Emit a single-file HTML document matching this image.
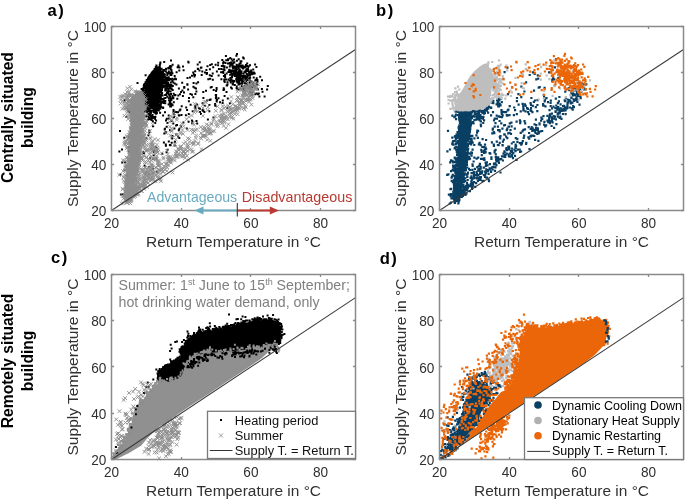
<!DOCTYPE html>
<html><head><meta charset="utf-8"><style>html,body{margin:0;padding:0;background:#fff;width:685px;height:499px;overflow:hidden}svg{display:block;filter:blur(0.3px)}</style></head>
<body>
<svg width="685" height="499" viewBox="0 0 685 499" font-family='"Liberation Sans", sans-serif'>
<rect width="685" height="499" fill="#fff"/>
<path d="M158.0 68.0L162.0 76.0L162.5 85.0L160.0 96.0L158.0 106.0L154.0 110.0L150.0 104.0L147.0 94.0L145.0 86.0L147.0 78.0L152.0 71.0Z" fill="#000" />
<path d="M225.7 85.5h2M191.0 75.8h2M206.0 72.9h2M172.4 97.8h2M205.7 74.0h2M205.0 90.7h2M235.8 66.4h2M201.3 71.6h2M217.6 75.5h2M176.6 67.2h2M180.7 106.2h2M224.3 79.4h2M229.4 77.9h2M177.1 112.2h2M166.2 73.1h2M174.4 79.1h2M204.0 72.4h2M187.6 62.5h2M217.1 65.2h2M190.9 120.4h2M167.7 115.6h2M187.8 114.1h2M178.3 128.7h2M169.1 73.2h2M236.5 79.2h2M175.4 84.5h2M203.8 105.8h2M200.7 75.0h2M170.3 104.5h2M165.1 88.4h2M193.0 74.4h2M214.7 105.7h2M181.9 96.0h2M215.6 87.9h2M168.1 100.4h2M177.8 115.2h2M178.3 70.4h2M230.9 88.4h2M185.2 107.5h2M223.7 81.9h2M195.4 91.5h2M202.3 110.8h2M210.8 64.3h2M191.2 123.2h2M165.7 126.7h2M215.1 95.0h2M197.1 82.3h2M219.0 102.2h2M208.8 75.3h2M193.2 74.7h2M168.7 85.7h2M222.6 61.7h2M177.4 65.5h2M225.1 79.4h2M171.6 105.3h2M223.1 89.4h2M187.3 61.8h2M170.6 71.7h2M178.7 110.4h2M170.0 106.5h2M194.2 106.2h2M222.1 71.9h2M203.4 112.1h2M222.4 73.1h2M198.7 62.2h2M172.5 110.0h2M167.3 68.1h2M235.4 66.9h2M186.5 77.9h2M170.3 103.9h2M167.5 78.2h2M179.9 126.6h2M175.3 112.1h2M175.1 125.4h2M227.5 59.3h2M177.8 130.2h2M172.3 82.4h2M180.1 92.1h2M191.0 94.8h2M215.1 96.8h2M171.4 80.9h2M186.1 110.1h2M176.0 125.0h2M164.8 144.5h2M178.3 115.6h2M165.1 94.6h2M179.4 109.6h2M182.0 66.5h2M223.3 81.1h2M222.7 88.2h2M172.8 114.1h2M186.3 84.3h2M179.0 94.2h2M214.8 94.9h2M232.7 72.6h2M183.2 87.0h2M194.4 94.1h2M170.0 93.9h2M180.5 115.1h2M220.1 72.3h2M192.4 86.7h2M210.7 87.1h2M166.0 80.6h2M208.6 100.1h2M189.4 94.1h2M173.4 128.6h2M191.4 121.5h2M223.5 70.2h2M220.4 79.2h2M237.2 78.7h2M201.6 103.2h2M230.0 87.4h2M170.4 75.1h2M166.5 123.1h2M222.3 69.5h2M167.9 118.6h2M172.2 98.3h2M211.8 79.7h2M170.6 121.0h2M214.1 104.0h2M173.7 76.1h2M233.4 62.3h2M223.3 79.5h2M191.7 111.3h2M164.9 145.8h2M214.1 105.5h2M200.4 67.6h2M164.7 132.2h2M189.0 77.5h2M177.9 88.5h2M168.4 73.0h2M198.9 108.8h2M205.4 70.1h2M164.9 71.5h2M231.4 70.5h2M182.4 122.6h2M202.3 91.9h2M193.5 76.6h2M170.7 142.8h2M211.7 73.6h2M224.0 75.0h2M223.6 95.9h2M197.1 69.1h2M182.6 70.2h2M195.4 83.6h2M183.0 92.4h2M186.5 84.8h2M209.6 99.5h2M199.9 67.7h2M199.1 112.1h2M189.6 104.7h2M168.9 145.0h2M224.1 77.2h2M173.0 117.1h2M225.9 67.4h2M232.2 82.1h2M226.0 85.5h2M227.0 59.2h2M209.2 78.7h2M212.2 67.2h2M196.7 64.4h2M192.2 72.4h2M187.9 101.2h2M194.2 71.3h2M215.1 90.9h2M225.5 91.9h2M209.2 65.0h2M178.4 67.6h2M193.6 87.8h2M181.2 82.7h2M164.9 69.2h2M177.3 95.5h2M164.0 112.2h2M195.0 88.5h2M192.6 83.1h2M194.0 75.0h2M163.9 128.7h2M198.1 108.2h2M202.4 98.0h2M175.6 72.2h2M165.1 87.3h2M194.4 108.3h2M183.1 87.7h2M169.1 130.0h2M206.5 66.2h2M183.4 87.5h2M222.5 89.9h2M215.6 89.2h2M170.8 137.0h2M195.5 121.1h2M181.4 90.5h2M235.2 66.9h2M164.9 90.4h2M214.9 98.3h2M173.9 111.8h2M210.7 76.0h2M165.0 120.4h2M178.3 138.1h2M187.1 89.4h2M207.3 79.3h2M198.5 70.5h2M209.7 87.6h2M170.5 70.3h2M172.3 123.4h2M188.0 98.0h2M212.7 90.1h2M192.3 97.2h2M196.8 68.8h2M238.0 83.3h2M201.5 110.1h2M173.7 145.5h2M206.9 119.6h2M208.4 105.0h2M152.7 151.1h2M167.8 141.6h2M187.6 121.7h2M171.5 136.0h2M196.2 123.4h2M165.6 152.3h2M212.4 117.6h2M175.3 134.4h2M226.4 108.2h2M206.1 100.5h2M177.2 136.6h2M202.2 111.0h2M200.0 114.1h2M215.7 100.7h2M171.2 138.5h2M166.6 149.8h2M165.0 132.5h2M173.9 141.7h2M228.9 103.2h2M208.3 111.2h2M221.8 100.6h2M221.6 103.0h2M215.7 101.4h2M226.8 98.6h2M169.2 130.2h2M216.0 99.7h2M152.8 151.9h2M149.2 157.7h2M155.1 147.1h2M163.7 129.6h2M185.8 128.6h2M161.3 153.7h2M184.9 115.2h2M217.5 98.2h2M155.3 158.4h2M195.9 104.4h2M142.4 152.3h2M165.3 94.7h2M167.2 89.8h2M168.4 84.7h2M166.3 80.0h2M162.9 98.4h2M169.0 101.8h2M167.6 104.4h2M163.7 83.1h2M171.5 97.6h2M167.4 84.2h2M173.7 83.5h2M169.4 67.7h2M161.3 88.0h2M170.8 104.4h2M169.1 87.4h2M163.2 62.0h2M170.4 99.9h2M169.9 82.4h2M169.2 106.5h2M170.0 60.5h2M167.4 84.7h2M169.1 79.1h2M163.6 80.6h2M171.8 85.9h2M170.2 99.3h2M163.3 81.2h2M169.4 102.2h2M176.3 98.7h2M171.7 90.1h2M169.1 96.6h2M166.1 93.3h2M167.8 98.3h2M160.5 88.2h2M168.5 95.1h2M174.4 95.1h2M169.2 65.9h2M169.9 98.5h2M166.3 75.0h2M167.8 80.2h2M171.3 78.8h2M165.0 77.7h2M167.6 88.7h2M169.8 99.8h2M171.5 95.9h2M169.7 105.0h2M164.4 97.9h2M167.9 94.2h2M165.1 68.7h2M168.2 91.2h2M171.4 73.2h2M168.6 66.9h2M161.6 102.6h2M169.8 69.2h2M174.1 78.4h2M167.1 86.4h2M165.0 80.5h2M170.6 89.1h2M169.8 72.8h2M172.6 79.5h2M169.9 105.4h2M173.8 95.0h2M165.8 118.7h2M172.7 93.8h2M172.8 102.2h2M169.5 74.9h2M166.0 84.7h2M166.9 93.1h2M166.7 92.1h2M165.7 77.6h2M166.3 96.7h2M175.0 79.3h2M170.8 86.5h2M169.6 91.5h2M169.8 79.4h2M172.5 111.9h2M168.6 103.2h2M166.6 91.4h2M164.3 103.2h2M162.3 81.7h2M169.4 88.6h2M164.1 95.1h2M166.0 93.1h2M170.3 66.4h2M167.1 82.8h2M167.8 71.6h2M167.5 68.5h2M165.3 83.4h2M171.6 64.7h2M170.4 84.9h2M168.5 95.6h2M239.6 61.2h2M238.5 84.3h2M233.5 70.7h2M234.2 71.2h2M224.9 56.1h2M252.2 69.5h2M236.0 76.6h2M241.1 83.5h2M244.7 76.6h2M225.2 60.3h2M234.4 75.9h2M266.8 86.1h2M254.2 94.3h2M249.5 84.3h2M236.1 78.3h2M239.0 88.8h2M233.2 74.6h2M222.9 75.9h2M249.5 85.1h2M238.1 81.8h2M252.9 73.0h2M241.5 82.1h2M227.5 79.5h2M261.0 80.3h2M238.7 77.8h2M255.5 93.5h2M236.1 77.8h2M239.1 80.3h2M251.6 83.2h2M235.5 74.2h2M235.0 73.2h2M260.9 88.9h2M243.5 71.7h2M242.4 76.8h2M224.1 76.4h2M246.4 76.9h2M236.6 77.7h2M263.6 96.4h2M242.4 91.2h2M242.5 86.7h2M236.5 73.9h2M238.7 80.6h2M250.1 85.9h2M246.9 79.1h2M231.8 74.3h2M235.5 73.8h2M248.4 86.2h2M253.9 87.5h2M233.4 74.4h2M242.3 75.8h2M236.1 69.4h2M249.5 88.7h2M240.4 79.0h2M235.0 75.4h2M249.1 91.6h2M234.1 70.9h2M242.9 66.4h2M231.0 77.2h2M248.7 81.2h2M230.3 72.7h2M230.7 77.5h2M252.5 73.8h2M233.7 75.9h2M248.3 73.5h2M236.4 82.5h2M237.6 84.4h2M241.1 81.3h2M239.7 80.6h2M236.1 80.7h2M226.5 82.2h2M244.7 76.1h2M252.3 82.9h2M251.3 87.4h2M246.4 85.7h2M253.3 86.2h2M251.6 86.2h2M236.1 79.2h2M235.9 86.6h2M230.0 62.5h2M222.5 65.9h2M245.2 80.3h2M240.9 76.1h2M237.2 78.6h2M239.7 74.9h2M251.2 92.5h2M239.8 65.5h2M256.4 84.7h2M247.5 78.6h2M229.4 71.9h2M231.2 75.6h2M230.2 71.1h2M246.0 83.5h2M250.7 72.3h2M241.1 82.0h2M236.5 89.3h2M214.6 64.7h2M237.0 75.5h2M243.6 77.2h2M242.1 57.5h2M247.1 70.6h2M238.1 77.4h2M237.6 89.6h2M248.7 75.7h2M240.9 86.1h2M244.8 78.5h2M245.3 80.3h2M241.8 77.9h2M248.7 79.8h2M239.2 76.6h2M236.0 53.9h2M229.8 82.5h2M242.2 81.1h2M240.3 73.2h2M242.0 76.9h2M244.6 85.9h2M235.1 73.4h2M243.4 82.9h2M238.4 78.5h2M239.6 77.1h2M234.0 72.4h2M243.2 80.7h2M231.7 65.9h2M242.5 88.0h2M248.3 88.3h2M245.9 78.3h2M220.8 66.1h2M233.8 85.1h2M246.6 85.6h2M251.2 72.8h2M235.8 81.5h2M236.7 79.2h2M227.5 79.8h2M228.8 63.1h2M231.4 66.6h2M236.4 73.4h2M233.0 72.7h2M239.6 83.6h2M266.1 89.5h2M253.5 86.6h2M236.9 82.0h2M226.5 84.4h2M256.5 81.4h2M231.6 70.3h2M246.9 68.6h2M245.0 65.1h2M231.6 63.2h2M235.2 68.6h2M249.1 78.1h2M247.6 79.3h2M256.9 89.2h2M241.3 88.8h2M239.0 80.1h2M245.4 87.5h2M248.6 82.9h2M233.1 70.4h2M243.6 90.1h2M239.6 79.5h2M255.1 80.1h2M249.9 87.8h2M231.4 80.4h2M231.2 80.9h2M258.4 96.5h2M238.7 71.2h2M252.7 77.4h2M238.6 79.5h2M238.1 70.7h2M246.4 79.9h2M255.7 78.3h2M240.9 83.7h2M237.7 72.3h2M230.0 70.7h2M236.8 77.5h2M231.9 84.0h2M244.3 78.1h2M241.5 65.6h2M229.3 58.1h2M234.9 69.7h2M229.1 74.7h2M235.4 55.8h2M243.8 85.8h2M255.5 83.4h2M233.3 81.0h2M245.5 83.7h2M256.9 94.3h2M244.8 86.6h2M230.2 79.7h2M242.4 80.1h2M243.2 88.3h2M238.2 78.7h2M237.3 81.1h2M244.7 70.6h2M257.8 93.4h2M246.5 87.3h2M239.1 77.9h2M249.6 92.5h2M241.0 67.2h2M261.5 91.8h2M232.6 81.8h2M240.0 73.6h2M250.1 70.5h2M231.4 64.5h2M231.7 84.6h2M235.2 79.3h2M231.9 67.7h2M223.4 67.7h2M245.9 74.0h2M250.6 81.4h2M215.9 71.5h2M237.9 79.6h2M254.1 80.4h2M228.9 80.6h2M240.5 71.3h2M221.3 60.0h2M237.8 75.3h2M233.3 74.8h2M251.8 85.2h2M225.6 73.6h2M243.2 77.5h2M239.6 62.8h2M236.4 72.3h2M245.0 80.7h2M235.4 74.5h2M234.0 70.8h2M245.0 79.9h2M233.6 74.1h2M250.9 94.9h2M239.1 71.8h2M232.6 70.5h2M247.9 86.3h2M245.2 82.6h2M255.5 80.1h2M240.4 79.4h2M244.9 79.8h2M235.6 87.9h2M234.4 70.1h2M252.9 72.5h2M227.0 60.3h2M249.7 89.0h2M240.7 65.9h2M228.2 70.1h2M245.0 70.2h2M222.2 62.9h2M249.0 72.1h2M229.7 71.9h2M237.3 65.7h2M235.7 77.8h2M235.7 64.7h2M229.4 64.5h2M242.5 73.6h2M224.5 62.9h2M244.4 66.9h2M247.3 70.1h2M233.2 62.6h2M223.4 66.6h2M238.3 66.1h2M246.7 71.0h2M232.4 71.6h2M246.1 68.7h2M238.1 73.5h2M231.9 71.0h2M233.4 66.4h2M240.4 61.3h2M239.6 62.9h2M243.3 77.0h2M254.1 64.5h2M237.8 65.3h2M232.1 74.1h2M245.4 71.0h2M223.4 70.1h2M245.4 70.7h2M237.5 67.5h2M230.3 73.8h2M222.0 65.6h2M236.4 75.7h2M244.0 75.7h2M239.3 66.5h2M235.2 71.8h2M241.0 67.5h2M208.9 69.2h2M256.4 80.0h2M248.1 73.6h2M223.5 66.6h2M234.1 72.7h2M242.4 66.9h2M241.8 67.6h2M240.3 71.9h2M230.2 64.8h2M234.6 67.4h2M237.6 68.4h2M246.9 75.6h2M228.4 63.4h2M253.7 73.6h2M249.1 75.6h2M220.2 69.0h2M244.7 72.6h2M259.2 76.8h2M232.2 63.3h2M246.5 79.5h2M234.4 69.1h2M228.8 66.5h2M239.8 66.8h2M242.8 58.5h2M250.8 74.3h2M237.7 59.3h2M246.4 66.0h2M231.6 60.8h2M232.9 67.6h2M227.0 63.4h2M227.4 72.1h2M247.7 66.6h2M228.6 69.7h2M238.5 63.7h2M246.2 63.4h2M235.9 60.8h2M249.9 74.3h2M249.0 65.2h2M241.6 66.5h2M222.7 66.2h2M242.0 68.4h2M239.1 72.0h2M235.8 74.9h2M217.9 68.9h2M233.0 59.6h2M255.4 66.9h2M247.7 71.6h2M230.6 59.3h2M243.9 67.6h2M217.2 62.7h2M238.8 69.6h2M232.3 67.9h2M156.9 95.1h2M149.4 78.1h2M155.7 84.3h2M148.0 118.3h2M157.9 98.3h2M156.1 108.4h2M157.6 108.5h2M146.7 119.5h2M148.6 75.7h2M152.7 110.0h2M150.9 81.3h2M147.5 86.2h2M156.3 79.0h2M156.8 103.0h2M155.9 90.9h2M153.9 98.3h2M156.5 100.4h2M152.9 117.0h2M161.7 76.9h2M147.7 88.7h2M151.2 80.8h2M151.1 90.1h2M147.2 86.5h2M152.3 99.7h2M142.0 101.2h2M160.1 91.9h2M149.5 101.6h2M156.3 88.0h2M147.5 79.9h2M147.4 119.6h2M148.4 130.6h2M152.4 77.2h2M153.7 89.2h2M152.1 93.5h2M144.9 100.4h2M146.7 101.8h2M153.4 99.4h2M149.8 100.1h2M152.8 70.8h2M146.9 113.8h2M145.2 110.4h2M152.3 77.9h2M155.8 70.3h2M151.6 118.3h2M151.2 95.6h2M167.6 91.6h2M152.1 88.7h2M160.6 94.5h2M159.5 88.3h2M155.4 81.2h2M146.0 101.0h2M148.2 108.7h2M157.3 83.3h2M160.2 79.2h2M151.9 96.6h2M148.3 107.0h2M150.4 88.1h2M151.9 81.8h2M150.3 95.9h2M152.6 82.8h2M152.8 117.6h2M146.1 111.1h2M157.2 97.8h2M149.6 76.1h2M149.5 93.4h2M143.7 84.0h2M149.9 104.1h2M151.3 81.8h2M150.7 81.3h2M154.0 104.5h2M154.1 94.1h2M148.0 96.4h2M153.4 88.2h2M147.3 105.5h2M147.3 84.0h2M151.9 106.7h2M158.7 102.4h2M155.9 102.7h2M150.6 104.8h2M156.0 88.4h2M154.8 101.7h2M149.2 113.0h2M152.6 82.5h2M155.2 84.5h2M154.9 95.2h2M146.3 81.3h2M152.7 84.7h2M144.1 105.6h2M148.7 75.6h2M155.5 110.8h2M152.8 94.8h2M145.4 93.6h2M150.0 80.9h2M153.5 106.9h2M152.3 92.1h2M150.8 104.2h2M158.9 90.4h2M144.8 111.0h2M159.4 62.4h2M147.4 135.3h2M147.8 81.6h2M150.6 120.1h2M155.4 107.5h2M161.2 82.8h2M152.0 126.2h2M159.2 63.6h2M152.3 100.5h2M151.4 106.1h2M154.4 116.8h2M155.7 82.4h2M151.7 98.7h2M152.5 101.7h2M147.7 109.5h2M157.6 98.5h2M154.7 83.5h2M150.7 84.5h2M157.9 83.5h2M143.1 112.1h2M147.9 90.5h2M152.8 97.6h2M151.8 94.5h2M161.4 73.0h2M156.7 80.3h2M149.3 99.9h2M154.2 100.0h2M149.0 105.5h2M153.2 106.3h2M149.9 91.8h2M154.3 76.5h2M150.6 111.7h2M150.6 116.2h2M151.1 100.0h2M154.0 83.6h2M149.2 110.7h2M148.1 100.0h2M162.1 80.1h2M158.7 91.8h2M146.7 103.0h2M140.2 108.4h2M149.3 115.1h2M154.4 82.3h2M155.8 73.4h2M155.7 77.8h2M154.8 103.5h2M163.3 85.5h2M147.9 108.0h2M159.6 96.4h2M149.0 85.5h2M151.7 97.1h2M151.5 105.2h2M149.7 95.0h2M152.4 90.3h2M153.2 101.3h2M154.2 112.8h2M158.1 88.3h2M145.7 112.1h2M154.7 74.0h2M154.4 89.9h2M149.9 86.3h2M154.3 91.2h2M162.4 74.5h2M160.8 102.1h2M142.4 89.9h2M138.7 97.5h2M150.5 99.3h2M150.3 110.9h2M150.8 103.9h2M147.8 77.3h2M141.4 91.7h2M152.1 89.2h2M151.8 89.7h2M151.2 107.4h2M145.3 101.6h2M143.9 103.6h2M147.0 85.9h2M149.3 81.9h2M152.0 91.7h2M154.0 100.9h2M152.1 100.1h2M152.0 79.2h2M154.6 107.8h2M153.3 101.6h2M152.8 110.0h2M151.7 91.9h2M152.5 84.4h2M151.7 97.8h2M148.4 82.5h2M148.1 132.7h2M150.0 95.7h2M155.8 78.0h2M145.8 95.0h2M147.3 93.7h2M160.1 98.9h2M146.0 85.1h2M157.0 97.6h2M148.0 104.4h2M152.2 82.9h2M153.8 72.8h2M159.9 103.5h2M150.6 84.7h2M153.9 89.8h2M141.7 93.4h2M160.4 99.6h2M153.2 109.0h2M158.2 91.8h2M158.2 76.9h2M152.8 91.1h2M145.4 92.8h2M153.5 106.0h2M149.9 82.9h2M158.2 85.3h2M157.8 100.6h2M154.3 72.7h2M147.1 92.4h2M158.6 77.1h2M157.2 104.3h2M158.9 76.6h2M157.4 88.2h2M155.0 70.9h2M154.0 77.1h2M141.5 94.1h2M152.2 102.7h2M154.8 113.4h2M155.9 82.2h2M144.3 104.2h2M150.3 81.5h2M158.6 88.0h2M155.6 99.0h2M150.3 97.5h2M149.4 80.3h2M152.4 101.8h2M149.1 76.0h2M152.3 88.1h2M154.3 83.1h2M162.2 107.6h2M159.1 112.7h2M152.4 100.3h2M160.2 82.4h2M153.9 91.2h2M151.7 79.7h2M150.3 104.8h2M155.6 79.0h2M164.0 80.8h2M151.0 87.9h2M155.3 103.8h2M152.5 91.5h2M158.8 83.3h2M156.2 106.4h2M156.4 88.6h2M147.3 83.5h2M149.8 84.7h2M150.0 89.3h2M146.3 82.3h2M159.7 104.5h2M149.1 93.0h2M152.3 97.0h2M159.6 73.9h2M138.5 109.4h2M152.5 93.0h2M158.3 74.0h2M153.2 102.1h2M157.0 100.2h2M146.3 87.8h2M159.7 72.4h2M148.6 102.5h2M154.7 105.8h2M145.6 103.8h2M149.8 102.9h2M151.5 86.1h2M151.3 107.9h2M151.8 86.4h2M147.3 98.8h2M150.7 94.5h2M151.5 74.0h2M151.0 107.4h2M158.1 74.3h2M156.6 93.1h2M151.6 116.8h2M152.1 72.1h2M160.2 94.5h2M153.8 98.4h2M145.7 95.1h2M149.7 116.7h2M154.7 103.4h2M148.3 100.9h2M159.2 108.7h2M153.3 95.0h2M160.7 95.2h2M156.2 84.3h2M152.9 101.5h2M145.8 98.5h2M149.6 112.2h2M160.6 85.1h2M161.1 85.0h2M151.5 93.7h2M151.9 121.5h2M159.5 100.5h2M150.7 102.1h2M143.2 100.3h2M157.6 93.0h2M149.6 82.4h2M142.9 108.2h2M149.8 91.3h2M148.0 99.7h2M151.4 97.5h2M158.1 76.0h2M160.0 89.5h2M141.7 91.1h2M157.7 83.2h2M152.4 103.2h2M157.1 83.7h2M149.3 97.1h2M152.6 91.3h2M155.0 86.7h2M152.3 101.8h2M146.1 98.7h2M154.0 77.7h2M152.2 88.8h2M148.9 80.5h2M162.1 108.0h2M148.9 83.4h2M152.4 106.7h2M158.4 76.9h2M155.5 97.9h2M154.8 89.4h2M151.4 75.7h2M156.0 94.8h2M151.8 101.6h2M151.3 82.4h2M154.0 92.6h2M147.5 98.5h2M149.0 87.8h2M158.8 65.1h2M163.5 75.2h2M147.8 101.0h2M155.1 86.9h2M161.0 79.2h2M152.3 92.9h2M149.5 90.2h2M153.1 103.5h2M144.7 102.7h2M154.6 79.7h2M148.7 101.6h2M147.3 89.3h2M147.4 104.0h2M153.1 107.3h2M147.2 82.1h2M149.8 93.8h2M149.4 99.8h2M153.9 118.6h2M156.4 88.9h2M149.2 105.5h2M147.6 98.7h2M160.3 107.2h2M157.8 79.7h2M146.6 103.1h2M148.3 88.6h2M153.0 82.5h2M144.7 108.9h2M152.7 83.8h2M148.2 104.7h2M154.9 109.6h2M150.1 83.5h2M150.3 98.8h2M153.1 107.4h2M144.4 84.6h2M156.9 73.1h2M149.9 87.3h2M142.0 100.5h2M156.2 72.0h2M161.0 77.0h2M149.4 119.1h2M159.1 89.8h2M145.7 80.1h2M158.6 67.3h2M142.5 96.0h2M147.2 96.4h2M146.0 91.9h2M155.7 93.9h2M153.5 89.4h2M162.8 74.5h2M142.2 96.3h2M157.1 85.4h2M153.9 83.7h2M149.7 96.4h2M144.5 123.4h2M150.6 83.3h2M158.8 106.6h2M167.1 78.1h2M159.8 99.6h2M150.6 99.6h2M148.4 92.1h2M155.3 89.2h2M150.0 97.4h2M152.9 77.7h2M142.1 93.1h2M148.5 83.5h2M157.9 79.8h2M159.2 82.0h2M153.2 76.8h2M156.1 103.3h2M159.8 78.1h2M156.3 89.8h2M154.9 86.4h2M153.8 92.4h2M152.5 100.6h2M155.2 77.6h2M156.6 83.9h2M153.9 100.5h2M153.3 112.2h2M158.7 86.7h2M147.2 86.2h2M156.1 80.2h2M147.2 91.3h2M153.0 96.3h2M156.0 80.2h2M152.8 95.2h2M157.3 94.5h2M154.1 79.4h2M151.8 90.6h2M154.0 103.6h2M147.5 81.3h2M157.0 86.8h2M150.0 96.0h2M151.1 99.9h2M157.1 76.8h2M153.4 87.6h2M145.3 93.9h2M152.0 107.2h2M158.7 97.2h2M148.1 80.7h2M157.9 96.6h2M149.5 98.6h2M158.4 91.4h2M152.5 77.9h2M155.2 87.5h2M144.9 93.0h2M153.1 98.3h2M146.5 92.5h2M158.6 79.7h2M151.7 103.1h2M154.6 85.7h2M149.8 101.9h2M147.6 79.6h2M154.2 103.3h2M158.4 78.5h2M160.5 74.0h2M148.9 90.0h2M148.6 105.6h2M156.3 86.7h2M154.3 82.7h2M152.2 96.2h2M144.2 105.4h2M145.8 100.1h2M155.4 98.0h2M151.8 91.6h2M148.5 114.3h2M157.9 105.7h2M150.9 85.0h2M153.8 109.0h2M149.0 86.9h2M156.1 77.6h2M157.0 87.5h2M143.2 99.2h2M147.5 111.4h2M155.7 74.3h2M155.1 120.4h2M156.4 83.8h2M173.8 95.2h2M159.0 81.6h2M155.4 91.1h2M149.6 103.5h2M153.3 98.9h2M157.4 81.0h2M147.7 98.5h2M152.2 73.3h2M150.3 95.2h2M149.7 101.2h2M153.7 107.2h2M159.0 88.1h2M154.7 94.5h2M166.0 79.7h2M147.7 101.1h2M149.7 110.6h2M158.8 83.5h2M152.5 90.2h2M157.7 80.3h2M156.4 95.3h2M153.1 83.6h2M156.4 76.1h2M156.6 86.6h2M155.7 107.1h2M153.5 82.0h2M143.3 104.5h2M153.1 97.0h2M153.2 91.4h2M152.5 94.5h2M144.9 96.9h2M152.3 98.4h2M149.2 91.5h2M148.5 85.9h2M149.3 114.7h2M150.3 107.8h2M161.2 99.1h2M153.6 109.0h2M155.9 92.0h2M152.3 87.5h2M159.6 84.0h2M152.5 88.5h2M146.5 102.7h2M150.0 112.8h2M149.9 88.2h2M158.5 79.1h2M151.3 103.5h2M150.8 76.2h2M145.3 98.9h2M155.3 95.7h2M157.4 103.4h2M153.2 72.7h2M150.4 83.5h2M147.5 90.9h2M156.0 110.4h2M154.3 99.8h2M154.7 67.2h2M157.9 104.9h2M150.2 119.5h2M162.1 115.4h2M150.9 101.3h2M155.6 82.4h2M153.7 101.2h2M158.7 86.3h2M146.2 92.7h2M156.2 102.7h2M152.5 91.1h2M154.0 118.7h2M148.7 92.0h2M149.7 83.6h2M162.7 102.9h2M148.3 103.1h2M145.1 108.8h2M148.8 100.3h2M139.1 100.8h2M154.0 89.7h2M159.1 85.5h2M154.2 101.0h2M154.5 80.9h2M144.1 93.1h2M148.4 83.2h2M154.9 95.0h2M154.1 98.8h2M152.0 77.0h2M146.3 93.5h2M153.3 98.6h2M153.2 106.4h2M152.5 96.3h2M161.0 90.1h2M156.8 75.3h2M156.0 97.4h2M158.1 91.3h2M152.6 84.3h2M160.3 82.0h2M152.2 95.6h2M149.0 103.5h2M151.2 104.2h2M149.1 93.9h2M159.0 81.2h2M159.4 87.6h2M152.7 96.4h2M149.3 107.0h2M160.3 75.9h2M160.7 82.8h2M148.1 90.5h2M152.7 93.4h2M155.5 75.3h2M151.6 98.2h2M157.5 94.5h2M150.3 116.5h2M156.9 98.5h2M145.2 95.5h2M152.8 108.0h2M151.3 104.6h2M151.5 115.0h2M151.7 91.7h2M143.0 93.9h2M158.2 107.5h2M150.6 73.6h2M152.7 88.9h2M143.5 103.7h2M152.1 71.9h2M149.9 83.4h2M154.4 86.4h2M159.9 73.9h2M146.0 93.1h2M152.6 89.5h2M155.2 111.4h2M150.1 104.3h2M155.4 73.4h2M156.5 96.8h2M151.8 105.5h2M148.2 99.1h2M155.0 78.2h2M150.9 85.6h2M149.2 104.8h2M149.3 83.7h2M154.5 80.4h2M151.7 102.6h2M142.9 94.8h2M153.2 83.3h2M162.9 87.0h2M150.1 80.1h2M158.8 79.0h2M151.6 89.5h2M143.8 87.5h2M141.0 105.1h2M148.0 100.9h2M155.4 79.6h2M153.0 108.6h2M154.1 95.4h2M149.4 80.9h2M155.2 101.1h2M161.6 95.5h2M154.1 88.0h2M149.5 99.1h2M150.4 79.5h2M144.5 82.3h2M147.7 84.2h2M153.0 83.0h2M149.8 101.7h2M151.2 90.0h2M150.4 90.9h2M156.7 93.8h2M156.7 93.7h2M152.1 93.0h2M155.2 106.1h2M145.1 93.0h2M146.2 106.9h2M149.4 105.6h2M155.7 97.2h2M143.6 90.7h2M160.5 83.8h2M150.2 104.3h2M155.4 65.6h2M157.2 87.7h2M146.7 109.4h2M143.4 90.8h2M149.7 94.5h2M146.8 101.5h2M152.7 80.1h2M155.3 91.0h2M149.4 96.9h2M155.2 113.7h2M164.3 77.3h2M151.3 90.6h2M155.7 94.6h2M156.9 89.2h2M157.3 88.5h2M160.0 98.5h2M153.3 75.6h2M146.1 85.2h2M153.5 102.3h2M150.2 95.8h2M149.4 80.4h2M155.9 113.0h2M155.9 98.5h2M153.0 112.3h2M152.8 96.3h2M155.5 81.4h2M154.4 72.3h2M156.4 84.0h2M155.9 77.9h2M155.1 83.1h2M156.5 103.9h2M156.6 87.0h2M147.2 85.6h2M157.4 101.1h2M154.5 81.7h2M156.8 93.3h2M146.0 100.0h2M152.8 95.6h2M158.2 82.4h2M144.0 100.5h2M157.6 102.6h2M156.1 81.6h2M142.0 107.3h2M154.7 107.1h2M146.8 91.8h2M149.8 79.0h2M151.6 83.5h2M154.2 78.5h2M151.7 99.3h2M160.1 77.0h2M165.8 85.6h2M145.5 86.6h2M153.4 93.6h2M156.5 103.6h2M158.1 88.1h2M155.7 88.1h2M152.0 75.0h2M154.4 100.3h2M152.9 77.0h2M152.3 77.8h2M157.0 77.6h2M145.6 80.5h2M158.2 78.3h2M159.4 91.9h2M157.7 81.4h2M155.4 81.5h2M145.2 100.2h2M161.7 80.0h2M158.8 80.0h2M167.4 73.5h2M153.8 100.7h2M148.7 104.3h2M159.6 69.7h2M151.7 88.6h2M145.6 103.6h2M154.8 87.0h2M160.0 75.9h2M156.3 75.0h2M160.3 92.2h2M138.4 104.0h2M145.9 82.4h2M152.5 89.4h2M157.8 110.6h2M156.9 96.8h2M144.2 84.0h2M152.2 103.1h2M156.6 81.5h2M153.1 85.1h2M152.6 77.9h2M157.7 89.0h2M148.7 98.9h2M152.7 109.0h2M153.8 101.3h2M143.2 90.7h2M152.4 99.1h2M160.1 83.5h2M150.7 95.4h2M150.5 99.2h2M155.8 97.3h2M145.3 104.5h2M156.4 90.5h2M151.9 100.6h2M153.9 110.2h2M150.1 88.7h2M147.7 97.2h2M144.3 93.1h2M159.3 73.2h2M144.6 91.2h2M164.3 90.5h2M143.6 88.1h2M154.7 103.9h2M147.0 93.4h2M148.9 102.6h2M156.6 79.2h2M157.6 92.6h2M155.8 77.9h2M150.7 96.8h2M151.4 76.2h2M152.6 92.4h2M146.8 88.8h2M155.0 75.3h2M159.3 96.8h2M147.2 108.9h2M150.2 105.0h2M147.1 98.1h2M151.1 95.8h2M152.3 104.7h2M151.5 108.1h2M146.9 105.8h2M152.4 108.0h2M155.6 66.6h2M146.8 88.6h2M157.6 95.6h2M150.6 93.3h2M146.9 98.0h2M135.1 97.1h2M156.8 100.0h2M149.8 102.3h2M142.0 101.4h2M155.1 86.8h2M149.0 108.0h2M151.9 76.0h2M149.9 110.6h2M147.0 93.2h2M156.3 87.5h2M158.5 77.4h2M151.9 81.2h2M147.9 109.4h2M151.0 89.9h2M155.8 107.0h2M157.7 94.6h2M156.8 104.8h2M148.8 108.3h2M144.8 108.9h2M164.3 100.9h2M152.5 90.7h2M156.6 99.2h2M156.7 85.3h2M161.1 93.0h2M153.5 100.0h2M155.1 75.7h2M160.5 76.8h2M158.9 95.1h2M155.5 76.4h2M155.9 73.2h2M143.5 86.9h2M152.0 83.1h2M154.8 97.4h2M147.3 105.1h2M152.6 97.2h2M152.9 78.2h2M154.2 123.0h2M159.5 95.2h2M160.1 80.7h2M148.8 93.5h2M151.6 85.7h2M158.6 87.9h2M147.5 100.3h2M154.9 91.0h2M152.8 85.1h2M151.3 101.3h2M151.0 76.1h2M149.8 106.7h2M153.6 88.3h2M148.0 96.9h2M155.9 67.7h2M155.7 81.1h2M160.1 79.6h2M143.0 84.7h2M155.9 97.4h2M154.2 73.7h2M162.6 86.2h2M150.6 81.2h2M140.9 104.9h2M151.3 101.4h2M154.5 92.7h2M155.6 83.1h2M142.0 112.7h2M150.3 117.6h2M145.0 111.0h2M158.6 87.7h2M156.6 85.9h2M149.2 112.9h2M141.5 96.7h2M163.0 102.4h2M152.2 110.5h2M162.3 81.2h2M146.3 81.6h2M145.4 99.1h2M153.0 98.3h2M155.7 77.3h2M153.8 88.0h2M154.3 110.1h2M150.0 91.0h2M152.2 77.0h2M151.5 101.4h2M149.7 98.9h2M149.6 76.6h2M151.4 80.2h2M155.1 82.9h2M160.6 68.8h2M158.6 89.4h2M151.7 110.4h2M159.8 96.9h2M147.5 116.3h2M162.5 100.5h2M148.3 96.2h2M156.9 82.2h2M150.1 91.8h2M150.3 87.6h2M156.4 99.6h2M156.2 96.8h2M144.5 85.5h2M147.8 108.8h2M150.0 102.4h2M149.2 103.8h2M157.0 99.7h2M157.2 84.2h2M148.8 81.7h2M151.2 90.6h2M156.3 93.8h2M153.6 89.8h2M150.5 88.4h2M155.2 92.4h2M152.3 89.2h2M144.3 96.2h2M150.8 81.5h2M158.4 83.3h2M152.3 100.1h2M155.0 84.5h2M146.2 108.5h2M148.8 86.1h2M152.6 95.3h2M145.6 99.4h2M153.4 86.5h2M149.9 96.1h2M156.8 83.1h2M144.7 89.9h2M152.2 91.2h2M153.2 88.0h2M148.2 83.8h2M160.4 73.8h2M150.6 80.5h2M154.7 99.2h2M156.0 82.1h2M154.7 79.7h2M152.8 105.8h2M162.5 79.4h2M150.1 87.7h2M157.3 92.3h2M149.5 100.0h2M152.2 95.4h2M148.0 99.7h2M159.6 79.7h2M152.5 106.8h2M153.5 91.7h2M153.1 98.4h2M153.8 104.9h2M142.3 113.6h2M152.6 97.1h2M150.3 83.8h2M142.3 88.6h2M145.3 116.6h2M150.5 85.5h2M154.1 107.1h2M149.6 79.4h2M151.1 104.9h2M152.2 78.9h2M157.9 100.7h2M153.4 117.3h2M147.5 103.4h2M154.5 75.9h2M155.0 103.9h2M158.1 90.4h2M159.8 106.3h2M150.7 83.2h2M155.9 89.1h2M152.4 81.8h2M152.4 100.5h2M146.5 81.6h2M144.5 115.8h2M147.8 87.1h2M149.3 80.7h2M153.6 89.6h2M154.1 84.4h2M152.7 88.0h2M153.2 103.1h2M153.3 109.0h2M156.9 78.3h2M152.3 78.0h2M153.5 85.4h2M155.7 68.5h2M151.0 82.4h2M155.1 71.6h2M150.7 83.6h2M153.0 86.5h2M167.9 80.2h2M155.7 83.9h2M156.6 77.1h2M151.1 79.4h2M156.6 82.9h2M157.0 85.0h2M152.4 74.4h2M152.8 83.2h2M149.1 88.6h2M150.3 88.7h2M154.1 79.0h2M149.6 82.0h2M153.5 74.4h2M153.8 83.0h2M155.2 77.1h2M157.8 71.5h2M152.4 73.3h2M161.7 77.7h2M158.9 79.4h2M158.6 85.4h2M157.6 87.9h2M157.0 69.3h2M155.2 87.0h2M162.8 76.4h2M153.9 79.8h2M158.8 70.7h2M158.1 77.4h2M148.2 83.2h2M161.3 79.9h2M157.8 75.0h2M157.9 67.2h2M158.5 81.6h2M160.5 73.3h2M154.8 85.3h2M150.0 81.2h2M160.8 82.6h2M153.6 80.5h2M156.6 75.4h2M168.7 87.3h2M156.9 74.9h2M163.0 70.0h2M158.1 89.5h2M163.3 85.8h2M152.1 82.5h2M160.1 76.1h2M151.0 74.6h2M162.2 70.2h2M160.8 74.2h2M158.1 72.8h2M162.4 78.9h2M159.3 85.3h2M154.3 74.0h2M156.3 69.1h2M154.4 70.4h2M147.9 80.4h2M148.2 80.8h2M151.1 80.4h2M151.2 85.8h2M156.5 87.3h2M158.6 80.1h2M154.9 80.9h2M161.2 80.3h2M159.8 75.8h2M152.6 77.2h2M154.9 81.2h2M162.1 71.9h2M156.0 75.5h2M151.0 83.5h2M152.0 73.2h2M157.6 80.6h2M153.7 82.7h2M158.6 67.5h2M155.6 81.2h2M151.6 80.4h2M148.0 80.8h2M153.2 76.6h2M157.9 78.5h2M151.6 86.7h2M154.0 79.0h2M152.8 88.3h2M154.1 80.9h2M154.8 76.2h2M155.9 82.8h2M162.2 78.8h2M146.3 81.3h2M156.1 84.2h2M150.8 78.5h2M152.2 73.7h2M161.2 81.0h2M161.5 86.5h2M157.1 85.9h2M158.5 88.3h2M165.0 79.0h2M165.1 77.4h2M148.2 81.4h2M149.8 78.8h2M152.2 78.1h2M159.1 81.4h2M162.4 76.9h2M162.7 74.1h2M155.8 71.4h2M154.0 78.0h2M155.8 79.6h2M153.6 79.7h2M156.3 81.6h2M159.3 77.0h2M156.2 90.8h2M151.1 75.5h2M154.0 92.8h2M155.8 80.7h2M147.7 84.2h2M154.1 76.4h2M148.6 82.4h2M153.6 69.1h2M146.4 82.8h2M152.3 79.1h2M156.8 81.6h2M154.6 77.9h2M157.6 98.4h2M158.7 72.6h2M159.5 82.3h2M156.0 83.9h2M160.5 85.5h2M157.1 81.7h2M153.8 88.0h2M161.1 74.5h2M151.8 83.1h2M154.9 69.3h2M157.6 78.4h2M161.1 81.5h2M160.1 75.5h2M159.8 75.2h2M160.9 75.7h2M143.1 86.1h2M148.7 84.1h2M162.4 82.3h2M160.2 71.8h2M155.3 80.2h2M152.9 73.0h2M152.4 81.1h2M157.3 86.9h2M143.4 87.6h2M150.6 77.1h2M154.4 80.1h2M155.1 78.6h2M155.0 76.6h2M157.7 82.8h2M154.3 82.3h2M153.4 80.3h2M157.2 80.1h2M154.4 81.4h2M155.8 77.5h2M153.0 76.4h2M158.2 78.5h2M156.0 94.5h2M162.7 70.9h2M156.6 79.1h2M161.6 80.1h2M157.8 77.5h2M152.4 85.8h2M153.9 84.9h2M153.1 73.1h2M152.1 86.5h2M156.6 84.7h2M157.4 78.7h2M157.1 87.7h2M153.5 86.5h2M153.9 75.5h2M156.9 83.0h2M153.5 70.2h2M160.0 78.8h2M151.5 79.0h2M163.3 76.9h2M152.9 75.6h2M158.8 67.5h2M157.0 81.6h2M159.6 73.0h2M155.5 75.2h2M159.0 88.0h2M154.3 73.4h2M149.0 78.4h2M151.4 72.5h2M151.7 80.4h2M158.3 86.1h2M149.4 83.2h2M154.7 75.1h2M154.0 90.4h2M153.2 84.7h2M155.8 78.3h2M152.7 82.0h2M167.8 77.2h2M160.4 74.6h2M160.0 72.4h2M162.9 83.3h2M149.3 82.9h2M156.0 79.0h2M154.5 76.1h2M151.0 77.3h2M148.1 88.3h2M149.6 91.5h2M157.7 79.2h2M157.3 92.4h2M158.3 78.1h2M153.6 86.1h2M155.5 83.4h2M159.1 89.8h2M159.8 85.7h2M157.4 75.4h2M154.1 79.5h2M159.3 83.6h2M152.3 76.0h2M161.3 74.9h2M161.4 78.9h2M151.8 75.7h2M151.0 75.3h2M152.2 83.1h2M161.7 81.1h2M159.8 73.1h2M162.2 78.0h2M162.3 80.9h2M160.1 79.9h2M165.9 78.3h2M152.2 81.7h2M157.7 80.5h2M156.8 91.4h2M148.9 89.9h2M151.1 89.1h2M153.6 75.7h2M156.5 70.1h2M159.5 83.2h2M153.2 86.1h2M155.5 83.2h2M163.0 79.6h2M153.7 84.3h2M142.6 88.0h2M157.3 82.9h2M156.3 72.5h2M160.7 88.3h2M164.9 85.3h2M150.7 88.7h2M149.9 84.3h2M152.3 91.1h2M153.2 81.4h2M163.9 74.4h2M152.6 85.3h2M152.0 81.1h2M157.5 68.5h2M156.0 75.1h2M149.4 86.3h2M162.5 85.4h2M154.9 79.3h2M148.2 90.9h2M151.9 83.3h2M159.1 83.1h2M155.7 79.6h2M144.6 88.3h2M148.7 79.0h2M149.4 78.5h2M153.2 86.4h2M150.1 75.0h2M156.1 78.1h2M152.8 80.0h2M147.9 88.4h2M159.9 78.0h2M152.3 75.6h2M156.2 79.4h2M159.1 69.3h2M155.7 81.3h2M154.9 74.2h2M157.2 71.2h2M156.5 75.4h2M147.8 89.7h2M159.9 84.1h2M143.5 86.0h2M158.0 87.8h2M158.2 85.1h2M152.8 82.2h2M154.7 72.0h2M164.3 89.1h2M160.9 77.3h2M159.2 80.1h2M157.7 81.4h2M153.9 87.2h2M165.8 87.8h2M150.9 80.0h2M162.2 80.2h2M158.7 67.0h2M160.5 79.8h2M158.4 78.7h2M158.7 70.8h2M152.2 72.4h2M147.2 85.6h2M153.9 71.3h2M160.9 79.1h2M154.9 81.7h2M149.6 78.3h2M159.6 78.7h2M157.1 76.2h2M150.1 77.2h2M157.4 79.5h2M158.5 79.8h2M158.2 70.5h2M152.3 71.6h2M155.3 86.6h2M165.4 82.6h2M156.6 79.1h2M152.8 78.4h2M150.6 88.6h2M147.8 83.7h2M154.2 95.4h2M161.8 83.1h2M156.5 85.4h2M154.9 79.5h2M163.3 77.0h2M155.0 78.8h2M155.8 81.4h2M152.9 72.8h2M147.3 90.4h2M157.3 75.6h2M155.0 77.7h2M154.9 79.6h2M142.8 86.1h2M140.6 89.0h2M145.0 97.3h2M144.4 96.0h2M136.5 83.0h2M144.8 91.3h2M143.8 84.3h2M144.8 84.9h2M151.4 95.0h2M144.6 75.2h2M146.6 88.9h2M146.7 90.5h2M148.3 167.1h2M163.3 133.4h2M162.9 142.4h2M142.9 153.1h2M144.8 172.2h2M151.7 168.7h2M156.0 171.7h2M143.7 165.8h2M169.6 145.2h2M152.1 158.9h2M151.8 121.3h2M152.8 155.2h2M148.0 174.3h2M139.3 137.8h2M145.4 138.3h2M126.1 175.8h2M133.6 173.2h2M126.9 109.3h2M130.4 155.6h2M130.5 107.0h2M123.8 100.0h2M128.3 138.2h2M123.3 137.7h2M127.6 147.0h2M128.5 111.5h2M124.3 194.9h2M129.4 164.8h2M126.0 190.3h2M125.8 180.7h2M130.7 141.7h2M123.6 169.8h2M127.8 151.8h2M138.4 144.4h2M124.0 162.3h2M119.4 174.4h2M128.9 179.3h2M126.1 189.7h2M119.9 194.6h2M129.2 112.0h2M131.8 114.2h2M118.4 151.4h2M128.4 136.4h2M127.1 176.9h2M129.8 109.9h2M121.0 149.5h2M121.2 162.4h2M125.8 187.2h2M125.3 166.5h2M119.0 130.9h2M127.3 173.9h2M122.0 194.2h2M131.2 141.9h2M127.3 111.6h2M125.4 117.1h2M134.4 102.6h2" stroke="#000" stroke-width="2" fill="none"/>
<path d="M128.5 170.0L129.5 160.0L130.3 150.0L131.3 135.0L132.0 125.0L132.5 110.0L133.0 102.0L135.0 96.0L136.5 92.0L139.5 92.0L142.5 97.0L143.0 110.0L142.5 125.0L140.5 138.0L138.8 160.0L136.5 175.0Z" fill="#909090" />
<path d="M138.7 135.9l3.6 3.6m0 -3.6l-3.6 3.6M136.7 113.0l3.6 3.6m0 -3.6l-3.6 3.6M131.3 119.9l3.6 3.6m0 -3.6l-3.6 3.6M130.0 168.1l3.6 3.6m0 -3.6l-3.6 3.6M132.3 173.5l3.6 3.6m0 -3.6l-3.6 3.6M126.1 169.1l3.6 3.6m0 -3.6l-3.6 3.6M139.9 114.9l3.6 3.6m0 -3.6l-3.6 3.6M140.3 118.0l3.6 3.6m0 -3.6l-3.6 3.6M130.1 165.5l3.6 3.6m0 -3.6l-3.6 3.6M135.3 124.6l3.6 3.6m0 -3.6l-3.6 3.6M136.4 114.6l3.6 3.6m0 -3.6l-3.6 3.6M129.8 113.5l3.6 3.6m0 -3.6l-3.6 3.6M133.0 185.2l3.6 3.6m0 -3.6l-3.6 3.6M135.0 134.5l3.6 3.6m0 -3.6l-3.6 3.6M136.0 128.0l3.6 3.6m0 -3.6l-3.6 3.6M137.0 152.5l3.6 3.6m0 -3.6l-3.6 3.6M137.7 112.6l3.6 3.6m0 -3.6l-3.6 3.6M134.9 148.3l3.6 3.6m0 -3.6l-3.6 3.6M124.8 188.9l3.6 3.6m0 -3.6l-3.6 3.6M131.4 156.4l3.6 3.6m0 -3.6l-3.6 3.6M133.6 155.7l3.6 3.6m0 -3.6l-3.6 3.6M135.5 113.8l3.6 3.6m0 -3.6l-3.6 3.6M141.1 121.8l3.6 3.6m0 -3.6l-3.6 3.6M127.2 171.2l3.6 3.6m0 -3.6l-3.6 3.6M128.0 151.5l3.6 3.6m0 -3.6l-3.6 3.6M133.7 154.3l3.6 3.6m0 -3.6l-3.6 3.6M140.0 101.9l3.6 3.6m0 -3.6l-3.6 3.6M136.2 143.7l3.6 3.6m0 -3.6l-3.6 3.6M125.3 193.8l3.6 3.6m0 -3.6l-3.6 3.6M129.6 158.9l3.6 3.6m0 -3.6l-3.6 3.6M138.6 101.0l3.6 3.6m0 -3.6l-3.6 3.6M131.1 120.1l3.6 3.6m0 -3.6l-3.6 3.6M135.5 138.3l3.6 3.6m0 -3.6l-3.6 3.6M132.1 142.8l3.6 3.6m0 -3.6l-3.6 3.6M131.0 138.1l3.6 3.6m0 -3.6l-3.6 3.6M126.1 190.0l3.6 3.6m0 -3.6l-3.6 3.6M137.7 132.3l3.6 3.6m0 -3.6l-3.6 3.6M138.5 113.0l3.6 3.6m0 -3.6l-3.6 3.6M137.1 153.8l3.6 3.6m0 -3.6l-3.6 3.6M133.1 150.8l3.6 3.6m0 -3.6l-3.6 3.6M139.2 92.4l3.6 3.6m0 -3.6l-3.6 3.6M128.0 147.7l3.6 3.6m0 -3.6l-3.6 3.6M130.5 166.2l3.6 3.6m0 -3.6l-3.6 3.6M132.5 177.2l3.6 3.6m0 -3.6l-3.6 3.6M135.0 166.2l3.6 3.6m0 -3.6l-3.6 3.6M128.5 191.8l3.6 3.6m0 -3.6l-3.6 3.6M129.8 158.6l3.6 3.6m0 -3.6l-3.6 3.6M129.4 184.7l3.6 3.6m0 -3.6l-3.6 3.6M136.7 154.1l3.6 3.6m0 -3.6l-3.6 3.6M130.0 119.5l3.6 3.6m0 -3.6l-3.6 3.6M137.3 131.6l3.6 3.6m0 -3.6l-3.6 3.6M128.8 196.8l3.6 3.6m0 -3.6l-3.6 3.6M133.8 176.9l3.6 3.6m0 -3.6l-3.6 3.6M134.0 112.3l3.6 3.6m0 -3.6l-3.6 3.6M135.1 91.4l3.6 3.6m0 -3.6l-3.6 3.6M131.9 161.8l3.6 3.6m0 -3.6l-3.6 3.6M138.3 91.7l3.6 3.6m0 -3.6l-3.6 3.6M131.1 125.9l3.6 3.6m0 -3.6l-3.6 3.6M137.6 125.7l3.6 3.6m0 -3.6l-3.6 3.6M129.7 195.0l3.6 3.6m0 -3.6l-3.6 3.6M133.5 127.2l3.6 3.6m0 -3.6l-3.6 3.6M136.5 146.5l3.6 3.6m0 -3.6l-3.6 3.6M129.2 129.1l3.6 3.6m0 -3.6l-3.6 3.6M132.2 112.3l3.6 3.6m0 -3.6l-3.6 3.6M132.8 147.7l3.6 3.6m0 -3.6l-3.6 3.6M132.2 146.4l3.6 3.6m0 -3.6l-3.6 3.6M138.7 136.2l3.6 3.6m0 -3.6l-3.6 3.6M134.5 119.4l3.6 3.6m0 -3.6l-3.6 3.6M132.0 162.1l3.6 3.6m0 -3.6l-3.6 3.6M132.7 99.1l3.6 3.6m0 -3.6l-3.6 3.6M136.9 109.3l3.6 3.6m0 -3.6l-3.6 3.6M137.2 158.8l3.6 3.6m0 -3.6l-3.6 3.6M135.7 159.2l3.6 3.6m0 -3.6l-3.6 3.6M129.0 152.6l3.6 3.6m0 -3.6l-3.6 3.6M139.5 107.8l3.6 3.6m0 -3.6l-3.6 3.6M129.8 134.6l3.6 3.6m0 -3.6l-3.6 3.6M139.8 93.6l3.6 3.6m0 -3.6l-3.6 3.6M128.6 150.9l3.6 3.6m0 -3.6l-3.6 3.6M129.7 145.0l3.6 3.6m0 -3.6l-3.6 3.6M135.9 141.4l3.6 3.6m0 -3.6l-3.6 3.6M137.1 118.1l3.6 3.6m0 -3.6l-3.6 3.6M126.6 171.4l3.6 3.6m0 -3.6l-3.6 3.6M134.8 158.5l3.6 3.6m0 -3.6l-3.6 3.6M132.0 105.2l3.6 3.6m0 -3.6l-3.6 3.6M129.4 158.6l3.6 3.6m0 -3.6l-3.6 3.6M139.2 135.3l3.6 3.6m0 -3.6l-3.6 3.6M133.2 135.9l3.6 3.6m0 -3.6l-3.6 3.6M124.7 189.4l3.6 3.6m0 -3.6l-3.6 3.6M139.4 117.6l3.6 3.6m0 -3.6l-3.6 3.6M134.3 173.1l3.6 3.6m0 -3.6l-3.6 3.6M131.2 167.5l3.6 3.6m0 -3.6l-3.6 3.6M134.9 98.0l3.6 3.6m0 -3.6l-3.6 3.6M124.1 190.3l3.6 3.6m0 -3.6l-3.6 3.6M132.9 178.6l3.6 3.6m0 -3.6l-3.6 3.6M135.8 95.5l3.6 3.6m0 -3.6l-3.6 3.6M131.7 122.6l3.6 3.6m0 -3.6l-3.6 3.6M130.5 179.5l3.6 3.6m0 -3.6l-3.6 3.6M129.0 177.1l3.6 3.6m0 -3.6l-3.6 3.6M128.9 188.9l3.6 3.6m0 -3.6l-3.6 3.6M125.6 189.8l3.6 3.6m0 -3.6l-3.6 3.6M135.9 165.8l3.6 3.6m0 -3.6l-3.6 3.6M130.0 157.6l3.6 3.6m0 -3.6l-3.6 3.6M131.0 144.5l3.6 3.6m0 -3.6l-3.6 3.6M138.9 105.9l3.6 3.6m0 -3.6l-3.6 3.6M138.7 124.3l3.6 3.6m0 -3.6l-3.6 3.6M135.8 136.1l3.6 3.6m0 -3.6l-3.6 3.6M132.3 118.3l3.6 3.6m0 -3.6l-3.6 3.6M137.8 92.0l3.6 3.6m0 -3.6l-3.6 3.6M138.4 138.1l3.6 3.6m0 -3.6l-3.6 3.6M133.2 151.2l3.6 3.6m0 -3.6l-3.6 3.6M136.7 127.8l3.6 3.6m0 -3.6l-3.6 3.6M128.9 149.7l3.6 3.6m0 -3.6l-3.6 3.6M137.2 143.0l3.6 3.6m0 -3.6l-3.6 3.6M136.3 129.5l3.6 3.6m0 -3.6l-3.6 3.6M140.3 123.6l3.6 3.6m0 -3.6l-3.6 3.6M134.1 153.2l3.6 3.6m0 -3.6l-3.6 3.6M133.7 125.8l3.6 3.6m0 -3.6l-3.6 3.6M125.1 194.0l3.6 3.6m0 -3.6l-3.6 3.6M137.6 118.8l3.6 3.6m0 -3.6l-3.6 3.6M127.6 175.3l3.6 3.6m0 -3.6l-3.6 3.6M131.3 185.0l3.6 3.6m0 -3.6l-3.6 3.6M130.7 106.3l3.6 3.6m0 -3.6l-3.6 3.6M131.3 143.9l3.6 3.6m0 -3.6l-3.6 3.6M135.0 149.6l3.6 3.6m0 -3.6l-3.6 3.6M127.7 155.9l3.6 3.6m0 -3.6l-3.6 3.6M134.2 119.8l3.6 3.6m0 -3.6l-3.6 3.6M134.1 117.2l3.6 3.6m0 -3.6l-3.6 3.6M132.8 144.9l3.6 3.6m0 -3.6l-3.6 3.6M134.3 156.7l3.6 3.6m0 -3.6l-3.6 3.6M131.5 189.0l3.6 3.6m0 -3.6l-3.6 3.6M137.6 106.2l3.6 3.6m0 -3.6l-3.6 3.6M129.6 118.1l3.6 3.6m0 -3.6l-3.6 3.6M135.6 131.0l3.6 3.6m0 -3.6l-3.6 3.6M138.8 106.5l3.6 3.6m0 -3.6l-3.6 3.6M132.0 108.4l3.6 3.6m0 -3.6l-3.6 3.6M134.7 149.4l3.6 3.6m0 -3.6l-3.6 3.6M134.5 133.7l3.6 3.6m0 -3.6l-3.6 3.6M137.2 151.5l3.6 3.6m0 -3.6l-3.6 3.6M134.0 163.5l3.6 3.6m0 -3.6l-3.6 3.6M127.2 184.2l3.6 3.6m0 -3.6l-3.6 3.6M131.0 155.0l3.6 3.6m0 -3.6l-3.6 3.6M138.3 119.7l3.6 3.6m0 -3.6l-3.6 3.6M133.9 95.9l3.6 3.6m0 -3.6l-3.6 3.6M126.9 194.3l3.6 3.6m0 -3.6l-3.6 3.6M130.8 100.6l3.6 3.6m0 -3.6l-3.6 3.6M136.9 114.6l3.6 3.6m0 -3.6l-3.6 3.6M132.0 135.1l3.6 3.6m0 -3.6l-3.6 3.6M127.7 151.3l3.6 3.6m0 -3.6l-3.6 3.6M125.9 165.8l3.6 3.6m0 -3.6l-3.6 3.6M127.2 194.5l3.6 3.6m0 -3.6l-3.6 3.6M137.4 152.5l3.6 3.6m0 -3.6l-3.6 3.6M131.4 169.2l3.6 3.6m0 -3.6l-3.6 3.6M131.9 189.2l3.6 3.6m0 -3.6l-3.6 3.6M133.5 118.9l3.6 3.6m0 -3.6l-3.6 3.6M130.5 156.3l3.6 3.6m0 -3.6l-3.6 3.6M140.5 112.1l3.6 3.6m0 -3.6l-3.6 3.6M126.0 188.3l3.6 3.6m0 -3.6l-3.6 3.6M128.7 179.5l3.6 3.6m0 -3.6l-3.6 3.6M136.3 111.8l3.6 3.6m0 -3.6l-3.6 3.6M129.4 117.3l3.6 3.6m0 -3.6l-3.6 3.6M136.1 146.2l3.6 3.6m0 -3.6l-3.6 3.6M133.2 141.9l3.6 3.6m0 -3.6l-3.6 3.6M135.0 152.5l3.6 3.6m0 -3.6l-3.6 3.6M129.3 168.5l3.6 3.6m0 -3.6l-3.6 3.6M138.0 148.3l3.6 3.6m0 -3.6l-3.6 3.6M139.5 125.3l3.6 3.6m0 -3.6l-3.6 3.6M127.8 160.5l3.6 3.6m0 -3.6l-3.6 3.6M135.0 151.4l3.6 3.6m0 -3.6l-3.6 3.6M127.8 173.4l3.6 3.6m0 -3.6l-3.6 3.6M135.3 141.3l3.6 3.6m0 -3.6l-3.6 3.6M133.5 122.9l3.6 3.6m0 -3.6l-3.6 3.6M134.5 145.7l3.6 3.6m0 -3.6l-3.6 3.6M131.7 101.3l3.6 3.6m0 -3.6l-3.6 3.6M138.0 97.3l3.6 3.6m0 -3.6l-3.6 3.6M129.9 134.4l3.6 3.6m0 -3.6l-3.6 3.6M126.3 189.0l3.6 3.6m0 -3.6l-3.6 3.6M138.5 92.7l3.6 3.6m0 -3.6l-3.6 3.6M131.9 104.3l3.6 3.6m0 -3.6l-3.6 3.6M139.6 98.7l3.6 3.6m0 -3.6l-3.6 3.6M129.6 112.6l3.6 3.6m0 -3.6l-3.6 3.6M131.3 125.1l3.6 3.6m0 -3.6l-3.6 3.6M132.3 143.6l3.6 3.6m0 -3.6l-3.6 3.6M130.9 168.6l3.6 3.6m0 -3.6l-3.6 3.6M138.2 134.7l3.6 3.6m0 -3.6l-3.6 3.6M134.1 143.9l3.6 3.6m0 -3.6l-3.6 3.6M128.1 158.1l3.6 3.6m0 -3.6l-3.6 3.6M126.3 174.7l3.6 3.6m0 -3.6l-3.6 3.6M129.2 178.7l3.6 3.6m0 -3.6l-3.6 3.6M130.8 191.9l3.6 3.6m0 -3.6l-3.6 3.6M130.2 147.3l3.6 3.6m0 -3.6l-3.6 3.6M126.9 160.2l3.6 3.6m0 -3.6l-3.6 3.6M128.1 187.7l3.6 3.6m0 -3.6l-3.6 3.6M129.2 191.6l3.6 3.6m0 -3.6l-3.6 3.6M133.5 132.3l3.6 3.6m0 -3.6l-3.6 3.6M135.3 116.0l3.6 3.6m0 -3.6l-3.6 3.6M132.3 139.8l3.6 3.6m0 -3.6l-3.6 3.6M125.7 179.1l3.6 3.6m0 -3.6l-3.6 3.6M132.6 187.9l3.6 3.6m0 -3.6l-3.6 3.6M128.1 179.6l3.6 3.6m0 -3.6l-3.6 3.6M136.9 95.0l3.6 3.6m0 -3.6l-3.6 3.6M132.1 143.9l3.6 3.6m0 -3.6l-3.6 3.6M137.0 97.7l3.6 3.6m0 -3.6l-3.6 3.6M137.7 120.0l3.6 3.6m0 -3.6l-3.6 3.6M133.9 146.5l3.6 3.6m0 -3.6l-3.6 3.6M135.6 121.2l3.6 3.6m0 -3.6l-3.6 3.6M131.3 116.5l3.6 3.6m0 -3.6l-3.6 3.6M137.2 92.9l3.6 3.6m0 -3.6l-3.6 3.6M125.2 183.5l3.6 3.6m0 -3.6l-3.6 3.6M126.5 162.9l3.6 3.6m0 -3.6l-3.6 3.6M134.9 110.6l3.6 3.6m0 -3.6l-3.6 3.6M128.0 140.7l3.6 3.6m0 -3.6l-3.6 3.6M134.1 137.1l3.6 3.6m0 -3.6l-3.6 3.6M123.7 194.3l3.6 3.6m0 -3.6l-3.6 3.6M132.1 149.8l3.6 3.6m0 -3.6l-3.6 3.6M137.6 119.1l3.6 3.6m0 -3.6l-3.6 3.6M140.0 128.0l3.6 3.6m0 -3.6l-3.6 3.6M129.5 164.5l3.6 3.6m0 -3.6l-3.6 3.6M130.8 180.1l3.6 3.6m0 -3.6l-3.6 3.6M134.1 152.6l3.6 3.6m0 -3.6l-3.6 3.6M129.7 138.1l3.6 3.6m0 -3.6l-3.6 3.6M131.7 127.3l3.6 3.6m0 -3.6l-3.6 3.6M127.7 186.0l3.6 3.6m0 -3.6l-3.6 3.6M132.0 156.3l3.6 3.6m0 -3.6l-3.6 3.6M135.8 151.2l3.6 3.6m0 -3.6l-3.6 3.6M136.5 106.9l3.6 3.6m0 -3.6l-3.6 3.6M137.1 137.1l3.6 3.6m0 -3.6l-3.6 3.6M131.3 169.8l3.6 3.6m0 -3.6l-3.6 3.6M133.0 154.6l3.6 3.6m0 -3.6l-3.6 3.6M134.0 96.7l3.6 3.6m0 -3.6l-3.6 3.6M134.1 97.7l3.6 3.6m0 -3.6l-3.6 3.6M126.2 188.9l3.6 3.6m0 -3.6l-3.6 3.6M128.8 164.2l3.6 3.6m0 -3.6l-3.6 3.6M131.2 154.0l3.6 3.6m0 -3.6l-3.6 3.6M132.8 100.5l3.6 3.6m0 -3.6l-3.6 3.6M133.3 136.0l3.6 3.6m0 -3.6l-3.6 3.6M123.6 192.8l3.6 3.6m0 -3.6l-3.6 3.6M136.9 158.9l3.6 3.6m0 -3.6l-3.6 3.6M129.7 110.6l3.6 3.6m0 -3.6l-3.6 3.6M134.6 171.8l3.6 3.6m0 -3.6l-3.6 3.6M136.5 156.7l3.6 3.6m0 -3.6l-3.6 3.6M136.3 105.6l3.6 3.6m0 -3.6l-3.6 3.6M129.4 154.6l3.6 3.6m0 -3.6l-3.6 3.6M133.6 104.3l3.6 3.6m0 -3.6l-3.6 3.6M133.3 160.9l3.6 3.6m0 -3.6l-3.6 3.6M138.4 139.3l3.6 3.6m0 -3.6l-3.6 3.6M135.0 126.8l3.6 3.6m0 -3.6l-3.6 3.6M128.7 185.5l3.6 3.6m0 -3.6l-3.6 3.6M140.7 98.2l3.6 3.6m0 -3.6l-3.6 3.6M141.1 122.9l3.6 3.6m0 -3.6l-3.6 3.6M137.1 160.5l3.6 3.6m0 -3.6l-3.6 3.6M136.3 126.2l3.6 3.6m0 -3.6l-3.6 3.6M131.3 180.0l3.6 3.6m0 -3.6l-3.6 3.6M137.5 93.0l3.6 3.6m0 -3.6l-3.6 3.6M131.3 132.8l3.6 3.6m0 -3.6l-3.6 3.6M127.3 153.1l3.6 3.6m0 -3.6l-3.6 3.6M128.6 169.6l3.6 3.6m0 -3.6l-3.6 3.6M129.9 135.7l3.6 3.6m0 -3.6l-3.6 3.6M126.9 186.4l3.6 3.6m0 -3.6l-3.6 3.6M135.3 140.0l3.6 3.6m0 -3.6l-3.6 3.6M132.1 96.6l3.6 3.6m0 -3.6l-3.6 3.6M131.7 188.1l3.6 3.6m0 -3.6l-3.6 3.6M134.3 165.2l3.6 3.6m0 -3.6l-3.6 3.6M129.5 140.3l3.6 3.6m0 -3.6l-3.6 3.6M135.7 144.0l3.6 3.6m0 -3.6l-3.6 3.6M129.1 131.5l3.6 3.6m0 -3.6l-3.6 3.6M134.5 108.3l3.6 3.6m0 -3.6l-3.6 3.6M138.7 113.8l3.6 3.6m0 -3.6l-3.6 3.6M134.5 163.1l3.6 3.6m0 -3.6l-3.6 3.6M136.0 105.1l3.6 3.6m0 -3.6l-3.6 3.6M140.9 123.6l3.6 3.6m0 -3.6l-3.6 3.6M131.7 183.8l3.6 3.6m0 -3.6l-3.6 3.6M134.4 127.4l3.6 3.6m0 -3.6l-3.6 3.6M130.6 168.1l3.6 3.6m0 -3.6l-3.6 3.6M132.8 136.4l3.6 3.6m0 -3.6l-3.6 3.6M139.8 111.3l3.6 3.6m0 -3.6l-3.6 3.6M135.6 143.7l3.6 3.6m0 -3.6l-3.6 3.6M140.8 119.1l3.6 3.6m0 -3.6l-3.6 3.6M132.7 109.6l3.6 3.6m0 -3.6l-3.6 3.6M135.1 122.8l3.6 3.6m0 -3.6l-3.6 3.6M131.3 98.3l3.6 3.6m0 -3.6l-3.6 3.6M134.5 116.6l3.6 3.6m0 -3.6l-3.6 3.6M134.8 164.8l3.6 3.6m0 -3.6l-3.6 3.6M129.9 139.0l3.6 3.6m0 -3.6l-3.6 3.6M136.8 137.9l3.6 3.6m0 -3.6l-3.6 3.6M125.0 187.2l3.6 3.6m0 -3.6l-3.6 3.6M125.6 194.8l3.6 3.6m0 -3.6l-3.6 3.6M137.9 142.6l3.6 3.6m0 -3.6l-3.6 3.6M141.4 107.4l3.6 3.6m0 -3.6l-3.6 3.6M131.4 135.2l3.6 3.6m0 -3.6l-3.6 3.6M130.9 124.0l3.6 3.6m0 -3.6l-3.6 3.6M138.5 109.2l3.6 3.6m0 -3.6l-3.6 3.6M136.4 104.0l3.6 3.6m0 -3.6l-3.6 3.6M136.7 130.1l3.6 3.6m0 -3.6l-3.6 3.6M126.1 177.6l3.6 3.6m0 -3.6l-3.6 3.6M129.7 113.2l3.6 3.6m0 -3.6l-3.6 3.6M124.6 187.6l3.6 3.6m0 -3.6l-3.6 3.6M124.5 184.1l3.6 3.6m0 -3.6l-3.6 3.6M127.4 156.7l3.6 3.6m0 -3.6l-3.6 3.6M133.1 165.0l3.6 3.6m0 -3.6l-3.6 3.6M130.6 140.5l3.6 3.6m0 -3.6l-3.6 3.6M130.6 157.6l3.6 3.6m0 -3.6l-3.6 3.6M136.1 125.6l3.6 3.6m0 -3.6l-3.6 3.6M133.7 164.1l3.6 3.6m0 -3.6l-3.6 3.6M137.8 93.4l3.6 3.6m0 -3.6l-3.6 3.6M132.2 189.2l3.6 3.6m0 -3.6l-3.6 3.6M134.6 171.5l3.6 3.6m0 -3.6l-3.6 3.6M135.4 168.0l3.6 3.6m0 -3.6l-3.6 3.6M125.6 193.3l3.6 3.6m0 -3.6l-3.6 3.6M133.3 153.3l3.6 3.6m0 -3.6l-3.6 3.6M137.1 110.5l3.6 3.6m0 -3.6l-3.6 3.6M126.5 193.5l3.6 3.6m0 -3.6l-3.6 3.6M140.0 101.9l3.6 3.6m0 -3.6l-3.6 3.6M130.7 161.2l3.6 3.6m0 -3.6l-3.6 3.6M136.2 145.2l3.6 3.6m0 -3.6l-3.6 3.6M131.2 123.9l3.6 3.6m0 -3.6l-3.6 3.6M129.6 146.9l3.6 3.6m0 -3.6l-3.6 3.6M136.8 98.3l3.6 3.6m0 -3.6l-3.6 3.6M135.7 138.5l3.6 3.6m0 -3.6l-3.6 3.6M127.7 176.5l3.6 3.6m0 -3.6l-3.6 3.6M133.6 182.8l3.6 3.6m0 -3.6l-3.6 3.6M128.1 171.8l3.6 3.6m0 -3.6l-3.6 3.6M140.1 114.2l3.6 3.6m0 -3.6l-3.6 3.6M137.4 133.3l3.6 3.6m0 -3.6l-3.6 3.6M138.2 121.5l3.6 3.6m0 -3.6l-3.6 3.6M137.9 114.0l3.6 3.6m0 -3.6l-3.6 3.6M134.9 154.3l3.6 3.6m0 -3.6l-3.6 3.6M136.7 131.6l3.6 3.6m0 -3.6l-3.6 3.6M132.5 160.4l3.6 3.6m0 -3.6l-3.6 3.6M131.6 190.6l3.6 3.6m0 -3.6l-3.6 3.6M129.1 133.4l3.6 3.6m0 -3.6l-3.6 3.6M127.8 190.1l3.6 3.6m0 -3.6l-3.6 3.6M130.9 193.6l3.6 3.6m0 -3.6l-3.6 3.6M124.3 183.5l3.6 3.6m0 -3.6l-3.6 3.6M129.1 127.0l3.6 3.6m0 -3.6l-3.6 3.6M133.6 122.5l3.6 3.6m0 -3.6l-3.6 3.6M134.1 108.9l3.6 3.6m0 -3.6l-3.6 3.6M131.4 99.3l3.6 3.6m0 -3.6l-3.6 3.6M135.3 126.1l3.6 3.6m0 -3.6l-3.6 3.6M131.8 104.7l3.6 3.6m0 -3.6l-3.6 3.6M132.5 143.1l3.6 3.6m0 -3.6l-3.6 3.6M140.9 113.0l3.6 3.6m0 -3.6l-3.6 3.6M136.6 141.6l3.6 3.6m0 -3.6l-3.6 3.6M135.6 132.7l3.6 3.6m0 -3.6l-3.6 3.6M134.5 103.6l3.6 3.6m0 -3.6l-3.6 3.6M127.6 160.9l3.6 3.6m0 -3.6l-3.6 3.6M128.9 188.8l3.6 3.6m0 -3.6l-3.6 3.6M129.3 189.3l3.6 3.6m0 -3.6l-3.6 3.6M132.8 105.0l3.6 3.6m0 -3.6l-3.6 3.6M134.6 129.5l3.6 3.6m0 -3.6l-3.6 3.6M133.6 148.5l3.6 3.6m0 -3.6l-3.6 3.6M137.0 99.9l3.6 3.6m0 -3.6l-3.6 3.6M127.8 173.3l3.6 3.6m0 -3.6l-3.6 3.6M126.3 177.5l3.6 3.6m0 -3.6l-3.6 3.6M132.0 148.5l3.6 3.6m0 -3.6l-3.6 3.6M131.2 102.8l3.6 3.6m0 -3.6l-3.6 3.6M131.2 120.0l3.6 3.6m0 -3.6l-3.6 3.6M134.4 133.6l3.6 3.6m0 -3.6l-3.6 3.6M133.1 117.6l3.6 3.6m0 -3.6l-3.6 3.6M139.4 118.1l3.6 3.6m0 -3.6l-3.6 3.6M132.0 148.6l3.6 3.6m0 -3.6l-3.6 3.6M135.8 139.8l3.6 3.6m0 -3.6l-3.6 3.6M134.9 136.2l3.6 3.6m0 -3.6l-3.6 3.6M135.6 108.0l3.6 3.6m0 -3.6l-3.6 3.6M125.4 176.3l3.6 3.6m0 -3.6l-3.6 3.6M128.5 179.0l3.6 3.6m0 -3.6l-3.6 3.6M138.9 93.1l3.6 3.6m0 -3.6l-3.6 3.6M130.8 174.9l3.6 3.6m0 -3.6l-3.6 3.6M136.7 90.4l3.6 3.6m0 -3.6l-3.6 3.6M130.3 111.5l3.6 3.6m0 -3.6l-3.6 3.6M134.0 180.1l3.6 3.6m0 -3.6l-3.6 3.6M135.7 152.8l3.6 3.6m0 -3.6l-3.6 3.6M138.9 136.1l3.6 3.6m0 -3.6l-3.6 3.6M136.8 95.4l3.6 3.6m0 -3.6l-3.6 3.6M130.1 145.0l3.6 3.6m0 -3.6l-3.6 3.6M127.5 193.5l3.6 3.6m0 -3.6l-3.6 3.6M140.0 114.6l3.6 3.6m0 -3.6l-3.6 3.6M140.4 127.5l3.6 3.6m0 -3.6l-3.6 3.6M128.2 180.7l3.6 3.6m0 -3.6l-3.6 3.6M130.6 177.2l3.6 3.6m0 -3.6l-3.6 3.6M138.3 97.9l3.6 3.6m0 -3.6l-3.6 3.6M133.5 127.6l3.6 3.6m0 -3.6l-3.6 3.6M136.4 146.1l3.6 3.6m0 -3.6l-3.6 3.6M131.3 184.6l3.6 3.6m0 -3.6l-3.6 3.6M139.9 113.2l3.6 3.6m0 -3.6l-3.6 3.6M129.4 191.5l3.6 3.6m0 -3.6l-3.6 3.6M133.3 96.6l3.6 3.6m0 -3.6l-3.6 3.6M131.3 166.7l3.6 3.6m0 -3.6l-3.6 3.6M132.1 115.7l3.6 3.6m0 -3.6l-3.6 3.6M131.5 158.1l3.6 3.6m0 -3.6l-3.6 3.6M132.8 158.8l3.6 3.6m0 -3.6l-3.6 3.6M125.7 191.5l3.6 3.6m0 -3.6l-3.6 3.6M134.3 137.3l3.6 3.6m0 -3.6l-3.6 3.6M136.0 90.2l3.6 3.6m0 -3.6l-3.6 3.6M134.1 135.2l3.6 3.6m0 -3.6l-3.6 3.6M137.8 91.4l3.6 3.6m0 -3.6l-3.6 3.6M132.3 99.8l3.6 3.6m0 -3.6l-3.6 3.6M125.6 181.8l3.6 3.6m0 -3.6l-3.6 3.6M131.5 125.6l3.6 3.6m0 -3.6l-3.6 3.6M137.0 101.2l3.6 3.6m0 -3.6l-3.6 3.6M128.4 149.2l3.6 3.6m0 -3.6l-3.6 3.6M129.8 142.7l3.6 3.6m0 -3.6l-3.6 3.6M134.5 107.3l3.6 3.6m0 -3.6l-3.6 3.6M136.0 120.4l3.6 3.6m0 -3.6l-3.6 3.6M131.9 179.1l3.6 3.6m0 -3.6l-3.6 3.6M128.8 197.6l3.6 3.6m0 -3.6l-3.6 3.6M131.1 162.4l3.6 3.6m0 -3.6l-3.6 3.6M130.5 166.3l3.6 3.6m0 -3.6l-3.6 3.6M134.7 168.9l3.6 3.6m0 -3.6l-3.6 3.6M137.0 154.2l3.6 3.6m0 -3.6l-3.6 3.6M128.7 172.4l3.6 3.6m0 -3.6l-3.6 3.6M132.6 123.1l3.6 3.6m0 -3.6l-3.6 3.6M130.0 134.0l3.6 3.6m0 -3.6l-3.6 3.6M130.5 171.6l3.6 3.6m0 -3.6l-3.6 3.6M137.4 105.6l3.6 3.6m0 -3.6l-3.6 3.6M141.2 96.3l3.6 3.6m0 -3.6l-3.6 3.6M132.4 146.6l3.6 3.6m0 -3.6l-3.6 3.6M130.7 134.9l3.6 3.6m0 -3.6l-3.6 3.6M126.3 177.3l3.6 3.6m0 -3.6l-3.6 3.6M124.4 190.9l3.6 3.6m0 -3.6l-3.6 3.6M134.2 137.5l3.6 3.6m0 -3.6l-3.6 3.6M131.4 177.5l3.6 3.6m0 -3.6l-3.6 3.6M129.4 153.1l3.6 3.6m0 -3.6l-3.6 3.6M132.1 165.8l3.6 3.6m0 -3.6l-3.6 3.6M140.7 112.1l3.6 3.6m0 -3.6l-3.6 3.6M133.5 109.5l3.6 3.6m0 -3.6l-3.6 3.6M133.1 149.7l3.6 3.6m0 -3.6l-3.6 3.6M131.0 99.6l3.6 3.6m0 -3.6l-3.6 3.6M130.2 171.1l3.6 3.6m0 -3.6l-3.6 3.6M139.6 131.4l3.6 3.6m0 -3.6l-3.6 3.6M126.9 198.0l3.6 3.6m0 -3.6l-3.6 3.6M132.7 106.5l3.6 3.6m0 -3.6l-3.6 3.6M140.4 123.4l3.6 3.6m0 -3.6l-3.6 3.6M141.1 122.9l3.6 3.6m0 -3.6l-3.6 3.6M136.6 102.1l3.6 3.6m0 -3.6l-3.6 3.6M139.0 137.1l3.6 3.6m0 -3.6l-3.6 3.6M135.1 160.4l3.6 3.6m0 -3.6l-3.6 3.6M128.0 160.5l3.6 3.6m0 -3.6l-3.6 3.6M136.6 125.0l3.6 3.6m0 -3.6l-3.6 3.6M136.9 157.0l3.6 3.6m0 -3.6l-3.6 3.6M130.9 120.7l3.6 3.6m0 -3.6l-3.6 3.6M138.2 105.2l3.6 3.6m0 -3.6l-3.6 3.6M135.9 97.5l3.6 3.6m0 -3.6l-3.6 3.6M125.4 200.3l3.6 3.6m0 -3.6l-3.6 3.6M139.1 96.2l3.6 3.6m0 -3.6l-3.6 3.6M138.9 127.0l3.6 3.6m0 -3.6l-3.6 3.6M126.1 176.9l3.6 3.6m0 -3.6l-3.6 3.6M136.6 160.9l3.6 3.6m0 -3.6l-3.6 3.6M135.4 90.6l3.6 3.6m0 -3.6l-3.6 3.6M132.8 130.1l3.6 3.6m0 -3.6l-3.6 3.6M134.2 159.8l3.6 3.6m0 -3.6l-3.6 3.6M130.6 184.9l3.6 3.6m0 -3.6l-3.6 3.6M126.3 163.5l3.6 3.6m0 -3.6l-3.6 3.6M137.3 128.2l3.6 3.6m0 -3.6l-3.6 3.6M133.0 106.3l3.6 3.6m0 -3.6l-3.6 3.6M132.4 141.6l3.6 3.6m0 -3.6l-3.6 3.6M139.9 112.0l3.6 3.6m0 -3.6l-3.6 3.6M127.1 178.8l3.6 3.6m0 -3.6l-3.6 3.6M132.8 112.1l3.6 3.6m0 -3.6l-3.6 3.6M140.6 104.7l3.6 3.6m0 -3.6l-3.6 3.6M129.8 190.3l3.6 3.6m0 -3.6l-3.6 3.6M140.0 104.0l3.6 3.6m0 -3.6l-3.6 3.6M134.9 157.6l3.6 3.6m0 -3.6l-3.6 3.6M136.8 141.9l3.6 3.6m0 -3.6l-3.6 3.6M130.0 181.7l3.6 3.6m0 -3.6l-3.6 3.6M128.9 189.8l3.6 3.6m0 -3.6l-3.6 3.6M134.5 122.5l3.6 3.6m0 -3.6l-3.6 3.6M136.4 125.0l3.6 3.6m0 -3.6l-3.6 3.6M131.0 187.2l3.6 3.6m0 -3.6l-3.6 3.6M131.9 147.8l3.6 3.6m0 -3.6l-3.6 3.6M126.2 168.2l3.6 3.6m0 -3.6l-3.6 3.6M134.1 168.2l3.6 3.6m0 -3.6l-3.6 3.6M125.7 196.9l3.6 3.6m0 -3.6l-3.6 3.6M128.0 183.1l3.6 3.6m0 -3.6l-3.6 3.6M132.8 165.1l3.6 3.6m0 -3.6l-3.6 3.6M136.8 92.2l3.6 3.6m0 -3.6l-3.6 3.6M134.5 168.1l3.6 3.6m0 -3.6l-3.6 3.6M124.9 181.3l3.6 3.6m0 -3.6l-3.6 3.6M135.8 165.9l3.6 3.6m0 -3.6l-3.6 3.6M130.7 127.9l3.6 3.6m0 -3.6l-3.6 3.6M137.3 90.8l3.6 3.6m0 -3.6l-3.6 3.6M136.9 91.4l3.6 3.6m0 -3.6l-3.6 3.6M131.0 116.1l3.6 3.6m0 -3.6l-3.6 3.6M135.5 137.3l3.6 3.6m0 -3.6l-3.6 3.6M136.5 110.6l3.6 3.6m0 -3.6l-3.6 3.6M133.9 148.5l3.6 3.6m0 -3.6l-3.6 3.6M140.6 104.6l3.6 3.6m0 -3.6l-3.6 3.6M139.1 95.6l3.6 3.6m0 -3.6l-3.6 3.6M135.4 96.1l3.6 3.6m0 -3.6l-3.6 3.6M140.5 106.6l3.6 3.6m0 -3.6l-3.6 3.6M131.0 128.7l3.6 3.6m0 -3.6l-3.6 3.6M134.0 105.8l3.6 3.6m0 -3.6l-3.6 3.6M129.3 189.2l3.6 3.6m0 -3.6l-3.6 3.6M132.8 135.4l3.6 3.6m0 -3.6l-3.6 3.6M140.1 129.6l3.6 3.6m0 -3.6l-3.6 3.6M134.8 159.0l3.6 3.6m0 -3.6l-3.6 3.6M132.8 136.3l3.6 3.6m0 -3.6l-3.6 3.6M127.7 156.4l3.6 3.6m0 -3.6l-3.6 3.6M130.2 161.7l3.6 3.6m0 -3.6l-3.6 3.6M137.1 158.2l3.6 3.6m0 -3.6l-3.6 3.6M133.4 98.4l3.6 3.6m0 -3.6l-3.6 3.6M131.3 137.7l3.6 3.6m0 -3.6l-3.6 3.6M128.7 131.4l3.6 3.6m0 -3.6l-3.6 3.6M130.5 156.3l3.6 3.6m0 -3.6l-3.6 3.6M135.4 94.7l3.6 3.6m0 -3.6l-3.6 3.6M127.2 191.6l3.6 3.6m0 -3.6l-3.6 3.6M138.9 109.9l3.6 3.6m0 -3.6l-3.6 3.6M138.7 96.0l3.6 3.6m0 -3.6l-3.6 3.6M137.8 137.6l3.6 3.6m0 -3.6l-3.6 3.6M131.8 122.8l3.6 3.6m0 -3.6l-3.6 3.6M134.1 139.0l3.6 3.6m0 -3.6l-3.6 3.6M132.3 149.4l3.6 3.6m0 -3.6l-3.6 3.6M133.0 125.4l3.6 3.6m0 -3.6l-3.6 3.6M136.6 143.4l3.6 3.6m0 -3.6l-3.6 3.6M129.1 145.0l3.6 3.6m0 -3.6l-3.6 3.6M129.5 197.1l3.6 3.6m0 -3.6l-3.6 3.6M131.1 159.9l3.6 3.6m0 -3.6l-3.6 3.6M138.2 116.6l3.6 3.6m0 -3.6l-3.6 3.6M134.9 105.1l3.6 3.6m0 -3.6l-3.6 3.6M129.5 157.2l3.6 3.6m0 -3.6l-3.6 3.6M134.8 150.6l3.6 3.6m0 -3.6l-3.6 3.6M132.3 111.5l3.6 3.6m0 -3.6l-3.6 3.6M133.4 111.5l3.6 3.6m0 -3.6l-3.6 3.6M125.0 185.1l3.6 3.6m0 -3.6l-3.6 3.6M133.0 116.1l3.6 3.6m0 -3.6l-3.6 3.6M139.8 108.4l3.6 3.6m0 -3.6l-3.6 3.6M130.8 193.8l3.6 3.6m0 -3.6l-3.6 3.6M124.0 196.8l3.6 3.6m0 -3.6l-3.6 3.6M130.7 135.3l3.6 3.6m0 -3.6l-3.6 3.6M139.8 110.6l3.6 3.6m0 -3.6l-3.6 3.6M129.7 111.8l3.6 3.6m0 -3.6l-3.6 3.6M135.4 106.0l3.6 3.6m0 -3.6l-3.6 3.6M132.9 143.2l3.6 3.6m0 -3.6l-3.6 3.6M135.5 121.5l3.6 3.6m0 -3.6l-3.6 3.6M138.8 128.8l3.6 3.6m0 -3.6l-3.6 3.6M138.6 108.5l3.6 3.6m0 -3.6l-3.6 3.6M132.7 136.5l3.6 3.6m0 -3.6l-3.6 3.6M125.0 177.6l3.6 3.6m0 -3.6l-3.6 3.6M129.3 127.6l3.6 3.6m0 -3.6l-3.6 3.6M124.6 191.9l3.6 3.6m0 -3.6l-3.6 3.6M139.1 131.0l3.6 3.6m0 -3.6l-3.6 3.6M130.2 104.3l3.6 3.6m0 -3.6l-3.6 3.6M127.7 159.0l3.6 3.6m0 -3.6l-3.6 3.6M132.5 179.0l3.6 3.6m0 -3.6l-3.6 3.6M136.4 133.3l3.6 3.6m0 -3.6l-3.6 3.6M132.2 167.3l3.6 3.6m0 -3.6l-3.6 3.6M137.2 120.8l3.6 3.6m0 -3.6l-3.6 3.6M139.3 96.7l3.6 3.6m0 -3.6l-3.6 3.6M128.6 175.2l3.6 3.6m0 -3.6l-3.6 3.6M137.4 148.5l3.6 3.6m0 -3.6l-3.6 3.6M132.5 104.4l3.6 3.6m0 -3.6l-3.6 3.6M136.1 124.2l3.6 3.6m0 -3.6l-3.6 3.6M137.1 101.0l3.6 3.6m0 -3.6l-3.6 3.6M133.3 121.6l3.6 3.6m0 -3.6l-3.6 3.6M132.3 97.1l3.6 3.6m0 -3.6l-3.6 3.6M128.5 135.3l3.6 3.6m0 -3.6l-3.6 3.6M134.8 133.6l3.6 3.6m0 -3.6l-3.6 3.6M134.3 100.4l3.6 3.6m0 -3.6l-3.6 3.6M134.2 124.4l3.6 3.6m0 -3.6l-3.6 3.6M133.2 117.5l3.6 3.6m0 -3.6l-3.6 3.6M136.5 155.2l3.6 3.6m0 -3.6l-3.6 3.6M133.2 146.6l3.6 3.6m0 -3.6l-3.6 3.6M125.3 193.1l3.6 3.6m0 -3.6l-3.6 3.6M129.6 154.2l3.6 3.6m0 -3.6l-3.6 3.6M137.5 118.3l3.6 3.6m0 -3.6l-3.6 3.6M129.5 155.1l3.6 3.6m0 -3.6l-3.6 3.6M137.7 148.3l3.6 3.6m0 -3.6l-3.6 3.6M131.4 145.5l3.6 3.6m0 -3.6l-3.6 3.6M134.0 177.7l3.6 3.6m0 -3.6l-3.6 3.6M132.6 132.3l3.6 3.6m0 -3.6l-3.6 3.6M130.7 107.8l3.6 3.6m0 -3.6l-3.6 3.6M125.6 182.2l3.6 3.6m0 -3.6l-3.6 3.6M129.3 176.3l3.6 3.6m0 -3.6l-3.6 3.6M133.6 183.9l3.6 3.6m0 -3.6l-3.6 3.6M131.3 145.0l3.6 3.6m0 -3.6l-3.6 3.6M130.7 101.9l3.6 3.6m0 -3.6l-3.6 3.6M130.3 175.1l3.6 3.6m0 -3.6l-3.6 3.6M136.5 158.2l3.6 3.6m0 -3.6l-3.6 3.6M137.2 94.7l3.6 3.6m0 -3.6l-3.6 3.6M138.4 92.2l3.6 3.6m0 -3.6l-3.6 3.6M131.1 139.4l3.6 3.6m0 -3.6l-3.6 3.6M131.0 149.7l3.6 3.6m0 -3.6l-3.6 3.6M130.8 142.1l3.6 3.6m0 -3.6l-3.6 3.6M130.3 162.0l3.6 3.6m0 -3.6l-3.6 3.6M128.4 175.6l3.6 3.6m0 -3.6l-3.6 3.6M131.3 190.1l3.6 3.6m0 -3.6l-3.6 3.6M131.9 180.3l3.6 3.6m0 -3.6l-3.6 3.6M130.6 112.1l3.6 3.6m0 -3.6l-3.6 3.6M138.0 114.6l3.6 3.6m0 -3.6l-3.6 3.6M134.8 106.4l3.6 3.6m0 -3.6l-3.6 3.6M133.4 104.6l3.6 3.6m0 -3.6l-3.6 3.6M130.7 107.1l3.6 3.6m0 -3.6l-3.6 3.6M131.1 168.4l3.6 3.6m0 -3.6l-3.6 3.6M137.2 107.3l3.6 3.6m0 -3.6l-3.6 3.6M134.3 153.7l3.6 3.6m0 -3.6l-3.6 3.6M132.0 109.6l3.6 3.6m0 -3.6l-3.6 3.6M135.9 122.0l3.6 3.6m0 -3.6l-3.6 3.6M133.0 189.9l3.6 3.6m0 -3.6l-3.6 3.6M133.9 138.5l3.6 3.6m0 -3.6l-3.6 3.6M129.7 170.7l3.6 3.6m0 -3.6l-3.6 3.6M136.0 145.7l3.6 3.6m0 -3.6l-3.6 3.6M136.4 108.0l3.6 3.6m0 -3.6l-3.6 3.6M130.8 145.0l3.6 3.6m0 -3.6l-3.6 3.6M131.1 163.5l3.6 3.6m0 -3.6l-3.6 3.6M138.5 113.5l3.6 3.6m0 -3.6l-3.6 3.6M128.1 176.7l3.6 3.6m0 -3.6l-3.6 3.6M124.3 189.9l3.6 3.6m0 -3.6l-3.6 3.6M134.3 136.5l3.6 3.6m0 -3.6l-3.6 3.6M134.7 92.3l3.6 3.6m0 -3.6l-3.6 3.6M130.8 146.5l3.6 3.6m0 -3.6l-3.6 3.6M129.2 187.6l3.6 3.6m0 -3.6l-3.6 3.6M125.3 185.0l3.6 3.6m0 -3.6l-3.6 3.6M130.3 170.6l3.6 3.6m0 -3.6l-3.6 3.6M126.3 169.6l3.6 3.6m0 -3.6l-3.6 3.6M140.9 119.7l3.6 3.6m0 -3.6l-3.6 3.6M132.0 163.5l3.6 3.6m0 -3.6l-3.6 3.6M128.2 162.2l3.6 3.6m0 -3.6l-3.6 3.6M125.3 195.4l3.6 3.6m0 -3.6l-3.6 3.6M129.6 134.5l3.6 3.6m0 -3.6l-3.6 3.6M129.5 189.3l3.6 3.6m0 -3.6l-3.6 3.6M138.4 121.4l3.6 3.6m0 -3.6l-3.6 3.6M136.1 103.6l3.6 3.6m0 -3.6l-3.6 3.6M131.8 172.8l3.6 3.6m0 -3.6l-3.6 3.6M132.7 148.9l3.6 3.6m0 -3.6l-3.6 3.6M131.6 163.8l3.6 3.6m0 -3.6l-3.6 3.6M134.2 141.2l3.6 3.6m0 -3.6l-3.6 3.6M132.0 182.8l3.6 3.6m0 -3.6l-3.6 3.6M131.8 149.3l3.6 3.6m0 -3.6l-3.6 3.6M138.2 126.0l3.6 3.6m0 -3.6l-3.6 3.6M136.2 124.6l3.6 3.6m0 -3.6l-3.6 3.6M131.9 165.9l3.6 3.6m0 -3.6l-3.6 3.6M130.1 175.9l3.6 3.6m0 -3.6l-3.6 3.6M126.4 175.2l3.6 3.6m0 -3.6l-3.6 3.6M133.8 105.5l3.6 3.6m0 -3.6l-3.6 3.6M125.8 186.8l3.6 3.6m0 -3.6l-3.6 3.6M129.9 153.3l3.6 3.6m0 -3.6l-3.6 3.6M131.3 121.8l3.6 3.6m0 -3.6l-3.6 3.6M130.1 136.6l3.6 3.6m0 -3.6l-3.6 3.6M127.8 157.6l3.6 3.6m0 -3.6l-3.6 3.6M135.0 153.0l3.6 3.6m0 -3.6l-3.6 3.6M128.6 172.2l3.6 3.6m0 -3.6l-3.6 3.6M134.3 99.7l3.6 3.6m0 -3.6l-3.6 3.6M134.7 109.3l3.6 3.6m0 -3.6l-3.6 3.6M124.2 186.7l3.6 3.6m0 -3.6l-3.6 3.6M130.9 159.3l3.6 3.6m0 -3.6l-3.6 3.6M135.2 139.5l3.6 3.6m0 -3.6l-3.6 3.6M128.2 141.0l3.6 3.6m0 -3.6l-3.6 3.6M125.1 201.0l3.6 3.6m0 -3.6l-3.6 3.6M130.2 129.3l3.6 3.6m0 -3.6l-3.6 3.6M131.9 117.2l3.6 3.6m0 -3.6l-3.6 3.6M124.2 187.4l3.6 3.6m0 -3.6l-3.6 3.6M130.8 188.5l3.6 3.6m0 -3.6l-3.6 3.6M136.6 137.8l3.6 3.6m0 -3.6l-3.6 3.6M131.3 160.2l3.6 3.6m0 -3.6l-3.6 3.6M134.1 105.1l3.6 3.6m0 -3.6l-3.6 3.6M137.5 113.5l3.6 3.6m0 -3.6l-3.6 3.6M132.0 109.8l3.6 3.6m0 -3.6l-3.6 3.6M136.3 146.0l3.6 3.6m0 -3.6l-3.6 3.6M131.1 188.5l3.6 3.6m0 -3.6l-3.6 3.6M130.7 149.1l3.6 3.6m0 -3.6l-3.6 3.6M132.1 111.9l3.6 3.6m0 -3.6l-3.6 3.6M132.7 95.9l3.6 3.6m0 -3.6l-3.6 3.6M137.3 158.0l3.6 3.6m0 -3.6l-3.6 3.6M136.0 126.2l3.6 3.6m0 -3.6l-3.6 3.6M128.6 197.3l3.6 3.6m0 -3.6l-3.6 3.6M127.3 176.9l3.6 3.6m0 -3.6l-3.6 3.6M139.8 96.9l3.6 3.6m0 -3.6l-3.6 3.6M134.6 153.4l3.6 3.6m0 -3.6l-3.6 3.6M134.2 166.7l3.6 3.6m0 -3.6l-3.6 3.6M127.6 190.3l3.6 3.6m0 -3.6l-3.6 3.6M138.8 99.2l3.6 3.6m0 -3.6l-3.6 3.6M133.6 182.7l3.6 3.6m0 -3.6l-3.6 3.6M139.9 117.9l3.6 3.6m0 -3.6l-3.6 3.6M126.2 166.7l3.6 3.6m0 -3.6l-3.6 3.6M135.3 138.9l3.6 3.6m0 -3.6l-3.6 3.6M139.9 102.1l3.6 3.6m0 -3.6l-3.6 3.6M124.3 197.5l3.6 3.6m0 -3.6l-3.6 3.6M137.6 94.2l3.6 3.6m0 -3.6l-3.6 3.6M138.0 142.3l3.6 3.6m0 -3.6l-3.6 3.6M129.9 110.2l3.6 3.6m0 -3.6l-3.6 3.6M138.8 136.2l3.6 3.6m0 -3.6l-3.6 3.6M135.6 132.2l3.6 3.6m0 -3.6l-3.6 3.6M129.6 180.4l3.6 3.6m0 -3.6l-3.6 3.6M129.5 140.4l3.6 3.6m0 -3.6l-3.6 3.6M131.7 138.0l3.6 3.6m0 -3.6l-3.6 3.6M136.7 151.4l3.6 3.6m0 -3.6l-3.6 3.6M135.3 95.9l3.6 3.6m0 -3.6l-3.6 3.6M138.2 97.6l3.6 3.6m0 -3.6l-3.6 3.6M128.5 194.6l3.6 3.6m0 -3.6l-3.6 3.6M138.1 106.8l3.6 3.6m0 -3.6l-3.6 3.6M127.1 173.7l3.6 3.6m0 -3.6l-3.6 3.6M134.0 160.1l3.6 3.6m0 -3.6l-3.6 3.6M123.7 195.8l3.6 3.6m0 -3.6l-3.6 3.6M134.6 103.0l3.6 3.6m0 -3.6l-3.6 3.6M131.7 185.1l3.6 3.6m0 -3.6l-3.6 3.6M127.7 166.7l3.6 3.6m0 -3.6l-3.6 3.6M130.0 109.9l3.6 3.6m0 -3.6l-3.6 3.6M137.6 142.6l3.6 3.6m0 -3.6l-3.6 3.6M126.6 192.0l3.6 3.6m0 -3.6l-3.6 3.6M136.6 108.4l3.6 3.6m0 -3.6l-3.6 3.6M127.7 195.8l3.6 3.6m0 -3.6l-3.6 3.6M130.4 187.5l3.6 3.6m0 -3.6l-3.6 3.6M137.5 90.4l3.6 3.6m0 -3.6l-3.6 3.6M133.4 162.9l3.6 3.6m0 -3.6l-3.6 3.6M127.5 161.2l3.6 3.6m0 -3.6l-3.6 3.6M126.3 196.5l3.6 3.6m0 -3.6l-3.6 3.6M136.0 128.0l3.6 3.6m0 -3.6l-3.6 3.6M137.3 153.4l3.6 3.6m0 -3.6l-3.6 3.6M135.0 122.9l3.6 3.6m0 -3.6l-3.6 3.6M131.7 132.3l3.6 3.6m0 -3.6l-3.6 3.6M127.1 163.6l3.6 3.6m0 -3.6l-3.6 3.6M133.7 174.2l3.6 3.6m0 -3.6l-3.6 3.6M134.5 143.9l3.6 3.6m0 -3.6l-3.6 3.6M134.2 92.2l3.6 3.6m0 -3.6l-3.6 3.6M135.4 92.1l3.6 3.6m0 -3.6l-3.6 3.6M140.4 108.1l3.6 3.6m0 -3.6l-3.6 3.6M135.1 165.3l3.6 3.6m0 -3.6l-3.6 3.6M131.2 150.7l3.6 3.6m0 -3.6l-3.6 3.6M126.9 188.1l3.6 3.6m0 -3.6l-3.6 3.6M134.2 141.4l3.6 3.6m0 -3.6l-3.6 3.6M139.5 119.4l3.6 3.6m0 -3.6l-3.6 3.6M126.6 164.1l3.6 3.6m0 -3.6l-3.6 3.6M133.4 156.7l3.6 3.6m0 -3.6l-3.6 3.6M129.4 135.0l3.6 3.6m0 -3.6l-3.6 3.6M130.3 179.7l3.6 3.6m0 -3.6l-3.6 3.6M138.8 126.2l3.6 3.6m0 -3.6l-3.6 3.6M132.8 126.9l3.6 3.6m0 -3.6l-3.6 3.6M136.2 161.7l3.6 3.6m0 -3.6l-3.6 3.6M136.1 139.8l3.6 3.6m0 -3.6l-3.6 3.6M126.5 169.2l3.6 3.6m0 -3.6l-3.6 3.6M129.0 152.7l3.6 3.6m0 -3.6l-3.6 3.6M130.3 123.8l3.6 3.6m0 -3.6l-3.6 3.6M135.8 164.0l3.6 3.6m0 -3.6l-3.6 3.6M137.4 123.5l3.6 3.6m0 -3.6l-3.6 3.6M124.3 184.7l3.6 3.6m0 -3.6l-3.6 3.6M133.6 156.7l3.6 3.6m0 -3.6l-3.6 3.6M139.0 91.9l3.6 3.6m0 -3.6l-3.6 3.6M139.8 128.6l3.6 3.6m0 -3.6l-3.6 3.6M131.2 124.3l3.6 3.6m0 -3.6l-3.6 3.6M128.9 191.4l3.6 3.6m0 -3.6l-3.6 3.6M133.5 101.9l3.6 3.6m0 -3.6l-3.6 3.6M137.2 109.1l3.6 3.6m0 -3.6l-3.6 3.6M129.5 183.3l3.6 3.6m0 -3.6l-3.6 3.6M138.4 114.8l3.6 3.6m0 -3.6l-3.6 3.6M133.3 177.4l3.6 3.6m0 -3.6l-3.6 3.6M133.1 173.7l3.6 3.6m0 -3.6l-3.6 3.6M135.8 109.5l3.6 3.6m0 -3.6l-3.6 3.6M129.8 179.8l3.6 3.6m0 -3.6l-3.6 3.6M125.0 188.4l3.6 3.6m0 -3.6l-3.6 3.6M140.2 103.6l3.6 3.6m0 -3.6l-3.6 3.6M131.9 151.9l3.6 3.6m0 -3.6l-3.6 3.6M138.9 123.0l3.6 3.6m0 -3.6l-3.6 3.6M129.5 123.6l3.6 3.6m0 -3.6l-3.6 3.6M136.4 132.1l3.6 3.6m0 -3.6l-3.6 3.6M131.7 164.9l3.6 3.6m0 -3.6l-3.6 3.6M133.3 129.4l3.6 3.6m0 -3.6l-3.6 3.6M135.1 158.1l3.6 3.6m0 -3.6l-3.6 3.6M129.3 158.9l3.6 3.6m0 -3.6l-3.6 3.6M135.0 120.2l3.6 3.6m0 -3.6l-3.6 3.6M133.8 105.9l3.6 3.6m0 -3.6l-3.6 3.6M133.1 137.3l3.6 3.6m0 -3.6l-3.6 3.6M126.5 164.0l3.6 3.6m0 -3.6l-3.6 3.6M128.2 188.1l3.6 3.6m0 -3.6l-3.6 3.6M128.6 147.2l3.6 3.6m0 -3.6l-3.6 3.6M135.7 168.6l3.6 3.6m0 -3.6l-3.6 3.6M139.8 105.3l3.6 3.6m0 -3.6l-3.6 3.6M132.9 162.1l3.6 3.6m0 -3.6l-3.6 3.6M129.8 161.1l3.6 3.6m0 -3.6l-3.6 3.6M130.0 189.2l3.6 3.6m0 -3.6l-3.6 3.6M136.0 128.6l3.6 3.6m0 -3.6l-3.6 3.6M129.0 193.1l3.6 3.6m0 -3.6l-3.6 3.6M134.2 126.6l3.6 3.6m0 -3.6l-3.6 3.6M136.6 162.6l3.6 3.6m0 -3.6l-3.6 3.6M137.8 150.6l3.6 3.6m0 -3.6l-3.6 3.6M133.6 126.4l3.6 3.6m0 -3.6l-3.6 3.6M132.9 137.6l3.6 3.6m0 -3.6l-3.6 3.6M129.0 151.2l3.6 3.6m0 -3.6l-3.6 3.6M132.3 104.5l3.6 3.6m0 -3.6l-3.6 3.6M133.1 131.8l3.6 3.6m0 -3.6l-3.6 3.6M124.8 188.1l3.6 3.6m0 -3.6l-3.6 3.6M133.4 158.0l3.6 3.6m0 -3.6l-3.6 3.6M128.6 176.2l3.6 3.6m0 -3.6l-3.6 3.6M128.5 150.7l3.6 3.6m0 -3.6l-3.6 3.6M131.3 151.4l3.6 3.6m0 -3.6l-3.6 3.6M134.8 112.4l3.6 3.6m0 -3.6l-3.6 3.6M135.5 125.4l3.6 3.6m0 -3.6l-3.6 3.6M134.8 149.5l3.6 3.6m0 -3.6l-3.6 3.6M128.3 163.9l3.6 3.6m0 -3.6l-3.6 3.6M132.5 124.6l3.6 3.6m0 -3.6l-3.6 3.6M131.9 181.4l3.6 3.6m0 -3.6l-3.6 3.6M135.3 143.1l3.6 3.6m0 -3.6l-3.6 3.6M124.7 179.2l3.6 3.6m0 -3.6l-3.6 3.6M133.6 121.3l3.6 3.6m0 -3.6l-3.6 3.6M132.9 152.4l3.6 3.6m0 -3.6l-3.6 3.6M137.5 122.9l3.6 3.6m0 -3.6l-3.6 3.6M128.0 197.4l3.6 3.6m0 -3.6l-3.6 3.6M131.0 125.9l3.6 3.6m0 -3.6l-3.6 3.6M138.4 108.2l3.6 3.6m0 -3.6l-3.6 3.6M130.7 131.8l3.6 3.6m0 -3.6l-3.6 3.6M131.7 125.1l3.6 3.6m0 -3.6l-3.6 3.6M134.7 145.5l3.6 3.6m0 -3.6l-3.6 3.6M130.6 120.3l3.6 3.6m0 -3.6l-3.6 3.6M133.3 95.6l3.6 3.6m0 -3.6l-3.6 3.6M135.7 102.4l3.6 3.6m0 -3.6l-3.6 3.6M127.5 183.2l3.6 3.6m0 -3.6l-3.6 3.6M128.7 173.0l3.6 3.6m0 -3.6l-3.6 3.6M128.6 163.4l3.6 3.6m0 -3.6l-3.6 3.6M131.4 140.1l3.6 3.6m0 -3.6l-3.6 3.6M129.7 183.5l3.6 3.6m0 -3.6l-3.6 3.6M128.1 157.6l3.6 3.6m0 -3.6l-3.6 3.6M132.7 122.1l3.6 3.6m0 -3.6l-3.6 3.6M137.5 91.4l3.6 3.6m0 -3.6l-3.6 3.6M128.6 184.8l3.6 3.6m0 -3.6l-3.6 3.6M127.7 193.2l3.6 3.6m0 -3.6l-3.6 3.6M140.5 100.4l3.6 3.6m0 -3.6l-3.6 3.6M128.2 179.6l3.6 3.6m0 -3.6l-3.6 3.6M135.2 171.7l3.6 3.6m0 -3.6l-3.6 3.6M137.4 123.8l3.6 3.6m0 -3.6l-3.6 3.6M131.9 105.6l3.6 3.6m0 -3.6l-3.6 3.6M135.2 147.5l3.6 3.6m0 -3.6l-3.6 3.6M127.4 172.3l3.6 3.6m0 -3.6l-3.6 3.6M138.5 114.8l3.6 3.6m0 -3.6l-3.6 3.6M133.5 121.0l3.6 3.6m0 -3.6l-3.6 3.6M135.3 93.0l3.6 3.6m0 -3.6l-3.6 3.6M132.6 177.1l3.6 3.6m0 -3.6l-3.6 3.6M135.2 137.0l3.6 3.6m0 -3.6l-3.6 3.6M125.1 186.7l3.6 3.6m0 -3.6l-3.6 3.6M141.5 103.9l3.6 3.6m0 -3.6l-3.6 3.6M137.1 154.6l3.6 3.6m0 -3.6l-3.6 3.6M137.0 111.4l3.6 3.6m0 -3.6l-3.6 3.6M141.3 116.0l3.6 3.6m0 -3.6l-3.6 3.6M133.3 148.5l3.6 3.6m0 -3.6l-3.6 3.6M129.7 132.0l3.6 3.6m0 -3.6l-3.6 3.6M137.9 100.5l3.6 3.6m0 -3.6l-3.6 3.6M136.3 133.3l3.6 3.6m0 -3.6l-3.6 3.6M137.9 128.0l3.6 3.6m0 -3.6l-3.6 3.6M132.0 103.1l3.6 3.6m0 -3.6l-3.6 3.6M137.2 93.0l3.6 3.6m0 -3.6l-3.6 3.6M132.3 169.5l3.6 3.6m0 -3.6l-3.6 3.6M132.7 116.8l3.6 3.6m0 -3.6l-3.6 3.6M128.1 167.1l3.6 3.6m0 -3.6l-3.6 3.6M125.8 193.5l3.6 3.6m0 -3.6l-3.6 3.6M136.4 134.9l3.6 3.6m0 -3.6l-3.6 3.6M131.9 159.6l3.6 3.6m0 -3.6l-3.6 3.6M132.9 122.3l3.6 3.6m0 -3.6l-3.6 3.6M135.8 126.5l3.6 3.6m0 -3.6l-3.6 3.6M131.2 106.0l3.6 3.6m0 -3.6l-3.6 3.6M133.4 115.4l3.6 3.6m0 -3.6l-3.6 3.6M137.1 153.5l3.6 3.6m0 -3.6l-3.6 3.6M134.5 108.9l3.6 3.6m0 -3.6l-3.6 3.6M138.0 104.0l3.6 3.6m0 -3.6l-3.6 3.6M129.5 192.6l3.6 3.6m0 -3.6l-3.6 3.6M131.0 114.9l3.6 3.6m0 -3.6l-3.6 3.6M132.1 94.5l3.6 3.6m0 -3.6l-3.6 3.6M127.4 195.5l3.6 3.6m0 -3.6l-3.6 3.6M130.3 170.0l3.6 3.6m0 -3.6l-3.6 3.6M136.8 143.4l3.6 3.6m0 -3.6l-3.6 3.6M131.9 132.9l3.6 3.6m0 -3.6l-3.6 3.6M131.2 140.1l3.6 3.6m0 -3.6l-3.6 3.6M127.4 174.7l3.6 3.6m0 -3.6l-3.6 3.6M128.7 164.8l3.6 3.6m0 -3.6l-3.6 3.6M126.3 188.0l3.6 3.6m0 -3.6l-3.6 3.6M136.0 153.2l3.6 3.6m0 -3.6l-3.6 3.6M130.6 154.9l3.6 3.6m0 -3.6l-3.6 3.6M138.3 113.2l3.6 3.6m0 -3.6l-3.6 3.6M137.5 101.7l3.6 3.6m0 -3.6l-3.6 3.6M140.0 109.1l3.6 3.6m0 -3.6l-3.6 3.6M137.4 100.7l3.6 3.6m0 -3.6l-3.6 3.6M125.2 190.9l3.6 3.6m0 -3.6l-3.6 3.6M134.9 157.0l3.6 3.6m0 -3.6l-3.6 3.6M137.7 154.9l3.6 3.6m0 -3.6l-3.6 3.6M129.9 142.2l3.6 3.6m0 -3.6l-3.6 3.6M129.7 173.1l3.6 3.6m0 -3.6l-3.6 3.6M128.5 133.6l3.6 3.6m0 -3.6l-3.6 3.6M141.2 115.9l3.6 3.6m0 -3.6l-3.6 3.6M125.3 179.1l3.6 3.6m0 -3.6l-3.6 3.6M134.2 176.7l3.6 3.6m0 -3.6l-3.6 3.6M133.9 174.6l3.6 3.6m0 -3.6l-3.6 3.6M140.0 130.2l3.6 3.6m0 -3.6l-3.6 3.6M126.7 189.0l3.6 3.6m0 -3.6l-3.6 3.6M123.4 195.2l3.6 3.6m0 -3.6l-3.6 3.6M139.9 113.6l3.6 3.6m0 -3.6l-3.6 3.6M130.3 124.3l3.6 3.6m0 -3.6l-3.6 3.6M133.2 143.3l3.6 3.6m0 -3.6l-3.6 3.6M135.7 161.1l3.6 3.6m0 -3.6l-3.6 3.6M129.2 159.4l3.6 3.6m0 -3.6l-3.6 3.6M129.9 163.7l3.6 3.6m0 -3.6l-3.6 3.6M132.1 173.5l3.6 3.6m0 -3.6l-3.6 3.6M135.2 155.9l3.6 3.6m0 -3.6l-3.6 3.6M141.1 99.6l3.6 3.6m0 -3.6l-3.6 3.6M138.0 118.6l3.6 3.6m0 -3.6l-3.6 3.6M135.8 100.6l3.6 3.6m0 -3.6l-3.6 3.6M132.4 176.6l3.6 3.6m0 -3.6l-3.6 3.6M141.4 111.7l3.6 3.6m0 -3.6l-3.6 3.6M131.1 101.7l3.6 3.6m0 -3.6l-3.6 3.6M132.4 174.8l3.6 3.6m0 -3.6l-3.6 3.6M133.6 154.8l3.6 3.6m0 -3.6l-3.6 3.6M129.9 191.0l3.6 3.6m0 -3.6l-3.6 3.6M130.2 121.0l3.6 3.6m0 -3.6l-3.6 3.6M129.2 155.2l3.6 3.6m0 -3.6l-3.6 3.6M134.0 96.1l3.6 3.6m0 -3.6l-3.6 3.6M135.5 127.8l3.6 3.6m0 -3.6l-3.6 3.6M126.8 158.4l3.6 3.6m0 -3.6l-3.6 3.6M140.7 106.8l3.6 3.6m0 -3.6l-3.6 3.6M127.8 169.7l3.6 3.6m0 -3.6l-3.6 3.6M134.5 130.9l3.6 3.6m0 -3.6l-3.6 3.6M138.0 100.7l3.6 3.6m0 -3.6l-3.6 3.6M132.5 190.6l3.6 3.6m0 -3.6l-3.6 3.6M128.6 147.1l3.6 3.6m0 -3.6l-3.6 3.6M131.0 153.6l3.6 3.6m0 -3.6l-3.6 3.6M139.2 94.7l3.6 3.6m0 -3.6l-3.6 3.6M136.5 131.6l3.6 3.6m0 -3.6l-3.6 3.6M132.6 120.0l3.6 3.6m0 -3.6l-3.6 3.6M125.6 179.0l3.6 3.6m0 -3.6l-3.6 3.6M135.6 158.6l3.6 3.6m0 -3.6l-3.6 3.6M141.4 102.5l3.6 3.6m0 -3.6l-3.6 3.6M134.3 163.6l3.6 3.6m0 -3.6l-3.6 3.6M130.5 111.3l3.6 3.6m0 -3.6l-3.6 3.6M133.4 155.7l3.6 3.6m0 -3.6l-3.6 3.6M134.9 161.8l3.6 3.6m0 -3.6l-3.6 3.6M130.3 104.9l3.6 3.6m0 -3.6l-3.6 3.6M129.5 194.7l3.6 3.6m0 -3.6l-3.6 3.6M136.9 130.8l3.6 3.6m0 -3.6l-3.6 3.6M137.2 104.7l3.6 3.6m0 -3.6l-3.6 3.6M133.3 129.6l3.6 3.6m0 -3.6l-3.6 3.6M139.2 129.6l3.6 3.6m0 -3.6l-3.6 3.6M133.5 149.2l3.6 3.6m0 -3.6l-3.6 3.6M136.7 94.0l3.6 3.6m0 -3.6l-3.6 3.6M127.7 189.1l3.6 3.6m0 -3.6l-3.6 3.6M137.0 126.9l3.6 3.6m0 -3.6l-3.6 3.6M125.0 195.9l3.6 3.6m0 -3.6l-3.6 3.6M134.9 167.7l3.6 3.6m0 -3.6l-3.6 3.6M131.1 154.3l3.6 3.6m0 -3.6l-3.6 3.6M129.2 142.0l3.6 3.6m0 -3.6l-3.6 3.6M140.1 94.5l3.6 3.6m0 -3.6l-3.6 3.6M136.1 91.5l3.6 3.6m0 -3.6l-3.6 3.6M138.7 106.7l3.6 3.6m0 -3.6l-3.6 3.6M138.0 96.9l3.6 3.6m0 -3.6l-3.6 3.6M131.7 102.7l3.6 3.6m0 -3.6l-3.6 3.6M128.7 172.1l3.6 3.6m0 -3.6l-3.6 3.6M128.1 191.0l3.6 3.6m0 -3.6l-3.6 3.6M130.6 104.0l3.6 3.6m0 -3.6l-3.6 3.6M137.2 156.5l3.6 3.6m0 -3.6l-3.6 3.6M128.1 179.5l3.6 3.6m0 -3.6l-3.6 3.6M130.5 104.0l3.6 3.6m0 -3.6l-3.6 3.6M139.9 122.2l3.6 3.6m0 -3.6l-3.6 3.6M133.2 171.0l3.6 3.6m0 -3.6l-3.6 3.6M130.0 117.2l3.6 3.6m0 -3.6l-3.6 3.6M131.5 173.2l3.6 3.6m0 -3.6l-3.6 3.6M130.9 131.6l3.6 3.6m0 -3.6l-3.6 3.6M135.4 126.0l3.6 3.6m0 -3.6l-3.6 3.6M131.0 194.2l3.6 3.6m0 -3.6l-3.6 3.6M130.1 174.2l3.6 3.6m0 -3.6l-3.6 3.6M140.4 103.4l3.6 3.6m0 -3.6l-3.6 3.6M136.1 159.8l3.6 3.6m0 -3.6l-3.6 3.6M129.8 135.4l3.6 3.6m0 -3.6l-3.6 3.6M132.4 189.0l3.6 3.6m0 -3.6l-3.6 3.6M127.5 157.6l3.6 3.6m0 -3.6l-3.6 3.6M136.8 124.4l3.6 3.6m0 -3.6l-3.6 3.6M135.2 102.1l3.6 3.6m0 -3.6l-3.6 3.6M136.3 97.0l3.6 3.6m0 -3.6l-3.6 3.6M130.8 165.1l3.6 3.6m0 -3.6l-3.6 3.6M127.6 190.6l3.6 3.6m0 -3.6l-3.6 3.6M133.9 129.0l3.6 3.6m0 -3.6l-3.6 3.6M140.4 98.2l3.6 3.6m0 -3.6l-3.6 3.6M133.3 108.6l3.6 3.6m0 -3.6l-3.6 3.6M130.2 139.4l3.6 3.6m0 -3.6l-3.6 3.6M130.9 135.4l3.6 3.6m0 -3.6l-3.6 3.6M134.5 167.4l3.6 3.6m0 -3.6l-3.6 3.6M137.0 145.6l3.6 3.6m0 -3.6l-3.6 3.6M129.6 178.6l3.6 3.6m0 -3.6l-3.6 3.6M125.8 176.5l3.6 3.6m0 -3.6l-3.6 3.6M130.8 115.9l3.6 3.6m0 -3.6l-3.6 3.6M132.3 188.5l3.6 3.6m0 -3.6l-3.6 3.6M135.5 140.8l3.6 3.6m0 -3.6l-3.6 3.6M131.5 155.9l3.6 3.6m0 -3.6l-3.6 3.6M134.8 90.7l3.6 3.6m0 -3.6l-3.6 3.6M140.9 123.3l3.6 3.6m0 -3.6l-3.6 3.6M133.6 122.0l3.6 3.6m0 -3.6l-3.6 3.6M128.9 195.2l3.6 3.6m0 -3.6l-3.6 3.6M134.3 110.0l3.6 3.6m0 -3.6l-3.6 3.6M130.5 170.0l3.6 3.6m0 -3.6l-3.6 3.6M133.7 96.4l3.6 3.6m0 -3.6l-3.6 3.6M135.5 143.7l3.6 3.6m0 -3.6l-3.6 3.6M136.9 101.9l3.6 3.6m0 -3.6l-3.6 3.6M141.3 107.0l3.6 3.6m0 -3.6l-3.6 3.6M131.9 184.2l3.6 3.6m0 -3.6l-3.6 3.6M132.3 146.4l3.6 3.6m0 -3.6l-3.6 3.6M133.7 159.8l3.6 3.6m0 -3.6l-3.6 3.6M139.2 133.6l3.6 3.6m0 -3.6l-3.6 3.6M124.6 185.4l3.6 3.6m0 -3.6l-3.6 3.6M128.7 141.2l3.6 3.6m0 -3.6l-3.6 3.6M131.9 191.5l3.6 3.6m0 -3.6l-3.6 3.6M136.3 138.1l3.6 3.6m0 -3.6l-3.6 3.6M132.2 102.5l3.6 3.6m0 -3.6l-3.6 3.6M129.7 160.7l3.6 3.6m0 -3.6l-3.6 3.6M128.1 182.9l3.6 3.6m0 -3.6l-3.6 3.6M130.7 174.7l3.6 3.6m0 -3.6l-3.6 3.6M134.3 168.4l3.6 3.6m0 -3.6l-3.6 3.6M133.1 139.8l3.6 3.6m0 -3.6l-3.6 3.6M132.4 113.5l3.6 3.6m0 -3.6l-3.6 3.6M125.9 142.6l3.6 3.6m0 -3.6l-3.6 3.6M137.0 120.3l3.6 3.6m0 -3.6l-3.6 3.6M142.9 140.8l3.6 3.6m0 -3.6l-3.6 3.6M138.3 127.9l3.6 3.6m0 -3.6l-3.6 3.6M127.8 198.7l3.6 3.6m0 -3.6l-3.6 3.6M142.1 134.0l3.6 3.6m0 -3.6l-3.6 3.6M140.6 100.9l3.6 3.6m0 -3.6l-3.6 3.6M127.2 197.2l3.6 3.6m0 -3.6l-3.6 3.6M125.0 196.8l3.6 3.6m0 -3.6l-3.6 3.6M130.3 118.3l3.6 3.6m0 -3.6l-3.6 3.6M137.5 165.7l3.6 3.6m0 -3.6l-3.6 3.6M128.1 106.5l3.6 3.6m0 -3.6l-3.6 3.6M142.2 114.6l3.6 3.6m0 -3.6l-3.6 3.6M141.4 142.7l3.6 3.6m0 -3.6l-3.6 3.6M140.0 92.2l3.6 3.6m0 -3.6l-3.6 3.6M139.2 167.1l3.6 3.6m0 -3.6l-3.6 3.6M142.1 116.3l3.6 3.6m0 -3.6l-3.6 3.6M125.1 177.2l3.6 3.6m0 -3.6l-3.6 3.6M129.3 107.4l3.6 3.6m0 -3.6l-3.6 3.6M139.9 118.3l3.6 3.6m0 -3.6l-3.6 3.6M140.6 117.0l3.6 3.6m0 -3.6l-3.6 3.6M142.7 93.7l3.6 3.6m0 -3.6l-3.6 3.6M143.0 121.2l3.6 3.6m0 -3.6l-3.6 3.6M129.0 143.1l3.6 3.6m0 -3.6l-3.6 3.6M132.1 93.4l3.6 3.6m0 -3.6l-3.6 3.6M125.6 145.6l3.6 3.6m0 -3.6l-3.6 3.6M124.7 183.3l3.6 3.6m0 -3.6l-3.6 3.6M141.3 105.5l3.6 3.6m0 -3.6l-3.6 3.6M140.5 96.7l3.6 3.6m0 -3.6l-3.6 3.6M137.2 163.1l3.6 3.6m0 -3.6l-3.6 3.6M129.5 141.5l3.6 3.6m0 -3.6l-3.6 3.6M129.0 101.6l3.6 3.6m0 -3.6l-3.6 3.6M130.5 98.7l3.6 3.6m0 -3.6l-3.6 3.6M130.4 115.4l3.6 3.6m0 -3.6l-3.6 3.6M130.5 125.1l3.6 3.6m0 -3.6l-3.6 3.6M133.7 101.2l3.6 3.6m0 -3.6l-3.6 3.6M131.3 97.2l3.6 3.6m0 -3.6l-3.6 3.6M124.9 155.7l3.6 3.6m0 -3.6l-3.6 3.6M135.3 139.6l3.6 3.6m0 -3.6l-3.6 3.6M142.1 105.2l3.6 3.6m0 -3.6l-3.6 3.6M123.2 193.4l3.6 3.6m0 -3.6l-3.6 3.6M136.5 144.1l3.6 3.6m0 -3.6l-3.6 3.6M125.0 156.0l3.6 3.6m0 -3.6l-3.6 3.6M140.4 119.0l3.6 3.6m0 -3.6l-3.6 3.6M140.9 112.7l3.6 3.6m0 -3.6l-3.6 3.6M125.8 194.4l3.6 3.6m0 -3.6l-3.6 3.6M144.6 118.4l3.6 3.6m0 -3.6l-3.6 3.6M137.4 128.7l3.6 3.6m0 -3.6l-3.6 3.6M131.6 95.1l3.6 3.6m0 -3.6l-3.6 3.6M126.4 197.8l3.6 3.6m0 -3.6l-3.6 3.6M138.9 95.2l3.6 3.6m0 -3.6l-3.6 3.6M129.8 118.2l3.6 3.6m0 -3.6l-3.6 3.6M126.6 156.7l3.6 3.6m0 -3.6l-3.6 3.6M125.7 185.0l3.6 3.6m0 -3.6l-3.6 3.6M123.6 193.6l3.6 3.6m0 -3.6l-3.6 3.6M138.0 148.5l3.6 3.6m0 -3.6l-3.6 3.6M140.8 122.6l3.6 3.6m0 -3.6l-3.6 3.6M138.1 112.2l3.6 3.6m0 -3.6l-3.6 3.6M137.3 91.4l3.6 3.6m0 -3.6l-3.6 3.6M127.7 130.4l3.6 3.6m0 -3.6l-3.6 3.6M134.8 185.8l3.6 3.6m0 -3.6l-3.6 3.6M128.2 94.0l3.6 3.6m0 -3.6l-3.6 3.6M124.0 194.8l3.6 3.6m0 -3.6l-3.6 3.6M126.4 198.1l3.6 3.6m0 -3.6l-3.6 3.6M127.6 179.4l3.6 3.6m0 -3.6l-3.6 3.6M134.4 153.4l3.6 3.6m0 -3.6l-3.6 3.6M129.0 199.5l3.6 3.6m0 -3.6l-3.6 3.6M140.4 134.3l3.6 3.6m0 -3.6l-3.6 3.6M121.3 169.3l3.6 3.6m0 -3.6l-3.6 3.6M138.5 151.3l3.6 3.6m0 -3.6l-3.6 3.6M137.1 142.2l3.6 3.6m0 -3.6l-3.6 3.6M127.0 136.2l3.6 3.6m0 -3.6l-3.6 3.6M129.0 94.3l3.6 3.6m0 -3.6l-3.6 3.6M142.8 147.9l3.6 3.6m0 -3.6l-3.6 3.6M130.3 108.7l3.6 3.6m0 -3.6l-3.6 3.6M124.6 191.0l3.6 3.6m0 -3.6l-3.6 3.6M141.0 120.6l3.6 3.6m0 -3.6l-3.6 3.6M128.4 105.9l3.6 3.6m0 -3.6l-3.6 3.6M121.2 200.8l3.6 3.6m0 -3.6l-3.6 3.6M140.9 104.0l3.6 3.6m0 -3.6l-3.6 3.6M134.0 172.2l3.6 3.6m0 -3.6l-3.6 3.6M141.7 153.8l3.6 3.6m0 -3.6l-3.6 3.6M128.4 131.7l3.6 3.6m0 -3.6l-3.6 3.6M129.8 142.1l3.6 3.6m0 -3.6l-3.6 3.6M130.3 112.4l3.6 3.6m0 -3.6l-3.6 3.6M134.2 188.5l3.6 3.6m0 -3.6l-3.6 3.6M141.2 116.6l3.6 3.6m0 -3.6l-3.6 3.6M125.8 171.3l3.6 3.6m0 -3.6l-3.6 3.6M138.8 118.2l3.6 3.6m0 -3.6l-3.6 3.6M131.4 126.7l3.6 3.6m0 -3.6l-3.6 3.6M130.6 148.5l3.6 3.6m0 -3.6l-3.6 3.6M136.6 191.8l3.6 3.6m0 -3.6l-3.6 3.6M124.7 187.4l3.6 3.6m0 -3.6l-3.6 3.6M125.9 198.3l3.6 3.6m0 -3.6l-3.6 3.6M138.8 112.9l3.6 3.6m0 -3.6l-3.6 3.6M131.7 97.2l3.6 3.6m0 -3.6l-3.6 3.6M141.3 92.9l3.6 3.6m0 -3.6l-3.6 3.6M130.5 118.0l3.6 3.6m0 -3.6l-3.6 3.6M131.0 140.7l3.6 3.6m0 -3.6l-3.6 3.6M123.0 173.0l3.6 3.6m0 -3.6l-3.6 3.6M133.3 94.3l3.6 3.6m0 -3.6l-3.6 3.6M129.9 113.7l3.6 3.6m0 -3.6l-3.6 3.6M136.1 128.9l3.6 3.6m0 -3.6l-3.6 3.6M136.6 186.9l3.6 3.6m0 -3.6l-3.6 3.6M136.1 168.1l3.6 3.6m0 -3.6l-3.6 3.6M125.8 157.9l3.6 3.6m0 -3.6l-3.6 3.6M138.2 170.9l3.6 3.6m0 -3.6l-3.6 3.6M134.3 185.5l3.6 3.6m0 -3.6l-3.6 3.6M143.3 120.3l3.6 3.6m0 -3.6l-3.6 3.6M137.8 172.4l3.6 3.6m0 -3.6l-3.6 3.6M133.1 99.6l3.6 3.6m0 -3.6l-3.6 3.6M126.0 179.8l3.6 3.6m0 -3.6l-3.6 3.6M129.3 146.4l3.6 3.6m0 -3.6l-3.6 3.6M140.5 91.5l3.6 3.6m0 -3.6l-3.6 3.6M125.6 199.1l3.6 3.6m0 -3.6l-3.6 3.6M143.6 106.9l3.6 3.6m0 -3.6l-3.6 3.6M128.3 139.4l3.6 3.6m0 -3.6l-3.6 3.6M140.1 137.2l3.6 3.6m0 -3.6l-3.6 3.6M142.5 134.1l3.6 3.6m0 -3.6l-3.6 3.6M143.6 100.5l3.6 3.6m0 -3.6l-3.6 3.6M137.9 133.1l3.6 3.6m0 -3.6l-3.6 3.6M140.2 151.9l3.6 3.6m0 -3.6l-3.6 3.6M123.3 163.7l3.6 3.6m0 -3.6l-3.6 3.6M133.8 164.6l3.6 3.6m0 -3.6l-3.6 3.6M140.5 125.8l3.6 3.6m0 -3.6l-3.6 3.6M124.2 178.2l3.6 3.6m0 -3.6l-3.6 3.6M131.8 172.4l3.6 3.6m0 -3.6l-3.6 3.6M125.0 199.1l3.6 3.6m0 -3.6l-3.6 3.6M123.3 193.7l3.6 3.6m0 -3.6l-3.6 3.6M123.5 191.6l3.6 3.6m0 -3.6l-3.6 3.6M128.4 108.4l3.6 3.6m0 -3.6l-3.6 3.6M138.6 118.0l3.6 3.6m0 -3.6l-3.6 3.6M141.5 140.6l3.6 3.6m0 -3.6l-3.6 3.6M127.4 175.6l3.6 3.6m0 -3.6l-3.6 3.6M140.3 125.2l3.6 3.6m0 -3.6l-3.6 3.6M128.2 113.4l3.6 3.6m0 -3.6l-3.6 3.6M125.5 169.8l3.6 3.6m0 -3.6l-3.6 3.6M124.6 189.6l3.6 3.6m0 -3.6l-3.6 3.6M129.5 149.3l3.6 3.6m0 -3.6l-3.6 3.6M133.1 94.2l3.6 3.6m0 -3.6l-3.6 3.6M139.5 125.7l3.6 3.6m0 -3.6l-3.6 3.6M145.0 112.3l3.6 3.6m0 -3.6l-3.6 3.6M131.5 179.5l3.6 3.6m0 -3.6l-3.6 3.6M138.2 131.8l3.6 3.6m0 -3.6l-3.6 3.6M127.7 199.2l3.6 3.6m0 -3.6l-3.6 3.6M124.1 182.5l3.6 3.6m0 -3.6l-3.6 3.6M144.3 97.6l3.6 3.6m0 -3.6l-3.6 3.6M131.9 195.0l3.6 3.6m0 -3.6l-3.6 3.6M134.4 190.1l3.6 3.6m0 -3.6l-3.6 3.6M139.1 91.3l3.6 3.6m0 -3.6l-3.6 3.6M125.0 160.4l3.6 3.6m0 -3.6l-3.6 3.6M121.7 196.6l3.6 3.6m0 -3.6l-3.6 3.6M126.9 170.2l3.6 3.6m0 -3.6l-3.6 3.6M124.9 200.5l3.6 3.6m0 -3.6l-3.6 3.6M132.2 178.5l3.6 3.6m0 -3.6l-3.6 3.6M126.7 157.1l3.6 3.6m0 -3.6l-3.6 3.6M140.8 107.3l3.6 3.6m0 -3.6l-3.6 3.6M124.9 146.5l3.6 3.6m0 -3.6l-3.6 3.6M127.7 198.5l3.6 3.6m0 -3.6l-3.6 3.6M137.1 188.7l3.6 3.6m0 -3.6l-3.6 3.6M120.8 194.3l3.6 3.6m0 -3.6l-3.6 3.6M127.7 196.9l3.6 3.6m0 -3.6l-3.6 3.6M142.9 104.7l3.6 3.6m0 -3.6l-3.6 3.6M128.7 108.0l3.6 3.6m0 -3.6l-3.6 3.6M123.5 165.5l3.6 3.6m0 -3.6l-3.6 3.6M127.3 182.2l3.6 3.6m0 -3.6l-3.6 3.6M139.2 155.0l3.6 3.6m0 -3.6l-3.6 3.6M141.9 115.5l3.6 3.6m0 -3.6l-3.6 3.6M139.4 121.4l3.6 3.6m0 -3.6l-3.6 3.6M121.3 187.1l3.6 3.6m0 -3.6l-3.6 3.6M137.5 94.0l3.6 3.6m0 -3.6l-3.6 3.6M137.6 152.8l3.6 3.6m0 -3.6l-3.6 3.6M128.8 125.6l3.6 3.6m0 -3.6l-3.6 3.6M129.8 104.7l3.6 3.6m0 -3.6l-3.6 3.6M125.8 167.9l3.6 3.6m0 -3.6l-3.6 3.6M126.7 132.9l3.6 3.6m0 -3.6l-3.6 3.6M141.8 136.9l3.6 3.6m0 -3.6l-3.6 3.6M129.4 145.8l3.6 3.6m0 -3.6l-3.6 3.6M126.1 136.7l3.6 3.6m0 -3.6l-3.6 3.6M138.0 130.3l3.6 3.6m0 -3.6l-3.6 3.6M139.2 155.7l3.6 3.6m0 -3.6l-3.6 3.6M130.7 95.2l3.6 3.6m0 -3.6l-3.6 3.6M138.2 144.2l3.6 3.6m0 -3.6l-3.6 3.6M140.8 121.7l3.6 3.6m0 -3.6l-3.6 3.6M131.0 189.2l3.6 3.6m0 -3.6l-3.6 3.6M138.4 146.8l3.6 3.6m0 -3.6l-3.6 3.6M139.4 157.3l3.6 3.6m0 -3.6l-3.6 3.6M135.0 95.2l3.6 3.6m0 -3.6l-3.6 3.6M141.1 95.2l3.6 3.6m0 -3.6l-3.6 3.6M122.2 193.5l3.6 3.6m0 -3.6l-3.6 3.6M120.0 201.7l3.6 3.6m0 -3.6l-3.6 3.6M131.6 171.3l3.6 3.6m0 -3.6l-3.6 3.6M136.7 145.4l3.6 3.6m0 -3.6l-3.6 3.6M142.5 106.6l3.6 3.6m0 -3.6l-3.6 3.6M140.3 100.2l3.6 3.6m0 -3.6l-3.6 3.6M139.1 131.1l3.6 3.6m0 -3.6l-3.6 3.6M142.0 139.5l3.6 3.6m0 -3.6l-3.6 3.6M129.4 159.7l3.6 3.6m0 -3.6l-3.6 3.6M125.9 183.8l3.6 3.6m0 -3.6l-3.6 3.6M121.8 175.9l3.6 3.6m0 -3.6l-3.6 3.6M136.3 155.7l3.6 3.6m0 -3.6l-3.6 3.6M139.1 127.2l3.6 3.6m0 -3.6l-3.6 3.6M138.7 122.8l3.6 3.6m0 -3.6l-3.6 3.6M133.6 191.6l3.6 3.6m0 -3.6l-3.6 3.6M143.2 98.0l3.6 3.6m0 -3.6l-3.6 3.6M135.4 179.3l3.6 3.6m0 -3.6l-3.6 3.6M125.0 139.4l3.6 3.6m0 -3.6l-3.6 3.6M131.3 122.4l3.6 3.6m0 -3.6l-3.6 3.6M125.3 166.6l3.6 3.6m0 -3.6l-3.6 3.6M123.5 189.7l3.6 3.6m0 -3.6l-3.6 3.6M127.4 139.8l3.6 3.6m0 -3.6l-3.6 3.6M138.2 95.4l3.6 3.6m0 -3.6l-3.6 3.6M137.5 91.4l3.6 3.6m0 -3.6l-3.6 3.6M132.6 118.7l3.6 3.6m0 -3.6l-3.6 3.6M123.9 196.3l3.6 3.6m0 -3.6l-3.6 3.6M129.7 184.6l3.6 3.6m0 -3.6l-3.6 3.6M138.1 131.6l3.6 3.6m0 -3.6l-3.6 3.6M128.3 147.1l3.6 3.6m0 -3.6l-3.6 3.6M125.8 164.6l3.6 3.6m0 -3.6l-3.6 3.6M125.0 134.8l3.6 3.6m0 -3.6l-3.6 3.6M143.4 97.1l3.6 3.6m0 -3.6l-3.6 3.6M138.5 132.9l3.6 3.6m0 -3.6l-3.6 3.6M140.1 168.2l3.6 3.6m0 -3.6l-3.6 3.6M129.2 133.3l3.6 3.6m0 -3.6l-3.6 3.6M133.1 194.0l3.6 3.6m0 -3.6l-3.6 3.6M140.8 101.7l3.6 3.6m0 -3.6l-3.6 3.6M125.8 194.5l3.6 3.6m0 -3.6l-3.6 3.6M125.4 198.4l3.6 3.6m0 -3.6l-3.6 3.6M130.0 127.5l3.6 3.6m0 -3.6l-3.6 3.6M140.6 140.8l3.6 3.6m0 -3.6l-3.6 3.6M139.1 125.9l3.6 3.6m0 -3.6l-3.6 3.6M140.0 137.1l3.6 3.6m0 -3.6l-3.6 3.6M128.4 153.0l3.6 3.6m0 -3.6l-3.6 3.6M124.3 193.1l3.6 3.6m0 -3.6l-3.6 3.6M125.1 200.8l3.6 3.6m0 -3.6l-3.6 3.6M134.5 168.5l3.6 3.6m0 -3.6l-3.6 3.6M125.1 146.4l3.6 3.6m0 -3.6l-3.6 3.6M126.4 147.9l3.6 3.6m0 -3.6l-3.6 3.6M129.3 115.1l3.6 3.6m0 -3.6l-3.6 3.6M145.3 103.9l3.6 3.6m0 -3.6l-3.6 3.6M138.7 142.2l3.6 3.6m0 -3.6l-3.6 3.6M133.2 89.5l3.6 3.6m0 -3.6l-3.6 3.6M139.3 156.5l3.6 3.6m0 -3.6l-3.6 3.6M132.2 191.9l3.6 3.6m0 -3.6l-3.6 3.6M139.2 96.2l3.6 3.6m0 -3.6l-3.6 3.6M137.9 186.6l3.6 3.6m0 -3.6l-3.6 3.6M129.6 198.4l3.6 3.6m0 -3.6l-3.6 3.6M136.8 185.3l3.6 3.6m0 -3.6l-3.6 3.6M122.7 159.1l3.6 3.6m0 -3.6l-3.6 3.6M128.6 201.6l3.6 3.6m0 -3.6l-3.6 3.6M142.9 108.6l3.6 3.6m0 -3.6l-3.6 3.6M130.8 105.0l3.6 3.6m0 -3.6l-3.6 3.6M124.6 167.2l3.6 3.6m0 -3.6l-3.6 3.6M140.7 139.7l3.6 3.6m0 -3.6l-3.6 3.6M124.8 181.2l3.6 3.6m0 -3.6l-3.6 3.6M125.6 170.9l3.6 3.6m0 -3.6l-3.6 3.6M142.3 105.6l3.6 3.6m0 -3.6l-3.6 3.6M139.9 130.2l3.6 3.6m0 -3.6l-3.6 3.6M131.5 112.5l3.6 3.6m0 -3.6l-3.6 3.6M139.7 133.7l3.6 3.6m0 -3.6l-3.6 3.6M126.1 112.8l3.6 3.6m0 -3.6l-3.6 3.6M124.6 174.4l3.6 3.6m0 -3.6l-3.6 3.6M120.7 187.3l3.6 3.6m0 -3.6l-3.6 3.6M122.8 140.8l3.6 3.6m0 -3.6l-3.6 3.6M130.8 103.2l3.6 3.6m0 -3.6l-3.6 3.6M123.8 168.8l3.6 3.6m0 -3.6l-3.6 3.6M123.5 142.8l3.6 3.6m0 -3.6l-3.6 3.6M123.4 139.3l3.6 3.6m0 -3.6l-3.6 3.6M126.2 103.6l3.6 3.6m0 -3.6l-3.6 3.6M126.3 117.3l3.6 3.6m0 -3.6l-3.6 3.6M122.6 113.8l3.6 3.6m0 -3.6l-3.6 3.6M121.2 158.5l3.6 3.6m0 -3.6l-3.6 3.6M123.0 180.3l3.6 3.6m0 -3.6l-3.6 3.6M117.4 173.1l3.6 3.6m0 -3.6l-3.6 3.6M124.5 163.7l3.6 3.6m0 -3.6l-3.6 3.6M125.8 102.2l3.6 3.6m0 -3.6l-3.6 3.6M122.5 142.3l3.6 3.6m0 -3.6l-3.6 3.6M122.2 174.8l3.6 3.6m0 -3.6l-3.6 3.6M121.9 179.0l3.6 3.6m0 -3.6l-3.6 3.6M126.0 137.4l3.6 3.6m0 -3.6l-3.6 3.6M130.8 131.2l3.6 3.6m0 -3.6l-3.6 3.6M129.3 92.9l3.6 3.6m0 -3.6l-3.6 3.6M125.6 134.3l3.6 3.6m0 -3.6l-3.6 3.6M126.7 107.3l3.6 3.6m0 -3.6l-3.6 3.6M126.4 141.8l3.6 3.6m0 -3.6l-3.6 3.6M179.4 144.8l3.6 3.6m0 -3.6l-3.6 3.6M185.2 154.1l3.6 3.6m0 -3.6l-3.6 3.6M178.5 144.9l3.6 3.6m0 -3.6l-3.6 3.6M178.8 152.9l3.6 3.6m0 -3.6l-3.6 3.6M190.9 131.1l3.6 3.6m0 -3.6l-3.6 3.6M156.3 138.2l3.6 3.6m0 -3.6l-3.6 3.6M169.7 128.3l3.6 3.6m0 -3.6l-3.6 3.6M135.6 193.1l3.6 3.6m0 -3.6l-3.6 3.6M178.4 131.5l3.6 3.6m0 -3.6l-3.6 3.6M137.2 181.0l3.6 3.6m0 -3.6l-3.6 3.6M174.4 154.8l3.6 3.6m0 -3.6l-3.6 3.6M149.8 141.1l3.6 3.6m0 -3.6l-3.6 3.6M174.0 137.8l3.6 3.6m0 -3.6l-3.6 3.6M169.9 129.6l3.6 3.6m0 -3.6l-3.6 3.6M144.5 143.2l3.6 3.6m0 -3.6l-3.6 3.6M200.9 127.1l3.6 3.6m0 -3.6l-3.6 3.6M154.3 149.3l3.6 3.6m0 -3.6l-3.6 3.6M180.0 121.6l3.6 3.6m0 -3.6l-3.6 3.6M164.5 131.3l3.6 3.6m0 -3.6l-3.6 3.6M152.5 145.1l3.6 3.6m0 -3.6l-3.6 3.6M155.2 175.1l3.6 3.6m0 -3.6l-3.6 3.6M170.3 135.0l3.6 3.6m0 -3.6l-3.6 3.6M154.3 165.7l3.6 3.6m0 -3.6l-3.6 3.6M195.2 127.5l3.6 3.6m0 -3.6l-3.6 3.6M161.6 155.6l3.6 3.6m0 -3.6l-3.6 3.6M187.5 137.0l3.6 3.6m0 -3.6l-3.6 3.6M142.7 162.5l3.6 3.6m0 -3.6l-3.6 3.6M159.9 167.6l3.6 3.6m0 -3.6l-3.6 3.6M164.9 149.0l3.6 3.6m0 -3.6l-3.6 3.6M150.1 162.0l3.6 3.6m0 -3.6l-3.6 3.6M152.8 137.3l3.6 3.6m0 -3.6l-3.6 3.6M168.1 124.9l3.6 3.6m0 -3.6l-3.6 3.6M141.6 174.6l3.6 3.6m0 -3.6l-3.6 3.6M151.0 122.9l3.6 3.6m0 -3.6l-3.6 3.6M149.1 142.5l3.6 3.6m0 -3.6l-3.6 3.6M155.8 145.8l3.6 3.6m0 -3.6l-3.6 3.6M150.9 143.4l3.6 3.6m0 -3.6l-3.6 3.6M193.6 128.1l3.6 3.6m0 -3.6l-3.6 3.6M132.1 194.9l3.6 3.6m0 -3.6l-3.6 3.6M175.8 153.0l3.6 3.6m0 -3.6l-3.6 3.6M156.3 147.4l3.6 3.6m0 -3.6l-3.6 3.6M156.3 161.6l3.6 3.6m0 -3.6l-3.6 3.6M146.9 156.9l3.6 3.6m0 -3.6l-3.6 3.6M155.2 142.8l3.6 3.6m0 -3.6l-3.6 3.6M179.4 147.0l3.6 3.6m0 -3.6l-3.6 3.6M191.4 142.8l3.6 3.6m0 -3.6l-3.6 3.6M148.3 129.2l3.6 3.6m0 -3.6l-3.6 3.6M155.8 150.6l3.6 3.6m0 -3.6l-3.6 3.6M137.6 186.0l3.6 3.6m0 -3.6l-3.6 3.6M152.8 179.3l3.6 3.6m0 -3.6l-3.6 3.6M144.6 155.3l3.6 3.6m0 -3.6l-3.6 3.6M152.0 152.5l3.6 3.6m0 -3.6l-3.6 3.6M147.5 132.0l3.6 3.6m0 -3.6l-3.6 3.6M144.4 149.0l3.6 3.6m0 -3.6l-3.6 3.6M152.9 157.0l3.6 3.6m0 -3.6l-3.6 3.6M150.9 149.2l3.6 3.6m0 -3.6l-3.6 3.6M149.8 163.8l3.6 3.6m0 -3.6l-3.6 3.6M151.4 176.9l3.6 3.6m0 -3.6l-3.6 3.6M143.1 121.1l3.6 3.6m0 -3.6l-3.6 3.6M136.3 184.0l3.6 3.6m0 -3.6l-3.6 3.6M154.9 148.4l3.6 3.6m0 -3.6l-3.6 3.6M149.3 158.5l3.6 3.6m0 -3.6l-3.6 3.6M150.1 140.2l3.6 3.6m0 -3.6l-3.6 3.6M141.4 143.4l3.6 3.6m0 -3.6l-3.6 3.6M142.4 184.8l3.6 3.6m0 -3.6l-3.6 3.6M145.0 148.5l3.6 3.6m0 -3.6l-3.6 3.6M146.2 147.5l3.6 3.6m0 -3.6l-3.6 3.6M154.7 158.0l3.6 3.6m0 -3.6l-3.6 3.6M142.5 168.1l3.6 3.6m0 -3.6l-3.6 3.6M143.8 159.7l3.6 3.6m0 -3.6l-3.6 3.6M141.3 179.3l3.6 3.6m0 -3.6l-3.6 3.6M145.6 169.8l3.6 3.6m0 -3.6l-3.6 3.6M157.8 168.2l3.6 3.6m0 -3.6l-3.6 3.6M155.8 160.8l3.6 3.6m0 -3.6l-3.6 3.6M140.5 182.8l3.6 3.6m0 -3.6l-3.6 3.6M141.6 138.6l3.6 3.6m0 -3.6l-3.6 3.6M150.9 165.1l3.6 3.6m0 -3.6l-3.6 3.6M142.7 154.2l3.6 3.6m0 -3.6l-3.6 3.6M155.8 150.2l3.6 3.6m0 -3.6l-3.6 3.6M144.6 138.6l3.6 3.6m0 -3.6l-3.6 3.6M149.2 168.5l3.6 3.6m0 -3.6l-3.6 3.6M145.1 179.5l3.6 3.6m0 -3.6l-3.6 3.6M151.1 139.5l3.6 3.6m0 -3.6l-3.6 3.6M144.1 172.3l3.6 3.6m0 -3.6l-3.6 3.6M138.8 147.3l3.6 3.6m0 -3.6l-3.6 3.6M150.2 147.5l3.6 3.6m0 -3.6l-3.6 3.6M157.1 160.5l3.6 3.6m0 -3.6l-3.6 3.6M156.2 158.7l3.6 3.6m0 -3.6l-3.6 3.6M153.8 149.2l3.6 3.6m0 -3.6l-3.6 3.6M144.6 155.8l3.6 3.6m0 -3.6l-3.6 3.6M138.1 177.0l3.6 3.6m0 -3.6l-3.6 3.6M146.7 142.8l3.6 3.6m0 -3.6l-3.6 3.6M135.6 180.4l3.6 3.6m0 -3.6l-3.6 3.6M140.8 170.1l3.6 3.6m0 -3.6l-3.6 3.6M154.4 148.8l3.6 3.6m0 -3.6l-3.6 3.6M149.8 167.4l3.6 3.6m0 -3.6l-3.6 3.6M143.9 146.4l3.6 3.6m0 -3.6l-3.6 3.6M141.8 171.3l3.6 3.6m0 -3.6l-3.6 3.6M150.2 146.6l3.6 3.6m0 -3.6l-3.6 3.6M148.9 136.7l3.6 3.6m0 -3.6l-3.6 3.6M148.5 146.8l3.6 3.6m0 -3.6l-3.6 3.6M143.4 165.6l3.6 3.6m0 -3.6l-3.6 3.6M136.9 186.2l3.6 3.6m0 -3.6l-3.6 3.6M145.6 170.6l3.6 3.6m0 -3.6l-3.6 3.6M139.3 138.1l3.6 3.6m0 -3.6l-3.6 3.6M143.4 178.7l3.6 3.6m0 -3.6l-3.6 3.6M154.9 148.1l3.6 3.6m0 -3.6l-3.6 3.6M149.0 146.6l3.6 3.6m0 -3.6l-3.6 3.6M140.8 183.1l3.6 3.6m0 -3.6l-3.6 3.6M143.3 166.2l3.6 3.6m0 -3.6l-3.6 3.6M148.4 150.7l3.6 3.6m0 -3.6l-3.6 3.6M139.8 141.6l3.6 3.6m0 -3.6l-3.6 3.6M156.5 167.6l3.6 3.6m0 -3.6l-3.6 3.6M140.8 138.8l3.6 3.6m0 -3.6l-3.6 3.6M146.9 166.4l3.6 3.6m0 -3.6l-3.6 3.6M145.6 148.9l3.6 3.6m0 -3.6l-3.6 3.6M143.1 128.9l3.6 3.6m0 -3.6l-3.6 3.6M136.7 180.1l3.6 3.6m0 -3.6l-3.6 3.6M144.2 124.3l3.6 3.6m0 -3.6l-3.6 3.6M154.5 156.1l3.6 3.6m0 -3.6l-3.6 3.6M142.3 131.0l3.6 3.6m0 -3.6l-3.6 3.6M139.7 157.6l3.6 3.6m0 -3.6l-3.6 3.6M155.0 154.1l3.6 3.6m0 -3.6l-3.6 3.6M134.2 192.0l3.6 3.6m0 -3.6l-3.6 3.6M151.1 173.5l3.6 3.6m0 -3.6l-3.6 3.6M157.0 159.1l3.6 3.6m0 -3.6l-3.6 3.6M143.7 137.9l3.6 3.6m0 -3.6l-3.6 3.6M144.9 123.5l3.6 3.6m0 -3.6l-3.6 3.6M154.3 151.0l3.6 3.6m0 -3.6l-3.6 3.6M149.7 154.3l3.6 3.6m0 -3.6l-3.6 3.6M145.1 167.1l3.6 3.6m0 -3.6l-3.6 3.6M148.7 165.5l3.6 3.6m0 -3.6l-3.6 3.6M143.4 126.1l3.6 3.6m0 -3.6l-3.6 3.6M150.8 177.3l3.6 3.6m0 -3.6l-3.6 3.6M146.2 166.6l3.6 3.6m0 -3.6l-3.6 3.6M140.6 184.1l3.6 3.6m0 -3.6l-3.6 3.6M142.9 132.6l3.6 3.6m0 -3.6l-3.6 3.6M147.7 160.9l3.6 3.6m0 -3.6l-3.6 3.6M141.8 135.0l3.6 3.6m0 -3.6l-3.6 3.6M148.1 136.0l3.6 3.6m0 -3.6l-3.6 3.6M140.6 158.6l3.6 3.6m0 -3.6l-3.6 3.6M138.5 185.1l3.6 3.6m0 -3.6l-3.6 3.6M150.6 163.6l3.6 3.6m0 -3.6l-3.6 3.6M151.4 157.3l3.6 3.6m0 -3.6l-3.6 3.6M142.9 172.2l3.6 3.6m0 -3.6l-3.6 3.6M147.6 152.7l3.6 3.6m0 -3.6l-3.6 3.6M140.5 167.8l3.6 3.6m0 -3.6l-3.6 3.6M149.8 143.7l3.6 3.6m0 -3.6l-3.6 3.6M153.5 146.0l3.6 3.6m0 -3.6l-3.6 3.6M151.0 156.1l3.6 3.6m0 -3.6l-3.6 3.6M137.4 176.4l3.6 3.6m0 -3.6l-3.6 3.6M151.5 148.0l3.6 3.6m0 -3.6l-3.6 3.6M146.8 158.6l3.6 3.6m0 -3.6l-3.6 3.6M153.9 157.7l3.6 3.6m0 -3.6l-3.6 3.6M144.8 177.4l3.6 3.6m0 -3.6l-3.6 3.6M151.7 143.2l3.6 3.6m0 -3.6l-3.6 3.6M142.4 171.7l3.6 3.6m0 -3.6l-3.6 3.6M144.2 122.2l3.6 3.6m0 -3.6l-3.6 3.6M147.9 176.4l3.6 3.6m0 -3.6l-3.6 3.6M144.5 161.0l3.6 3.6m0 -3.6l-3.6 3.6M142.5 145.6l3.6 3.6m0 -3.6l-3.6 3.6M140.1 144.7l3.6 3.6m0 -3.6l-3.6 3.6M148.7 167.3l3.6 3.6m0 -3.6l-3.6 3.6M151.3 146.6l3.6 3.6m0 -3.6l-3.6 3.6M146.7 173.2l3.6 3.6m0 -3.6l-3.6 3.6M149.6 143.0l3.6 3.6m0 -3.6l-3.6 3.6M143.7 121.6l3.6 3.6m0 -3.6l-3.6 3.6M134.7 189.0l3.6 3.6m0 -3.6l-3.6 3.6M140.2 156.8l3.6 3.6m0 -3.6l-3.6 3.6M148.1 147.9l3.6 3.6m0 -3.6l-3.6 3.6M204.4 134.2l3.6 3.6m0 -3.6l-3.6 3.6M225.9 110.0l3.6 3.6m0 -3.6l-3.6 3.6M144.3 171.5l3.6 3.6m0 -3.6l-3.6 3.6M185.7 149.3l3.6 3.6m0 -3.6l-3.6 3.6M125.7 195.7l3.6 3.6m0 -3.6l-3.6 3.6M209.7 121.6l3.6 3.6m0 -3.6l-3.6 3.6M239.8 88.3l3.6 3.6m0 -3.6l-3.6 3.6M166.6 157.3l3.6 3.6m0 -3.6l-3.6 3.6M139.7 189.2l3.6 3.6m0 -3.6l-3.6 3.6M126.2 194.5l3.6 3.6m0 -3.6l-3.6 3.6M176.4 147.2l3.6 3.6m0 -3.6l-3.6 3.6M127.7 195.3l3.6 3.6m0 -3.6l-3.6 3.6M222.0 115.5l3.6 3.6m0 -3.6l-3.6 3.6M181.1 149.4l3.6 3.6m0 -3.6l-3.6 3.6M157.2 175.7l3.6 3.6m0 -3.6l-3.6 3.6M209.0 131.4l3.6 3.6m0 -3.6l-3.6 3.6M189.9 147.7l3.6 3.6m0 -3.6l-3.6 3.6M137.9 178.2l3.6 3.6m0 -3.6l-3.6 3.6M144.2 174.0l3.6 3.6m0 -3.6l-3.6 3.6M135.9 188.5l3.6 3.6m0 -3.6l-3.6 3.6M131.2 192.2l3.6 3.6m0 -3.6l-3.6 3.6M153.6 179.1l3.6 3.6m0 -3.6l-3.6 3.6M149.8 175.2l3.6 3.6m0 -3.6l-3.6 3.6M246.1 98.2l3.6 3.6m0 -3.6l-3.6 3.6M239.5 98.8l3.6 3.6m0 -3.6l-3.6 3.6M143.2 182.9l3.6 3.6m0 -3.6l-3.6 3.6M192.1 141.0l3.6 3.6m0 -3.6l-3.6 3.6M144.7 173.4l3.6 3.6m0 -3.6l-3.6 3.6M237.6 104.0l3.6 3.6m0 -3.6l-3.6 3.6M225.3 114.8l3.6 3.6m0 -3.6l-3.6 3.6M169.9 157.7l3.6 3.6m0 -3.6l-3.6 3.6M187.6 140.1l3.6 3.6m0 -3.6l-3.6 3.6M162.9 167.7l3.6 3.6m0 -3.6l-3.6 3.6M146.4 181.2l3.6 3.6m0 -3.6l-3.6 3.6M222.2 118.6l3.6 3.6m0 -3.6l-3.6 3.6M179.2 154.6l3.6 3.6m0 -3.6l-3.6 3.6M227.5 107.9l3.6 3.6m0 -3.6l-3.6 3.6M137.4 183.1l3.6 3.6m0 -3.6l-3.6 3.6M241.6 96.1l3.6 3.6m0 -3.6l-3.6 3.6M237.2 106.5l3.6 3.6m0 -3.6l-3.6 3.6M240.7 100.6l3.6 3.6m0 -3.6l-3.6 3.6M198.9 125.3l3.6 3.6m0 -3.6l-3.6 3.6M154.1 173.4l3.6 3.6m0 -3.6l-3.6 3.6M193.9 136.1l3.6 3.6m0 -3.6l-3.6 3.6M176.9 151.7l3.6 3.6m0 -3.6l-3.6 3.6M245.5 92.9l3.6 3.6m0 -3.6l-3.6 3.6M208.4 131.7l3.6 3.6m0 -3.6l-3.6 3.6M183.5 151.1l3.6 3.6m0 -3.6l-3.6 3.6M215.4 124.7l3.6 3.6m0 -3.6l-3.6 3.6M175.4 155.1l3.6 3.6m0 -3.6l-3.6 3.6M232.6 108.1l3.6 3.6m0 -3.6l-3.6 3.6M157.7 163.6l3.6 3.6m0 -3.6l-3.6 3.6M241.9 106.5l3.6 3.6m0 -3.6l-3.6 3.6M229.6 95.2l3.6 3.6m0 -3.6l-3.6 3.6M231.8 109.1l3.6 3.6m0 -3.6l-3.6 3.6M135.0 192.1l3.6 3.6m0 -3.6l-3.6 3.6M196.3 142.2l3.6 3.6m0 -3.6l-3.6 3.6M223.7 104.9l3.6 3.6m0 -3.6l-3.6 3.6M165.2 169.1l3.6 3.6m0 -3.6l-3.6 3.6M205.2 129.8l3.6 3.6m0 -3.6l-3.6 3.6M205.0 128.0l3.6 3.6m0 -3.6l-3.6 3.6M156.6 175.9l3.6 3.6m0 -3.6l-3.6 3.6M247.3 92.2l3.6 3.6m0 -3.6l-3.6 3.6M161.6 157.1l3.6 3.6m0 -3.6l-3.6 3.6M234.5 108.0l3.6 3.6m0 -3.6l-3.6 3.6M217.6 114.0l3.6 3.6m0 -3.6l-3.6 3.6M228.1 114.9l3.6 3.6m0 -3.6l-3.6 3.6M181.8 153.3l3.6 3.6m0 -3.6l-3.6 3.6M180.1 151.7l3.6 3.6m0 -3.6l-3.6 3.6M177.1 148.4l3.6 3.6m0 -3.6l-3.6 3.6M222.8 120.5l3.6 3.6m0 -3.6l-3.6 3.6M146.9 175.6l3.6 3.6m0 -3.6l-3.6 3.6M156.1 164.1l3.6 3.6m0 -3.6l-3.6 3.6M144.3 180.4l3.6 3.6m0 -3.6l-3.6 3.6M142.3 177.8l3.6 3.6m0 -3.6l-3.6 3.6M234.3 104.1l3.6 3.6m0 -3.6l-3.6 3.6M156.1 171.3l3.6 3.6m0 -3.6l-3.6 3.6M186.0 136.4l3.6 3.6m0 -3.6l-3.6 3.6M248.5 94.3l3.6 3.6m0 -3.6l-3.6 3.6M132.5 190.1l3.6 3.6m0 -3.6l-3.6 3.6M235.3 105.5l3.6 3.6m0 -3.6l-3.6 3.6M138.5 183.0l3.6 3.6m0 -3.6l-3.6 3.6M243.7 97.6l3.6 3.6m0 -3.6l-3.6 3.6M179.0 147.5l3.6 3.6m0 -3.6l-3.6 3.6M128.6 186.0l3.6 3.6m0 -3.6l-3.6 3.6M242.0 92.1l3.6 3.6m0 -3.6l-3.6 3.6M240.1 105.7l3.6 3.6m0 -3.6l-3.6 3.6M202.4 133.9l3.6 3.6m0 -3.6l-3.6 3.6M180.7 154.8l3.6 3.6m0 -3.6l-3.6 3.6M230.8 102.5l3.6 3.6m0 -3.6l-3.6 3.6M198.6 135.6l3.6 3.6m0 -3.6l-3.6 3.6M233.3 104.4l3.6 3.6m0 -3.6l-3.6 3.6M141.1 182.3l3.6 3.6m0 -3.6l-3.6 3.6M205.3 138.0l3.6 3.6m0 -3.6l-3.6 3.6M172.2 154.6l3.6 3.6m0 -3.6l-3.6 3.6M234.9 98.5l3.6 3.6m0 -3.6l-3.6 3.6M141.4 184.7l3.6 3.6m0 -3.6l-3.6 3.6M174.8 150.4l3.6 3.6m0 -3.6l-3.6 3.6M219.8 119.3l3.6 3.6m0 -3.6l-3.6 3.6M238.2 100.6l3.6 3.6m0 -3.6l-3.6 3.6M149.4 178.0l3.6 3.6m0 -3.6l-3.6 3.6M136.1 191.9l3.6 3.6m0 -3.6l-3.6 3.6M150.5 170.4l3.6 3.6m0 -3.6l-3.6 3.6M229.1 99.6l3.6 3.6m0 -3.6l-3.6 3.6M186.3 144.0l3.6 3.6m0 -3.6l-3.6 3.6M202.8 133.8l3.6 3.6m0 -3.6l-3.6 3.6M224.3 126.1l3.6 3.6m0 -3.6l-3.6 3.6M161.5 166.6l3.6 3.6m0 -3.6l-3.6 3.6M141.9 176.1l3.6 3.6m0 -3.6l-3.6 3.6M182.0 141.7l3.6 3.6m0 -3.6l-3.6 3.6M228.5 105.2l3.6 3.6m0 -3.6l-3.6 3.6M219.4 116.3l3.6 3.6m0 -3.6l-3.6 3.6M146.8 170.1l3.6 3.6m0 -3.6l-3.6 3.6M235.8 112.4l3.6 3.6m0 -3.6l-3.6 3.6M199.4 136.8l3.6 3.6m0 -3.6l-3.6 3.6M244.4 99.1l3.6 3.6m0 -3.6l-3.6 3.6M244.2 86.2l3.6 3.6m0 -3.6l-3.6 3.6M225.7 109.5l3.6 3.6m0 -3.6l-3.6 3.6M141.5 179.9l3.6 3.6m0 -3.6l-3.6 3.6M142.9 184.4l3.6 3.6m0 -3.6l-3.6 3.6M221.8 124.2l3.6 3.6m0 -3.6l-3.6 3.6M168.7 158.3l3.6 3.6m0 -3.6l-3.6 3.6M174.7 154.2l3.6 3.6m0 -3.6l-3.6 3.6M153.9 165.8l3.6 3.6m0 -3.6l-3.6 3.6M207.5 132.0l3.6 3.6m0 -3.6l-3.6 3.6M242.8 92.5l3.6 3.6m0 -3.6l-3.6 3.6M226.5 103.7l3.6 3.6m0 -3.6l-3.6 3.6M250.7 94.4l3.6 3.6m0 -3.6l-3.6 3.6M228.6 110.9l3.6 3.6m0 -3.6l-3.6 3.6M133.6 189.8l3.6 3.6m0 -3.6l-3.6 3.6M241.6 91.0l3.6 3.6m0 -3.6l-3.6 3.6M140.8 176.1l3.6 3.6m0 -3.6l-3.6 3.6M159.2 179.4l3.6 3.6m0 -3.6l-3.6 3.6M233.6 107.1l3.6 3.6m0 -3.6l-3.6 3.6M237.8 101.0l3.6 3.6m0 -3.6l-3.6 3.6M196.5 141.1l3.6 3.6m0 -3.6l-3.6 3.6M192.7 129.6l3.6 3.6m0 -3.6l-3.6 3.6M164.3 161.9l3.6 3.6m0 -3.6l-3.6 3.6M222.1 111.8l3.6 3.6m0 -3.6l-3.6 3.6M166.0 155.3l3.6 3.6m0 -3.6l-3.6 3.6M201.7 133.8l3.6 3.6m0 -3.6l-3.6 3.6M243.7 92.1l3.6 3.6m0 -3.6l-3.6 3.6M167.6 157.8l3.6 3.6m0 -3.6l-3.6 3.6M247.4 91.2l3.6 3.6m0 -3.6l-3.6 3.6M164.4 162.0l3.6 3.6m0 -3.6l-3.6 3.6M128.7 195.7l3.6 3.6m0 -3.6l-3.6 3.6M178.6 145.0l3.6 3.6m0 -3.6l-3.6 3.6M236.9 106.7l3.6 3.6m0 -3.6l-3.6 3.6M245.5 98.3l3.6 3.6m0 -3.6l-3.6 3.6M158.8 177.6l3.6 3.6m0 -3.6l-3.6 3.6M142.0 177.9l3.6 3.6m0 -3.6l-3.6 3.6M204.8 122.5l3.6 3.6m0 -3.6l-3.6 3.6M182.1 149.3l3.6 3.6m0 -3.6l-3.6 3.6M220.0 114.7l3.6 3.6m0 -3.6l-3.6 3.6M211.3 118.8l3.6 3.6m0 -3.6l-3.6 3.6M229.6 108.0l3.6 3.6m0 -3.6l-3.6 3.6M175.1 153.9l3.6 3.6m0 -3.6l-3.6 3.6M147.1 176.6l3.6 3.6m0 -3.6l-3.6 3.6M201.2 134.6l3.6 3.6m0 -3.6l-3.6 3.6M185.7 145.0l3.6 3.6m0 -3.6l-3.6 3.6M208.1 126.6l3.6 3.6m0 -3.6l-3.6 3.6M183.8 140.2l3.6 3.6m0 -3.6l-3.6 3.6M243.4 104.3l3.6 3.6m0 -3.6l-3.6 3.6M231.7 117.0l3.6 3.6m0 -3.6l-3.6 3.6M147.1 172.1l3.6 3.6m0 -3.6l-3.6 3.6M148.1 179.0l3.6 3.6m0 -3.6l-3.6 3.6M176.7 146.4l3.6 3.6m0 -3.6l-3.6 3.6M160.1 162.3l3.6 3.6m0 -3.6l-3.6 3.6M190.0 141.3l3.6 3.6m0 -3.6l-3.6 3.6M240.4 98.9l3.6 3.6m0 -3.6l-3.6 3.6M193.0 139.3l3.6 3.6m0 -3.6l-3.6 3.6M213.7 114.4l3.6 3.6m0 -3.6l-3.6 3.6M246.1 88.5l3.6 3.6m0 -3.6l-3.6 3.6M219.2 117.3l3.6 3.6m0 -3.6l-3.6 3.6M159.8 151.4l3.6 3.6m0 -3.6l-3.6 3.6M170.7 170.7l3.6 3.6m0 -3.6l-3.6 3.6M156.0 169.8l3.6 3.6m0 -3.6l-3.6 3.6M135.4 176.5l3.6 3.6m0 -3.6l-3.6 3.6M168.4 156.2l3.6 3.6m0 -3.6l-3.6 3.6M168.7 159.7l3.6 3.6m0 -3.6l-3.6 3.6M143.2 176.6l3.6 3.6m0 -3.6l-3.6 3.6M169.6 157.2l3.6 3.6m0 -3.6l-3.6 3.6M235.8 108.6l3.6 3.6m0 -3.6l-3.6 3.6M144.0 170.1l3.6 3.6m0 -3.6l-3.6 3.6M125.1 185.4l3.6 3.6m0 -3.6l-3.6 3.6M247.6 100.0l3.6 3.6m0 -3.6l-3.6 3.6M229.7 111.7l3.6 3.6m0 -3.6l-3.6 3.6M168.4 155.5l3.6 3.6m0 -3.6l-3.6 3.6M157.6 168.2l3.6 3.6m0 -3.6l-3.6 3.6M201.9 125.3l3.6 3.6m0 -3.6l-3.6 3.6M203.4 128.6l3.6 3.6m0 -3.6l-3.6 3.6M135.4 185.1l3.6 3.6m0 -3.6l-3.6 3.6M142.3 185.8l3.6 3.6m0 -3.6l-3.6 3.6M135.2 185.2l3.6 3.6m0 -3.6l-3.6 3.6M169.1 161.1l3.6 3.6m0 -3.6l-3.6 3.6M142.9 181.8l3.6 3.6m0 -3.6l-3.6 3.6M222.2 116.3l3.6 3.6m0 -3.6l-3.6 3.6M214.6 120.1l3.6 3.6m0 -3.6l-3.6 3.6M212.4 129.2l3.6 3.6m0 -3.6l-3.6 3.6M142.3 187.1l3.6 3.6m0 -3.6l-3.6 3.6M244.0 88.9l3.6 3.6m0 -3.6l-3.6 3.6M217.7 118.8l3.6 3.6m0 -3.6l-3.6 3.6M219.7 108.3l3.6 3.6m0 -3.6l-3.6 3.6M166.0 152.6l3.6 3.6m0 -3.6l-3.6 3.6M249.7 102.9l3.6 3.6m0 -3.6l-3.6 3.6M202.8 126.5l3.6 3.6m0 -3.6l-3.6 3.6M133.2 193.8l3.6 3.6m0 -3.6l-3.6 3.6M173.7 151.8l3.6 3.6m0 -3.6l-3.6 3.6M208.1 128.3l3.6 3.6m0 -3.6l-3.6 3.6M127.7 190.9l3.6 3.6m0 -3.6l-3.6 3.6M191.8 142.0l3.6 3.6m0 -3.6l-3.6 3.6M250.9 96.4l3.6 3.6m0 -3.6l-3.6 3.6M228.9 107.4l3.6 3.6m0 -3.6l-3.6 3.6M144.6 176.4l3.6 3.6m0 -3.6l-3.6 3.6M210.8 129.5l3.6 3.6m0 -3.6l-3.6 3.6M239.3 86.4l3.6 3.6m0 -3.6l-3.6 3.6M199.3 131.2l3.6 3.6m0 -3.6l-3.6 3.6M230.5 114.9l3.6 3.6m0 -3.6l-3.6 3.6M220.1 112.6l3.6 3.6m0 -3.6l-3.6 3.6M182.0 150.5l3.6 3.6m0 -3.6l-3.6 3.6M231.0 106.5l3.6 3.6m0 -3.6l-3.6 3.6M214.3 122.9l3.6 3.6m0 -3.6l-3.6 3.6M171.5 157.3l3.6 3.6m0 -3.6l-3.6 3.6M222.3 106.6l3.6 3.6m0 -3.6l-3.6 3.6M184.6 147.8l3.6 3.6m0 -3.6l-3.6 3.6M145.4 185.1l3.6 3.6m0 -3.6l-3.6 3.6M227.9 112.3l3.6 3.6m0 -3.6l-3.6 3.6M187.9 147.8l3.6 3.6m0 -3.6l-3.6 3.6M163.8 165.2l3.6 3.6m0 -3.6l-3.6 3.6M227.7 105.8l3.6 3.6m0 -3.6l-3.6 3.6M182.2 154.1l3.6 3.6m0 -3.6l-3.6 3.6M151.0 171.7l3.6 3.6m0 -3.6l-3.6 3.6M131.3 191.6l3.6 3.6m0 -3.6l-3.6 3.6M246.7 95.6l3.6 3.6m0 -3.6l-3.6 3.6M186.7 158.1l3.6 3.6m0 -3.6l-3.6 3.6M237.7 102.7l3.6 3.6m0 -3.6l-3.6 3.6M130.4 190.8l3.6 3.6m0 -3.6l-3.6 3.6M241.4 101.6l3.6 3.6m0 -3.6l-3.6 3.6M194.4 133.8l3.6 3.6m0 -3.6l-3.6 3.6M173.1 158.7l3.6 3.6m0 -3.6l-3.6 3.6M140.1 189.4l3.6 3.6m0 -3.6l-3.6 3.6M243.1 93.7l3.6 3.6m0 -3.6l-3.6 3.6M205.8 131.0l3.6 3.6m0 -3.6l-3.6 3.6M174.6 149.5l3.6 3.6m0 -3.6l-3.6 3.6M136.8 172.9l3.6 3.6m0 -3.6l-3.6 3.6M229.9 116.0l3.6 3.6m0 -3.6l-3.6 3.6M158.3 169.6l3.6 3.6m0 -3.6l-3.6 3.6M222.4 116.7l3.6 3.6m0 -3.6l-3.6 3.6M166.3 157.9l3.6 3.6m0 -3.6l-3.6 3.6M146.2 181.3l3.6 3.6m0 -3.6l-3.6 3.6M167.2 155.6l3.6 3.6m0 -3.6l-3.6 3.6M220.1 121.4l3.6 3.6m0 -3.6l-3.6 3.6M159.8 166.5l3.6 3.6m0 -3.6l-3.6 3.6M239.0 98.3l3.6 3.6m0 -3.6l-3.6 3.6M161.3 169.7l3.6 3.6m0 -3.6l-3.6 3.6M148.9 164.5l3.6 3.6m0 -3.6l-3.6 3.6M208.6 139.0l3.6 3.6m0 -3.6l-3.6 3.6M137.5 175.1l3.6 3.6m0 -3.6l-3.6 3.6M233.9 108.8l3.6 3.6m0 -3.6l-3.6 3.6M152.1 170.9l3.6 3.6m0 -3.6l-3.6 3.6M242.6 100.8l3.6 3.6m0 -3.6l-3.6 3.6M247.6 97.7l3.6 3.6m0 -3.6l-3.6 3.6M161.2 170.2l3.6 3.6m0 -3.6l-3.6 3.6M221.3 119.7l3.6 3.6m0 -3.6l-3.6 3.6M200.8 134.1l3.6 3.6m0 -3.6l-3.6 3.6M237.6 106.0l3.6 3.6m0 -3.6l-3.6 3.6M206.9 128.0l3.6 3.6m0 -3.6l-3.6 3.6M235.4 99.4l3.6 3.6m0 -3.6l-3.6 3.6M183.3 151.7l3.6 3.6m0 -3.6l-3.6 3.6M131.6 186.1l3.6 3.6m0 -3.6l-3.6 3.6M224.4 116.9l3.6 3.6m0 -3.6l-3.6 3.6M190.3 150.0l3.6 3.6m0 -3.6l-3.6 3.6M218.4 120.4l3.6 3.6m0 -3.6l-3.6 3.6M216.4 123.5l3.6 3.6m0 -3.6l-3.6 3.6M134.5 187.4l3.6 3.6m0 -3.6l-3.6 3.6M226.6 122.4l3.6 3.6m0 -3.6l-3.6 3.6M236.1 95.8l3.6 3.6m0 -3.6l-3.6 3.6M149.8 169.1l3.6 3.6m0 -3.6l-3.6 3.6M242.9 107.8l3.6 3.6m0 -3.6l-3.6 3.6M134.8 190.4l3.6 3.6m0 -3.6l-3.6 3.6M209.8 122.5l3.6 3.6m0 -3.6l-3.6 3.6M206.3 126.1l3.6 3.6m0 -3.6l-3.6 3.6M220.5 113.7l3.6 3.6m0 -3.6l-3.6 3.6M148.6 176.5l3.6 3.6m0 -3.6l-3.6 3.6M158.8 172.2l3.6 3.6m0 -3.6l-3.6 3.6M234.8 107.0l3.6 3.6m0 -3.6l-3.6 3.6M148.6 173.1l3.6 3.6m0 -3.6l-3.6 3.6M202.9 126.9l3.6 3.6m0 -3.6l-3.6 3.6M237.8 97.7l3.6 3.6m0 -3.6l-3.6 3.6M208.6 130.3l3.6 3.6m0 -3.6l-3.6 3.6M246.1 97.3l3.6 3.6m0 -3.6l-3.6 3.6M156.4 163.3l3.6 3.6m0 -3.6l-3.6 3.6M151.1 175.3l3.6 3.6m0 -3.6l-3.6 3.6M203.3 133.8l3.6 3.6m0 -3.6l-3.6 3.6M191.3 149.7l3.6 3.6m0 -3.6l-3.6 3.6M230.1 110.4l3.6 3.6m0 -3.6l-3.6 3.6M126.7 193.0l3.6 3.6m0 -3.6l-3.6 3.6M162.6 165.3l3.6 3.6m0 -3.6l-3.6 3.6M164.1 162.6l3.6 3.6m0 -3.6l-3.6 3.6M183.2 156.3l3.6 3.6m0 -3.6l-3.6 3.6M148.3 173.4l3.6 3.6m0 -3.6l-3.6 3.6M140.6 184.0l3.6 3.6m0 -3.6l-3.6 3.6M244.1 105.3l3.6 3.6m0 -3.6l-3.6 3.6M202.5 129.0l3.6 3.6m0 -3.6l-3.6 3.6M155.4 172.8l3.6 3.6m0 -3.6l-3.6 3.6M150.6 178.0l3.6 3.6m0 -3.6l-3.6 3.6M128.9 191.7l3.6 3.6m0 -3.6l-3.6 3.6M233.1 112.2l3.6 3.6m0 -3.6l-3.6 3.6M223.9 114.3l3.6 3.6m0 -3.6l-3.6 3.6M148.5 168.9l3.6 3.6m0 -3.6l-3.6 3.6M212.4 117.2l3.6 3.6m0 -3.6l-3.6 3.6M150.3 172.0l3.6 3.6m0 -3.6l-3.6 3.6M226.1 117.5l3.6 3.6m0 -3.6l-3.6 3.6M185.8 142.9l3.6 3.6m0 -3.6l-3.6 3.6M241.1 101.7l3.6 3.6m0 -3.6l-3.6 3.6M166.7 159.3l3.6 3.6m0 -3.6l-3.6 3.6M199.7 147.3l3.6 3.6m0 -3.6l-3.6 3.6M206.5 123.4l3.6 3.6m0 -3.6l-3.6 3.6M165.7 161.6l3.6 3.6m0 -3.6l-3.6 3.6M142.2 180.9l3.6 3.6m0 -3.6l-3.6 3.6M165.6 165.5l3.6 3.6m0 -3.6l-3.6 3.6M130.4 184.6l3.6 3.6m0 -3.6l-3.6 3.6M123.9 193.8l3.6 3.6m0 -3.6l-3.6 3.6M166.6 163.3l3.6 3.6m0 -3.6l-3.6 3.6M182.1 146.9l3.6 3.6m0 -3.6l-3.6 3.6M185.9 146.3l3.6 3.6m0 -3.6l-3.6 3.6M124.7 188.5l3.6 3.6m0 -3.6l-3.6 3.6M137.2 184.1l3.6 3.6m0 -3.6l-3.6 3.6M151.8 171.5l3.6 3.6m0 -3.6l-3.6 3.6M152.4 169.6l3.6 3.6m0 -3.6l-3.6 3.6M132.6 96.7l3.6 3.6m0 -3.6l-3.6 3.6M128.8 98.6l3.6 3.6m0 -3.6l-3.6 3.6M125.6 93.8l3.6 3.6m0 -3.6l-3.6 3.6M125.6 86.5l3.6 3.6m0 -3.6l-3.6 3.6M130.3 96.5l3.6 3.6m0 -3.6l-3.6 3.6M118.3 94.8l3.6 3.6m0 -3.6l-3.6 3.6M127.1 91.6l3.6 3.6m0 -3.6l-3.6 3.6M125.0 98.4l3.6 3.6m0 -3.6l-3.6 3.6M123.0 103.7l3.6 3.6m0 -3.6l-3.6 3.6M125.9 99.8l3.6 3.6m0 -3.6l-3.6 3.6M128.5 99.8l3.6 3.6m0 -3.6l-3.6 3.6M118.8 98.2l3.6 3.6m0 -3.6l-3.6 3.6M128.7 107.3l3.6 3.6m0 -3.6l-3.6 3.6M128.0 98.8l3.6 3.6m0 -3.6l-3.6 3.6M120.3 95.2l3.6 3.6m0 -3.6l-3.6 3.6M120.6 107.0l3.6 3.6m0 -3.6l-3.6 3.6M123.5 105.7l3.6 3.6m0 -3.6l-3.6 3.6M128.1 104.2l3.6 3.6m0 -3.6l-3.6 3.6M123.4 92.3l3.6 3.6m0 -3.6l-3.6 3.6M125.7 109.5l3.6 3.6m0 -3.6l-3.6 3.6M127.8 98.7l3.6 3.6m0 -3.6l-3.6 3.6M118.8 101.7l3.6 3.6m0 -3.6l-3.6 3.6M124.4 95.8l3.6 3.6m0 -3.6l-3.6 3.6M129.2 101.7l3.6 3.6m0 -3.6l-3.6 3.6M122.4 94.6l3.6 3.6m0 -3.6l-3.6 3.6M131.0 101.6l3.6 3.6m0 -3.6l-3.6 3.6M120.8 98.9l3.6 3.6m0 -3.6l-3.6 3.6M122.4 106.7l3.6 3.6m0 -3.6l-3.6 3.6M126.2 105.6l3.6 3.6m0 -3.6l-3.6 3.6M125.5 114.5l3.6 3.6m0 -3.6l-3.6 3.6M122.7 99.7l3.6 3.6m0 -3.6l-3.6 3.6M126.7 100.1l3.6 3.6m0 -3.6l-3.6 3.6M125.5 101.2l3.6 3.6m0 -3.6l-3.6 3.6M127.1 98.5l3.6 3.6m0 -3.6l-3.6 3.6M125.5 96.1l3.6 3.6m0 -3.6l-3.6 3.6M127.3 100.0l3.6 3.6m0 -3.6l-3.6 3.6M122.6 100.2l3.6 3.6m0 -3.6l-3.6 3.6M126.9 103.3l3.6 3.6m0 -3.6l-3.6 3.6M128.6 107.5l3.6 3.6m0 -3.6l-3.6 3.6M124.5 106.0l3.6 3.6m0 -3.6l-3.6 3.6M129.4 93.9l3.6 3.6m0 -3.6l-3.6 3.6M125.6 95.6l3.6 3.6m0 -3.6l-3.6 3.6M126.8 93.4l3.6 3.6m0 -3.6l-3.6 3.6M125.3 90.4l3.6 3.6m0 -3.6l-3.6 3.6M129.5 87.7l3.6 3.6m0 -3.6l-3.6 3.6M131.3 110.3l3.6 3.6m0 -3.6l-3.6 3.6M124.4 98.6l3.6 3.6m0 -3.6l-3.6 3.6M126.3 103.4l3.6 3.6m0 -3.6l-3.6 3.6M130.4 99.1l3.6 3.6m0 -3.6l-3.6 3.6M128.2 84.9l3.6 3.6m0 -3.6l-3.6 3.6M124.6 108.6l3.6 3.6m0 -3.6l-3.6 3.6M127.1 89.9l3.6 3.6m0 -3.6l-3.6 3.6M125.7 93.4l3.6 3.6m0 -3.6l-3.6 3.6M131.9 102.9l3.6 3.6m0 -3.6l-3.6 3.6M131.0 98.2l3.6 3.6m0 -3.6l-3.6 3.6M135.8 107.2l3.6 3.6m0 -3.6l-3.6 3.6M125.9 105.7l3.6 3.6m0 -3.6l-3.6 3.6M120.7 94.0l3.6 3.6m0 -3.6l-3.6 3.6M122.6 102.2l3.6 3.6m0 -3.6l-3.6 3.6M124.1 106.2l3.6 3.6m0 -3.6l-3.6 3.6M201.2 103.0l3.6 3.6m0 -3.6l-3.6 3.6M191.4 121.5l3.6 3.6m0 -3.6l-3.6 3.6M205.7 108.5l3.6 3.6m0 -3.6l-3.6 3.6M167.8 120.1l3.6 3.6m0 -3.6l-3.6 3.6M171.9 110.9l3.6 3.6m0 -3.6l-3.6 3.6M178.8 124.8l3.6 3.6m0 -3.6l-3.6 3.6M202.8 100.2l3.6 3.6m0 -3.6l-3.6 3.6M195.8 109.5l3.6 3.6m0 -3.6l-3.6 3.6M192.8 102.0l3.6 3.6m0 -3.6l-3.6 3.6M184.8 117.4l3.6 3.6m0 -3.6l-3.6 3.6M179.8 131.1l3.6 3.6m0 -3.6l-3.6 3.6M187.0 115.1l3.6 3.6m0 -3.6l-3.6 3.6M172.9 113.5l3.6 3.6m0 -3.6l-3.6 3.6M169.9 126.6l3.6 3.6m0 -3.6l-3.6 3.6M192.6 110.6l3.6 3.6m0 -3.6l-3.6 3.6M174.9 118.1l3.6 3.6m0 -3.6l-3.6 3.6M175.3 116.1l3.6 3.6m0 -3.6l-3.6 3.6M170.1 115.1l3.6 3.6m0 -3.6l-3.6 3.6M191.1 128.4l3.6 3.6m0 -3.6l-3.6 3.6M169.3 118.2l3.6 3.6m0 -3.6l-3.6 3.6M174.9 132.9l3.6 3.6m0 -3.6l-3.6 3.6M204.1 100.1l3.6 3.6m0 -3.6l-3.6 3.6M168.5 133.6l3.6 3.6m0 -3.6l-3.6 3.6M173.4 142.4l3.6 3.6m0 -3.6l-3.6 3.6M215.7 104.6l3.6 3.6m0 -3.6l-3.6 3.6M190.1 113.8l3.6 3.6m0 -3.6l-3.6 3.6M220.9 104.3l3.6 3.6m0 -3.6l-3.6 3.6M192.3 122.9l3.6 3.6m0 -3.6l-3.6 3.6M189.6 127.8l3.6 3.6m0 -3.6l-3.6 3.6M201.2 106.3l3.6 3.6m0 -3.6l-3.6 3.6M219.7 108.2l3.6 3.6m0 -3.6l-3.6 3.6M195.9 104.1l3.6 3.6m0 -3.6l-3.6 3.6M201.1 114.1l3.6 3.6m0 -3.6l-3.6 3.6M170.5 118.3l3.6 3.6m0 -3.6l-3.6 3.6M214.0 109.0l3.6 3.6m0 -3.6l-3.6 3.6M193.6 108.7l3.6 3.6m0 -3.6l-3.6 3.6M181.8 124.5l3.6 3.6m0 -3.6l-3.6 3.6M193.8 107.5l3.6 3.6m0 -3.6l-3.6 3.6M181.2 132.1l3.6 3.6m0 -3.6l-3.6 3.6M169.1 114.6l3.6 3.6m0 -3.6l-3.6 3.6M180.7 128.2l3.6 3.6m0 -3.6l-3.6 3.6M206.0 105.4l3.6 3.6m0 -3.6l-3.6 3.6M185.8 128.2l3.6 3.6m0 -3.6l-3.6 3.6M174.6 133.0l3.6 3.6m0 -3.6l-3.6 3.6M172.7 143.2l3.6 3.6m0 -3.6l-3.6 3.6M236.2 95.2l3.6 3.6m0 -3.6l-3.6 3.6M247.5 85.1l3.6 3.6m0 -3.6l-3.6 3.6M251.0 80.4l3.6 3.6m0 -3.6l-3.6 3.6M244.4 84.3l3.6 3.6m0 -3.6l-3.6 3.6M256.5 82.6l3.6 3.6m0 -3.6l-3.6 3.6M244.6 88.5l3.6 3.6m0 -3.6l-3.6 3.6M250.7 88.7l3.6 3.6m0 -3.6l-3.6 3.6M250.9 91.6l3.6 3.6m0 -3.6l-3.6 3.6M252.3 85.0l3.6 3.6m0 -3.6l-3.6 3.6M239.5 88.2l3.6 3.6m0 -3.6l-3.6 3.6M247.5 78.3l3.6 3.6m0 -3.6l-3.6 3.6M240.3 93.4l3.6 3.6m0 -3.6l-3.6 3.6M247.7 88.4l3.6 3.6m0 -3.6l-3.6 3.6M241.5 84.6l3.6 3.6m0 -3.6l-3.6 3.6M245.3 86.1l3.6 3.6m0 -3.6l-3.6 3.6M245.4 84.9l3.6 3.6m0 -3.6l-3.6 3.6M249.2 83.6l3.6 3.6m0 -3.6l-3.6 3.6M249.0 86.2l3.6 3.6m0 -3.6l-3.6 3.6M250.1 87.5l3.6 3.6m0 -3.6l-3.6 3.6M243.1 79.5l3.6 3.6m0 -3.6l-3.6 3.6M247.9 93.8l3.6 3.6m0 -3.6l-3.6 3.6M239.7 86.9l3.6 3.6m0 -3.6l-3.6 3.6M241.5 95.1l3.6 3.6m0 -3.6l-3.6 3.6M249.5 83.6l3.6 3.6m0 -3.6l-3.6 3.6M246.2 84.7l3.6 3.6m0 -3.6l-3.6 3.6M250.8 93.2l3.6 3.6m0 -3.6l-3.6 3.6M248.6 87.8l3.6 3.6m0 -3.6l-3.6 3.6M243.6 87.9l3.6 3.6m0 -3.6l-3.6 3.6M251.7 81.4l3.6 3.6m0 -3.6l-3.6 3.6M237.3 86.2l3.6 3.6m0 -3.6l-3.6 3.6M244.1 86.1l3.6 3.6m0 -3.6l-3.6 3.6M249.5 83.7l3.6 3.6m0 -3.6l-3.6 3.6M241.0 93.9l3.6 3.6m0 -3.6l-3.6 3.6M242.5 89.7l3.6 3.6m0 -3.6l-3.6 3.6M253.3 86.9l3.6 3.6m0 -3.6l-3.6 3.6M248.9 89.1l3.6 3.6m0 -3.6l-3.6 3.6M249.3 92.5l3.6 3.6m0 -3.6l-3.6 3.6M254.3 86.3l3.6 3.6m0 -3.6l-3.6 3.6M252.1 85.9l3.6 3.6m0 -3.6l-3.6 3.6M242.8 90.7l3.6 3.6m0 -3.6l-3.6 3.6M242.8 89.9l3.6 3.6m0 -3.6l-3.6 3.6M242.1 85.4l3.6 3.6m0 -3.6l-3.6 3.6M253.9 82.6l3.6 3.6m0 -3.6l-3.6 3.6M246.3 85.2l3.6 3.6m0 -3.6l-3.6 3.6M250.8 84.3l3.6 3.6m0 -3.6l-3.6 3.6M245.7 81.6l3.6 3.6m0 -3.6l-3.6 3.6M255.6 87.5l3.6 3.6m0 -3.6l-3.6 3.6M242.9 91.3l3.6 3.6m0 -3.6l-3.6 3.6M245.3 93.4l3.6 3.6m0 -3.6l-3.6 3.6M251.5 90.4l3.6 3.6m0 -3.6l-3.6 3.6M251.2 89.2l3.6 3.6m0 -3.6l-3.6 3.6M250.4 83.2l3.6 3.6m0 -3.6l-3.6 3.6M249.5 81.1l3.6 3.6m0 -3.6l-3.6 3.6M254.1 87.5l3.6 3.6m0 -3.6l-3.6 3.6M235.5 89.8l3.6 3.6m0 -3.6l-3.6 3.6M247.2 90.8l3.6 3.6m0 -3.6l-3.6 3.6M254.5 84.7l3.6 3.6m0 -3.6l-3.6 3.6M248.4 89.7l3.6 3.6m0 -3.6l-3.6 3.6M245.2 85.2l3.6 3.6m0 -3.6l-3.6 3.6M249.1 97.7l3.6 3.6m0 -3.6l-3.6 3.6" stroke="#8c8c8c" stroke-width="0.85" fill="none"/>
<line x1="111.50" y1="210.50" x2="355.50" y2="49.50" stroke="#3a3a3a" stroke-width="1.05"/>
<path d="M111.5 210.5v-2.6M111.5 26.5v2.6M181.5 210.5v-2.6M181.5 26.5v2.6M250.5 210.5v-2.6M250.5 26.5v2.6M320.5 210.5v-2.6M320.5 26.5v2.6M111.5 210.5h2.6M355.5 210.5h-2.6M111.5 164.5h2.6M355.5 164.5h-2.6M111.5 118.5h2.6M355.5 118.5h-2.6M111.5 72.5h2.6M355.5 72.5h-2.6M111.5 26.5h2.6M355.5 26.5h-2.6" stroke="#8a8a8a" stroke-width="1.3" fill="none"/>
<rect x="111.5" y="26.5" width="244.0" height="184.0" fill="none" stroke="#8a8a8a" stroke-width="1.5"/>
<text transform="translate(111.5,228.4) scale(1,1.06)" text-anchor="middle" font-size="13.6" fill="#303030">20</text>
<text transform="translate(181.2,228.4) scale(1,1.06)" text-anchor="middle" font-size="13.6" fill="#303030">40</text>
<text transform="translate(250.9,228.4) scale(1,1.06)" text-anchor="middle" font-size="13.6" fill="#303030">60</text>
<text transform="translate(320.6,228.4) scale(1,1.06)" text-anchor="middle" font-size="13.6" fill="#303030">80</text>
<text transform="translate(106.3,216.1) scale(1,1.06)" text-anchor="end" font-size="13.6" fill="#303030">20</text>
<text transform="translate(106.3,170.1) scale(1,1.06)" text-anchor="end" font-size="13.6" fill="#303030">40</text>
<text transform="translate(106.3,124.1) scale(1,1.06)" text-anchor="end" font-size="13.6" fill="#303030">60</text>
<text transform="translate(106.3,78.1) scale(1,1.06)" text-anchor="end" font-size="13.6" fill="#303030">80</text>
<text transform="translate(106.3,32.1) scale(1,1.06)" text-anchor="end" font-size="13.6" fill="#303030">100</text>
<text x="233.5" y="247.3" text-anchor="middle" font-size="15.45" fill="#303030">Return Temperature in °C</text>
<text transform="translate(78.3,118.5) rotate(-90)" text-anchor="middle" font-size="15.55" fill="#303030">Supply Temperature in °C</text>
<path d="M455.2 200.0L455.7 192.0L456.7 180.0L457.7 170.0L458.7 160.0L459.5 150.0L460.5 135.0L461.2 125.0L461.7 110.0L462.2 102.0L464.2 96.0L462.8 92.0L465.8 92.0L468.8 97.0L469.3 110.0L468.8 125.0L466.8 138.0L465.1 160.0L462.8 175.0L461.1 191.0L456.8 200.0L452.8 203.0Z" fill="#0a3f64" />
<path d="M553.6 85.5h2.2M533.6 74.0h2.2M532.9 90.7h2.2M508.6 106.2h2.2M552.2 79.4h2.2M557.3 77.9h2.2M505.0 112.2h2.2M531.9 72.4h2.2M518.8 120.4h2.2M495.6 115.6h2.2M515.7 114.1h2.2M506.2 128.7h2.2M564.4 79.2h2.2M531.7 105.8h2.2M528.6 75.0h2.2M498.2 104.5h2.2M542.6 105.7h2.2M543.5 87.9h2.2M496.0 100.4h2.2M505.7 115.2h2.2M513.1 107.5h2.2M523.3 91.5h2.2M530.2 110.8h2.2M519.1 123.2h2.2M493.6 126.7h2.2M525.0 82.3h2.2M546.9 102.2h2.2M536.7 75.3h2.2M521.1 74.7h2.2M553.0 79.4h2.2M499.5 105.3h2.2M506.6 110.4h2.2M497.9 106.5h2.2M522.1 106.2h2.2M531.3 112.1h2.2M500.4 110.0h2.2M498.2 103.9h2.2M495.4 78.2h2.2M507.8 126.6h2.2M503.2 112.1h2.2M503.0 125.4h2.2M505.7 130.2h2.2M543.0 96.8h2.2M514.0 110.1h2.2M503.9 125.0h2.2M492.7 144.5h2.2M506.2 115.6h2.2M507.3 109.6h2.2M551.2 81.1h2.2M500.7 114.1h2.2M506.9 94.2h2.2M542.7 94.9h2.2M508.4 115.1h2.2M548.0 72.3h2.2M520.3 86.7h2.2M538.6 87.1h2.2M536.5 100.1h2.2M517.3 94.1h2.2M501.3 128.6h2.2M519.3 121.5h2.2M551.4 70.2h2.2M529.5 103.2h2.2M494.4 123.1h2.2M495.8 118.6h2.2M500.1 98.3h2.2M498.5 121.0h2.2M542.0 104.0h2.2M551.2 79.5h2.2M519.6 111.3h2.2M492.8 145.8h2.2M542.0 105.5h2.2M492.6 132.2h2.2M526.8 108.8h2.2M510.3 122.6h2.2M498.6 142.8h2.2M527.0 112.1h2.2M517.5 104.7h2.2M496.8 145.0h2.2M552.0 77.2h2.2M500.9 117.1h2.2M553.8 67.4h2.2M554.9 59.2h2.2M537.1 78.7h2.2M515.8 101.2h2.2M506.3 67.6h2.2M491.9 112.2h2.2M491.8 128.7h2.2M526.0 108.2h2.2M530.3 98.0h2.2M503.5 72.2h2.2M522.3 108.3h2.2M497.0 130.0h2.2M498.7 137.0h2.2M523.4 121.1h2.2M501.8 111.8h2.2M492.9 120.4h2.2M506.2 138.1h2.2M535.2 79.3h2.2M537.6 87.6h2.2M500.2 123.4h2.2M515.9 98.0h2.2M520.2 97.2h2.2M529.4 110.1h2.2M501.6 145.5h2.2M534.8 119.6h2.2M536.3 105.0h2.2M480.6 151.1h2.2M495.7 141.6h2.2M515.5 121.7h2.2M499.4 136.0h2.2M524.1 123.4h2.2M493.5 152.3h2.2M540.3 117.6h2.2M503.2 134.4h2.2M554.3 108.2h2.2M534.0 100.5h2.2M505.1 136.6h2.2M530.1 111.0h2.2M527.9 114.1h2.2M543.6 100.7h2.2M499.1 138.5h2.2M494.5 149.8h2.2M492.9 132.5h2.2M501.8 141.7h2.2M556.8 103.2h2.2M536.2 111.2h2.2M549.7 100.6h2.2M549.5 103.0h2.2M543.6 101.4h2.2M554.7 98.6h2.2M497.1 130.2h2.2M543.9 99.7h2.2M480.7 151.9h2.2M477.1 157.7h2.2M483.0 147.1h2.2M491.6 129.6h2.2M513.7 128.6h2.2M489.2 153.7h2.2M512.8 115.2h2.2M545.4 98.2h2.2M483.2 158.4h2.2M523.8 104.4h2.2M470.3 152.3h2.2M496.9 101.8h2.2M495.5 104.4h2.2M498.7 104.4h2.2M498.3 99.9h2.2M497.1 106.5h2.2M498.1 99.3h2.2M497.3 102.2h2.2M497.8 98.5h2.2M497.7 99.8h2.2M497.6 105.0h2.2M497.8 105.4h2.2M493.7 118.7h2.2M500.7 102.2h2.2M500.4 111.9h2.2M496.5 103.2h2.2M492.2 103.2h2.2M475.9 118.3h2.2M484.0 108.4h2.2M485.5 108.5h2.2M474.6 119.5h2.2M480.6 110.0h2.2M480.8 117.0h2.2M475.3 119.6h2.2M476.3 130.6h2.2M474.8 113.8h2.2M473.1 110.4h2.2M479.5 118.3h2.2M480.7 117.6h2.2M474.0 111.1h2.2M477.1 113.0h2.2M483.4 110.8h2.2M472.7 111.0h2.2M475.3 135.3h2.2M478.5 120.1h2.2M479.9 126.2h2.2M482.3 116.8h2.2M471.0 112.1h2.2M478.5 111.7h2.2M478.5 116.2h2.2M477.1 110.7h2.2M477.2 115.1h2.2M482.1 112.8h2.2M473.6 112.1h2.2M478.2 110.9h2.2M480.7 110.0h2.2M476.0 132.7h2.2M482.7 113.4h2.2M490.1 107.6h2.2M487.0 112.7h2.2M479.5 116.8h2.2M477.6 116.7h2.2M487.1 108.7h2.2M477.5 112.2h2.2M479.8 121.5h2.2M490.0 108.0h2.2M481.8 118.6h2.2M488.2 107.2h2.2M482.8 109.6h2.2M477.3 119.1h2.2M472.4 123.4h2.2M486.7 106.6h2.2M481.2 112.2h2.2M476.4 114.3h2.2M475.4 111.4h2.2M483.0 120.4h2.2M477.6 110.6h2.2M477.2 114.7h2.2M477.9 112.8h2.2M483.9 110.4h2.2M478.1 119.5h2.2M490.0 115.4h2.2M481.9 118.7h2.2M490.6 102.9h2.2M478.2 116.5h2.2M479.4 115.0h2.2M486.1 107.5h2.2M483.1 111.4h2.2M483.1 113.7h2.2M483.8 113.0h2.2M480.9 112.3h2.2M485.7 110.6h2.2M481.8 110.2h2.2M477.8 110.6h2.2M492.2 100.9h2.2M482.1 123.0h2.2M469.9 112.7h2.2M478.2 117.6h2.2M472.9 111.0h2.2M477.1 112.9h2.2M490.9 102.4h2.2M480.1 110.5h2.2M482.2 110.1h2.2M479.6 110.4h2.2M475.4 116.3h2.2M470.2 113.6h2.2M473.2 116.6h2.2M481.3 117.3h2.2M487.7 106.3h2.2M472.4 115.8h2.2M476.2 167.1h2.2M491.2 133.4h2.2M490.8 142.4h2.2M470.8 153.1h2.2M472.7 172.2h2.2M479.6 168.7h2.2M483.9 171.7h2.2M471.6 165.8h2.2M497.5 145.2h2.2M480.0 158.9h2.2M479.7 121.3h2.2M480.7 155.2h2.2M475.9 174.3h2.2M467.2 137.8h2.2M473.3 138.3h2.2M454.0 175.8h2.2M461.5 173.2h2.2M458.3 155.6h2.2M456.2 138.2h2.2M451.2 137.7h2.2M455.5 147.0h2.2M456.4 111.5h2.2M452.2 194.9h2.2M457.3 164.8h2.2M453.9 190.3h2.2M453.7 180.7h2.2M458.6 141.7h2.2M451.5 169.8h2.2M455.7 151.8h2.2M466.3 144.4h2.2M451.9 162.3h2.2M447.3 174.4h2.2M456.8 179.3h2.2M454.0 189.7h2.2M447.8 194.6h2.2M457.1 112.0h2.2M459.7 114.2h2.2M446.3 151.4h2.2M456.3 136.4h2.2M455.0 176.9h2.2M448.9 149.5h2.2M449.1 162.4h2.2M453.7 187.2h2.2M453.2 166.5h2.2M446.9 130.9h2.2M455.2 173.9h2.2M449.9 194.2h2.2M459.1 141.9h2.2M455.2 111.6h2.2M453.3 117.1h2.2M467.4 137.7h2.2M465.4 114.8h2.2M460.0 121.7h2.2M458.7 169.9h2.2M461.0 175.3h2.2M454.8 170.9h2.2M468.6 116.7h2.2M469.0 119.8h2.2M458.8 167.3h2.2M464.0 126.4h2.2M465.1 116.4h2.2M458.5 115.3h2.2M461.7 187.0h2.2M463.7 136.3h2.2M464.7 129.8h2.2M465.7 154.3h2.2M466.4 114.4h2.2M463.6 150.1h2.2M453.5 190.7h2.2M460.1 158.2h2.2M462.3 157.5h2.2M464.2 115.6h2.2M469.8 123.6h2.2M455.9 173.0h2.2M456.7 153.3h2.2M462.4 156.1h2.2M464.9 145.5h2.2M454.0 195.6h2.2M458.3 160.7h2.2M459.8 121.9h2.2M464.2 140.1h2.2M460.8 144.6h2.2M459.7 139.9h2.2M454.8 191.8h2.2M466.4 134.1h2.2M467.2 114.8h2.2M465.8 155.6h2.2M461.8 152.6h2.2M456.7 149.5h2.2M459.2 168.0h2.2M461.2 179.0h2.2M463.7 168.0h2.2M457.2 193.6h2.2M458.5 160.4h2.2M458.1 186.5h2.2M465.4 155.9h2.2M458.7 121.3h2.2M466.0 133.4h2.2M457.5 198.6h2.2M462.5 178.7h2.2M462.7 114.1h2.2M460.6 163.6h2.2M459.8 127.7h2.2M466.3 127.5h2.2M458.4 196.8h2.2M462.2 129.0h2.2M465.2 148.3h2.2M457.9 130.9h2.2M460.9 114.1h2.2M461.5 149.5h2.2M460.9 148.2h2.2M467.4 138.0h2.2M463.2 121.2h2.2M460.7 163.9h2.2M465.6 111.1h2.2M465.9 160.6h2.2M464.4 161.0h2.2M457.7 154.4h2.2M458.5 136.4h2.2M457.3 152.7h2.2M458.4 146.8h2.2M464.6 143.2h2.2M465.8 119.9h2.2M455.3 173.2h2.2M463.5 160.3h2.2M458.1 160.4h2.2M467.9 137.1h2.2M461.9 137.7h2.2M453.4 191.2h2.2M468.1 119.4h2.2M463.0 174.9h2.2M459.9 169.3h2.2M452.8 192.1h2.2M461.6 180.4h2.2M460.4 124.4h2.2M459.2 181.3h2.2M457.7 178.9h2.2M457.6 190.7h2.2M454.3 191.6h2.2M464.6 167.6h2.2M458.7 159.4h2.2M459.7 146.3h2.2M467.4 126.1h2.2M464.5 137.9h2.2M461.0 120.1h2.2M467.1 139.9h2.2M461.9 153.0h2.2M465.4 129.6h2.2M457.6 151.5h2.2M465.9 144.8h2.2M465.0 131.3h2.2M469.0 125.4h2.2M462.8 155.0h2.2M462.4 127.6h2.2M453.8 195.8h2.2M466.3 120.6h2.2M456.3 177.1h2.2M460.0 186.8h2.2M460.0 145.7h2.2M463.7 151.4h2.2M456.4 157.7h2.2M462.9 121.6h2.2M462.8 119.0h2.2M461.5 146.7h2.2M463.0 158.5h2.2M460.2 190.8h2.2M458.3 119.9h2.2M464.3 132.8h2.2M463.4 151.2h2.2M463.2 135.5h2.2M465.9 153.3h2.2M462.7 165.3h2.2M455.9 186.0h2.2M459.7 156.8h2.2M467.0 121.5h2.2M455.6 196.1h2.2M465.6 116.4h2.2M460.7 136.9h2.2M456.4 153.1h2.2M454.6 167.6h2.2M455.9 196.3h2.2M466.1 154.3h2.2M460.1 171.0h2.2M460.6 191.0h2.2M462.2 120.7h2.2M459.2 158.1h2.2M469.2 113.9h2.2M454.7 190.1h2.2M457.4 181.3h2.2M465.0 113.6h2.2M458.1 119.1h2.2M464.8 148.0h2.2M461.9 143.7h2.2M463.7 154.3h2.2M458.0 170.3h2.2M466.7 150.1h2.2M468.2 127.1h2.2M456.5 162.3h2.2M463.7 153.2h2.2M456.5 175.2h2.2M464.0 143.1h2.2M462.2 124.7h2.2M463.2 147.5h2.2M458.6 136.2h2.2M455.0 190.8h2.2M458.3 114.4h2.2M460.0 126.9h2.2M461.0 145.4h2.2M459.6 170.4h2.2M466.9 136.5h2.2M462.8 145.7h2.2M456.8 159.9h2.2M455.0 176.5h2.2M457.9 180.5h2.2M459.5 193.7h2.2M458.9 149.1h2.2M455.6 162.0h2.2M456.8 189.5h2.2M457.9 193.4h2.2M462.2 134.1h2.2M464.0 117.8h2.2M461.0 141.6h2.2M454.4 180.9h2.2M461.3 189.7h2.2M456.8 181.4h2.2M460.8 145.7h2.2M466.4 121.8h2.2M462.6 148.3h2.2M464.3 123.0h2.2M460.0 118.3h2.2M453.9 185.3h2.2M455.2 164.7h2.2M463.6 112.4h2.2M456.7 142.5h2.2M462.8 138.9h2.2M452.4 196.1h2.2M460.8 151.6h2.2M466.3 120.9h2.2M468.7 129.8h2.2M458.2 166.3h2.2M459.5 181.9h2.2M462.8 154.4h2.2M458.4 139.9h2.2M460.4 129.1h2.2M456.4 187.8h2.2M460.7 158.1h2.2M464.5 153.0h2.2M465.8 138.9h2.2M460.0 171.6h2.2M461.7 156.4h2.2M454.9 190.7h2.2M457.5 166.0h2.2M459.9 155.8h2.2M462.0 137.8h2.2M452.3 194.6h2.2M465.6 160.7h2.2M458.4 112.4h2.2M463.3 173.6h2.2M465.2 158.5h2.2M458.1 156.4h2.2M462.0 162.7h2.2M467.1 141.1h2.2M463.7 128.6h2.2M457.4 187.3h2.2M469.8 124.7h2.2M465.8 162.3h2.2M465.0 128.0h2.2M460.0 181.8h2.2M460.0 134.6h2.2M456.0 154.9h2.2M457.3 171.4h2.2M458.6 137.5h2.2M455.6 188.2h2.2M464.0 141.8h2.2M460.4 189.9h2.2M463.0 167.0h2.2M458.2 142.1h2.2M464.4 145.8h2.2M457.8 133.3h2.2M467.4 115.6h2.2M463.2 164.9h2.2M469.6 125.4h2.2M460.4 185.6h2.2M463.1 129.2h2.2M459.3 169.9h2.2M461.5 138.2h2.2M468.5 113.1h2.2M464.3 145.5h2.2M469.5 120.9h2.2M461.4 111.4h2.2M463.8 124.6h2.2M463.2 118.4h2.2M463.5 166.6h2.2M458.6 140.8h2.2M465.5 139.7h2.2M453.7 189.0h2.2M454.3 196.6h2.2M466.6 144.4h2.2M460.1 137.0h2.2M459.6 125.8h2.2M467.2 111.0h2.2M465.4 131.9h2.2M454.8 179.4h2.2M458.4 115.0h2.2M453.3 189.4h2.2M453.2 185.9h2.2M456.1 158.5h2.2M461.8 166.8h2.2M459.3 142.3h2.2M459.3 159.4h2.2M464.8 127.4h2.2M462.4 165.9h2.2M460.9 191.0h2.2M463.3 173.3h2.2M464.1 169.8h2.2M454.3 195.1h2.2M462.0 155.1h2.2M465.8 112.3h2.2M455.2 195.3h2.2M459.4 163.0h2.2M464.9 147.0h2.2M459.9 125.7h2.2M458.3 148.7h2.2M464.4 140.3h2.2M456.4 178.3h2.2M462.3 184.6h2.2M456.8 173.6h2.2M468.8 116.0h2.2M466.1 135.1h2.2M466.9 123.3h2.2M466.6 115.8h2.2M463.6 156.1h2.2M465.4 133.4h2.2M461.2 162.2h2.2M460.3 192.4h2.2M457.8 135.2h2.2M456.5 191.9h2.2M459.6 195.4h2.2M453.0 185.3h2.2M457.8 128.8h2.2M462.3 124.3h2.2M462.8 110.7h2.2M464.0 127.9h2.2M461.2 144.9h2.2M469.6 114.8h2.2M465.3 143.4h2.2M464.3 134.5h2.2M456.3 162.7h2.2M457.6 190.6h2.2M458.0 191.1h2.2M463.3 131.3h2.2M462.3 150.3h2.2M456.5 175.1h2.2M455.0 179.3h2.2M460.7 150.3h2.2M459.9 121.8h2.2M463.1 135.4h2.2M461.8 119.4h2.2M468.1 119.9h2.2M460.7 150.4h2.2M464.5 141.6h2.2M463.6 138.0h2.2M454.1 178.1h2.2M457.2 180.8h2.2M459.5 176.7h2.2M459.0 113.3h2.2M462.7 181.9h2.2M464.4 154.6h2.2M467.6 137.9h2.2M458.8 146.8h2.2M456.2 195.3h2.2M468.7 116.4h2.2M469.1 129.3h2.2M456.9 182.5h2.2M459.3 179.0h2.2M462.2 129.4h2.2M465.1 147.9h2.2M460.0 186.4h2.2M468.6 115.0h2.2M458.1 193.3h2.2M460.0 168.5h2.2M460.8 117.5h2.2M460.2 159.9h2.2M461.5 160.6h2.2M454.4 193.3h2.2M463.0 139.1h2.2M462.8 137.0h2.2M454.3 183.6h2.2M460.2 127.4h2.2M457.1 151.0h2.2M458.5 144.5h2.2M464.7 122.2h2.2M460.6 180.9h2.2M457.5 199.4h2.2M459.8 164.2h2.2M459.2 168.1h2.2M463.4 170.7h2.2M465.7 156.0h2.2M457.4 174.2h2.2M461.3 124.9h2.2M458.7 135.8h2.2M459.2 173.4h2.2M461.1 148.4h2.2M459.4 136.7h2.2M455.0 179.1h2.2M453.1 192.7h2.2M462.9 139.3h2.2M460.1 179.3h2.2M458.1 154.9h2.2M460.8 167.6h2.2M469.4 113.9h2.2M462.2 111.3h2.2M461.8 151.5h2.2M458.9 172.9h2.2M468.3 133.2h2.2M455.6 199.8h2.2M469.1 125.2h2.2M469.8 124.7h2.2M467.7 138.9h2.2M463.8 162.2h2.2M456.7 162.3h2.2M465.3 126.8h2.2M465.6 158.8h2.2M459.6 122.5h2.2M454.1 202.1h2.2M467.6 128.8h2.2M454.8 178.7h2.2M465.3 162.7h2.2M461.5 131.9h2.2M462.9 161.6h2.2M459.3 186.7h2.2M455.0 165.3h2.2M466.0 130.0h2.2M461.1 143.4h2.2M468.6 113.8h2.2M455.8 180.6h2.2M461.5 113.9h2.2M458.5 192.1h2.2M463.6 159.4h2.2M465.5 143.7h2.2M458.7 183.5h2.2M457.6 191.6h2.2M463.2 124.3h2.2M465.1 126.8h2.2M459.7 189.0h2.2M460.6 149.6h2.2M454.9 170.0h2.2M462.8 170.0h2.2M454.4 198.7h2.2M456.7 184.9h2.2M461.5 166.9h2.2M463.2 169.9h2.2M453.6 183.1h2.2M464.5 167.7h2.2M459.4 129.7h2.2M459.7 117.9h2.2M464.2 139.1h2.2M465.2 112.4h2.2M462.6 150.3h2.2M459.7 130.5h2.2M458.0 191.0h2.2M461.5 137.2h2.2M468.8 131.4h2.2M463.5 160.8h2.2M461.5 138.1h2.2M456.4 158.2h2.2M458.9 163.5h2.2M465.8 160.0h2.2M460.0 139.5h2.2M457.4 133.2h2.2M459.2 158.1h2.2M455.9 193.4h2.2M467.6 111.7h2.2M466.5 139.4h2.2M460.5 124.6h2.2M462.8 140.8h2.2M461.0 151.2h2.2M461.7 127.2h2.2M465.3 145.2h2.2M457.8 146.8h2.2M458.2 198.9h2.2M459.8 161.7h2.2M466.9 118.4h2.2M458.2 159.0h2.2M463.5 152.4h2.2M461.0 113.3h2.2M462.1 113.3h2.2M453.7 186.9h2.2M461.7 117.9h2.2M459.5 195.6h2.2M452.7 198.6h2.2M459.4 137.1h2.2M468.5 112.4h2.2M458.4 113.6h2.2M461.6 145.0h2.2M464.2 123.3h2.2M467.5 130.6h2.2M461.4 138.3h2.2M453.7 179.4h2.2M458.0 129.4h2.2M453.3 193.7h2.2M467.8 132.8h2.2M456.4 160.8h2.2M461.2 180.8h2.2M465.1 135.1h2.2M460.9 169.1h2.2M465.9 122.6h2.2M457.3 177.0h2.2M466.1 150.3h2.2M464.8 126.0h2.2M462.0 123.4h2.2M457.2 137.1h2.2M463.5 135.4h2.2M462.9 126.2h2.2M461.9 119.3h2.2M465.2 157.0h2.2M461.9 148.4h2.2M454.0 194.9h2.2M458.3 156.0h2.2M466.2 120.1h2.2M458.2 156.9h2.2M466.4 150.1h2.2M460.1 147.3h2.2M462.7 179.5h2.2M461.3 134.1h2.2M454.3 184.0h2.2M458.0 178.1h2.2M462.3 185.7h2.2M460.0 146.8h2.2M459.0 176.9h2.2M465.2 160.0h2.2M459.8 141.2h2.2M459.7 151.5h2.2M459.5 143.9h2.2M459.0 163.8h2.2M457.1 177.4h2.2M460.0 191.9h2.2M460.6 182.1h2.2M459.3 113.9h2.2M466.7 116.4h2.2M459.8 170.2h2.2M463.0 155.5h2.2M460.7 111.4h2.2M464.6 123.8h2.2M461.7 191.7h2.2M462.6 140.3h2.2M458.4 172.5h2.2M464.7 147.5h2.2M459.5 146.8h2.2M459.8 165.3h2.2M467.2 115.3h2.2M456.8 178.5h2.2M453.0 191.7h2.2M463.0 138.3h2.2M459.5 148.3h2.2M457.9 189.4h2.2M454.0 186.8h2.2M459.0 172.4h2.2M455.0 171.4h2.2M469.6 121.5h2.2M460.7 165.3h2.2M456.9 164.0h2.2M454.0 197.2h2.2M458.3 136.3h2.2M458.2 191.1h2.2M467.1 123.2h2.2M460.5 174.6h2.2M461.4 150.7h2.2M460.3 165.6h2.2M462.9 143.0h2.2M460.7 184.6h2.2M460.5 151.1h2.2M466.9 127.8h2.2M464.9 126.4h2.2M460.6 167.7h2.2M458.8 177.7h2.2M455.1 177.0h2.2M454.5 188.6h2.2M458.6 155.1h2.2M460.0 123.6h2.2M458.8 138.4h2.2M456.5 159.4h2.2M463.7 154.8h2.2M457.3 174.0h2.2M463.4 111.1h2.2M452.9 188.5h2.2M459.6 161.1h2.2M463.9 141.3h2.2M456.9 142.8h2.2M453.8 202.8h2.2M458.9 131.1h2.2M460.6 119.0h2.2M452.9 189.2h2.2M459.5 190.3h2.2M465.3 139.6h2.2M460.0 162.0h2.2M466.2 115.3h2.2M460.7 111.6h2.2M465.0 147.8h2.2M459.8 190.3h2.2M459.4 150.9h2.2M460.8 113.7h2.2M466.0 159.8h2.2M464.7 128.0h2.2M457.3 199.1h2.2M456.0 178.7h2.2M463.3 155.2h2.2M462.9 168.5h2.2M456.3 192.1h2.2M462.3 184.5h2.2M468.6 119.7h2.2M454.9 168.5h2.2M464.0 140.7h2.2M453.0 199.3h2.2M466.7 144.1h2.2M458.6 112.0h2.2M467.5 138.0h2.2M464.3 134.0h2.2M458.3 182.2h2.2M458.2 142.2h2.2M460.4 139.8h2.2M465.4 153.2h2.2M457.2 196.4h2.2M455.8 175.5h2.2M462.7 161.9h2.2M452.4 197.6h2.2M460.4 186.9h2.2M456.4 168.5h2.2M458.7 111.7h2.2M466.3 144.4h2.2M455.3 193.8h2.2M456.4 197.6h2.2M459.1 189.3h2.2M462.1 164.7h2.2M456.2 163.0h2.2M455.0 198.3h2.2M464.7 129.8h2.2M466.0 155.2h2.2M463.7 124.7h2.2M460.4 134.1h2.2M455.8 165.4h2.2M462.4 176.0h2.2M463.2 145.7h2.2M463.8 167.1h2.2M459.9 152.5h2.2M455.6 189.9h2.2M462.9 143.2h2.2M468.2 121.2h2.2M455.3 165.9h2.2M462.1 158.5h2.2M458.1 136.8h2.2M459.0 181.5h2.2M467.5 128.0h2.2M461.5 128.7h2.2M464.9 163.5h2.2M464.8 141.6h2.2M455.2 171.0h2.2M457.7 154.5h2.2M459.0 125.6h2.2M464.5 165.8h2.2M466.1 125.3h2.2M453.0 186.5h2.2M462.3 158.5h2.2M468.5 130.4h2.2M459.9 126.1h2.2M457.6 193.2h2.2M465.9 110.9h2.2M458.2 185.1h2.2M467.1 116.6h2.2M462.0 179.2h2.2M461.8 175.5h2.2M464.5 111.3h2.2M458.5 181.6h2.2M453.7 190.2h2.2M460.6 153.7h2.2M467.6 124.8h2.2M458.2 125.4h2.2M465.1 133.9h2.2M460.4 166.7h2.2M462.0 131.2h2.2M463.8 159.9h2.2M458.0 160.7h2.2M463.7 122.0h2.2M461.8 139.1h2.2M455.2 165.8h2.2M456.9 189.9h2.2M457.3 149.0h2.2M464.4 170.4h2.2M461.6 163.9h2.2M458.5 162.9h2.2M458.7 191.0h2.2M464.7 130.4h2.2M457.7 194.9h2.2M462.9 128.4h2.2M465.3 164.4h2.2M466.5 152.4h2.2M462.3 128.2h2.2M461.6 139.4h2.2M457.7 153.0h2.2M461.8 133.6h2.2M453.5 189.9h2.2M462.1 159.8h2.2M457.3 178.0h2.2M457.2 152.5h2.2M460.0 153.2h2.2M463.5 114.2h2.2M464.2 127.2h2.2M463.5 151.3h2.2M457.0 165.7h2.2M461.2 126.4h2.2M460.6 183.2h2.2M464.0 144.9h2.2M453.4 181.0h2.2M462.3 123.1h2.2M461.6 154.2h2.2M466.2 124.7h2.2M456.7 199.2h2.2M459.7 127.7h2.2M459.4 133.6h2.2M460.4 126.9h2.2M463.4 147.3h2.2M459.3 122.1h2.2M456.2 185.0h2.2M457.4 174.8h2.2M457.3 165.2h2.2M460.1 141.9h2.2M458.4 185.3h2.2M456.8 159.4h2.2M461.4 123.9h2.2M457.3 186.6h2.2M456.4 195.0h2.2M456.9 181.4h2.2M463.9 173.5h2.2M466.1 125.6h2.2M463.9 149.3h2.2M456.1 174.1h2.2M467.2 116.6h2.2M462.2 122.8h2.2M461.3 178.9h2.2M463.9 138.8h2.2M453.8 188.5h2.2M465.8 156.4h2.2M465.7 113.2h2.2M470.0 117.8h2.2M462.0 150.3h2.2M458.4 133.8h2.2M465.0 135.1h2.2M466.6 129.8h2.2M461.0 171.3h2.2M461.4 118.6h2.2M456.8 168.9h2.2M454.5 195.3h2.2M465.1 136.7h2.2M460.6 161.4h2.2M461.6 124.1h2.2M464.5 128.3h2.2M462.1 117.2h2.2M465.8 155.3h2.2M463.2 110.7h2.2M458.2 194.4h2.2M459.7 116.7h2.2M456.1 197.3h2.2M459.0 171.8h2.2M465.5 145.2h2.2M460.6 134.7h2.2M459.9 141.9h2.2M456.1 176.5h2.2M457.4 166.6h2.2M455.0 189.8h2.2M464.7 155.0h2.2M459.3 156.7h2.2M467.0 115.0h2.2M468.7 110.9h2.2M453.9 192.7h2.2M463.6 158.8h2.2M466.4 156.7h2.2M458.6 144.0h2.2M458.4 174.9h2.2M457.2 135.4h2.2M469.9 117.7h2.2M454.0 180.9h2.2M462.9 178.5h2.2M462.6 176.4h2.2M468.7 132.0h2.2M455.4 190.8h2.2M452.1 197.0h2.2M468.6 115.4h2.2M459.0 126.1h2.2M461.9 145.1h2.2M464.4 162.9h2.2M457.9 161.2h2.2M458.6 165.5h2.2M460.8 175.3h2.2M463.9 157.7h2.2M466.7 120.4h2.2M461.1 178.4h2.2M470.1 113.5h2.2M461.1 176.6h2.2M462.3 156.6h2.2M458.6 192.8h2.2M458.9 122.8h2.2M457.9 157.0h2.2M464.2 129.6h2.2M455.5 160.2h2.2M456.5 171.5h2.2M463.2 132.7h2.2M461.2 192.4h2.2M457.3 148.9h2.2M459.7 155.4h2.2M465.2 133.4h2.2M461.3 121.8h2.2M454.3 180.8h2.2M464.3 160.4h2.2M463.0 165.4h2.2M459.2 113.1h2.2M462.1 157.5h2.2M463.6 163.6h2.2M458.2 196.5h2.2M465.6 132.6h2.2M462.0 131.4h2.2M467.9 131.4h2.2M462.2 151.0h2.2M456.4 190.9h2.2M465.7 128.7h2.2M453.7 197.7h2.2M463.6 169.5h2.2M459.8 156.1h2.2M457.9 143.8h2.2M457.4 173.9h2.2M456.8 192.8h2.2M465.9 158.3h2.2M456.8 181.3h2.2M468.6 124.0h2.2M461.9 172.8h2.2M458.7 119.0h2.2M460.2 175.0h2.2M459.6 133.4h2.2M464.1 127.8h2.2M459.7 196.0h2.2M458.8 176.0h2.2M464.8 161.6h2.2M458.5 137.2h2.2M461.1 190.8h2.2M456.2 159.4h2.2M465.5 126.2h2.2M459.5 166.9h2.2M456.3 192.4h2.2M462.6 130.8h2.2M458.9 141.2h2.2M459.6 137.2h2.2M463.2 169.2h2.2M465.7 147.4h2.2M458.3 180.4h2.2M454.5 178.3h2.2M459.5 117.7h2.2M461.0 190.3h2.2M464.2 142.6h2.2M460.2 157.7h2.2M469.6 125.1h2.2M462.3 123.8h2.2M457.6 197.0h2.2M463.0 111.8h2.2M459.2 171.8h2.2M464.2 145.5h2.2M460.6 186.0h2.2M461.0 148.2h2.2M462.4 161.6h2.2M467.9 135.4h2.2M453.3 187.2h2.2M457.4 143.0h2.2M460.6 193.3h2.2M465.0 139.9h2.2M458.4 162.5h2.2M456.8 184.7h2.2M459.4 176.5h2.2M463.0 170.2h2.2M461.8 141.6h2.2M461.1 115.3h2.2M454.6 144.4h2.2M465.7 122.1h2.2M471.6 142.6h2.2M467.0 129.7h2.2M456.5 200.5h2.2M470.8 135.8h2.2M455.9 199.0h2.2M453.7 198.6h2.2M459.0 120.1h2.2M466.2 167.5h2.2M470.9 116.4h2.2M470.1 144.5h2.2M467.9 168.9h2.2M470.8 118.1h2.2M453.8 179.0h2.2M468.6 120.1h2.2M469.3 118.8h2.2M471.7 123.0h2.2M457.7 144.9h2.2M454.3 147.4h2.2M453.4 185.1h2.2M465.9 164.9h2.2M458.2 143.3h2.2M459.1 117.2h2.2M459.2 126.9h2.2M453.6 157.5h2.2M464.0 141.4h2.2M451.9 195.2h2.2M465.2 145.9h2.2M453.7 157.8h2.2M469.1 120.8h2.2M469.6 114.5h2.2M454.5 196.2h2.2M473.3 120.2h2.2M466.1 130.5h2.2M455.1 199.6h2.2M458.5 120.0h2.2M455.3 158.5h2.2M454.4 186.8h2.2M452.3 195.4h2.2M466.7 150.3h2.2M469.5 124.4h2.2M466.8 114.0h2.2M456.4 132.2h2.2M463.5 187.6h2.2M452.7 196.6h2.2M455.1 199.9h2.2M456.3 181.2h2.2M463.1 155.2h2.2M457.7 201.3h2.2M469.1 136.1h2.2M450.0 171.1h2.2M467.2 153.1h2.2M465.8 144.0h2.2M455.7 138.0h2.2M471.5 149.7h2.2M453.3 192.8h2.2M469.7 122.4h2.2M449.9 202.6h2.2M462.7 174.0h2.2M470.4 155.6h2.2M457.1 133.5h2.2M458.5 143.9h2.2M459.0 114.2h2.2M462.9 190.3h2.2M469.9 118.4h2.2M454.5 173.1h2.2M467.5 120.0h2.2M460.1 128.5h2.2M459.3 150.3h2.2M465.3 193.6h2.2M453.4 189.2h2.2M454.6 200.1h2.2M467.5 114.7h2.2M459.2 119.8h2.2M459.7 142.5h2.2M451.7 174.8h2.2M458.6 115.5h2.2M464.8 130.7h2.2M465.3 188.7h2.2M464.8 169.9h2.2M454.5 159.7h2.2M466.9 172.7h2.2M463.0 187.3h2.2M472.0 122.1h2.2M466.5 174.2h2.2M454.7 181.6h2.2M458.0 148.2h2.2M454.3 200.9h2.2M457.0 141.2h2.2M468.8 139.0h2.2M471.2 135.9h2.2M466.6 134.9h2.2M468.9 153.7h2.2M452.0 165.5h2.2M462.5 166.4h2.2M469.2 127.6h2.2M452.9 180.0h2.2M460.5 174.2h2.2M453.7 200.9h2.2M452.0 195.5h2.2M452.2 193.4h2.2M467.3 119.8h2.2M470.2 142.4h2.2M456.1 177.4h2.2M469.0 127.0h2.2M456.9 115.2h2.2M454.2 171.6h2.2M453.3 191.4h2.2M458.2 151.1h2.2M468.2 127.5h2.2M473.7 114.1h2.2M460.2 181.3h2.2M466.9 133.6h2.2M456.4 201.0h2.2M452.8 184.3h2.2M460.6 196.8h2.2M463.1 191.9h2.2M453.7 162.2h2.2M450.4 198.4h2.2M455.6 172.0h2.2M453.6 202.3h2.2M460.9 180.3h2.2M455.4 158.9h2.2M453.6 148.3h2.2M456.4 200.3h2.2M465.8 190.5h2.2M449.5 196.1h2.2M456.4 198.7h2.2M452.2 167.3h2.2M456.0 184.0h2.2M467.9 156.8h2.2M470.6 117.3h2.2M468.1 123.2h2.2M450.0 188.9h2.2M466.3 154.6h2.2M457.5 127.4h2.2M454.5 169.7h2.2M455.4 134.7h2.2M470.5 138.7h2.2M458.1 147.6h2.2M454.8 138.5h2.2M466.7 132.1h2.2M467.9 157.5h2.2M466.9 146.0h2.2M469.5 123.5h2.2M459.7 191.0h2.2M467.1 148.6h2.2M468.1 159.1h2.2M450.9 195.3h2.2M448.7 203.5h2.2M460.3 173.1h2.2M465.4 147.2h2.2M467.8 132.9h2.2M470.7 141.3h2.2M458.1 161.5h2.2M454.6 185.6h2.2M450.5 177.7h2.2M465.0 157.5h2.2M467.8 129.0h2.2M467.4 124.6h2.2M462.3 193.4h2.2M464.1 181.1h2.2M453.7 141.2h2.2M460.0 124.2h2.2M454.0 168.4h2.2M452.2 191.5h2.2M456.1 141.6h2.2M461.3 120.5h2.2M452.6 198.1h2.2M458.4 186.4h2.2M466.8 133.4h2.2M457.0 148.9h2.2M454.5 166.4h2.2M453.7 136.6h2.2M467.2 134.7h2.2M468.8 170.0h2.2M457.9 135.1h2.2M461.8 195.8h2.2M454.5 196.3h2.2M454.1 200.2h2.2M458.7 129.3h2.2M469.3 142.6h2.2M467.8 127.7h2.2M468.7 138.9h2.2M457.1 154.8h2.2M453.0 194.9h2.2M453.8 202.6h2.2M463.2 170.3h2.2M453.8 148.2h2.2M455.1 149.7h2.2M458.0 116.9h2.2M467.4 144.0h2.2M468.0 158.3h2.2M460.9 193.7h2.2M466.6 188.4h2.2M458.3 200.2h2.2M465.5 187.1h2.2M451.4 160.9h2.2M457.3 203.4h2.2M471.6 110.4h2.2M453.3 169.0h2.2M469.4 141.5h2.2M453.5 183.0h2.2M454.3 172.7h2.2M468.6 132.0h2.2M460.2 114.3h2.2M468.4 135.5h2.2M454.8 114.6h2.2M453.3 176.2h2.2M449.4 189.1h2.2M451.5 142.6h2.2M452.5 170.6h2.2M452.2 144.6h2.2M452.1 141.1h2.2M455.0 119.1h2.2M451.3 115.6h2.2M449.9 160.3h2.2M451.7 182.1h2.2M446.1 174.9h2.2M453.2 165.5h2.2M451.2 144.1h2.2M450.9 176.6h2.2M450.6 180.8h2.2M454.7 139.2h2.2M459.5 133.0h2.2M454.3 136.1h2.2M455.1 143.6h2.2M508.1 146.6h2.2M513.9 155.9h2.2M507.2 146.7h2.2M507.5 154.7h2.2M519.6 132.9h2.2M485.0 140.0h2.2M498.4 130.1h2.2M464.3 194.9h2.2M507.1 133.3h2.2M465.9 182.8h2.2M503.1 156.6h2.2M478.5 142.9h2.2M502.7 139.6h2.2M498.6 131.4h2.2M473.2 145.0h2.2M529.6 128.9h2.2M483.0 151.1h2.2M508.7 123.4h2.2M493.2 133.1h2.2M481.2 146.9h2.2M483.9 176.9h2.2M499.0 136.8h2.2M483.0 167.5h2.2M523.9 129.3h2.2M490.3 157.4h2.2M516.2 138.8h2.2M471.4 164.3h2.2M488.6 169.4h2.2M493.6 150.8h2.2M478.8 163.8h2.2M481.5 139.1h2.2M496.8 126.7h2.2M470.3 176.4h2.2M479.7 124.7h2.2M477.8 144.3h2.2M484.5 147.6h2.2M479.6 145.2h2.2M522.3 129.9h2.2M460.8 196.7h2.2M504.5 154.8h2.2M485.0 149.2h2.2M485.0 163.4h2.2M475.6 158.7h2.2M483.9 144.6h2.2M508.1 148.8h2.2M520.1 144.6h2.2M477.0 131.0h2.2M484.5 152.4h2.2M466.3 187.8h2.2M481.5 181.1h2.2M481.6 158.8h2.2M478.5 165.6h2.2M465.0 185.8h2.2M483.4 159.8h2.2M471.2 169.9h2.2M472.5 161.5h2.2M484.5 162.6h2.2M470.3 140.4h2.2M479.6 166.9h2.2M484.5 152.0h2.2M472.8 174.1h2.2M485.8 162.3h2.2M473.3 157.6h2.2M470.5 173.1h2.2M465.6 188.0h2.2M483.6 149.9h2.2M468.5 143.4h2.2M485.2 169.4h2.2M462.9 193.8h2.2M483.0 152.8h2.2M473.8 168.9h2.2M479.5 179.1h2.2M476.8 137.8h2.2M467.2 186.9h2.2M480.2 149.8h2.2M482.6 159.5h2.2M477.4 169.1h2.2M475.4 175.0h2.2M463.4 190.8h2.2M468.9 158.6h2.2M533.1 136.0h2.2M554.6 111.8h2.2M473.0 173.3h2.2M514.4 151.1h2.2M454.4 197.5h2.2M538.4 123.4h2.2M568.5 90.1h2.2M495.3 159.1h2.2M468.4 191.0h2.2M454.9 196.3h2.2M505.1 149.0h2.2M456.4 197.1h2.2M550.7 117.3h2.2M509.8 151.2h2.2M485.9 177.5h2.2M537.7 133.2h2.2M518.6 149.5h2.2M466.6 180.0h2.2M472.9 175.8h2.2M464.6 190.3h2.2M459.9 194.0h2.2M482.3 180.9h2.2M478.5 177.0h2.2M574.8 100.0h2.2M568.2 100.6h2.2M471.9 184.7h2.2M520.8 142.8h2.2M473.4 175.2h2.2M566.3 105.8h2.2M554.0 116.6h2.2M498.6 159.5h2.2M516.3 141.9h2.2M491.6 169.5h2.2M475.1 183.0h2.2M550.9 120.4h2.2M507.9 156.4h2.2M556.2 109.7h2.2M466.1 184.9h2.2M570.3 97.9h2.2M565.9 108.3h2.2M569.4 102.4h2.2M527.6 127.1h2.2M482.8 175.2h2.2M522.6 137.9h2.2M505.6 153.5h2.2M574.2 94.7h2.2M537.1 133.5h2.2M512.2 152.9h2.2M544.1 126.5h2.2M504.1 156.9h2.2M561.3 109.9h2.2M486.4 165.4h2.2M570.6 108.3h2.2M558.3 97.0h2.2M560.5 110.9h2.2M463.7 193.9h2.2M525.0 144.0h2.2M552.4 106.7h2.2M493.9 170.9h2.2M533.9 131.6h2.2M533.7 129.8h2.2M485.3 177.7h2.2M576.0 94.0h2.2M490.3 158.9h2.2M563.2 109.8h2.2M546.3 115.8h2.2M556.8 116.7h2.2M510.5 155.1h2.2M508.8 153.5h2.2M505.8 150.2h2.2M551.5 122.3h2.2M475.6 177.4h2.2M484.8 165.9h2.2M473.0 182.2h2.2M471.0 179.6h2.2M563.0 105.9h2.2M484.8 173.1h2.2M514.7 138.2h2.2M577.2 96.1h2.2M461.2 191.9h2.2M564.0 107.3h2.2M467.2 184.8h2.2M572.4 99.4h2.2M507.7 149.3h2.2M457.3 187.8h2.2M570.7 93.9h2.2M568.8 107.5h2.2M531.1 135.7h2.2M509.4 156.6h2.2M559.5 104.3h2.2M527.3 137.4h2.2M562.0 106.2h2.2M469.8 184.1h2.2M534.0 139.8h2.2M500.9 156.4h2.2M563.6 100.3h2.2M470.1 186.5h2.2M503.5 152.2h2.2M548.5 121.1h2.2M566.9 102.4h2.2M478.1 179.8h2.2M464.8 193.7h2.2M479.2 172.2h2.2M557.8 101.4h2.2M515.0 145.8h2.2M531.5 135.6h2.2M553.0 127.9h2.2M490.2 168.4h2.2M470.6 177.9h2.2M510.7 143.5h2.2M557.2 107.0h2.2M548.1 118.1h2.2M475.5 171.9h2.2M564.5 114.2h2.2M528.1 138.6h2.2M573.1 100.9h2.2M572.9 88.0h2.2M554.4 111.3h2.2M470.2 181.7h2.2M471.6 186.2h2.2M550.5 126.0h2.2M497.4 160.1h2.2M503.4 156.0h2.2M482.6 167.6h2.2M536.2 133.8h2.2M571.5 94.3h2.2M555.2 105.5h2.2M579.4 96.2h2.2M557.3 112.7h2.2M462.3 191.6h2.2M570.3 92.8h2.2M469.5 177.9h2.2M487.9 181.2h2.2M562.3 108.9h2.2M566.5 102.8h2.2M525.2 142.9h2.2M521.4 131.4h2.2M493.0 163.7h2.2M550.8 113.6h2.2M494.7 157.1h2.2M530.4 135.6h2.2M572.4 93.9h2.2M496.3 159.6h2.2M576.1 93.0h2.2M493.1 163.8h2.2M457.4 197.5h2.2M507.3 146.8h2.2M565.6 108.5h2.2M574.2 100.1h2.2M487.5 179.4h2.2M470.7 179.7h2.2M533.5 124.3h2.2M510.8 151.1h2.2M548.7 116.5h2.2M540.0 120.6h2.2M558.3 109.8h2.2M503.8 155.7h2.2M475.8 178.4h2.2M529.9 136.4h2.2M514.4 146.8h2.2M536.8 128.4h2.2M512.5 142.0h2.2M572.1 106.1h2.2M560.4 118.8h2.2M475.8 173.9h2.2M476.8 180.8h2.2M505.4 148.2h2.2M488.8 164.1h2.2M518.7 143.1h2.2M569.1 100.7h2.2M521.7 141.1h2.2M542.4 116.2h2.2M574.8 90.3h2.2M547.9 119.1h2.2M488.5 153.2h2.2M499.4 172.5h2.2M484.7 171.6h2.2M464.1 178.3h2.2M497.1 158.0h2.2M497.4 161.5h2.2M471.9 178.4h2.2M498.3 159.0h2.2M564.5 110.4h2.2M472.7 171.9h2.2M453.8 187.2h2.2M576.3 101.8h2.2M558.4 113.5h2.2M497.1 157.3h2.2M486.3 170.0h2.2M530.6 127.1h2.2M532.1 130.4h2.2M464.1 186.9h2.2M471.0 187.6h2.2M463.9 187.0h2.2M497.8 162.9h2.2M471.6 183.6h2.2M550.9 118.1h2.2M543.3 121.9h2.2M541.1 131.0h2.2M471.0 188.9h2.2M572.7 90.7h2.2M546.4 120.6h2.2M548.4 110.1h2.2M494.7 154.4h2.2M578.4 104.7h2.2M531.5 128.3h2.2M461.9 195.6h2.2M502.4 153.6h2.2M536.8 130.1h2.2M456.4 192.7h2.2M520.5 143.8h2.2M579.6 98.2h2.2M557.6 109.2h2.2M473.3 178.2h2.2M539.5 131.3h2.2M568.0 88.2h2.2M528.0 133.0h2.2M559.2 116.7h2.2M548.8 114.4h2.2M510.7 152.3h2.2M559.7 108.3h2.2M543.0 124.7h2.2M500.2 159.1h2.2M551.0 108.4h2.2M513.3 149.6h2.2M474.1 186.9h2.2M556.6 114.1h2.2M516.6 149.6h2.2M492.5 167.0h2.2M556.4 107.6h2.2M510.9 155.9h2.2M479.7 173.5h2.2M460.0 193.4h2.2M575.4 97.4h2.2M515.4 159.9h2.2M566.4 104.5h2.2M459.1 192.6h2.2M570.1 103.4h2.2M523.1 135.6h2.2M501.8 160.5h2.2M468.8 191.2h2.2M571.8 95.5h2.2M534.5 132.8h2.2M503.3 151.3h2.2M465.5 174.7h2.2M558.6 117.8h2.2M487.0 171.4h2.2M551.1 118.5h2.2M495.0 159.7h2.2M474.9 183.1h2.2M495.9 157.4h2.2M548.8 123.2h2.2M488.5 168.3h2.2M567.7 100.1h2.2M490.0 171.5h2.2M477.6 166.3h2.2M537.3 140.8h2.2M466.2 176.9h2.2M562.6 110.6h2.2M480.8 172.7h2.2M571.3 102.6h2.2M576.3 99.5h2.2M489.9 172.0h2.2M550.0 121.5h2.2M529.5 135.9h2.2M566.3 107.8h2.2M535.6 129.8h2.2M564.1 101.2h2.2M512.0 153.5h2.2M460.3 187.9h2.2M553.1 118.7h2.2M519.0 151.8h2.2M547.1 122.2h2.2M545.1 125.3h2.2M463.2 189.2h2.2M555.3 124.2h2.2M564.8 97.6h2.2M478.5 170.9h2.2M571.6 109.6h2.2M463.5 192.2h2.2M538.5 124.3h2.2M535.0 127.9h2.2M549.2 115.5h2.2M477.3 178.3h2.2M487.5 174.0h2.2M563.5 108.8h2.2M477.3 174.9h2.2M531.6 128.7h2.2M566.5 99.5h2.2M537.3 132.1h2.2M574.8 99.1h2.2M485.1 165.1h2.2M479.8 177.1h2.2M532.0 135.6h2.2M520.0 151.5h2.2M558.8 112.2h2.2M455.4 194.8h2.2M491.3 167.1h2.2M492.8 164.4h2.2M511.9 158.1h2.2M477.0 175.2h2.2M469.3 185.8h2.2M572.8 107.1h2.2M531.2 130.8h2.2M484.1 174.6h2.2M479.3 179.8h2.2M457.6 193.5h2.2M561.8 114.0h2.2M552.6 116.1h2.2M477.2 170.7h2.2M541.1 119.0h2.2M479.0 173.8h2.2M554.8 119.3h2.2M514.5 144.7h2.2M569.8 103.5h2.2M495.4 161.1h2.2M528.4 149.1h2.2M535.2 125.2h2.2M494.4 163.4h2.2M470.9 182.7h2.2M494.3 167.3h2.2M459.1 186.4h2.2M452.6 195.6h2.2M495.3 165.1h2.2M510.8 148.7h2.2M514.6 148.1h2.2M453.4 190.3h2.2M465.9 185.9h2.2M480.5 173.3h2.2M481.1 171.4h2.2M454.4 111.3h2.2M454.2 116.3h2.2M460.0 112.1h2.2M529.9 104.8h2.2M500.6 112.7h2.2M507.5 126.6h2.2M524.5 111.3h2.2M521.5 103.8h2.2M508.5 132.9h2.2M501.6 115.3h2.2M498.8 116.9h2.2M503.6 134.7h2.2M532.8 101.9h2.2M544.4 106.4h2.2M549.6 106.1h2.2M529.9 108.1h2.2M548.4 110.0h2.2M524.6 105.9h2.2M522.3 110.5h2.2M510.5 126.3h2.2M522.5 109.3h2.2M509.9 133.9h2.2M497.8 116.4h2.2M509.4 130.0h2.2M534.7 107.2h2.2M501.4 145.0h2.2M573.1 86.1h2.2M585.2 84.4h2.2M579.4 90.5h2.2M568.2 90.0h2.2M576.2 80.1h2.2M574.0 87.9h2.2M574.1 86.7h2.2M577.9 85.4h2.2M577.7 88.0h2.2M578.8 89.3h2.2M571.8 81.3h2.2M576.6 95.6h2.2M568.4 88.7h2.2M570.2 96.9h2.2M574.9 86.5h2.2M577.3 89.6h2.2M572.3 89.7h2.2M580.4 83.2h2.2M572.8 87.9h2.2M578.2 85.5h2.2M577.6 90.9h2.2M578.0 94.3h2.2M583.0 88.1h2.2M571.5 92.5h2.2M571.5 91.7h2.2M582.6 84.4h2.2M575.0 87.0h2.2M584.3 89.3h2.2M571.6 93.1h2.2M574.0 95.2h2.2M580.2 92.2h2.2M578.2 82.9h2.2M582.8 89.3h2.2M564.2 91.6h2.2M575.9 92.6h2.2M573.9 87.0h2.2" stroke="#0a3f64" stroke-width="2.2" fill="none"/>
<path d="M486.8 63.3L489.6 68.5L491.7 76.5L492.2 84.4L490.9 94.1L487.9 102.0L485.4 106.4L475.2 107.3L464.1 108.1L458.2 106.4L455.6 102.0L458.2 95.8L462.4 89.7L465.8 83.5L469.2 77.3L473.5 72.1L479.4 66.8L483.7 64.1Z" fill="#bebebe" />
<path d="M500.3 97.8h2.2M545.5 75.5h2.2M545.0 65.2h2.2M493.0 88.4h2.2M520.9 74.4h2.2M509.8 96.0h2.2M506.2 70.4h2.2M558.8 88.4h2.2M538.7 64.3h2.2M496.6 85.7h2.2M505.3 65.5h2.2M551.0 89.4h2.2M514.4 77.9h2.2M500.2 82.4h2.2M499.3 80.9h2.2M493.0 94.6h2.2M514.2 84.3h2.2M560.6 72.6h2.2M548.3 79.2h2.2M539.7 79.7h2.2M501.6 76.1h2.2M496.3 73.0h2.2M539.6 73.6h2.2M551.5 95.9h2.2M525.0 69.1h2.2M510.9 92.4h2.2M537.5 99.5h2.2M553.9 85.5h2.2M540.1 67.2h2.2M524.6 64.4h2.2M543.0 90.9h2.2M521.5 87.8h2.2M505.2 95.5h2.2M522.9 88.5h2.2M520.5 83.1h2.2M521.9 75.0h2.2M511.3 87.5h2.2M509.3 90.5h2.2M492.8 90.4h2.2M542.8 98.3h2.2M524.7 68.8h2.2M493.2 94.7h2.2M495.1 89.8h2.2M496.3 84.7h2.2M494.2 80.0h2.2M490.8 98.4h2.2M491.6 83.1h2.2M499.4 97.6h2.2M495.3 84.2h2.2M501.6 83.5h2.2M497.3 67.7h2.2M489.2 88.0h2.2M497.0 87.4h2.2M491.1 62.0h2.2M497.8 82.4h2.2M497.9 60.5h2.2M495.3 84.7h2.2M497.0 79.1h2.2M491.5 80.6h2.2M499.7 85.9h2.2M491.2 81.2h2.2M504.2 98.7h2.2M499.6 90.1h2.2M497.0 96.6h2.2M494.0 93.3h2.2M495.7 98.3h2.2M488.4 88.2h2.2M496.4 95.1h2.2M502.3 95.1h2.2M497.1 65.9h2.2M494.2 75.0h2.2M495.7 80.2h2.2M499.2 78.8h2.2M492.9 77.7h2.2M495.5 88.7h2.2M499.4 95.9h2.2M492.3 97.9h2.2M495.8 94.2h2.2M493.0 68.7h2.2M496.1 91.2h2.2M499.3 73.2h2.2M496.5 66.9h2.2M489.5 102.6h2.2M497.7 69.2h2.2M502.0 78.4h2.2M495.0 86.4h2.2M492.9 80.5h2.2M498.5 89.1h2.2M497.7 72.8h2.2M500.5 79.5h2.2M501.7 95.0h2.2M500.6 93.8h2.2M497.4 74.9h2.2M493.9 84.7h2.2M494.8 93.1h2.2M494.6 92.1h2.2M493.6 77.6h2.2M494.2 96.7h2.2M502.9 79.3h2.2M498.7 86.5h2.2M497.5 91.5h2.2M497.7 79.4h2.2M494.5 91.4h2.2M490.2 81.7h2.2M497.3 88.6h2.2M492.0 95.1h2.2M493.9 93.1h2.2M498.2 66.4h2.2M495.0 82.8h2.2M495.7 71.6h2.2M495.4 68.5h2.2M493.2 83.4h2.2M499.5 64.7h2.2M498.3 84.9h2.2M496.4 95.6h2.2M562.1 71.2h2.2M553.1 60.3h2.2M564.0 78.3h2.2M588.9 80.3h2.2M567.0 80.3h2.2M571.4 71.7h2.2M566.6 80.6h2.2M576.3 86.2h2.2M576.6 81.2h2.2M569.0 82.0h2.2M564.9 75.5h2.2M575.0 70.6h2.2M572.7 78.5h2.2M569.2 88.8h2.2M561.0 70.4h2.2M566.0 70.7h2.2M570.3 80.1h2.2M566.1 78.7h2.2M484.8 95.1h2.2M477.3 78.1h2.2M483.6 84.3h2.2M485.8 98.3h2.2M476.5 75.7h2.2M478.8 81.3h2.2M475.4 86.2h2.2M484.2 79.0h2.2M484.7 103.0h2.2M483.8 90.9h2.2M481.8 98.3h2.2M484.4 100.4h2.2M489.6 76.9h2.2M475.6 88.7h2.2M479.1 80.8h2.2M479.0 90.1h2.2M475.1 86.5h2.2M480.2 99.7h2.2M469.9 101.2h2.2M488.0 91.9h2.2M477.4 101.6h2.2M484.2 88.0h2.2M475.4 79.9h2.2M480.3 77.2h2.2M481.6 89.2h2.2M480.0 93.5h2.2M472.8 100.4h2.2M474.6 101.8h2.2M481.3 99.4h2.2M477.7 100.1h2.2M480.7 70.8h2.2M480.2 77.9h2.2M483.7 70.3h2.2M479.1 95.6h2.2M495.5 91.6h2.2M480.0 88.7h2.2M488.5 94.5h2.2M487.4 88.3h2.2M483.3 81.2h2.2M473.9 101.0h2.2M476.1 108.7h2.2M485.2 83.3h2.2M488.1 79.2h2.2M479.8 96.6h2.2M476.2 107.0h2.2M478.3 88.1h2.2M479.8 81.8h2.2M478.2 95.9h2.2M480.5 82.8h2.2M485.1 97.8h2.2M477.5 76.1h2.2M477.4 93.4h2.2M471.6 84.0h2.2M477.8 104.1h2.2M479.2 81.8h2.2M478.6 81.3h2.2M481.9 104.5h2.2M482.0 94.1h2.2M475.9 96.4h2.2M481.3 88.2h2.2M475.2 105.5h2.2M475.2 84.0h2.2M479.8 106.7h2.2M486.6 102.4h2.2M483.8 102.7h2.2M478.5 104.8h2.2M483.9 88.4h2.2M482.7 101.7h2.2M480.5 82.5h2.2M483.1 84.5h2.2M482.8 95.2h2.2M474.2 81.3h2.2M480.6 84.7h2.2M472.0 105.6h2.2M476.6 75.6h2.2M480.7 94.8h2.2M473.3 93.6h2.2M477.9 80.9h2.2M481.4 106.9h2.2M480.2 92.1h2.2M478.7 104.2h2.2M486.8 90.4h2.2M487.3 62.4h2.2M475.7 81.6h2.2M483.3 107.5h2.2M489.1 82.8h2.2M487.1 63.6h2.2M480.2 100.5h2.2M479.3 106.1h2.2M483.6 82.4h2.2M479.6 98.7h2.2M480.4 101.7h2.2M475.6 109.5h2.2M485.5 98.5h2.2M482.6 83.5h2.2M478.6 84.5h2.2M485.8 83.5h2.2M475.8 90.5h2.2M480.7 97.6h2.2M479.7 94.5h2.2M489.3 73.0h2.2M484.6 80.3h2.2M477.2 99.9h2.2M482.1 100.0h2.2M476.9 105.5h2.2M481.1 106.3h2.2M477.8 91.8h2.2M482.2 76.5h2.2M479.0 100.0h2.2M481.9 83.6h2.2M476.0 100.0h2.2M490.0 80.1h2.2M486.6 91.8h2.2M474.6 103.0h2.2M468.1 108.4h2.2M482.3 82.3h2.2M483.7 73.4h2.2M483.6 77.8h2.2M482.7 103.5h2.2M491.2 85.5h2.2M475.8 108.0h2.2M487.5 96.4h2.2M476.9 85.5h2.2M479.6 97.1h2.2M479.4 105.2h2.2M477.6 95.0h2.2M480.3 90.3h2.2M481.1 101.3h2.2M486.0 88.3h2.2M482.6 74.0h2.2M482.3 89.9h2.2M477.8 86.3h2.2M482.2 91.2h2.2M490.3 74.5h2.2M488.7 102.1h2.2M470.3 89.9h2.2M466.6 97.5h2.2M478.4 99.3h2.2M478.7 103.9h2.2M475.7 77.3h2.2M469.3 91.7h2.2M480.0 89.2h2.2M479.7 89.7h2.2M479.1 107.4h2.2M473.2 101.6h2.2M471.8 103.6h2.2M474.9 85.9h2.2M477.2 81.9h2.2M479.9 91.7h2.2M481.9 100.9h2.2M480.0 100.1h2.2M479.9 79.2h2.2M482.5 107.8h2.2M481.2 101.6h2.2M479.6 91.9h2.2M480.4 84.4h2.2M479.6 97.8h2.2M476.3 82.5h2.2M477.9 95.7h2.2M483.7 78.0h2.2M473.7 95.0h2.2M475.2 93.7h2.2M488.0 98.9h2.2M473.9 85.1h2.2M484.9 97.6h2.2M475.9 104.4h2.2M480.1 82.9h2.2M481.7 72.8h2.2M487.8 103.5h2.2M478.5 84.7h2.2M481.8 89.8h2.2M469.6 93.4h2.2M488.3 99.6h2.2M481.1 109.0h2.2M486.1 91.8h2.2M486.1 76.9h2.2M480.7 91.1h2.2M473.3 92.8h2.2M481.4 106.0h2.2M477.8 82.9h2.2M486.1 85.3h2.2M485.7 100.6h2.2M482.2 72.7h2.2M475.0 92.4h2.2M486.5 77.1h2.2M485.1 104.3h2.2M486.8 76.6h2.2M485.3 88.2h2.2M482.9 70.9h2.2M481.9 77.1h2.2M469.4 94.1h2.2M480.1 102.7h2.2M483.8 82.2h2.2M472.2 104.2h2.2M478.2 81.5h2.2M486.5 88.0h2.2M483.5 99.0h2.2M478.2 97.5h2.2M477.3 80.3h2.2M480.3 101.8h2.2M477.0 76.0h2.2M480.2 88.1h2.2M482.2 83.1h2.2M480.3 100.3h2.2M488.1 82.4h2.2M481.8 91.2h2.2M479.6 79.7h2.2M478.2 104.8h2.2M483.5 79.0h2.2M491.9 80.8h2.2M478.9 87.9h2.2M483.2 103.8h2.2M480.4 91.5h2.2M486.7 83.3h2.2M484.1 106.4h2.2M484.3 88.6h2.2M475.2 83.5h2.2M477.7 84.7h2.2M477.9 89.3h2.2M474.2 82.3h2.2M487.6 104.5h2.2M477.0 93.0h2.2M480.2 97.0h2.2M487.5 73.9h2.2M466.4 109.4h2.2M480.4 93.0h2.2M486.2 74.0h2.2M481.1 102.1h2.2M484.9 100.2h2.2M474.2 87.8h2.2M487.6 72.4h2.2M476.5 102.5h2.2M482.6 105.8h2.2M473.5 103.8h2.2M477.7 102.9h2.2M479.4 86.1h2.2M479.2 107.9h2.2M479.7 86.4h2.2M475.2 98.8h2.2M478.6 94.5h2.2M479.4 74.0h2.2M478.9 107.4h2.2M486.0 74.3h2.2M484.5 93.1h2.2M480.0 72.1h2.2M488.1 94.5h2.2M481.7 98.4h2.2M473.6 95.1h2.2M482.6 103.4h2.2M476.2 100.9h2.2M481.2 95.0h2.2M488.6 95.2h2.2M484.1 84.3h2.2M480.8 101.5h2.2M473.7 98.5h2.2M488.5 85.1h2.2M489.0 85.0h2.2M479.4 93.7h2.2M487.4 100.5h2.2M478.6 102.1h2.2M471.1 100.3h2.2M485.5 93.0h2.2M477.5 82.4h2.2M470.8 108.2h2.2M477.7 91.3h2.2M475.9 99.7h2.2M479.3 97.5h2.2M486.0 76.0h2.2M487.9 89.5h2.2M469.6 91.1h2.2M485.6 83.2h2.2M480.3 103.2h2.2M485.0 83.7h2.2M477.2 97.1h2.2M480.5 91.3h2.2M482.9 86.7h2.2M480.2 101.8h2.2M474.0 98.7h2.2M481.9 77.7h2.2M480.1 88.8h2.2M476.8 80.5h2.2M476.8 83.4h2.2M480.3 106.7h2.2M486.3 76.9h2.2M483.4 97.9h2.2M482.7 89.4h2.2M479.3 75.7h2.2M483.9 94.8h2.2M479.7 101.6h2.2M479.2 82.4h2.2M481.9 92.6h2.2M475.4 98.5h2.2M476.9 87.8h2.2M486.7 65.1h2.2M491.4 75.2h2.2M475.7 101.0h2.2M483.0 86.9h2.2M488.9 79.2h2.2M480.2 92.9h2.2M477.4 90.2h2.2M481.0 103.5h2.2M472.6 102.7h2.2M482.5 79.7h2.2M476.6 101.6h2.2M475.2 89.3h2.2M475.3 104.0h2.2M481.0 107.3h2.2M475.1 82.1h2.2M477.7 93.8h2.2M477.3 99.8h2.2M484.3 88.9h2.2M477.1 105.5h2.2M475.5 98.7h2.2M485.7 79.7h2.2M474.5 103.1h2.2M476.2 88.6h2.2M480.9 82.5h2.2M472.6 108.9h2.2M480.6 83.8h2.2M476.1 104.7h2.2M478.0 83.5h2.2M478.2 98.8h2.2M481.0 107.4h2.2M472.3 84.6h2.2M484.8 73.1h2.2M477.8 87.3h2.2M469.9 100.5h2.2M484.1 72.0h2.2M488.9 77.0h2.2M487.0 89.8h2.2M473.6 80.1h2.2M486.5 67.3h2.2M470.4 96.0h2.2M475.1 96.4h2.2M473.9 91.9h2.2M483.6 93.9h2.2M481.4 89.4h2.2M490.7 74.5h2.2M470.1 96.3h2.2M485.0 85.4h2.2M481.8 83.7h2.2M477.6 96.4h2.2M478.5 83.3h2.2M495.0 78.1h2.2M487.7 99.6h2.2M478.5 99.6h2.2M476.3 92.1h2.2M483.2 89.2h2.2M477.9 97.4h2.2M480.8 77.7h2.2M470.0 93.1h2.2M476.4 83.5h2.2M485.8 79.8h2.2M487.1 82.0h2.2M481.1 76.8h2.2M484.0 103.3h2.2M487.7 78.1h2.2M484.2 89.8h2.2M482.8 86.4h2.2M481.7 92.4h2.2M480.4 100.6h2.2M483.1 77.6h2.2M484.5 83.9h2.2M481.8 100.5h2.2M486.6 86.7h2.2M475.1 86.2h2.2M484.0 80.2h2.2M475.1 91.3h2.2M480.9 96.3h2.2M483.9 80.2h2.2M480.7 95.2h2.2M485.2 94.5h2.2M482.0 79.4h2.2M479.7 90.6h2.2M481.9 103.6h2.2M475.4 81.3h2.2M484.9 86.8h2.2M477.9 96.0h2.2M479.0 99.9h2.2M485.0 76.8h2.2M481.3 87.6h2.2M473.2 93.9h2.2M479.9 107.2h2.2M486.6 97.2h2.2M476.0 80.7h2.2M485.8 96.6h2.2M477.4 98.6h2.2M486.3 91.4h2.2M480.4 77.9h2.2M483.1 87.5h2.2M472.8 93.0h2.2M481.0 98.3h2.2M474.4 92.5h2.2M486.5 79.7h2.2M479.6 103.1h2.2M482.5 85.7h2.2M477.7 101.9h2.2M475.5 79.6h2.2M482.1 103.3h2.2M486.3 78.5h2.2M488.4 74.0h2.2M476.8 90.0h2.2M476.5 105.6h2.2M484.2 86.7h2.2M482.2 82.7h2.2M480.1 96.2h2.2M472.1 105.4h2.2M473.7 100.1h2.2M483.3 98.0h2.2M479.7 91.6h2.2M485.8 105.7h2.2M478.8 85.0h2.2M481.7 109.0h2.2M476.9 86.9h2.2M484.0 77.6h2.2M484.9 87.5h2.2M471.1 99.2h2.2M483.6 74.3h2.2M484.3 83.8h2.2M501.7 95.2h2.2M486.9 81.6h2.2M483.3 91.1h2.2M477.5 103.5h2.2M481.2 98.9h2.2M485.3 81.0h2.2M475.6 98.5h2.2M480.1 73.3h2.2M478.2 95.2h2.2M477.6 101.2h2.2M481.6 107.2h2.2M486.9 88.1h2.2M482.6 94.5h2.2M493.9 79.7h2.2M475.6 101.1h2.2M486.7 83.5h2.2M480.4 90.2h2.2M485.6 80.3h2.2M484.3 95.3h2.2M481.0 83.6h2.2M484.3 76.1h2.2M484.5 86.6h2.2M483.6 107.1h2.2M481.4 82.0h2.2M471.2 104.5h2.2M481.0 97.0h2.2M481.1 91.4h2.2M480.4 94.5h2.2M472.8 96.9h2.2M480.2 98.4h2.2M477.1 91.5h2.2M476.4 85.9h2.2M478.2 107.8h2.2M489.1 99.1h2.2M481.5 109.0h2.2M483.8 92.0h2.2M480.2 87.5h2.2M487.5 84.0h2.2M480.4 88.5h2.2M474.4 102.7h2.2M477.8 88.2h2.2M486.4 79.1h2.2M479.2 103.5h2.2M478.7 76.2h2.2M473.2 98.9h2.2M483.2 95.7h2.2M485.3 103.4h2.2M481.1 72.7h2.2M478.3 83.5h2.2M475.4 90.9h2.2M482.2 99.8h2.2M482.6 67.2h2.2M485.8 104.9h2.2M478.8 101.3h2.2M483.5 82.4h2.2M481.6 101.2h2.2M486.6 86.3h2.2M474.1 92.7h2.2M484.1 102.7h2.2M480.4 91.1h2.2M476.6 92.0h2.2M477.6 83.6h2.2M476.2 103.1h2.2M473.0 108.8h2.2M476.7 100.3h2.2M467.0 100.8h2.2M481.9 89.7h2.2M487.0 85.5h2.2M482.1 101.0h2.2M482.4 80.9h2.2M472.0 93.1h2.2M476.3 83.2h2.2M482.8 95.0h2.2M482.0 98.8h2.2M479.9 77.0h2.2M474.2 93.5h2.2M481.2 98.6h2.2M481.1 106.4h2.2M480.4 96.3h2.2M488.9 90.1h2.2M484.7 75.3h2.2M483.9 97.4h2.2M486.0 91.3h2.2M480.5 84.3h2.2M488.2 82.0h2.2M480.1 95.6h2.2M476.9 103.5h2.2M479.1 104.2h2.2M477.0 93.9h2.2M486.9 81.2h2.2M487.3 87.6h2.2M480.6 96.4h2.2M477.2 107.0h2.2M488.2 75.9h2.2M488.6 82.8h2.2M476.0 90.5h2.2M480.6 93.4h2.2M483.4 75.3h2.2M479.5 98.2h2.2M485.4 94.5h2.2M484.8 98.5h2.2M473.1 95.5h2.2M480.7 108.0h2.2M479.2 104.6h2.2M479.6 91.7h2.2M470.9 93.9h2.2M478.5 73.6h2.2M480.6 88.9h2.2M471.4 103.7h2.2M480.0 71.9h2.2M477.8 83.4h2.2M482.3 86.4h2.2M487.8 73.9h2.2M473.9 93.1h2.2M480.5 89.5h2.2M478.0 104.3h2.2M483.3 73.4h2.2M484.4 96.8h2.2M479.7 105.5h2.2M476.1 99.1h2.2M482.9 78.2h2.2M478.8 85.6h2.2M477.1 104.8h2.2M477.2 83.7h2.2M482.4 80.4h2.2M479.6 102.6h2.2M470.8 94.8h2.2M481.1 83.3h2.2M490.8 87.0h2.2M478.0 80.1h2.2M486.7 79.0h2.2M479.5 89.5h2.2M471.7 87.5h2.2M468.9 105.1h2.2M475.9 100.9h2.2M483.3 79.6h2.2M480.9 108.6h2.2M482.0 95.4h2.2M477.3 80.9h2.2M483.1 101.1h2.2M489.5 95.5h2.2M482.0 88.0h2.2M477.4 99.1h2.2M478.3 79.5h2.2M472.4 82.3h2.2M475.6 84.2h2.2M480.9 83.0h2.2M477.7 101.7h2.2M479.1 90.0h2.2M478.3 90.9h2.2M484.6 93.8h2.2M484.6 93.7h2.2M480.0 93.0h2.2M483.1 106.1h2.2M473.0 93.0h2.2M474.1 106.9h2.2M477.3 105.6h2.2M483.6 97.2h2.2M471.5 90.7h2.2M488.4 83.8h2.2M478.1 104.3h2.2M483.3 65.6h2.2M485.1 87.7h2.2M474.6 109.4h2.2M471.3 90.8h2.2M477.6 94.5h2.2M474.7 101.5h2.2M480.6 80.1h2.2M483.2 91.0h2.2M477.3 96.9h2.2M492.2 77.3h2.2M479.2 90.6h2.2M483.6 94.6h2.2M484.8 89.2h2.2M485.2 88.5h2.2M487.9 98.5h2.2M481.2 75.6h2.2M474.0 85.2h2.2M481.4 102.3h2.2M478.1 95.8h2.2M477.3 80.4h2.2M483.8 98.5h2.2M480.7 96.3h2.2M483.4 81.4h2.2M482.3 72.3h2.2M484.3 84.0h2.2M483.8 77.9h2.2M483.0 83.1h2.2M484.4 103.9h2.2M484.5 87.0h2.2M475.1 85.6h2.2M485.3 101.1h2.2M482.4 81.7h2.2M484.7 93.3h2.2M473.9 100.0h2.2M480.7 95.6h2.2M486.1 82.4h2.2M471.9 100.5h2.2M485.5 102.6h2.2M484.0 81.6h2.2M469.9 107.3h2.2M482.6 107.1h2.2M474.7 91.8h2.2M477.7 79.0h2.2M479.5 83.5h2.2M482.1 78.5h2.2M479.6 99.3h2.2M488.0 77.0h2.2M493.7 85.6h2.2M473.4 86.6h2.2M481.3 93.6h2.2M484.4 103.6h2.2M486.0 88.1h2.2M483.6 88.1h2.2M479.9 75.0h2.2M482.3 100.3h2.2M480.8 77.0h2.2M480.2 77.8h2.2M484.9 77.6h2.2M473.5 80.5h2.2M486.1 78.3h2.2M487.3 91.9h2.2M485.6 81.4h2.2M483.3 81.5h2.2M473.1 100.2h2.2M489.6 80.0h2.2M486.7 80.0h2.2M495.3 73.5h2.2M481.7 100.7h2.2M476.6 104.3h2.2M487.5 69.7h2.2M479.6 88.6h2.2M473.5 103.6h2.2M482.7 87.0h2.2M487.9 75.9h2.2M484.2 75.0h2.2M488.2 92.2h2.2M466.3 104.0h2.2M473.8 82.4h2.2M480.4 89.4h2.2M484.8 96.8h2.2M472.1 84.0h2.2M480.1 103.1h2.2M484.5 81.5h2.2M481.0 85.1h2.2M480.5 77.9h2.2M485.6 89.0h2.2M476.6 98.9h2.2M480.6 109.0h2.2M481.7 101.3h2.2M471.1 90.7h2.2M480.3 99.1h2.2M488.0 83.5h2.2M478.6 95.4h2.2M478.4 99.2h2.2M483.7 97.3h2.2M473.2 104.5h2.2M484.3 90.5h2.2M479.8 100.6h2.2M478.0 88.7h2.2M475.6 97.2h2.2M472.2 93.1h2.2M487.2 73.2h2.2M472.5 91.2h2.2M492.2 90.5h2.2M471.5 88.1h2.2M482.6 103.9h2.2M474.9 93.4h2.2M476.8 102.6h2.2M484.5 79.2h2.2M485.5 92.6h2.2M483.7 77.9h2.2M478.6 96.8h2.2M479.3 76.2h2.2M480.5 92.4h2.2M474.7 88.8h2.2M482.9 75.3h2.2M487.2 96.8h2.2M475.1 108.9h2.2M478.1 105.0h2.2M475.0 98.1h2.2M479.0 95.8h2.2M480.2 104.7h2.2M479.4 108.1h2.2M474.8 105.8h2.2M480.3 108.0h2.2M483.5 66.6h2.2M474.7 88.6h2.2M485.5 95.6h2.2M478.5 93.3h2.2M474.8 98.0h2.2M463.0 97.1h2.2M484.7 100.0h2.2M477.7 102.3h2.2M469.9 101.4h2.2M483.0 86.8h2.2M476.9 108.0h2.2M479.8 76.0h2.2M474.9 93.2h2.2M484.2 87.5h2.2M486.4 77.4h2.2M479.8 81.2h2.2M475.8 109.4h2.2M478.9 89.9h2.2M483.7 107.0h2.2M485.6 94.6h2.2M484.7 104.8h2.2M476.7 108.3h2.2M472.7 108.9h2.2M480.4 90.7h2.2M484.5 99.2h2.2M484.6 85.3h2.2M489.0 93.0h2.2M481.4 100.0h2.2M483.0 75.7h2.2M488.4 76.8h2.2M486.8 95.1h2.2M483.4 76.4h2.2M483.8 73.2h2.2M471.4 86.9h2.2M479.9 83.1h2.2M482.7 97.4h2.2M475.2 105.1h2.2M480.5 97.2h2.2M480.8 78.2h2.2M487.4 95.2h2.2M488.0 80.7h2.2M476.7 93.5h2.2M479.5 85.7h2.2M486.5 87.9h2.2M475.4 100.3h2.2M482.8 91.0h2.2M480.7 85.1h2.2M479.2 101.3h2.2M478.9 76.1h2.2M477.7 106.7h2.2M481.5 88.3h2.2M475.9 96.9h2.2M483.8 67.7h2.2M483.6 81.1h2.2M488.0 79.6h2.2M470.9 84.7h2.2M483.8 97.4h2.2M482.1 73.7h2.2M490.5 86.2h2.2M478.5 81.2h2.2M468.8 104.9h2.2M479.2 101.4h2.2M482.4 92.7h2.2M483.5 83.1h2.2M486.5 87.7h2.2M484.5 85.9h2.2M469.4 96.7h2.2M490.2 81.2h2.2M474.2 81.6h2.2M473.3 99.1h2.2M480.9 98.3h2.2M483.6 77.3h2.2M481.7 88.0h2.2M477.9 91.0h2.2M480.1 77.0h2.2M479.4 101.4h2.2M477.6 98.9h2.2M477.5 76.6h2.2M479.3 80.2h2.2M483.0 82.9h2.2M488.5 68.8h2.2M486.5 89.4h2.2M487.7 96.9h2.2M490.4 100.5h2.2M476.2 96.2h2.2M484.8 82.2h2.2M478.0 91.8h2.2M478.2 87.6h2.2M484.3 99.6h2.2M484.1 96.8h2.2M472.4 85.5h2.2M475.7 108.8h2.2M477.9 102.4h2.2M477.1 103.8h2.2M484.9 99.7h2.2M485.1 84.2h2.2M476.7 81.7h2.2M479.1 90.6h2.2M484.2 93.8h2.2M481.5 89.8h2.2M478.4 88.4h2.2M483.1 92.4h2.2M480.2 89.2h2.2M472.2 96.2h2.2M478.7 81.5h2.2M486.3 83.3h2.2M480.2 100.1h2.2M482.9 84.5h2.2M474.1 108.5h2.2M476.7 86.1h2.2M480.5 95.3h2.2M473.5 99.4h2.2M481.3 86.5h2.2M477.8 96.1h2.2M484.7 83.1h2.2M472.6 89.9h2.2M480.1 91.2h2.2M481.1 88.0h2.2M476.1 83.8h2.2M488.3 73.8h2.2M478.5 80.5h2.2M482.6 99.2h2.2M483.9 82.1h2.2M482.6 79.7h2.2M480.7 105.8h2.2M490.4 79.4h2.2M478.0 87.7h2.2M485.2 92.3h2.2M477.4 100.0h2.2M480.1 95.4h2.2M475.9 99.7h2.2M487.5 79.7h2.2M480.4 106.8h2.2M481.4 91.7h2.2M481.0 98.4h2.2M481.7 104.9h2.2M480.5 97.1h2.2M478.2 83.8h2.2M470.2 88.6h2.2M478.4 85.5h2.2M482.0 107.1h2.2M477.5 79.4h2.2M479.0 104.9h2.2M480.1 78.9h2.2M485.8 100.7h2.2M475.4 103.4h2.2M482.4 75.9h2.2M482.9 103.9h2.2M486.0 90.4h2.2M478.6 83.2h2.2M483.8 89.1h2.2M480.3 81.8h2.2M480.3 100.5h2.2M474.4 81.6h2.2M475.7 87.1h2.2M477.2 80.7h2.2M481.5 89.6h2.2M482.0 84.4h2.2M480.6 88.0h2.2M481.1 103.1h2.2M481.2 109.0h2.2M484.8 78.3h2.2M480.2 78.0h2.2M481.4 85.4h2.2M483.6 68.5h2.2M478.9 82.4h2.2M483.0 71.6h2.2M478.6 83.6h2.2M480.9 86.5h2.2M495.8 80.2h2.2M483.6 83.9h2.2M484.5 77.1h2.2M479.0 79.4h2.2M484.5 82.9h2.2M484.9 85.0h2.2M480.3 74.4h2.2M480.7 83.2h2.2M477.0 88.6h2.2M478.2 88.7h2.2M482.0 79.0h2.2M477.5 82.0h2.2M481.4 74.4h2.2M481.7 83.0h2.2M483.1 77.1h2.2M485.7 71.5h2.2M480.3 73.3h2.2M489.6 77.7h2.2M486.8 79.4h2.2M486.5 85.4h2.2M485.5 87.9h2.2M484.9 69.3h2.2M483.1 87.0h2.2M490.7 76.4h2.2M481.8 79.8h2.2M486.7 70.7h2.2M486.0 77.4h2.2M476.1 83.2h2.2M489.2 79.9h2.2M485.7 75.0h2.2M485.8 67.2h2.2M486.4 81.6h2.2M488.4 73.3h2.2M482.7 85.3h2.2M477.9 81.2h2.2M488.7 82.6h2.2M481.5 80.5h2.2M484.5 75.4h2.2M496.6 87.3h2.2M484.8 74.9h2.2M490.9 70.0h2.2M486.0 89.5h2.2M491.2 85.8h2.2M480.0 82.5h2.2M488.0 76.1h2.2M478.9 74.6h2.2M490.1 70.2h2.2M488.7 74.2h2.2M486.0 72.8h2.2M490.3 78.9h2.2M487.2 85.3h2.2M482.2 74.0h2.2M484.2 69.1h2.2M482.3 70.4h2.2M475.8 80.4h2.2M476.1 80.8h2.2M479.0 80.4h2.2M479.1 85.8h2.2M484.4 87.3h2.2M486.5 80.1h2.2M482.8 80.9h2.2M489.1 80.3h2.2M487.7 75.8h2.2M480.5 77.2h2.2M482.8 81.2h2.2M490.0 71.9h2.2M483.9 75.5h2.2M478.9 83.5h2.2M479.9 73.2h2.2M485.5 80.6h2.2M481.6 82.7h2.2M486.5 67.5h2.2M483.5 81.2h2.2M479.5 80.4h2.2M475.9 80.8h2.2M481.1 76.6h2.2M485.8 78.5h2.2M479.5 86.7h2.2M481.9 79.0h2.2M480.7 88.3h2.2M482.0 80.9h2.2M482.7 76.2h2.2M483.8 82.8h2.2M490.1 78.8h2.2M474.2 81.3h2.2M484.0 84.2h2.2M478.7 78.5h2.2M480.1 73.7h2.2M489.1 81.0h2.2M489.4 86.5h2.2M485.0 85.9h2.2M486.4 88.3h2.2M492.9 79.0h2.2M493.0 77.4h2.2M476.1 81.4h2.2M477.7 78.8h2.2M480.1 78.1h2.2M487.0 81.4h2.2M490.3 76.9h2.2M490.6 74.1h2.2M483.7 71.4h2.2M481.9 78.0h2.2M483.7 79.6h2.2M481.5 79.7h2.2M484.2 81.6h2.2M487.2 77.0h2.2M484.1 90.8h2.2M479.0 75.5h2.2M481.9 92.8h2.2M483.7 80.7h2.2M475.6 84.2h2.2M482.0 76.4h2.2M476.5 82.4h2.2M481.5 69.1h2.2M474.3 82.8h2.2M480.2 79.1h2.2M484.7 81.6h2.2M482.5 77.9h2.2M485.5 98.4h2.2M486.6 72.6h2.2M487.4 82.3h2.2M483.9 83.9h2.2M488.4 85.5h2.2M485.0 81.7h2.2M481.7 88.0h2.2M489.0 74.5h2.2M479.7 83.1h2.2M482.8 69.3h2.2M485.5 78.4h2.2M489.0 81.5h2.2M488.0 75.5h2.2M487.7 75.2h2.2M488.8 75.7h2.2M471.0 86.1h2.2M476.6 84.1h2.2M490.3 82.3h2.2M488.1 71.8h2.2M483.2 80.2h2.2M480.8 73.0h2.2M480.3 81.1h2.2M485.2 86.9h2.2M471.3 87.6h2.2M478.5 77.1h2.2M482.3 80.1h2.2M483.0 78.6h2.2M482.9 76.6h2.2M485.6 82.8h2.2M482.2 82.3h2.2M481.3 80.3h2.2M485.1 80.1h2.2M482.3 81.4h2.2M483.7 77.5h2.2M480.9 76.4h2.2M486.1 78.5h2.2M483.9 94.5h2.2M490.6 70.9h2.2M484.5 79.1h2.2M489.5 80.1h2.2M485.7 77.5h2.2M480.3 85.8h2.2M481.8 84.9h2.2M481.0 73.1h2.2M480.0 86.5h2.2M484.5 84.7h2.2M485.3 78.7h2.2M485.0 87.7h2.2M481.4 86.5h2.2M481.8 75.5h2.2M484.8 83.0h2.2M481.4 70.2h2.2M487.9 78.8h2.2M479.4 79.0h2.2M491.2 76.9h2.2M480.8 75.6h2.2M486.7 67.5h2.2M484.9 81.6h2.2M487.5 73.0h2.2M483.4 75.2h2.2M486.9 88.0h2.2M482.2 73.4h2.2M476.9 78.4h2.2M479.3 72.5h2.2M479.6 80.4h2.2M486.2 86.1h2.2M477.3 83.2h2.2M482.6 75.1h2.2M481.9 90.4h2.2M481.1 84.7h2.2M483.7 78.3h2.2M480.6 82.0h2.2M495.7 77.2h2.2M488.3 74.6h2.2M487.9 72.4h2.2M490.8 83.3h2.2M477.2 82.9h2.2M483.9 79.0h2.2M482.4 76.1h2.2M478.9 77.3h2.2M476.0 88.3h2.2M477.5 91.5h2.2M485.6 79.2h2.2M485.2 92.4h2.2M486.2 78.1h2.2M481.5 86.1h2.2M483.4 83.4h2.2M487.0 89.8h2.2M487.7 85.7h2.2M485.3 75.4h2.2M482.0 79.5h2.2M487.2 83.6h2.2M480.2 76.0h2.2M489.2 74.9h2.2M489.3 78.9h2.2M479.7 75.7h2.2M478.9 75.3h2.2M480.1 83.1h2.2M489.6 81.1h2.2M487.7 73.1h2.2M490.1 78.0h2.2M490.2 80.9h2.2M488.0 79.9h2.2M493.8 78.3h2.2M480.1 81.7h2.2M485.6 80.5h2.2M484.7 91.4h2.2M476.8 89.9h2.2M479.0 89.1h2.2M481.5 75.7h2.2M484.4 70.1h2.2M487.4 83.2h2.2M481.1 86.1h2.2M483.4 83.2h2.2M490.9 79.6h2.2M481.6 84.3h2.2M470.5 88.0h2.2M485.2 82.9h2.2M484.2 72.5h2.2M488.6 88.3h2.2M492.8 85.3h2.2M478.6 88.7h2.2M477.8 84.3h2.2M480.2 91.1h2.2M481.1 81.4h2.2M491.8 74.4h2.2M480.5 85.3h2.2M479.9 81.1h2.2M485.4 68.5h2.2M483.9 75.1h2.2M477.3 86.3h2.2M490.4 85.4h2.2M482.8 79.3h2.2M476.1 90.9h2.2M479.8 83.3h2.2M487.0 83.1h2.2M483.6 79.6h2.2M472.5 88.3h2.2M476.6 79.0h2.2M477.3 78.5h2.2M481.1 86.4h2.2M478.0 75.0h2.2M484.0 78.1h2.2M480.7 80.0h2.2M475.8 88.4h2.2M487.8 78.0h2.2M480.2 75.6h2.2M484.1 79.4h2.2M487.0 69.3h2.2M483.6 81.3h2.2M482.8 74.2h2.2M485.1 71.2h2.2M484.4 75.4h2.2M475.7 89.7h2.2M487.8 84.1h2.2M471.4 86.0h2.2M485.9 87.8h2.2M486.1 85.1h2.2M480.7 82.2h2.2M482.6 72.0h2.2M492.2 89.1h2.2M488.8 77.3h2.2M487.1 80.1h2.2M485.6 81.4h2.2M481.8 87.2h2.2M493.7 87.8h2.2M478.8 80.0h2.2M490.1 80.2h2.2M486.6 67.0h2.2M488.4 79.8h2.2M486.3 78.7h2.2M486.6 70.8h2.2M480.1 72.4h2.2M475.1 85.6h2.2M481.8 71.3h2.2M488.8 79.1h2.2M482.8 81.7h2.2M477.5 78.3h2.2M487.5 78.7h2.2M485.0 76.2h2.2M478.0 77.2h2.2M485.3 79.5h2.2M486.4 79.8h2.2M486.1 70.5h2.2M480.2 71.6h2.2M483.2 86.6h2.2M493.3 82.6h2.2M484.5 79.1h2.2M480.7 78.4h2.2M478.5 88.6h2.2M475.7 83.7h2.2M482.1 95.4h2.2M489.7 83.1h2.2M484.4 85.4h2.2M482.8 79.5h2.2M491.2 77.0h2.2M482.9 78.8h2.2M483.7 81.4h2.2M480.8 72.8h2.2M475.2 90.4h2.2M485.2 75.6h2.2M482.9 77.7h2.2M482.8 79.6h2.2M454.8 109.3h2.2M458.4 107.0h2.2M451.7 100.0h2.2M457.7 109.9h2.2M462.3 102.6h2.2M468.7 103.7h2.2M467.3 102.8h2.2M467.9 94.2h2.2M463.8 93.2h2.2M467.0 93.5h2.2M461.4 100.9h2.2M468.2 109.6h2.2M468.5 95.4h2.2M460.7 107.0h2.2M463.6 99.8h2.2M464.5 97.3h2.2M467.6 107.7h2.2M466.5 93.8h2.2M459.4 108.1h2.2M466.3 108.0h2.2M467.5 108.3h2.2M460.7 110.2h2.2M462.6 97.7h2.2M459.5 102.4h2.2M460.4 103.1h2.2M466.7 99.1h2.2M467.2 94.5h2.2M460.6 106.1h2.2M468.3 100.5h2.2M465.6 96.8h2.2M465.7 99.5h2.2M465.9 94.7h2.2M465.2 108.7h2.2M462.7 98.5h2.2M462.8 99.5h2.2M461.5 102.3h2.2M465.0 107.4h2.2M462.3 106.1h2.2M469.4 100.0h2.2M466.2 94.8h2.2M460.8 98.4h2.2M463.2 110.1h2.2M464.7 106.9h2.2M460.0 100.1h2.2M470.1 109.2h2.2M465.1 105.8h2.2M466.5 95.2h2.2M468.7 103.7h2.2M465.5 100.1h2.2M460.1 101.1h2.2M460.5 106.5h2.2M463.2 105.4h2.2M461.5 106.8h2.2M465.7 101.7h2.2M459.9 104.6h2.2M464.3 109.8h2.2M467.6 94.9h2.2M465.4 92.2h2.2M465.5 97.2h2.2M467.0 99.7h2.2M462.0 98.4h2.2M464.7 92.0h2.2M466.5 93.2h2.2M461.0 101.6h2.2M465.7 103.0h2.2M463.2 109.1h2.2M466.1 107.4h2.2M469.9 98.1h2.2M459.7 101.4h2.2M461.4 108.3h2.2M465.3 103.9h2.2M466.9 107.0h2.2M464.6 99.3h2.2M467.8 98.0h2.2M464.1 92.4h2.2M461.7 108.1h2.2M469.3 106.5h2.2M468.7 105.8h2.2M465.5 94.0h2.2M466.0 92.6h2.2M465.6 93.2h2.2M469.3 106.4h2.2M467.8 97.4h2.2M464.1 97.9h2.2M469.2 108.4h2.2M462.7 107.6h2.2M462.1 100.2h2.2M464.1 96.5h2.2M467.4 97.8h2.2M463.6 106.9h2.2M468.5 110.2h2.2M464.1 107.8h2.2M467.3 110.3h2.2M458.9 106.1h2.2M468.0 98.5h2.2M461.2 106.2h2.2M465.8 102.8h2.2M461.0 98.9h2.2M463.0 102.2h2.2M459.4 109.6h2.2M459.4 103.7h2.2M465.9 96.5h2.2M467.1 94.0h2.2M463.5 108.2h2.2M462.1 106.4h2.2M459.4 108.9h2.2M465.9 109.1h2.2M465.1 109.8h2.2M463.4 94.1h2.2M464.8 105.4h2.2M462.5 107.3h2.2M463.0 101.5h2.2M462.8 106.9h2.2M461.4 97.7h2.2M468.5 98.7h2.2M467.5 101.0h2.2M468.6 103.9h2.2M466.3 96.0h2.2M464.0 97.7h2.2M466.9 99.4h2.2M466.8 108.6h2.2M463.3 104.8h2.2M465.3 110.2h2.2M466.2 92.2h2.2M462.9 94.0h2.2M464.1 93.9h2.2M469.1 109.9h2.2M467.7 93.7h2.2M462.2 103.7h2.2M468.9 105.4h2.2M462.5 107.7h2.2M468.5 107.1h2.2M461.0 106.3h2.2M467.1 110.0h2.2M462.0 97.4h2.2M464.4 104.2h2.2M466.2 93.2h2.2M469.2 102.2h2.2M460.6 107.4h2.2M464.0 94.8h2.2M470.2 105.7h2.2M466.6 102.3h2.2M460.7 104.9h2.2M465.9 94.8h2.2M459.9 107.8h2.2M466.7 105.8h2.2M460.8 96.3h2.2M466.2 103.5h2.2M466.1 102.5h2.2M469.8 101.4h2.2M464.5 102.4h2.2M459.8 103.5h2.2M462.7 97.9h2.2M469.4 108.6h2.2M466.7 102.5h2.2M467.9 96.5h2.2M470.1 104.3h2.2M459.0 106.7h2.2M465.9 106.5h2.2M465.4 95.8h2.2M468.8 96.3h2.2M464.8 93.3h2.2M467.4 108.5h2.2M466.7 98.7h2.2M460.4 104.5h2.2M459.3 105.8h2.2M459.2 105.8h2.2M469.1 105.2h2.2M463.9 103.9h2.2M465.0 98.8h2.2M469.1 100.0h2.2M462.0 110.4h2.2M463.5 92.5h2.2M462.4 98.2h2.2M465.6 103.7h2.2M470.0 108.8h2.2M460.9 104.3h2.2M469.3 102.7h2.2M456.8 108.3h2.2M468.7 94.0h2.2M458.0 109.2h2.2M471.4 95.5h2.2M460.8 95.2h2.2M470.0 107.3h2.2M469.2 98.5h2.2M457.7 103.4h2.2M459.2 100.5h2.2M462.4 103.0h2.2M460.0 99.0h2.2M470.8 107.0h2.2M460.3 96.9h2.2M467.6 97.0h2.2M466.0 93.2h2.2M456.9 95.8h2.2M457.7 96.1h2.2M459.0 110.5h2.2M457.1 107.7h2.2M469.6 105.8h2.2M460.4 99.0h2.2M470.0 94.7h2.2M462.0 96.1h2.2M461.8 101.4h2.2M469.2 93.3h2.2M472.3 108.7h2.2M472.3 102.3h2.2M457.1 110.2h2.2M461.8 96.0h2.2M473.0 99.4h2.2M467.8 93.1h2.2M469.5 109.1h2.2M471.6 106.5h2.2M457.4 109.8h2.2M466.2 95.8h2.2M458.5 106.5h2.2M459.4 97.0h2.2M463.7 97.0h2.2M469.8 97.0h2.2M471.2 108.4h2.2M469.0 102.0h2.2M471.9 99.8h2.2M466.9 97.2h2.2M466.2 93.2h2.2M472.1 98.9h2.2M469.5 103.5h2.2M474.0 105.7h2.2M461.9 91.3h2.2M467.9 98.0h2.2M459.5 106.8h2.2M471.0 107.4h2.2M459.5 105.0h2.2M454.9 105.4h2.2M454.5 104.0h2.2M458.0 94.7h2.2M455.4 109.1h2.2M461.3 98.5h2.2M457.5 100.4h2.2M454.3 95.6h2.2M454.3 88.3h2.2M459.0 98.3h2.2M447.0 96.6h2.2M455.8 93.4h2.2M453.7 100.2h2.2M451.7 105.5h2.2M454.6 101.6h2.2M457.2 101.6h2.2M447.5 100.0h2.2M457.4 109.1h2.2M456.7 100.6h2.2M449.0 97.0h2.2M449.3 108.8h2.2M452.2 107.5h2.2M456.8 106.0h2.2M452.1 94.1h2.2M456.5 100.5h2.2M447.5 103.5h2.2M453.1 97.6h2.2M457.9 103.5h2.2M451.1 96.4h2.2M459.7 103.4h2.2M449.5 100.7h2.2M451.1 108.5h2.2M454.9 107.4h2.2M451.4 101.5h2.2M455.4 101.9h2.2M454.2 103.0h2.2M455.8 100.3h2.2M454.2 97.9h2.2M456.0 101.8h2.2M451.3 102.0h2.2M455.6 105.1h2.2M457.3 109.3h2.2M453.2 107.8h2.2M458.1 95.7h2.2M454.3 97.4h2.2M455.5 95.2h2.2M454.0 92.2h2.2M458.2 89.5h2.2M453.1 100.4h2.2M455.0 105.2h2.2M459.1 100.9h2.2M456.9 86.7h2.2M453.3 110.4h2.2M455.8 91.7h2.2M454.4 95.2h2.2M460.6 104.7h2.2M459.7 100.0h2.2M464.5 109.0h2.2M454.6 107.5h2.2M449.4 95.8h2.2M451.3 104.0h2.2M452.8 108.0h2.2M564.9 97.0h2.2M576.2 86.9h2.2M579.7 82.2h2.2M573.3 90.3h2.2M579.6 93.4h2.2M581.0 86.8h2.2M569.0 95.2h2.2M576.4 90.2h2.2M570.2 86.4h2.2M578.2 85.4h2.2M579.5 95.0h2.2M566.0 88.0h2.2M569.7 95.7h2.2M571.2 91.5h2.2M582.0 88.7h2.2M580.8 87.7h2.2M570.8 87.2h2.2M579.5 86.1h2.2M574.4 83.4h2.2M579.9 91.0h2.2M579.1 85.0h2.2M583.2 86.5h2.2M577.1 91.5h2.2M577.8 99.5h2.2" stroke="#bebebe" stroke-width="2.2" fill="none"/>
<path d="M518.9 75.8h2.2M533.9 72.9h2.2M563.7 66.4h2.2M529.2 71.6h2.2M504.5 67.2h2.2M494.1 73.1h2.2M502.3 79.1h2.2M515.5 62.5h2.2M497.0 73.2h2.2M503.3 84.5h2.2M551.6 81.9h2.2M543.0 95.0h2.2M550.5 61.7h2.2M515.2 61.8h2.2M498.5 71.7h2.2M550.0 71.9h2.2M550.3 73.1h2.2M526.6 62.2h2.2M495.2 68.1h2.2M563.3 66.9h2.2M555.4 59.3h2.2M508.0 92.1h2.2M518.9 94.8h2.2M509.9 66.5h2.2M550.6 88.2h2.2M511.1 87.0h2.2M522.3 94.1h2.2M497.9 93.9h2.2M493.9 80.6h2.2M565.1 78.7h2.2M557.9 87.4h2.2M498.3 75.1h2.2M550.2 69.5h2.2M561.3 62.3h2.2M528.3 67.6h2.2M516.9 77.5h2.2M505.8 88.5h2.2M533.3 70.1h2.2M492.8 71.5h2.2M559.3 70.5h2.2M530.2 91.9h2.2M521.4 76.6h2.2M551.9 75.0h2.2M510.5 70.2h2.2M523.3 83.6h2.2M514.4 84.8h2.2M527.8 67.7h2.2M560.1 82.1h2.2M520.1 72.4h2.2M522.1 71.3h2.2M553.4 91.9h2.2M537.1 65.0h2.2M509.1 82.7h2.2M492.8 69.2h2.2M493.0 87.3h2.2M511.0 87.7h2.2M534.4 66.2h2.2M550.4 89.9h2.2M543.5 89.2h2.2M563.1 66.9h2.2M538.6 76.0h2.2M515.0 89.4h2.2M526.4 70.5h2.2M498.4 70.3h2.2M540.6 90.1h2.2M565.9 83.3h2.2M567.5 61.2h2.2M566.4 84.3h2.2M561.4 70.7h2.2M552.8 56.1h2.2M580.1 69.5h2.2M563.9 76.6h2.2M569.0 83.5h2.2M572.6 76.6h2.2M562.3 75.9h2.2M594.7 86.1h2.2M582.1 94.3h2.2M577.4 84.3h2.2M566.9 88.8h2.2M561.1 74.6h2.2M550.8 75.9h2.2M577.4 85.1h2.2M566.0 81.8h2.2M580.8 73.0h2.2M569.4 82.1h2.2M555.4 79.5h2.2M566.6 77.8h2.2M583.4 93.5h2.2M564.0 77.8h2.2M579.5 83.2h2.2M563.4 74.2h2.2M562.9 73.2h2.2M588.8 88.9h2.2M570.3 76.8h2.2M552.0 76.4h2.2M574.3 76.9h2.2M564.5 77.7h2.2M591.5 96.4h2.2M570.3 91.2h2.2M570.4 86.7h2.2M564.4 73.9h2.2M578.0 85.9h2.2M574.8 79.1h2.2M559.7 74.3h2.2M563.4 73.8h2.2M581.8 87.5h2.2M561.3 74.4h2.2M570.2 75.8h2.2M564.0 69.4h2.2M577.4 88.7h2.2M568.3 79.0h2.2M562.9 75.4h2.2M577.0 91.6h2.2M562.0 70.9h2.2M570.8 66.4h2.2M558.9 77.2h2.2M558.2 72.7h2.2M558.6 77.5h2.2M580.4 73.8h2.2M561.6 75.9h2.2M576.2 73.5h2.2M564.3 82.5h2.2M565.5 84.4h2.2M569.0 81.3h2.2M567.6 80.6h2.2M564.0 80.7h2.2M554.4 82.2h2.2M572.6 76.1h2.2M580.2 82.9h2.2M579.2 87.4h2.2M574.3 85.7h2.2M581.2 86.2h2.2M579.5 86.2h2.2M564.0 79.2h2.2M563.8 86.6h2.2M557.9 62.5h2.2M550.4 65.9h2.2M573.1 80.3h2.2M568.8 76.1h2.2M565.1 78.6h2.2M567.6 74.9h2.2M579.1 92.5h2.2M567.7 65.5h2.2M584.3 84.7h2.2M575.4 78.6h2.2M557.3 71.9h2.2M559.1 75.6h2.2M558.1 71.1h2.2M573.9 83.5h2.2M578.6 72.3h2.2M564.4 89.3h2.2M542.5 64.7h2.2M571.5 77.2h2.2M570.0 57.5h2.2M566.0 77.4h2.2M565.5 89.6h2.2M576.6 75.7h2.2M568.8 86.1h2.2M573.2 80.3h2.2M569.7 77.9h2.2M576.6 79.8h2.2M567.1 76.6h2.2M563.9 53.9h2.2M557.7 82.5h2.2M570.1 81.1h2.2M568.2 73.2h2.2M569.9 76.9h2.2M572.5 85.9h2.2M563.0 73.4h2.2M571.3 82.9h2.2M566.3 78.5h2.2M567.5 77.1h2.2M561.9 72.4h2.2M571.1 80.7h2.2M559.6 65.9h2.2M570.4 88.0h2.2M576.2 88.3h2.2M573.8 78.3h2.2M548.7 66.1h2.2M561.7 85.1h2.2M574.5 85.6h2.2M579.1 72.8h2.2M563.7 81.5h2.2M564.6 79.2h2.2M555.4 79.8h2.2M556.7 63.1h2.2M559.3 66.6h2.2M564.3 73.4h2.2M560.9 72.7h2.2M567.5 83.6h2.2M594.0 89.5h2.2M581.4 86.6h2.2M564.8 82.0h2.2M554.4 84.4h2.2M584.4 81.4h2.2M559.5 70.3h2.2M574.8 68.6h2.2M572.9 65.1h2.2M559.5 63.2h2.2M563.1 68.6h2.2M577.0 78.1h2.2M575.5 79.3h2.2M584.8 89.2h2.2M566.9 80.1h2.2M573.3 87.5h2.2M576.5 82.9h2.2M571.5 90.1h2.2M567.5 79.5h2.2M583.0 80.1h2.2M577.8 87.8h2.2M559.3 80.4h2.2M559.1 80.9h2.2M586.3 96.5h2.2M566.6 71.2h2.2M580.6 77.4h2.2M566.5 79.5h2.2M574.3 79.9h2.2M583.6 78.3h2.2M568.8 83.7h2.2M565.6 72.3h2.2M557.9 70.7h2.2M564.7 77.5h2.2M559.8 84.0h2.2M572.2 78.1h2.2M569.4 65.6h2.2M557.2 58.1h2.2M562.8 69.7h2.2M557.0 74.7h2.2M563.3 55.8h2.2M571.7 85.8h2.2M583.4 83.4h2.2M561.2 81.0h2.2M573.4 83.7h2.2M584.8 94.3h2.2M572.7 86.6h2.2M558.1 79.7h2.2M571.1 88.3h2.2M565.2 81.1h2.2M572.6 70.6h2.2M585.7 93.4h2.2M574.4 87.3h2.2M567.0 77.9h2.2M577.5 92.5h2.2M568.9 67.2h2.2M589.4 91.8h2.2M560.5 81.8h2.2M567.9 73.6h2.2M578.0 70.5h2.2M559.3 64.5h2.2M559.6 84.6h2.2M563.1 79.3h2.2M559.8 67.7h2.2M551.3 67.7h2.2M573.8 74.0h2.2M578.5 81.4h2.2M543.8 71.5h2.2M565.8 79.6h2.2M582.0 80.4h2.2M556.8 80.6h2.2M568.4 71.3h2.2M549.2 60.0h2.2M565.7 75.3h2.2M561.2 74.8h2.2M579.7 85.2h2.2M553.5 73.6h2.2M571.1 77.5h2.2M567.5 62.8h2.2M564.3 72.3h2.2M572.9 80.7h2.2M563.3 74.5h2.2M561.9 70.8h2.2M572.9 79.9h2.2M561.5 74.1h2.2M578.8 94.9h2.2M567.0 71.8h2.2M560.5 70.5h2.2M575.8 86.3h2.2M573.1 82.6h2.2M583.4 80.1h2.2M568.3 79.4h2.2M572.8 79.8h2.2M563.5 87.9h2.2M562.3 70.1h2.2M580.8 72.5h2.2M554.9 60.3h2.2M577.6 89.0h2.2M568.6 65.9h2.2M556.1 70.1h2.2M572.9 70.2h2.2M550.1 62.9h2.2M576.9 72.1h2.2M557.6 71.9h2.2M565.2 65.7h2.2M563.6 77.8h2.2M563.6 64.7h2.2M557.3 64.5h2.2M570.4 73.6h2.2M552.4 62.9h2.2M572.3 66.9h2.2M575.2 70.1h2.2M561.1 62.6h2.2M551.3 66.6h2.2M566.2 66.1h2.2M574.6 71.0h2.2M560.3 71.6h2.2M574.0 68.7h2.2M566.0 73.5h2.2M559.8 71.0h2.2M561.3 66.4h2.2M568.3 61.3h2.2M567.5 62.9h2.2M571.2 77.0h2.2M582.0 64.5h2.2M565.7 65.3h2.2M560.0 74.1h2.2M573.3 71.0h2.2M551.3 70.1h2.2M573.3 70.7h2.2M565.4 67.5h2.2M558.2 73.8h2.2M549.9 65.6h2.2M564.3 75.7h2.2M571.9 75.7h2.2M567.2 66.5h2.2M563.1 71.8h2.2M568.9 67.5h2.2M536.8 69.2h2.2M584.3 80.0h2.2M576.0 73.6h2.2M551.4 66.6h2.2M562.0 72.7h2.2M570.3 66.9h2.2M569.7 67.6h2.2M568.2 71.9h2.2M558.1 64.8h2.2M562.5 67.4h2.2M565.5 68.4h2.2M574.8 75.6h2.2M556.3 63.4h2.2M581.6 73.6h2.2M577.0 75.6h2.2M548.1 69.0h2.2M572.6 72.6h2.2M587.1 76.8h2.2M560.1 63.3h2.2M574.4 79.5h2.2M562.3 69.1h2.2M556.7 66.5h2.2M567.7 66.8h2.2M570.7 58.5h2.2M578.7 74.3h2.2M565.6 59.3h2.2M574.3 66.0h2.2M559.5 60.8h2.2M560.8 67.6h2.2M554.9 63.4h2.2M555.3 72.1h2.2M575.6 66.6h2.2M556.5 69.7h2.2M566.4 63.7h2.2M574.1 63.4h2.2M563.8 60.8h2.2M577.8 74.3h2.2M576.9 65.2h2.2M569.5 66.5h2.2M550.6 66.2h2.2M569.9 68.4h2.2M567.0 72.0h2.2M563.7 74.9h2.2M545.8 68.9h2.2M560.9 59.6h2.2M583.3 66.9h2.2M575.6 71.6h2.2M558.5 59.3h2.2M571.8 67.6h2.2M545.1 62.7h2.2M566.7 69.6h2.2M560.2 67.9h2.2M470.7 86.1h2.2M468.5 89.0h2.2M472.9 97.3h2.2M472.3 96.0h2.2M464.4 83.0h2.2M472.7 91.3h2.2M471.7 84.3h2.2M472.7 84.9h2.2M479.3 95.0h2.2M472.5 75.2h2.2M474.5 88.9h2.2M474.6 90.5h2.2" stroke="#eb6608" stroke-width="2.2" fill="none"/>
<line x1="439.50" y1="210.50" x2="683.50" y2="49.50" stroke="#3a3a3a" stroke-width="1.05"/>
<path d="M439.5 210.5v-2.6M439.5 26.5v2.6M509.5 210.5v-2.6M509.5 26.5v2.6M578.5 210.5v-2.6M578.5 26.5v2.6M648.5 210.5v-2.6M648.5 26.5v2.6M439.5 210.5h2.6M683.5 210.5h-2.6M439.5 164.5h2.6M683.5 164.5h-2.6M439.5 118.5h2.6M683.5 118.5h-2.6M439.5 72.5h2.6M683.5 72.5h-2.6M439.5 26.5h2.6M683.5 26.5h-2.6" stroke="#8a8a8a" stroke-width="1.3" fill="none"/>
<rect x="439.5" y="26.5" width="244.0" height="184.0" fill="none" stroke="#8a8a8a" stroke-width="1.5"/>
<text transform="translate(439.5,228.4) scale(1,1.06)" text-anchor="middle" font-size="13.6" fill="#303030">20</text>
<text transform="translate(509.2,228.4) scale(1,1.06)" text-anchor="middle" font-size="13.6" fill="#303030">40</text>
<text transform="translate(578.9,228.4) scale(1,1.06)" text-anchor="middle" font-size="13.6" fill="#303030">60</text>
<text transform="translate(648.6,228.4) scale(1,1.06)" text-anchor="middle" font-size="13.6" fill="#303030">80</text>
<text transform="translate(434.3,216.1) scale(1,1.06)" text-anchor="end" font-size="13.6" fill="#303030">20</text>
<text transform="translate(434.3,170.1) scale(1,1.06)" text-anchor="end" font-size="13.6" fill="#303030">40</text>
<text transform="translate(434.3,124.1) scale(1,1.06)" text-anchor="end" font-size="13.6" fill="#303030">60</text>
<text transform="translate(434.3,78.1) scale(1,1.06)" text-anchor="end" font-size="13.6" fill="#303030">80</text>
<text transform="translate(434.3,32.1) scale(1,1.06)" text-anchor="end" font-size="13.6" fill="#303030">100</text>
<text x="561.5" y="247.3" text-anchor="middle" font-size="15.45" fill="#303030">Return Temperature in °C</text>
<text transform="translate(406.3,118.5) rotate(-90)" text-anchor="middle" font-size="15.55" fill="#303030">Supply Temperature in °C</text>
<path d="M164.8 418.8l3.8 3.8m0 -3.8l-3.8 3.8M166.2 447.2l3.8 3.8m0 -3.8l-3.8 3.8M175.9 430.7l3.8 3.8m0 -3.8l-3.8 3.8M174.7 442.8l3.8 3.8m0 -3.8l-3.8 3.8M166.6 438.7l3.8 3.8m0 -3.8l-3.8 3.8M166.1 434.4l3.8 3.8m0 -3.8l-3.8 3.8M176.3 430.8l3.8 3.8m0 -3.8l-3.8 3.8M160.0 436.8l3.8 3.8m0 -3.8l-3.8 3.8M171.7 422.4l3.8 3.8m0 -3.8l-3.8 3.8M152.3 429.2l3.8 3.8m0 -3.8l-3.8 3.8M162.7 421.5l3.8 3.8m0 -3.8l-3.8 3.8M152.7 450.4l3.8 3.8m0 -3.8l-3.8 3.8M173.3 427.6l3.8 3.8m0 -3.8l-3.8 3.8M148.3 438.1l3.8 3.8m0 -3.8l-3.8 3.8M168.0 443.4l3.8 3.8m0 -3.8l-3.8 3.8M165.8 437.9l3.8 3.8m0 -3.8l-3.8 3.8M176.2 435.8l3.8 3.8m0 -3.8l-3.8 3.8M146.7 452.0l3.8 3.8m0 -3.8l-3.8 3.8M167.8 450.1l3.8 3.8m0 -3.8l-3.8 3.8M170.1 427.9l3.8 3.8m0 -3.8l-3.8 3.8M164.7 431.1l3.8 3.8m0 -3.8l-3.8 3.8M159.2 442.7l3.8 3.8m0 -3.8l-3.8 3.8M167.9 437.3l3.8 3.8m0 -3.8l-3.8 3.8M173.6 435.0l3.8 3.8m0 -3.8l-3.8 3.8M165.7 452.4l3.8 3.8m0 -3.8l-3.8 3.8M159.8 430.5l3.8 3.8m0 -3.8l-3.8 3.8M155.0 440.0l3.8 3.8m0 -3.8l-3.8 3.8M156.2 432.1l3.8 3.8m0 -3.8l-3.8 3.8M160.7 439.4l3.8 3.8m0 -3.8l-3.8 3.8M175.7 423.3l3.8 3.8m0 -3.8l-3.8 3.8M170.4 440.1l3.8 3.8m0 -3.8l-3.8 3.8M154.6 435.7l3.8 3.8m0 -3.8l-3.8 3.8M154.5 442.8l3.8 3.8m0 -3.8l-3.8 3.8M161.7 445.2l3.8 3.8m0 -3.8l-3.8 3.8M169.8 430.8l3.8 3.8m0 -3.8l-3.8 3.8M146.7 447.5l3.8 3.8m0 -3.8l-3.8 3.8M155.7 441.2l3.8 3.8m0 -3.8l-3.8 3.8M156.3 434.4l3.8 3.8m0 -3.8l-3.8 3.8M144.3 446.8l3.8 3.8m0 -3.8l-3.8 3.8M156.4 441.4l3.8 3.8m0 -3.8l-3.8 3.8M168.6 435.2l3.8 3.8m0 -3.8l-3.8 3.8M157.2 456.5l3.8 3.8m0 -3.8l-3.8 3.8M152.2 444.2l3.8 3.8m0 -3.8l-3.8 3.8M168.1 448.5l3.8 3.8m0 -3.8l-3.8 3.8M170.7 417.8l3.8 3.8m0 -3.8l-3.8 3.8M165.4 445.2l3.8 3.8m0 -3.8l-3.8 3.8M170.0 430.0l3.8 3.8m0 -3.8l-3.8 3.8M158.8 429.4l3.8 3.8m0 -3.8l-3.8 3.8M164.6 421.6l3.8 3.8m0 -3.8l-3.8 3.8M160.5 435.4l3.8 3.8m0 -3.8l-3.8 3.8M175.4 437.3l3.8 3.8m0 -3.8l-3.8 3.8M157.6 441.0l3.8 3.8m0 -3.8l-3.8 3.8M172.9 415.7l3.8 3.8m0 -3.8l-3.8 3.8M162.6 427.3l3.8 3.8m0 -3.8l-3.8 3.8M164.0 454.3l3.8 3.8m0 -3.8l-3.8 3.8M167.7 437.3l3.8 3.8m0 -3.8l-3.8 3.8M173.7 422.2l3.8 3.8m0 -3.8l-3.8 3.8M156.7 432.8l3.8 3.8m0 -3.8l-3.8 3.8M162.9 430.1l3.8 3.8m0 -3.8l-3.8 3.8M170.2 431.2l3.8 3.8m0 -3.8l-3.8 3.8M169.2 450.0l3.8 3.8m0 -3.8l-3.8 3.8M173.5 421.3l3.8 3.8m0 -3.8l-3.8 3.8M160.4 447.6l3.8 3.8m0 -3.8l-3.8 3.8M164.9 419.7l3.8 3.8m0 -3.8l-3.8 3.8M159.7 422.2l3.8 3.8m0 -3.8l-3.8 3.8M170.7 426.0l3.8 3.8m0 -3.8l-3.8 3.8M165.3 431.2l3.8 3.8m0 -3.8l-3.8 3.8M163.4 443.9l3.8 3.8m0 -3.8l-3.8 3.8M142.5 449.9l3.8 3.8m0 -3.8l-3.8 3.8M165.9 429.2l3.8 3.8m0 -3.8l-3.8 3.8M166.7 451.8l3.8 3.8m0 -3.8l-3.8 3.8M173.4 428.5l3.8 3.8m0 -3.8l-3.8 3.8M151.2 438.9l3.8 3.8m0 -3.8l-3.8 3.8M168.0 449.0l3.8 3.8m0 -3.8l-3.8 3.8M169.5 434.9l3.8 3.8m0 -3.8l-3.8 3.8M161.3 423.0l3.8 3.8m0 -3.8l-3.8 3.8M171.4 431.1l3.8 3.8m0 -3.8l-3.8 3.8M174.0 424.7l3.8 3.8m0 -3.8l-3.8 3.8M152.1 438.6l3.8 3.8m0 -3.8l-3.8 3.8M147.0 440.7l3.8 3.8m0 -3.8l-3.8 3.8M162.4 422.8l3.8 3.8m0 -3.8l-3.8 3.8M177.2 430.9l3.8 3.8m0 -3.8l-3.8 3.8M160.8 447.1l3.8 3.8m0 -3.8l-3.8 3.8M162.0 424.7l3.8 3.8m0 -3.8l-3.8 3.8" stroke="#8c8c8c" stroke-width="0.9" fill="none"/>
<path d="M112.0 459.5L113.4 456.6L118.2 450.5L125.4 439.7L130.3 426.5L135.1 413.0L141.1 402.0L146.0 396.0L151.0 390.0L156.0 385.0L161.0 381.0L166.0 376.0L170.0 368.0L180.0 355.0L200.0 345.0L230.0 340.0L270.0 338.0L276.6 343.5L274.2 346.5L270.0 350.3L262.0 357.9L250.0 366.3L240.0 373.0L230.0 379.6L220.0 386.2L210.0 392.9L200.0 399.5L190.0 406.1L180.0 412.8L170.0 419.4L160.0 426.0L152.0 433.7L147.1 438.5L141.1 445.7L129.0 453.0L114.6 460.0Z" fill="#909090" />
<path d="M134.6 411.5h2M165.2 371.6h2M128.8 423.9h2M151.9 388.2h2M152.2 386.3h2M122.8 441.0h2M124.8 436.7h2M130.8 413.2h2M113.3 456.8h2M128.1 432.3h2M114.1 454.8h2M115.1 452.3h2M160.4 381.0h2M112.8 455.6h2M158.3 382.3h2M159.3 382.0h2M126.5 434.0h2M132.5 420.8h2M168.5 371.2h2M120.1 450.3h2M113.0 453.8h2M119.1 442.7h2M142.3 402.1h2M161.4 381.2h2M163.5 380.4h2M127.3 430.3h2M161.3 382.1h2M135.6 410.9h2M124.8 437.9h2M157.2 384.9h2M169.2 368.3h2M129.7 423.9h2M169.7 369.3h2M137.2 405.2h2M119.8 449.0h2M122.1 442.2h2M132.8 417.3h2M117.2 449.9h2M120.8 444.8h2M167.0 367.5h2M145.3 393.1h2M165.7 375.3h2M154.4 385.7h2M132.8 415.2h2M167.2 373.8h2M161.2 381.0h2M122.0 439.9h2M161.0 379.0h2M157.8 380.8h2M132.8 417.3h2M165.6 375.6h2M154.6 384.7h2M159.8 380.2h2M132.4 418.7h2M123.9 445.5h2M146.1 394.9h2M137.5 414.1h2M149.3 394.8h2M126.7 429.4h2M123.3 442.7h2M165.1 376.2h2M168.2 370.1h2M157.6 382.9h2M153.7 387.9h2M153.7 385.2h2M114.3 454.2h2M149.6 392.0h2M125.4 442.0h2M128.8 425.9h2M112.2 453.2h2M154.4 384.7h2M112.0 456.7h2M122.9 436.5h2M116.4 451.0h2M162.4 380.1h2M163.2 374.6h2M126.6 433.9h2M133.9 420.3h2M161.3 378.3h2M118.0 447.9h2M145.3 397.1h2M134.1 412.8h2M121.7 440.3h2M133.4 424.1h2M135.3 415.4h2M123.3 442.9h2M165.4 378.6h2M164.6 375.2h2M153.0 385.4h2M133.0 418.1h2M158.9 384.0h2M166.7 374.6h2M159.8 377.7h2M138.8 406.9h2M124.5 437.1h2M161.0 378.9h2M154.9 383.0h2M122.5 440.5h2M124.9 434.3h2M129.2 420.0h2M128.0 430.7h2M119.3 445.2h2M140.0 405.6h2M153.5 389.5h2M135.5 409.2h2M161.2 380.6h2M125.8 434.9h2M127.3 430.4h2M138.5 404.1h2M123.3 442.1h2M138.5 403.6h2M112.8 456.0h2M132.2 419.4h2M167.1 375.6h2M149.5 389.2h2M164.6 378.8h2M139.4 398.6h2M141.1 400.1h2M146.5 394.2h2M131.9 420.8h2M117.1 452.6h2M120.2 441.6h2M164.9 377.8h2M154.4 386.3h2M133.3 407.8h2M135.9 409.0h2M134.3 408.0h2M128.0 433.6h2M160.3 379.7h2M111.7 456.8h2M140.5 401.5h2M141.1 400.5h2M123.4 440.2h2M128.7 426.3h2M114.6 452.9h2M164.3 366.3h2M132.1 419.8h2M120.5 445.2h2M156.1 381.8h2M122.4 442.7h2M149.7 392.9h2M159.4 381.8h2M140.1 403.7h2M139.2 403.9h2M136.7 405.7h2M123.0 445.4h2M156.7 379.7h2M163.7 374.8h2M128.3 428.3h2M123.2 438.4h2M117.0 445.0h2M129.2 418.5h2M116.7 450.5h2M123.7 440.2h2M149.2 396.4h2M146.0 392.2h2M167.5 368.4h2M126.9 437.5h2M157.5 382.1h2M153.6 388.0h2M126.9 434.9h2M126.9 428.7h2M149.3 391.4h2M138.7 408.5h2M131.3 418.7h2M133.3 419.8h2M166.0 374.8h2M136.2 409.2h2M119.9 448.1h2M169.2 369.9h2M148.1 392.3h2M140.4 400.9h2M154.1 383.3h2M154.7 387.8h2M170.4 373.8h2M128.4 430.2h2M141.9 401.5h2M166.4 371.0h2M133.2 416.6h2M169.8 368.6h2M136.1 408.3h2M126.7 430.3h2M137.0 407.6h2M159.3 382.2h2M139.0 402.1h2M167.3 373.9h2M128.8 427.1h2M114.4 457.1h2M151.7 385.9h2M121.3 441.2h2M163.3 376.0h2M142.3 402.5h2M137.6 408.6h2M139.0 400.5h2M123.3 437.6h2M122.0 446.2h2" stroke="#909090" stroke-width="2" fill="none"/>
<path d="M158.2 379.5L160.2 373.4L164.3 367.2L170.4 363.1L177.0 361.0L180.7 357.0L182.0 349.0L185.0 343.0L188.8 339.6L197.0 332.5L211.3 330.4L231.7 326.3L256.3 320.2L272.6 320.2L278.0 322.0L280.8 327.3L281.0 336.0L278.8 344.7L264.4 347.8L242.0 349.9L223.6 351.9L205.2 352.9L192.9 357.0L184.7 369.3L180.7 377.4L170.4 381.5L162.3 382.6Z" fill="#000" />
<path d="M180.5 355.5h2M279.1 342.9h2M168.7 366.9h2M223.8 327.0h2M279.0 327.0h2M209.3 332.5h2M194.3 335.7h2M162.2 367.1h2M186.1 340.8h2M167.7 364.4h2M180.8 354.3h2M221.2 330.3h2M182.6 353.0h2M157.2 371.2h2M239.6 324.3h2M280.0 329.6h2M161.5 370.4h2M239.3 325.6h2M181.4 351.2h2M238.0 323.4h2M223.1 327.6h2M278.7 330.1h2M191.2 337.8h2M280.4 326.0h2M167.9 365.5h2M156.7 377.9h2M178.5 351.8h2M187.6 339.7h2M157.3 378.8h2M186.6 340.5h2M278.8 341.6h2M265.0 320.7h2M181.0 351.7h2M160.9 369.1h2M279.1 334.5h2M278.9 339.7h2M248.6 323.7h2M186.3 337.6h2M169.8 363.8h2M179.4 350.7h2M216.2 331.5h2M280.2 324.1h2M177.1 358.1h2M157.4 378.0h2M236.0 324.5h2M253.7 318.2h2M205.9 331.3h2M161.5 370.7h2M200.1 333.7h2M242.5 321.1h2M254.0 320.9h2M278.6 335.9h2M189.2 335.9h2M280.5 338.3h2M256.9 323.8h2M245.1 320.6h2M258.2 319.9h2M244.4 323.4h2M212.2 329.6h2M277.1 325.4h2M251.3 319.2h2M196.5 337.3h2M180.0 352.5h2M196.7 333.0h2M173.1 360.6h2M214.3 328.4h2M266.6 315.6h2M183.0 347.8h2M278.9 336.7h2M232.1 325.0h2M279.2 343.1h2M170.0 361.6h2M244.4 321.2h2M267.8 318.0h2M159.9 374.5h2M156.9 373.6h2M278.7 323.3h2M187.4 338.4h2M233.2 325.2h2M265.2 319.2h2M230.3 325.3h2M199.1 332.2h2M187.0 336.1h2M213.4 329.4h2M186.1 344.4h2M256.3 318.1h2M280.5 336.6h2M269.0 318.6h2M223.1 328.4h2M226.8 326.0h2M225.2 327.8h2M212.7 329.8h2M225.4 327.6h2M281.4 329.4h2M191.7 335.8h2M194.5 336.2h2M236.1 326.3h2M180.6 358.6h2M177.9 360.7h2M180.5 353.6h2M175.2 361.1h2M248.7 322.1h2M236.2 327.0h2M187.4 341.8h2M262.8 319.8h2M181.8 348.3h2M159.4 373.3h2M224.6 325.6h2M175.1 359.3h2M157.9 379.1h2M162.5 368.7h2M247.1 324.0h2M161.0 380.2h2M199.1 332.1h2M161.5 371.2h2M159.7 371.5h2M217.8 329.7h2M277.2 322.8h2M265.9 321.1h2M179.2 351.3h2M190.2 336.7h2M190.2 338.0h2M215.2 327.7h2M273.5 319.3h2M157.7 376.4h2M171.9 361.4h2M160.0 378.1h2M185.4 348.5h2M179.6 359.4h2M181.8 352.7h2M246.4 320.6h2M266.5 320.4h2M277.0 323.3h2M278.2 338.3h2M183.7 343.8h2M277.9 344.1h2M200.4 331.9h2M248.6 320.6h2M280.9 326.5h2M164.9 366.5h2M233.4 324.3h2M277.7 323.0h2M178.7 349.2h2M280.6 336.5h2M277.5 342.9h2M244.7 324.6h2M225.7 329.6h2M231.5 325.1h2M227.1 326.5h2M278.7 341.4h2M174.9 360.0h2M204.5 331.5h2M195.0 335.0h2M235.4 325.8h2M157.2 376.6h2M181.6 350.1h2M166.4 365.2h2M179.6 353.4h2M193.2 332.9h2M203.7 333.7h2M275.9 340.8h2M230.0 325.0h2M198.2 331.8h2M198.1 332.4h2M216.6 329.2h2M211.8 329.1h2M171.0 364.3h2M218.6 327.8h2M180.4 348.1h2M268.0 321.5h2M176.4 360.2h2M167.0 364.4h2M276.4 322.9h2M268.5 320.7h2M237.0 324.2h2M181.6 346.2h2M274.8 319.8h2M159.5 380.1h2M272.7 321.6h2M274.6 322.1h2M209.1 331.7h2M222.4 326.8h2M254.8 319.4h2M242.3 321.0h2M156.5 373.6h2M194.5 335.2h2M266.8 320.2h2M233.4 328.4h2M183.1 346.8h2M196.4 333.6h2M193.0 333.1h2M255.5 321.4h2M258.1 321.1h2M261.0 321.3h2M159.6 370.2h2M234.5 326.3h2M157.1 378.2h2M283.4 334.1h2M246.5 324.5h2M238.2 323.6h2M256.2 318.9h2M279.4 333.5h2M166.9 364.5h2M161.5 371.1h2M279.7 329.1h2M265.7 320.9h2M179.5 358.7h2M170.9 363.8h2M225.7 329.8h2M206.9 329.8h2M278.0 340.0h2M176.5 357.7h2M205.5 330.8h2M215.9 328.8h2M196.9 333.8h2M203.1 331.7h2M180.6 354.6h2M207.2 327.9h2M180.9 350.9h2M206.5 331.2h2M169.2 359.5h2M199.3 330.6h2M178.6 356.8h2M163.0 370.0h2M174.1 362.4h2M281.8 334.7h2M228.0 326.5h2M270.8 318.7h2M161.9 368.2h2M240.1 324.5h2M278.7 342.6h2M162.2 370.3h2M197.2 331.7h2M256.1 320.0h2M161.9 369.2h2M181.2 347.4h2M195.0 335.8h2M157.0 374.0h2M226.0 326.5h2M171.8 364.0h2M278.0 330.4h2M261.4 320.6h2M270.3 319.9h2M240.4 322.6h2M181.3 353.6h2M196.9 333.2h2M243.4 324.5h2M280.1 327.5h2M213.6 329.3h2M240.9 322.5h2M278.1 336.8h2M237.1 323.1h2M181.5 356.4h2M190.4 337.0h2M263.2 320.1h2M269.0 321.6h2M207.6 330.6h2M191.8 337.5h2M280.4 335.1h2M253.3 319.7h2M201.7 329.7h2M241.4 324.2h2M242.9 322.8h2M272.5 321.9h2M269.6 320.8h2M230.9 328.7h2M180.6 346.9h2M209.6 330.8h2M221.9 327.0h2M216.1 330.1h2M267.5 320.5h2M260.4 318.9h2M276.2 323.1h2M192.9 334.8h2M178.8 362.7h2M254.1 321.3h2M187.7 340.9h2M260.6 321.6h2M256.6 317.4h2M180.6 348.5h2M241.6 324.5h2M172.0 361.9h2M209.1 326.6h2M253.4 320.2h2M267.7 320.4h2M279.0 328.8h2M189.3 340.0h2M184.5 342.7h2M279.1 343.0h2M280.8 332.1h2M200.3 333.1h2M215.8 329.3h2M170.6 361.7h2M248.9 321.5h2M158.1 372.4h2M268.4 319.5h2M226.0 327.4h2M211.1 332.1h2M159.4 375.1h2M163.9 365.8h2M271.0 320.9h2M214.0 330.3h2M277.0 322.1h2M214.0 329.5h2M181.2 354.9h2M278.1 340.1h2M201.0 334.9h2M183.8 347.7h2M240.6 323.5h2M215.3 330.0h2M235.8 325.5h2M208.1 329.3h2M180.2 349.7h2M251.5 321.5h2M228.8 326.6h2M181.1 342.1h2M278.2 324.4h2M159.6 370.2h2M228.6 326.0h2M187.8 340.9h2M279.3 328.3h2M158.1 379.5h2M239.4 324.1h2M162.9 367.0h2M277.9 341.3h2M183.4 349.7h2M164.7 365.6h2M275.6 323.0h2M188.7 338.3h2M170.1 364.0h2M184.8 340.9h2M203.4 331.9h2M270.1 322.1h2M248.0 323.3h2M226.2 323.8h2M215.6 329.9h2M278.6 336.7h2M206.5 331.3h2M276.1 320.4h2M170.5 363.8h2M263.2 319.3h2M171.3 361.2h2M280.3 327.7h2M179.7 350.2h2M188.2 342.5h2M279.3 340.8h2M279.1 340.6h2M158.2 370.8h2M278.1 329.4h2M197.4 331.6h2M157.2 374.6h2M276.4 324.2h2M256.6 319.5h2M189.6 339.3h2M165.3 365.1h2M258.7 318.3h2M278.2 343.1h2M198.3 331.1h2M204.0 331.2h2M199.1 329.4h2M275.5 323.0h2M277.6 319.5h2M220.1 328.6h2M158.9 373.2h2M279.1 323.5h2M171.5 363.0h2M237.1 325.2h2M183.5 347.5h2M258.8 319.3h2M164.9 366.0h2M162.9 367.8h2M247.9 323.3h2M218.3 327.0h2M207.8 330.1h2M192.2 336.2h2M187.8 342.1h2M176.7 360.0h2M209.0 330.5h2M188.0 341.0h2M279.1 327.5h2" stroke="#000" stroke-width="2" fill="none"/>
<path d="M257.2 347.4h2M241.3 352.7h2M246.2 349.4h2M243.6 351.1h2M247.2 350.7h2M252.4 347.2h2M162.7 382.2h2M204.9 353.7h2M236.4 347.4h2M260.2 353.7h2M163.0 381.8h2M211.2 355.1h2M253.8 352.1h2M249.4 348.6h2M191.9 358.4h2M241.4 348.2h2M158.7 378.2h2M257.5 349.1h2M277.2 347.7h2M161.1 380.6h2M179.1 378.8h2M239.9 351.9h2M184.2 364.6h2M221.7 353.3h2M274.4 346.5h2M186.3 361.2h2M262.9 347.4h2M232.6 349.0h2M206.4 349.7h2M160.9 380.3h2M170.6 377.6h2M196.7 355.9h2M229.8 350.6h2M253.0 347.2h2M183.3 372.3h2M257.9 346.6h2M273.9 347.3h2M210.8 355.3h2M269.5 344.7h2M212.9 354.0h2M276.0 344.3h2M197.0 357.8h2M268.0 347.3h2M222.0 353.1h2M178.8 378.6h2M184.0 370.9h2M203.0 351.6h2M227.1 351.7h2M169.2 383.2h2M174.4 377.8h2M201.2 351.9h2M184.6 365.5h2M207.2 351.0h2M278.3 349.4h2M233.9 344.8h2M209.0 347.3h2M248.1 349.6h2M158.8 378.6h2M172.2 382.4h2M245.4 349.1h2M168.8 380.2h2M241.6 348.3h2M203.3 351.8h2M223.9 351.0h2M262.8 347.3h2M252.9 348.8h2M276.3 346.8h2M229.4 348.5h2M163.9 381.6h2M197.3 356.6h2M252.6 345.6h2M263.0 345.6h2M215.0 350.5h2M159.0 378.7h2M190.7 358.1h2M260.6 347.4h2M174.6 379.5h2M272.4 347.7h2M276.1 345.8h2M183.3 372.6h2M163.2 382.6h2M171.5 378.9h2M208.4 351.2h2M189.4 360.3h2M271.7 344.9h2M276.5 346.5h2M227.1 354.7h2M265.4 343.5h2M162.2 381.4h2M187.4 369.2h2M177.2 380.1h2M264.5 346.0h2M229.6 349.9h2M253.9 347.4h2M181.6 370.6h2M189.0 362.0h2M183.1 375.3h2M242.9 352.0h2M249.2 349.9h2M224.6 349.4h2M182.5 363.3h2M197.6 354.4h2M255.1 349.1h2M169.5 377.8h2M223.0 350.1h2M252.9 349.3h2M184.5 369.3h2M184.1 370.4h2M197.9 355.3h2M193.7 353.7h2M185.3 366.6h2M161.8 383.2h2M249.1 349.9h2M277.7 351.6h2M202.8 353.4h2M189.3 360.6h2M225.8 354.5h2M237.1 351.9h2M185.8 362.7h2M205.5 351.8h2M159.3 377.8h2M197.5 358.2h2M217.9 353.6h2M203.2 350.6h2M267.4 344.8h2M226.7 351.8h2M196.3 359.5h2M178.2 380.1h2M228.5 355.5h2M268.1 345.7h2M162.7 384.5h2M177.5 376.4h2M211.2 349.4h2M266.0 346.9h2M165.4 381.7h2M179.1 377.6h2M202.4 351.2h2M204.4 358.0h2M218.3 352.5h2M169.9 381.5h2M158.8 384.7h2M163.1 381.6h2M184.3 368.8h2M247.6 348.0h2M228.2 355.3h2M258.6 348.5h2M194.6 355.5h2M250.8 350.2h2M172.7 381.5h2M196.7 358.5h2M168.9 378.8h2M170.9 378.2h2M170.8 382.8h2M217.8 350.9h2M164.0 384.5h2M242.3 351.5h2M240.5 347.7h2M254.5 348.0h2M229.3 350.3h2M273.9 341.0h2M225.8 352.5h2M209.7 351.7h2M221.2 351.7h2M274.3 343.8h2M186.1 369.3h2M267.7 345.6h2M222.7 353.3h2M194.6 358.6h2M182.4 372.5h2M188.9 356.4h2M226.2 353.0h2M248.9 348.3h2M170.7 380.8h2M159.6 381.8h2M187.5 364.5h2M183.4 372.8h2M187.5 360.7h2M183.9 368.6h2M170.6 381.4h2M207.3 353.3h2M272.8 343.6h2M162.9 380.4h2M162.1 381.3h2M183.3 364.0h2M185.8 369.5h2M249.2 348.2h2M188.1 365.3h2M159.1 379.6h2M189.4 361.7h2M194.7 356.6h2M179.1 378.4h2M203.5 351.0h2M200.2 352.2h2M241.9 351.9h2M270.8 346.8h2M156.0 381.1h2M203.6 353.2h2M256.0 346.3h2M238.6 351.6h2M262.7 344.9h2M166.0 379.1h2M191.7 356.4h2M189.0 359.6h2M265.2 346.1h2M169.1 379.3h2M159.3 381.2h2M179.8 372.5h2M219.9 350.6h2M196.1 358.8h2M178.8 377.6h2M179.5 374.8h2M263.3 347.6h2M192.6 358.1h2M236.6 348.4h2M254.1 349.1h2M162.4 382.8h2M188.8 357.8h2M193.5 355.7h2M197.9 354.6h2M213.3 354.7h2M232.0 353.4h2M189.7 359.4h2M248.7 345.3h2M196.3 353.5h2M199.7 352.4h2M239.0 351.7h2M163.0 383.4h2M193.7 354.5h2M158.9 381.2h2M247.0 346.8h2M259.5 348.7h2M245.7 350.8h2M162.2 386.3h2M190.0 360.1h2M198.5 355.3h2M184.4 378.8h2M238.7 349.6h2M181.5 376.8h2M194.2 353.9h2M248.5 346.8h2M178.5 381.4h2M197.7 358.5h2M169.4 380.7h2M241.9 354.9h2M255.2 348.1h2M174.4 378.6h2M207.8 352.0h2M182.7 374.5h2M185.3 364.1h2M208.7 349.2h2" stroke="#909090" stroke-width="2" fill="none"/>
<path d="M253.4 351.2h2M202.8 359.3h2M252.6 353.1h2M271.5 349.3h2M273.4 350.3h2M269.6 347.7h2M201.3 357.9h2M224.3 354.6h2M194.0 363.3h2M274.8 349.1h2M190.6 362.7h2M255.1 351.3h2M238.3 353.4h2M272.3 349.8h2M275.3 349.7h2M235.4 352.7h2M206.8 355.0h2M248.7 351.8h2M239.2 356.4h2M248.9 350.5h2M195.6 362.3h2M204.8 354.2h2M245.1 352.5h2M189.0 364.4h2M190.6 364.3h2M210.9 353.7h2M248.5 355.7h2M203.7 354.7h2M224.2 354.3h2M248.4 356.5h2M190.1 361.8h2M252.5 353.5h2M272.7 349.3h2M220.9 356.7h2M203.4 356.0h2M197.9 359.4h2M237.4 352.4h2M198.4 358.6h2M234.0 357.1h2M256.4 351.2h2M234.4 354.4h2M219.2 356.0h2M241.2 355.7h2M255.3 354.5h2M206.1 361.0h2M196.3 357.0h2M245.4 351.7h2M217.9 357.8h2M211.3 354.8h2M235.0 353.5h2M242.5 352.8h2M234.4 351.8h2M248.7 350.5h2M203.7 359.9h2M264.0 348.8h2M275.2 351.7h2M195.8 357.7h2M210.8 355.2h2M197.1 365.8h2M199.5 357.4h2M257.1 351.6h2M275.8 352.9h2M190.1 366.6h2M243.6 352.2h2M210.1 354.6h2M273.8 346.8h2M247.3 352.2h2M186.4 367.2h2M196.8 358.6h2M212.9 354.5h2M191.6 361.8h2M250.4 353.5h2M253.8 350.6h2M246.2 350.5h2M201.7 359.7h2M192.9 360.1h2M210.2 354.7h2M253.4 351.6h2M191.5 364.0h2M193.0 358.9h2M231.5 355.0h2M246.6 352.9h2M232.2 352.6h2M250.1 351.5h2M240.6 356.3h2M243.6 355.5h2M221.4 358.8h2M238.2 353.2h2M214.3 355.9h2M192.9 362.0h2M259.9 351.4h2M251.1 350.7h2M190.7 364.1h2M188.3 367.3h2M216.5 357.6h2M198.3 362.5h2M233.5 353.1h2M198.3 356.7h2M240.1 352.9h2M202.1 360.8h2M268.4 352.7h2M204.1 356.1h2M192.5 364.2h2M251.1 350.1h2M261.6 350.8h2M231.1 356.1h2M204.4 354.7h2M225.6 353.5h2M225.0 352.9h2M189.4 364.1h2M206.4 359.4h2M233.8 352.3h2M204.8 357.7h2M193.3 361.6h2M268.5 349.9h2M195.2 361.9h2M275.1 349.3h2M232.9 354.6h2M221.5 353.2h2M241.5 353.7h2M190.3 361.0h2M220.7 356.9h2M204.2 355.9h2M207.6 354.8h2M187.0 366.0h2M243.0 357.2h2M192.4 366.3h2M223.8 353.4h2M206.9 360.6h2M191.1 367.7h2" stroke="#000" stroke-width="2" fill="none"/>
<path d="M253.6 319.9h2M187.4 333.8h2M241.6 316.6h2M130.4 427.6h2M231.3 325.3h2M262.0 316.4h2M213.8 325.9h2M272.1 314.9h2M158.7 368.9h2M169.1 350.9h2M208.0 329.0h2M175.9 341.6h2M228.0 314.6h2M114.9 446.9h2M236.8 319.0h2M242.3 323.7h2M116.3 453.0h2M136.3 405.9h2M196.0 333.2h2M222.3 327.3h2M198.2 329.8h2M157.3 376.1h2M240.2 319.2h2M147.7 386.7h2M142.9 393.1h2M170.6 348.6h2M253.9 319.7h2M182.9 340.0h2M258.4 318.0h2M186.5 331.4h2M145.4 387.0h2M134.8 409.6h2M155.3 369.5h2M198.0 327.5h2M244.4 317.0h2M208.8 323.3h2M146.7 382.4h2M205.2 328.0h2M174.3 342.1h2M152.3 379.4h2M169.7 344.8h2M206.5 327.3h2M235.5 319.2h2M234.5 323.1h2M134.9 414.2h2" stroke="#000" stroke-width="2" fill="none"/>
<path d="M123.5 411.7l3.8 3.8m0 -3.8l-3.8 3.8M117.7 444.2l3.8 3.8m0 -3.8l-3.8 3.8M114.1 448.6l3.8 3.8m0 -3.8l-3.8 3.8M114.3 417.5l3.8 3.8m0 -3.8l-3.8 3.8M124.0 412.9l3.8 3.8m0 -3.8l-3.8 3.8M121.7 398.0l3.8 3.8m0 -3.8l-3.8 3.8M131.2 411.3l3.8 3.8m0 -3.8l-3.8 3.8M123.6 420.7l3.8 3.8m0 -3.8l-3.8 3.8M140.9 381.8l3.8 3.8m0 -3.8l-3.8 3.8M116.6 433.8l3.8 3.8m0 -3.8l-3.8 3.8M116.0 440.8l3.8 3.8m0 -3.8l-3.8 3.8M119.0 434.3l3.8 3.8m0 -3.8l-3.8 3.8M126.7 420.5l3.8 3.8m0 -3.8l-3.8 3.8M116.5 431.5l3.8 3.8m0 -3.8l-3.8 3.8M115.2 432.0l3.8 3.8m0 -3.8l-3.8 3.8M127.5 431.4l3.8 3.8m0 -3.8l-3.8 3.8M125.9 418.4l3.8 3.8m0 -3.8l-3.8 3.8M120.6 445.4l3.8 3.8m0 -3.8l-3.8 3.8M145.5 382.6l3.8 3.8m0 -3.8l-3.8 3.8M147.6 382.7l3.8 3.8m0 -3.8l-3.8 3.8M118.7 423.3l3.8 3.8m0 -3.8l-3.8 3.8M132.0 397.1l3.8 3.8m0 -3.8l-3.8 3.8M139.4 393.3l3.8 3.8m0 -3.8l-3.8 3.8M118.2 452.6l3.8 3.8m0 -3.8l-3.8 3.8M116.8 437.3l3.8 3.8m0 -3.8l-3.8 3.8M116.1 422.9l3.8 3.8m0 -3.8l-3.8 3.8M120.0 434.1l3.8 3.8m0 -3.8l-3.8 3.8M129.3 407.7l3.8 3.8m0 -3.8l-3.8 3.8M118.5 444.9l3.8 3.8m0 -3.8l-3.8 3.8M133.3 387.0l3.8 3.8m0 -3.8l-3.8 3.8M139.6 401.2l3.8 3.8m0 -3.8l-3.8 3.8M125.1 416.2l3.8 3.8m0 -3.8l-3.8 3.8M149.3 382.1l3.8 3.8m0 -3.8l-3.8 3.8M129.2 416.2l3.8 3.8m0 -3.8l-3.8 3.8M141.2 394.5l3.8 3.8m0 -3.8l-3.8 3.8M118.9 419.9l3.8 3.8m0 -3.8l-3.8 3.8M118.5 421.0l3.8 3.8m0 -3.8l-3.8 3.8M144.2 391.2l3.8 3.8m0 -3.8l-3.8 3.8M131.6 419.8l3.8 3.8m0 -3.8l-3.8 3.8M123.2 396.3l3.8 3.8m0 -3.8l-3.8 3.8M148.8 388.3l3.8 3.8m0 -3.8l-3.8 3.8M120.2 424.0l3.8 3.8m0 -3.8l-3.8 3.8M137.1 389.7l3.8 3.8m0 -3.8l-3.8 3.8M144.8 388.9l3.8 3.8m0 -3.8l-3.8 3.8M134.0 409.7l3.8 3.8m0 -3.8l-3.8 3.8M117.0 436.9l3.8 3.8m0 -3.8l-3.8 3.8M127.1 391.0l3.8 3.8m0 -3.8l-3.8 3.8M120.6 427.2l3.8 3.8m0 -3.8l-3.8 3.8M125.0 412.4l3.8 3.8m0 -3.8l-3.8 3.8M145.7 386.0l3.8 3.8m0 -3.8l-3.8 3.8M131.1 389.7l3.8 3.8m0 -3.8l-3.8 3.8M117.6 409.3l3.8 3.8m0 -3.8l-3.8 3.8M139.0 380.5l3.8 3.8m0 -3.8l-3.8 3.8M127.9 417.5l3.8 3.8m0 -3.8l-3.8 3.8M139.0 401.3l3.8 3.8m0 -3.8l-3.8 3.8M120.6 437.6l3.8 3.8m0 -3.8l-3.8 3.8M114.4 450.1l3.8 3.8m0 -3.8l-3.8 3.8M131.4 404.6l3.8 3.8m0 -3.8l-3.8 3.8M120.1 427.6l3.8 3.8m0 -3.8l-3.8 3.8M141.4 383.5l3.8 3.8m0 -3.8l-3.8 3.8M135.7 395.5l3.8 3.8m0 -3.8l-3.8 3.8M136.7 394.5l3.8 3.8m0 -3.8l-3.8 3.8M142.2 387.9l3.8 3.8m0 -3.8l-3.8 3.8M114.1 437.7l3.8 3.8m0 -3.8l-3.8 3.8" stroke="#8c8c8c" stroke-width="0.9" fill="none"/>
<path d="M179.7 416.1l3.8 3.8m0 -3.8l-3.8 3.8M173.1 413.8l3.8 3.8m0 -3.8l-3.8 3.8M172.4 423.8l3.8 3.8m0 -3.8l-3.8 3.8M165.3 442.7l3.8 3.8m0 -3.8l-3.8 3.8M160.0 433.0l3.8 3.8m0 -3.8l-3.8 3.8M164.9 425.0l3.8 3.8m0 -3.8l-3.8 3.8M153.7 438.5l3.8 3.8m0 -3.8l-3.8 3.8M175.6 430.4l3.8 3.8m0 -3.8l-3.8 3.8M168.4 442.4l3.8 3.8m0 -3.8l-3.8 3.8M168.5 431.3l3.8 3.8m0 -3.8l-3.8 3.8M174.1 433.0l3.8 3.8m0 -3.8l-3.8 3.8M156.1 435.9l3.8 3.8m0 -3.8l-3.8 3.8M161.0 444.1l3.8 3.8m0 -3.8l-3.8 3.8M171.2 434.3l3.8 3.8m0 -3.8l-3.8 3.8M170.4 425.7l3.8 3.8m0 -3.8l-3.8 3.8M156.8 430.3l3.8 3.8m0 -3.8l-3.8 3.8M160.0 435.7l3.8 3.8m0 -3.8l-3.8 3.8M147.2 447.2l3.8 3.8m0 -3.8l-3.8 3.8M167.2 438.4l3.8 3.8m0 -3.8l-3.8 3.8M161.3 449.0l3.8 3.8m0 -3.8l-3.8 3.8M162.4 443.2l3.8 3.8m0 -3.8l-3.8 3.8M158.7 448.9l3.8 3.8m0 -3.8l-3.8 3.8M167.9 421.7l3.8 3.8m0 -3.8l-3.8 3.8M168.4 417.7l3.8 3.8m0 -3.8l-3.8 3.8M174.1 423.8l3.8 3.8m0 -3.8l-3.8 3.8M163.1 447.4l3.8 3.8m0 -3.8l-3.8 3.8M177.2 421.5l3.8 3.8m0 -3.8l-3.8 3.8M177.0 417.0l3.8 3.8m0 -3.8l-3.8 3.8M157.2 442.5l3.8 3.8m0 -3.8l-3.8 3.8M167.1 424.7l3.8 3.8m0 -3.8l-3.8 3.8M173.7 421.9l3.8 3.8m0 -3.8l-3.8 3.8M155.4 447.9l3.8 3.8m0 -3.8l-3.8 3.8M161.6 432.3l3.8 3.8m0 -3.8l-3.8 3.8M172.4 422.3l3.8 3.8m0 -3.8l-3.8 3.8M165.9 420.0l3.8 3.8m0 -3.8l-3.8 3.8M169.7 428.1l3.8 3.8m0 -3.8l-3.8 3.8M152.1 442.5l3.8 3.8m0 -3.8l-3.8 3.8M156.7 445.3l3.8 3.8m0 -3.8l-3.8 3.8M178.2 421.2l3.8 3.8m0 -3.8l-3.8 3.8M171.6 421.3l3.8 3.8m0 -3.8l-3.8 3.8M149.2 441.8l3.8 3.8m0 -3.8l-3.8 3.8M155.7 436.1l3.8 3.8m0 -3.8l-3.8 3.8M164.8 440.8l3.8 3.8m0 -3.8l-3.8 3.8M164.4 434.1l3.8 3.8m0 -3.8l-3.8 3.8M156.1 443.9l3.8 3.8m0 -3.8l-3.8 3.8M174.4 425.0l3.8 3.8m0 -3.8l-3.8 3.8M164.7 437.1l3.8 3.8m0 -3.8l-3.8 3.8M157.6 427.4l3.8 3.8m0 -3.8l-3.8 3.8M154.2 441.0l3.8 3.8m0 -3.8l-3.8 3.8M154.8 450.6l3.8 3.8m0 -3.8l-3.8 3.8M149.8 445.3l3.8 3.8m0 -3.8l-3.8 3.8M159.8 435.6l3.8 3.8m0 -3.8l-3.8 3.8M161.1 439.9l3.8 3.8m0 -3.8l-3.8 3.8M178.5 416.2l3.8 3.8m0 -3.8l-3.8 3.8M146.8 444.3l3.8 3.8m0 -3.8l-3.8 3.8M175.3 433.0l3.8 3.8m0 -3.8l-3.8 3.8M164.7 431.6l3.8 3.8m0 -3.8l-3.8 3.8M172.1 420.7l3.8 3.8m0 -3.8l-3.8 3.8M167.5 430.4l3.8 3.8m0 -3.8l-3.8 3.8M161.7 422.3l3.8 3.8m0 -3.8l-3.8 3.8M174.8 429.9l3.8 3.8m0 -3.8l-3.8 3.8M146.1 447.8l3.8 3.8m0 -3.8l-3.8 3.8M161.6 427.6l3.8 3.8m0 -3.8l-3.8 3.8M163.5 428.8l3.8 3.8m0 -3.8l-3.8 3.8M158.4 440.8l3.8 3.8m0 -3.8l-3.8 3.8M150.9 444.6l3.8 3.8m0 -3.8l-3.8 3.8M166.4 418.0l3.8 3.8m0 -3.8l-3.8 3.8M155.2 428.7l3.8 3.8m0 -3.8l-3.8 3.8M163.8 445.3l3.8 3.8m0 -3.8l-3.8 3.8M155.2 428.6l3.8 3.8m0 -3.8l-3.8 3.8" stroke="#8c8c8c" stroke-width="0.9" fill="none"/>
<line x1="111.50" y1="459.50" x2="355.50" y2="297.62" stroke="#3a3a3a" stroke-width="1.05"/>
<path d="M111.5 459.5v-2.6M111.5 274.5v2.6M181.5 459.5v-2.6M181.5 274.5v2.6M250.5 459.5v-2.6M250.5 274.5v2.6M320.5 459.5v-2.6M320.5 274.5v2.6M111.5 459.5h2.6M355.5 459.5h-2.6M111.5 413.5h2.6M355.5 413.5h-2.6M111.5 366.5h2.6M355.5 366.5h-2.6M111.5 320.5h2.6M355.5 320.5h-2.6M111.5 274.5h2.6M355.5 274.5h-2.6" stroke="#8a8a8a" stroke-width="1.3" fill="none"/>
<rect x="111.5" y="274.5" width="244.0" height="185.0" fill="none" stroke="#8a8a8a" stroke-width="1.5"/>
<text transform="translate(111.5,477.4) scale(1,1.06)" text-anchor="middle" font-size="13.6" fill="#303030">20</text>
<text transform="translate(181.2,477.4) scale(1,1.06)" text-anchor="middle" font-size="13.6" fill="#303030">40</text>
<text transform="translate(250.9,477.4) scale(1,1.06)" text-anchor="middle" font-size="13.6" fill="#303030">60</text>
<text transform="translate(320.6,477.4) scale(1,1.06)" text-anchor="middle" font-size="13.6" fill="#303030">80</text>
<text transform="translate(106.3,465.1) scale(1,1.06)" text-anchor="end" font-size="13.6" fill="#303030">20</text>
<text transform="translate(106.3,418.9) scale(1,1.06)" text-anchor="end" font-size="13.6" fill="#303030">40</text>
<text transform="translate(106.3,372.6) scale(1,1.06)" text-anchor="end" font-size="13.6" fill="#303030">60</text>
<text transform="translate(106.3,326.4) scale(1,1.06)" text-anchor="end" font-size="13.6" fill="#303030">80</text>
<text transform="translate(106.3,280.1) scale(1,1.06)" text-anchor="end" font-size="13.6" fill="#303030">100</text>
<text x="233.5" y="496.3" text-anchor="middle" font-size="15.45" fill="#303030">Return Temperature in °C</text>
<text transform="translate(78.3,367.0) rotate(-90)" text-anchor="middle" font-size="15.55" fill="#303030">Supply Temperature in °C</text>
<path d="M450.5 450.0L451.6 446.8L454.7 436.4L461.0 422.0L465.2 410.8L467.3 402.8L469.4 393.2L472.2 386.0L476.4 382.0L482.0 382.0L487.6 386.0L491.8 392.4L489.0 399.6L484.1 406.8L479.9 414.8L474.3 425.2L467.3 434.8L459.6 443.6L454.0 450.0Z" fill="#0a3f64" />
<path d="M454.3 450.1h2.2M488.8 398.3h2.2M452.0 435.7h2.2M477.1 398.3h2.2M469.5 385.2h2.2M467.2 424.2h2.2M481.7 384.2h2.2M467.2 435.4h2.2M482.4 387.5h2.2M484.7 411.4h2.2M476.6 420.2h2.2M464.5 409.6h2.2M455.4 435.7h2.2M469.6 429.1h2.2M459.2 422.4h2.2M483.9 410.8h2.2M453.6 441.4h2.2M462.8 429.5h2.2M485.9 385.8h2.2M459.9 418.9h2.2M472.0 391.8h2.2M451.4 451.3h2.2M457.1 430.2h2.2M465.2 422.2h2.2M458.1 419.5h2.2M453.9 445.2h2.2M462.0 413.2h2.2M456.4 448.3h2.2M456.5 436.4h2.2M486.1 385.7h2.2M476.3 413.9h2.2M467.2 402.4h2.2M492.7 381.6h2.2M480.7 389.5h2.2M469.8 406.4h2.2M476.3 397.8h2.2M453.0 442.4h2.2M479.7 389.3h2.2M468.4 387.3h2.2M476.6 398.3h2.2M476.1 390.6h2.2M470.9 399.2h2.2M458.8 426.6h2.2M459.5 426.4h2.2M484.6 412.1h2.2M481.5 402.1h2.2M477.6 392.7h2.2M474.5 421.2h2.2M463.0 417.0h2.2M468.2 425.9h2.2M449.9 451.2h2.2M479.3 386.5h2.2M480.9 405.5h2.2M445.6 451.2h2.2M487.5 405.1h2.2M470.3 387.6h2.2M470.9 394.1h2.2M473.0 418.1h2.2M469.4 430.6h2.2M468.4 404.3h2.2M493.1 394.1h2.2M458.8 418.1h2.2M450.4 436.6h2.2M470.5 398.1h2.2M474.9 421.9h2.2M452.7 451.0h2.2M468.9 401.7h2.2M473.3 399.0h2.2M452.9 447.8h2.2M489.6 382.1h2.2M466.0 426.3h2.2M468.0 435.9h2.2M466.9 399.5h2.2M472.4 378.7h2.2M468.1 426.8h2.2M471.8 409.5h2.2M474.7 379.4h2.2M446.7 447.2h2.2M485.3 385.6h2.2M454.7 436.2h2.2M460.9 414.5h2.2M476.7 399.4h2.2M459.5 421.9h2.2M479.8 391.0h2.2M474.7 416.4h2.2M467.5 422.8h2.2M465.3 403.2h2.2M470.9 406.0h2.2M468.1 412.9h2.2M449.8 446.3h2.2M445.6 451.5h2.2M449.3 440.1h2.2M486.4 387.3h2.2M484.4 393.8h2.2M475.1 391.7h2.2M441.9 458.0h2.2M487.5 400.4h2.2M483.9 398.1h2.2M453.1 430.2h2.2M454.2 443.3h2.2M476.6 388.2h2.2M449.5 445.9h2.2M472.5 422.2h2.2M457.4 434.9h2.2M475.7 398.8h2.2M450.8 441.9h2.2M471.9 429.2h2.2M478.2 394.9h2.2M450.8 444.8h2.2M471.0 420.1h2.2M467.0 393.4h2.2M466.6 408.1h2.2M448.0 444.9h2.2M473.1 385.3h2.2M451.4 447.0h2.2M484.6 402.6h2.2M477.9 383.5h2.2M469.8 410.6h2.2M480.2 391.5h2.2M467.1 405.5h2.2M455.5 448.4h2.2M473.3 415.0h2.2M478.0 382.2h2.2M471.0 419.2h2.2M457.9 439.9h2.2M457.3 423.5h2.2M482.8 414.2h2.2M449.9 439.6h2.2M475.1 420.9h2.2M444.4 457.5h2.2M460.3 418.0h2.2M495.4 392.9h2.2M480.4 401.3h2.2M458.4 433.1h2.2M461.6 432.3h2.2M451.3 448.6h2.2M493.9 381.7h2.2M470.3 411.5h2.2M460.3 443.8h2.2M498.1 386.2h2.2M489.6 388.7h2.2M464.6 437.4h2.2M487.7 377.2h2.2M485.8 399.8h2.2M467.9 413.8h2.2M466.7 423.5h2.2M469.6 396.6h2.2M462.3 414.9h2.2M460.2 436.9h2.2M480.2 394.6h2.2M488.5 395.8h2.2M487.3 379.3h2.2M468.6 426.9h2.2M484.6 379.0h2.2M454.5 449.5h2.2M471.2 412.4h2.2M491.4 399.8h2.2M472.9 397.6h2.2M490.4 382.2h2.2M475.4 415.7h2.2M477.0 399.0h2.2M442.3 455.8h2.2M471.9 412.0h2.2M490.1 391.4h2.2M447.1 456.0h2.2M460.6 427.8h2.2M475.0 416.0h2.2M473.5 429.6h2.2M470.5 405.4h2.2M488.7 388.4h2.2M456.9 431.2h2.2M461.3 443.1h2.2M476.7 410.0h2.2M473.4 401.6h2.2M441.9 456.8h2.2M473.2 412.5h2.2M449.9 452.8h2.2M482.2 405.9h2.2M466.1 407.1h2.2M475.6 422.7h2.2M470.9 401.4h2.2M474.8 388.9h2.2M451.8 435.2h2.2M460.0 432.7h2.2M451.2 437.2h2.2M449.9 447.0h2.2M492.0 381.6h2.2M474.4 386.2h2.2M448.8 443.8h2.2M467.5 398.3h2.2M445.5 450.1h2.2M463.5 425.3h2.2M482.0 399.7h2.2M451.7 451.3h2.2M475.3 414.4h2.2M472.6 426.2h2.2M457.3 442.2h2.2M478.4 392.0h2.2M479.3 383.8h2.2M451.4 440.8h2.2M467.9 400.2h2.2M462.4 411.7h2.2M449.3 447.5h2.2M480.5 407.5h2.2M495.9 385.3h2.2M484.1 387.7h2.2M468.0 391.7h2.2M480.5 387.0h2.2M470.9 426.7h2.2M468.2 409.8h2.2M483.5 394.0h2.2M465.8 398.6h2.2M475.5 384.2h2.2M449.7 446.9h2.2M478.3 420.7h2.2M488.6 402.8h2.2M476.2 420.9h2.2M476.0 413.0h2.2M484.7 386.4h2.2M474.3 389.0h2.2M466.0 421.4h2.2M466.3 437.2h2.2M476.8 418.1h2.2M467.9 426.2h2.2M474.1 391.2h2.2M479.9 385.9h2.2M476.2 425.0h2.2M464.4 407.0h2.2M475.1 423.5h2.2M460.3 428.4h2.2M463.6 416.5h2.2M462.4 415.3h2.2M469.1 426.0h2.2M462.3 426.2h2.2M496.3 393.3h2.2M483.7 401.7h2.2M460.9 435.7h2.2M476.2 419.2h2.2M489.1 392.0h2.2M452.3 450.3h2.2M485.4 379.5h2.2M461.9 442.0h2.2M466.7 437.3h2.2M478.6 415.7h2.2M464.5 404.3h2.2M489.6 384.3h2.2M472.5 382.7h2.2M474.3 382.2h2.2M483.6 393.7h2.2M470.9 387.9h2.2M490.5 378.7h2.2M450.7 450.0h2.2M491.1 389.1h2.2M470.5 424.2h2.2M472.6 413.3h2.2M453.8 447.2h2.2M460.4 428.6h2.2M464.4 402.4h2.2M477.9 375.1h2.2M448.3 455.2h2.2M466.9 423.7h2.2M467.1 425.2h2.2M451.8 445.2h2.2M479.5 420.3h2.2M486.1 409.2h2.2M478.5 403.0h2.2M461.7 417.3h2.2M484.8 411.4h2.2M461.9 440.4h2.2M458.9 444.4h2.2M468.2 388.8h2.2M454.7 449.4h2.2M485.3 409.3h2.2M459.5 434.8h2.2M444.2 456.6h2.2M478.9 391.7h2.2M479.8 384.0h2.2M479.5 417.3h2.2M491.5 389.0h2.2M495.9 384.8h2.2M469.1 400.8h2.2M459.6 438.3h2.2M477.9 413.0h2.2M467.5 396.8h2.2M460.1 425.3h2.2M454.2 438.9h2.2M485.6 388.9h2.2M458.2 427.0h2.2M465.6 399.6h2.2M473.2 393.5h2.2M491.5 394.3h2.2M476.2 413.3h2.2M462.9 420.6h2.2M463.4 439.4h2.2M481.7 409.7h2.2M471.3 402.4h2.2M451.6 451.0h2.2M466.6 430.2h2.2M477.9 420.9h2.2M482.8 374.8h2.2M464.2 440.1h2.2M479.4 401.3h2.2M465.3 423.1h2.2M460.6 417.7h2.2M468.4 433.3h2.2M455.3 440.4h2.2M485.5 376.8h2.2M479.9 388.2h2.2M451.5 435.8h2.2M455.5 431.5h2.2M496.3 384.9h2.2M472.1 425.3h2.2M469.1 408.3h2.2M478.0 374.7h2.2M482.5 384.4h2.2M480.3 393.1h2.2M482.8 397.8h2.2M451.7 437.5h2.2M473.0 403.8h2.2M444.1 456.5h2.2M499.5 386.6h2.2M465.2 423.3h2.2M464.8 404.7h2.2M469.4 384.7h2.2M491.8 382.8h2.2M480.2 408.8h2.2M460.9 440.4h2.2M468.9 430.3h2.2M453.0 443.3h2.2M480.4 418.1h2.2M474.0 425.3h2.2M482.1 383.2h2.2M474.0 403.9h2.2M483.7 398.9h2.2M490.6 400.6h2.2M474.4 379.1h2.2M471.3 426.9h2.2M496.2 383.8h2.2M483.1 407.1h2.2M447.2 447.5h2.2M476.6 397.6h2.2M477.6 382.7h2.2M469.9 396.0h2.2M465.8 407.5h2.2M450.1 448.0h2.2M494.4 387.8h2.2M460.0 443.9h2.2M466.2 436.3h2.2M472.6 412.9h2.2M464.0 403.5h2.2M473.5 413.0h2.2M459.0 432.3h2.2M477.5 408.2h2.2M448.8 441.8h2.2M453.8 433.4h2.2M451.5 447.0h2.2M470.4 412.6h2.2M468.9 391.6h2.2M475.3 405.3h2.2M445.3 448.6h2.2M491.1 380.8h2.2M473.0 388.3h2.2M450.6 434.6h2.2M492.4 397.8h2.2M458.1 430.2h2.2M446.8 454.6h2.2M465.2 403.6h2.2M471.2 384.9h2.2M459.2 439.8h2.2M479.5 406.6h2.2M453.6 445.5h2.2M472.5 406.2h2.2M493.8 387.5h2.2M461.4 440.3h2.2M450.7 440.7h2.2M467.1 427.9h2.2M470.4 383.1h2.2M485.5 383.6h2.2M469.0 398.5h2.2M449.6 446.8h2.2M467.1 419.6h2.2M469.6 407.3h2.2M470.7 428.3h2.2M461.2 414.1h2.2M480.6 381.2h2.2M498.3 385.2h2.2M455.7 434.9h2.2M492.9 387.7h2.2M488.3 390.6h2.2M454.4 446.1h2.2M477.9 382.6h2.2M473.4 396.2h2.2M473.0 400.7h2.2M474.3 380.3h2.2M465.0 430.3h2.2M451.1 438.8h2.2M494.9 388.1h2.2M457.7 442.5h2.2M448.2 442.5h2.2M472.1 396.2h2.2M465.3 413.8h2.2M470.2 386.2h2.2M475.7 398.3h2.2M484.7 395.9h2.2M455.3 441.0h2.2M472.5 384.5h2.2M479.3 404.0h2.2M483.9 382.0h2.2M464.1 426.2h2.2M474.4 397.6h2.2M462.0 437.6h2.2M457.6 433.3h2.2M477.4 392.3h2.2M460.7 441.8h2.2M463.3 417.2h2.2M475.9 380.9h2.2M472.4 422.3h2.2M485.3 389.9h2.2M485.8 403.3h2.2M448.7 449.6h2.2" stroke="#0a3f64" stroke-width="2.2" fill="none"/>
<path d="M471.1 383.4h2.2M465.5 400.0h2.2M463.0 409.7h2.2M452.1 428.8h2.2M442.0 444.7h2.2M458.1 421.6h2.2M463.3 406.4h2.2M449.2 438.2h2.2M480.6 373.1h2.2M475.5 377.0h2.2M475.2 376.6h2.2M443.8 451.6h2.2M461.4 393.9h2.2M444.3 452.4h2.2M439.6 454.8h2.2M462.9 404.4h2.2M462.2 397.0h2.2M453.6 432.5h2.2M473.0 393.3h2.2M450.6 424.0h2.2M466.6 413.6h2.2M446.8 437.2h2.2M480.7 374.8h2.2M458.0 421.9h2.2M448.7 442.7h2.2M449.5 431.8h2.2M462.8 410.8h2.2M473.1 375.8h2.2M441.1 449.5h2.2M471.2 377.6h2.2M450.1 442.3h2.2M467.0 401.9h2.2M481.5 375.1h2.2M462.2 394.5h2.2M474.5 378.7h2.2M455.9 412.8h2.2M443.1 451.0h2.2M467.1 407.3h2.2M445.6 437.9h2.2M482.1 374.3h2.2M485.5 374.8h2.2M441.8 457.4h2.2M470.5 378.5h2.2M463.6 393.2h2.2M445.8 439.5h2.2M448.9 439.1h2.2M456.0 424.3h2.2M475.6 376.9h2.2M447.8 445.1h2.2M465.1 390.9h2.2M456.8 421.8h2.2M447.5 439.2h2.2M469.7 383.2h2.2M447.2 439.8h2.2M449.6 435.4h2.2M461.9 399.9h2.2M445.8 450.8h2.2M456.5 424.4h2.2M457.8 419.4h2.2M466.5 397.3h2.2M448.8 431.9h2.2M468.2 377.4h2.2M450.3 434.8h2.2M475.0 376.4h2.2M442.4 450.6h2.2M444.3 447.6h2.2M454.1 434.0h2.2M439.9 451.1h2.2M451.2 438.0h2.2M462.6 394.0h2.2M467.6 392.3h2.2M446.4 444.3h2.2M483.1 375.9h2.2M451.6 429.4h2.2M453.1 428.8h2.2M473.4 378.4h2.2M472.6 376.6h2.2M478.8 376.1h2.2M451.4 435.4h2.2M463.8 393.7h2.2M442.6 438.9h2.2M443.8 444.0h2.2M485.3 376.8h2.2M450.2 431.6h2.2M442.9 453.1h2.2M468.0 393.8h2.2M446.7 437.2h2.2M483.5 372.9h2.2M458.9 419.3h2.2M444.2 446.9h2.2M467.7 387.1h2.2M454.2 426.3h2.2M454.2 420.6h2.2M462.0 407.3h2.2M485.1 373.6h2.2M471.7 386.3h2.2M466.2 393.5h2.2M467.3 398.3h2.2M483.8 371.8h2.2M447.1 447.9h2.2M485.1 379.1h2.2M471.3 384.9h2.2M470.7 381.7h2.2M439.8 457.8h2.2M463.3 407.2h2.2M465.5 400.9h2.2M452.1 434.3h2.2M469.1 389.9h2.2" stroke="#0a3f64" stroke-width="2.2" fill="none"/>
<path d="M451.2 434.7h2.2M443.2 424.5h2.2M466.4 374.7h2.2M468.2 379.7h2.2M452.7 427.0h2.2M470.6 383.4h2.2M451.8 416.8h2.2M453.5 434.1h2.2M456.2 408.5h2.2M458.8 407.7h2.2M461.3 397.0h2.2M452.3 428.4h2.2M448.9 430.1h2.2M477.5 374.9h2.2M464.6 390.5h2.2M446.9 431.7h2.2M447.4 425.8h2.2M467.9 378.7h2.2M446.0 425.3h2.2M456.4 409.2h2.2M460.5 399.3h2.2M462.8 422.9h2.2M456.1 419.4h2.2M460.5 417.4h2.2M443.3 430.5h2.2M446.5 417.3h2.2M461.0 419.2h2.2M460.9 387.0h2.2M461.2 394.5h2.2" stroke="#0a3f64" stroke-width="2.2" fill="none"/>
<path d="M498.2 377.4h2.2M502.1 368.0h2.2M492.4 371.7h2.2M504.0 357.1h2.2M490.1 362.0h2.2M510.5 366.1h2.2M493.9 375.6h2.2M492.9 361.7h2.2M500.1 358.8h2.2M494.0 367.0h2.2M498.4 360.6h2.2M493.3 377.8h2.2M499.3 374.2h2.2M495.7 364.9h2.2M509.9 353.8h2.2M509.6 363.2h2.2M495.3 374.4h2.2M502.2 365.5h2.2M501.3 363.7h2.2M512.6 360.6h2.2M499.9 362.4h2.2M503.8 370.4h2.2M500.9 377.5h2.2M494.2 376.4h2.2M501.7 358.9h2.2M495.8 376.6h2.2M499.0 368.8h2.2M498.5 352.0h2.2M495.3 367.5h2.2M497.1 364.9h2.2M503.7 366.2h2.2M511.3 371.2h2.2M502.5 372.0h2.2M504.2 360.9h2.2M498.8 372.4h2.2M497.5 367.9h2.2M495.2 376.1h2.2M504.3 362.1h2.2M511.3 361.1h2.2M494.0 360.6h2.2M494.9 365.7h2.2M501.4 378.1h2.2M498.2 378.4h2.2M494.4 370.9h2.2M494.1 363.7h2.2M497.8 376.2h2.2M501.1 365.3h2.2M514.1 366.0h2.2M507.4 358.8h2.2M495.2 377.1h2.2M500.2 355.1h2.2M497.4 371.8h2.2M500.8 376.7h2.2M501.4 368.6h2.2M504.5 370.1h2.2M494.1 379.6h2.2M488.0 373.2h2.2M495.9 365.1h2.2M487.2 368.3h2.2M491.3 381.4h2.2M503.4 351.6h2.2M507.1 350.9h2.2M498.6 378.2h2.2M506.3 364.9h2.2M501.5 366.8h2.2M503.4 358.2h2.2M499.6 362.5h2.2M513.2 358.4h2.2M516.2 359.4h2.2M506.9 359.0h2.2M504.4 357.8h2.2M488.7 372.5h2.2M506.8 360.8h2.2M499.0 367.5h2.2M509.4 363.6h2.2M496.5 364.0h2.2M501.4 374.7h2.2M509.0 363.5h2.2M495.6 364.5h2.2M493.7 372.1h2.2M494.3 368.1h2.2M497.0 360.8h2.2M498.0 368.3h2.2M503.7 370.3h2.2M493.0 377.5h2.2M500.4 368.3h2.2M502.2 360.1h2.2M504.4 360.6h2.2M500.4 370.3h2.2M489.0 375.7h2.2M496.9 352.4h2.2M497.0 376.6h2.2M486.1 377.9h2.2M494.7 365.4h2.2M506.5 369.1h2.2M511.5 355.6h2.2M495.8 380.8h2.2M493.7 374.9h2.2M500.4 359.9h2.2M510.3 359.7h2.2M500.0 360.1h2.2M493.0 356.8h2.2M507.6 342.6h2.2M491.1 385.9h2.2M499.9 349.7h2.2M512.3 356.1h2.2M488.1 365.3h2.2M503.2 371.6h2.2M508.0 371.3h2.2M500.7 371.7h2.2M504.1 372.5h2.2M497.4 365.1h2.2M500.6 366.6h2.2M492.6 356.6h2.2M503.5 367.9h2.2M498.8 369.9h2.2M492.5 373.6h2.2M496.9 369.0h2.2M513.7 356.6h2.2M499.7 372.6h2.2M498.6 375.1h2.2M495.3 368.3h2.2M503.0 367.3h2.2M495.5 367.6h2.2M498.1 371.3h2.2M495.9 358.8h2.2M507.6 363.4h2.2M503.1 360.8h2.2M500.7 367.4h2.2M495.5 380.1h2.2M495.4 355.6h2.2M497.1 368.3h2.2M498.6 373.4h2.2M495.8 377.0h2.2M507.8 354.7h2.2M501.8 369.6h2.2M500.3 371.8h2.2M509.3 358.0h2.2M500.0 376.3h2.2M491.7 369.2h2.2M499.7 363.3h2.2M508.0 364.6h2.2M500.7 367.7h2.2M509.0 366.4h2.2M505.3 376.2h2.2M505.8 369.7h2.2M493.9 379.6h2.2M502.7 380.1h2.2M495.2 375.2h2.2M501.9 367.6h2.2M511.0 378.6h2.2M505.2 363.5h2.2M509.2 369.7h2.2M487.8 387.3h2.2M498.7 374.4h2.2M498.2 361.2h2.2M497.1 376.5h2.2M499.7 371.6h2.2M498.3 362.0h2.2M489.6 366.8h2.2M505.9 370.1h2.2M505.2 370.6h2.2M496.6 353.7h2.2M514.3 362.5h2.2M498.9 366.4h2.2M503.2 364.3h2.2M504.7 370.7h2.2M494.4 369.7h2.2M505.7 366.9h2.2M493.1 365.7h2.2M499.9 368.6h2.2M497.6 352.8h2.2M508.9 351.8h2.2M499.0 362.9h2.2M508.1 363.7h2.2M501.8 371.0h2.2M498.7 367.6h2.2M486.5 373.4h2.2M486.9 371.1h2.2M504.9 378.0h2.2M497.7 377.9h2.2M498.6 379.0h2.2M510.0 365.8h2.2M503.7 363.4h2.2M492.8 363.3h2.2M509.0 365.6h2.2M498.1 372.1h2.2M488.2 368.4h2.2M494.8 374.1h2.2M494.5 359.7h2.2M496.1 364.1h2.2M501.8 363.1h2.2M507.2 369.4h2.2M504.8 364.8h2.2M504.7 358.7h2.2M496.0 379.6h2.2M508.5 362.6h2.2M497.2 361.4h2.2M505.9 355.1h2.2M497.6 378.6h2.2M497.8 366.7h2.2M503.5 367.8h2.2M491.1 378.8h2.2M500.8 374.8h2.2M513.6 365.1h2.2M502.3 374.1h2.2M512.9 364.5h2.2M494.9 377.9h2.2M487.4 358.8h2.2M502.4 368.6h2.2M499.0 372.1h2.2M511.9 366.0h2.2M493.4 365.9h2.2M494.0 371.0h2.2M503.0 361.8h2.2M498.3 368.7h2.2M502.5 364.1h2.2M510.3 365.7h2.2M500.5 373.8h2.2M505.7 365.7h2.2M493.6 380.8h2.2M497.3 369.6h2.2M486.5 378.4h2.2M500.6 377.9h2.2M510.6 366.6h2.2M507.0 351.4h2.2M497.9 370.5h2.2M506.3 355.1h2.2M495.5 361.9h2.2M507.2 371.9h2.2M500.8 381.0h2.2M504.0 363.4h2.2M493.3 368.9h2.2M499.6 360.1h2.2M498.6 372.4h2.2M501.8 375.3h2.2M496.5 359.8h2.2M505.3 358.2h2.2M505.5 362.6h2.2M509.0 377.2h2.2M509.6 370.0h2.2M495.3 365.1h2.2M498.5 363.5h2.2M497.7 359.6h2.2M498.3 376.0h2.2M498.2 367.6h2.2M501.6 386.1h2.2M488.9 385.6h2.2M497.4 360.3h2.2M502.6 359.9h2.2M500.9 378.1h2.2M495.4 372.2h2.2M495.0 385.7h2.2M500.5 358.3h2.2M494.3 368.7h2.2M501.9 368.2h2.2M503.8 366.8h2.2M509.4 369.5h2.2M500.7 362.5h2.2M492.2 374.7h2.2M512.4 359.7h2.2M495.6 362.2h2.2M494.9 374.0h2.2M496.2 360.5h2.2M501.3 370.6h2.2M503.0 368.3h2.2M497.7 366.9h2.2M493.0 362.6h2.2M488.3 381.2h2.2M501.7 359.1h2.2M503.9 368.6h2.2M495.0 377.4h2.2M499.6 351.1h2.2M496.4 376.8h2.2M498.4 362.4h2.2M499.5 376.5h2.2M501.7 366.8h2.2M491.6 375.1h2.2M507.8 361.8h2.2M495.6 367.5h2.2" stroke="#bebebe" stroke-width="2.2" fill="none"/>
<path d="M525.8 328.7h2.2M525.5 328.6h2.2M531.1 323.9h2.2M506.4 345.5h2.2M498.6 364.3h2.2M521.2 324.7h2.2M510.4 351.6h2.2M531.1 326.6h2.2M504.3 363.0h2.2M512.6 343.4h2.2M531.3 323.5h2.2M510.2 346.3h2.2M529.4 327.6h2.2M500.9 360.4h2.2M506.9 355.9h2.2M517.5 329.8h2.2M528.7 321.9h2.2M510.8 339.6h2.2M507.2 354.4h2.2M523.7 329.3h2.2M511.0 348.2h2.2M512.5 341.6h2.2M508.9 352.4h2.2M506.6 359.9h2.2M515.1 329.2h2.2M507.1 343.7h2.2M508.0 355.9h2.2M507.4 347.8h2.2M527.4 322.8h2.2M510.9 342.9h2.2M526.9 328.5h2.2M508.7 349.6h2.2M506.5 359.0h2.2M503.9 366.3h2.2M526.1 328.9h2.2M502.5 364.9h2.2M504.0 356.4h2.2M522.6 330.2h2.2M528.3 324.4h2.2M515.5 337.7h2.2M506.5 359.8h2.2M510.0 350.1h2.2M505.6 361.8h2.2M498.8 365.5h2.2M525.3 328.9h2.2M518.6 322.8h2.2M512.0 346.1h2.2M515.0 338.3h2.2M506.8 356.3h2.2M501.9 365.3h2.2M513.5 336.4h2.2M508.8 352.3h2.2M505.4 362.8h2.2M506.8 355.6h2.2M529.5 325.9h2.2M510.8 343.4h2.2M520.9 330.7h2.2M505.9 357.5h2.2M514.9 339.2h2.2M530.6 326.3h2.2" stroke="#bebebe" stroke-width="2.2" fill="none"/>
<path d="M443.4 421.4h2.2M466.0 385.8h2.2M448.1 431.7h2.2M444.6 436.3h2.2M468.5 406.9h2.2M456.8 409.0h2.2M464.0 392.7h2.2M460.7 394.8h2.2M464.0 419.4h2.2M466.8 393.9h2.2M472.4 388.5h2.2M444.0 431.3h2.2M446.6 431.1h2.2M449.6 419.1h2.2M453.5 425.6h2.2" stroke="#bebebe" stroke-width="2.2" fill="none"/>
<path d="M501.1 418.1h2.2M499.2 423.7h2.2M490.9 433.2h2.2M492.2 457.7h2.2M500.9 422.3h2.2M500.4 420.7h2.2M485.7 435.6h2.2M484.3 456.3h2.2M488.7 433.2h2.2M478.5 446.5h2.2M496.9 428.5h2.2M488.9 424.5h2.2M488.0 436.1h2.2M479.0 447.4h2.2M494.3 434.5h2.2M493.4 444.0h2.2M496.2 420.7h2.2M499.7 421.7h2.2M488.9 434.3h2.2M498.5 422.4h2.2M491.8 429.4h2.2M486.8 440.0h2.2M485.9 451.9h2.2M499.8 417.6h2.2M479.3 442.9h2.2M483.0 447.8h2.2M491.1 430.7h2.2M485.1 426.8h2.2M483.0 447.9h2.2M502.9 417.0h2.2M496.9 426.7h2.2M480.5 442.5h2.2M491.0 432.9h2.2M486.9 448.0h2.2M499.8 423.1h2.2M494.4 416.5h2.2M484.5 436.7h2.2M487.0 429.0h2.2M489.5 433.9h2.2M487.3 435.6h2.2M493.1 426.7h2.2M498.0 434.6h2.2M484.3 442.6h2.2M492.8 444.1h2.2M485.1 436.2h2.2M491.4 436.6h2.2M492.1 428.4h2.2M477.9 451.2h2.2M493.2 429.4h2.2M490.2 427.3h2.2M493.7 427.1h2.2M495.0 431.3h2.2M480.4 458.3h2.2M492.0 425.7h2.2M499.8 423.9h2.2M501.0 430.6h2.2M483.8 434.5h2.2M485.0 446.0h2.2M485.7 440.6h2.2M490.4 424.9h2.2M515.7 400.5h2.2M484.1 439.6h2.2M494.4 429.5h2.2M492.0 428.9h2.2M500.8 428.7h2.2M504.3 421.4h2.2M501.2 423.1h2.2M479.5 435.5h2.2M505.6 421.5h2.2M491.4 441.8h2.2M496.0 416.3h2.2M489.4 438.9h2.2M478.6 450.5h2.2M486.2 439.2h2.2M479.7 433.8h2.2M486.1 452.1h2.2M487.6 433.4h2.2M508.2 415.6h2.2M478.9 451.3h2.2M496.8 423.4h2.2M489.9 437.9h2.2M486.6 441.7h2.2M504.9 429.3h2.2M498.7 426.8h2.2M492.7 434.1h2.2M498.3 428.6h2.2M474.5 453.3h2.2M491.8 446.3h2.2M479.0 436.8h2.2M485.5 435.4h2.2M499.9 436.7h2.2M487.1 434.4h2.2M494.6 430.0h2.2M485.1 431.5h2.2M480.3 449.3h2.2M491.3 438.3h2.2M498.4 419.8h2.2M495.6 437.0h2.2M501.7 425.6h2.2M490.1 419.6h2.2M484.1 439.6h2.2M485.2 436.4h2.2M495.3 435.8h2.2M501.3 428.7h2.2M500.2 429.3h2.2M495.6 430.0h2.2M491.6 434.9h2.2M489.6 430.7h2.2M502.2 422.0h2.2M482.0 425.5h2.2M493.1 439.3h2.2M496.1 421.0h2.2M498.1 416.0h2.2M484.2 443.7h2.2M485.3 448.9h2.2M483.3 451.4h2.2M481.9 448.9h2.2M498.7 427.2h2.2M489.8 428.4h2.2M480.0 439.1h2.2M488.0 429.8h2.2M499.9 421.5h2.2M494.8 420.3h2.2M496.3 426.7h2.2M481.3 447.9h2.2M495.7 430.5h2.2M489.2 437.7h2.2M503.1 412.8h2.2M483.9 434.2h2.2M486.0 446.9h2.2M490.4 425.9h2.2M482.0 441.5h2.2M491.0 432.0h2.2M475.5 449.0h2.2M492.0 427.7h2.2M502.8 422.1h2.2M501.6 416.5h2.2M487.5 449.5h2.2M495.9 429.6h2.2M470.6 448.7h2.2M493.0 428.6h2.2M498.0 412.0h2.2M487.3 438.1h2.2M486.8 440.6h2.2M496.7 424.1h2.2M508.0 418.0h2.2M489.2 428.5h2.2M495.7 429.7h2.2" stroke="#eb6608" stroke-width="2.2" fill="none"/>
<path d="M492.5 425.2h2.2M502.2 421.9h2.2M498.1 425.4h2.2M494.0 429.0h2.2M498.6 425.3h2.2M496.5 422.0h2.2M494.5 425.5h2.2M501.0 424.2h2.2M502.4 420.3h2.2M496.7 422.4h2.2M497.1 428.2h2.2M497.1 418.0h2.2M498.7 427.3h2.2M496.6 424.4h2.2M492.7 427.8h2.2M495.1 429.1h2.2M497.1 428.3h2.2M501.5 422.5h2.2M503.0 425.0h2.2M499.1 424.6h2.2M503.1 421.2h2.2M496.2 425.8h2.2M497.0 428.1h2.2M498.7 427.5h2.2M498.5 420.3h2.2M494.2 429.8h2.2M495.5 426.1h2.2M497.8 422.6h2.2M496.8 430.4h2.2M501.9 424.5h2.2M506.4 419.1h2.2M498.9 429.5h2.2M503.6 422.4h2.2M500.8 432.4h2.2M500.5 419.9h2.2M496.0 423.3h2.2M502.2 429.2h2.2M492.9 423.0h2.2M500.3 427.1h2.2M506.6 423.3h2.2M490.9 430.5h2.2M504.4 424.5h2.2M497.6 427.5h2.2M500.3 423.1h2.2M500.9 426.1h2.2M500.8 423.6h2.2M497.1 430.8h2.2M506.0 416.8h2.2M497.9 423.5h2.2M497.0 419.7h2.2" stroke="#eb6608" stroke-width="2.2" fill="none"/>
<path d="M506.0 390.0L512.0 382.0L517.0 372.0L519.0 360.0L520.0 348.0L522.0 338.0L526.0 330.0L532.0 327.0L542.0 327.5L554.0 327.0L566.0 325.5L578.0 322.5L590.2 320.4L599.8 319.4L604.6 323.0L607.0 331.5L605.8 341.1L603.4 345.9L602.2 347.1L595.0 354.8L585.0 362.5L575.0 369.1L565.0 375.7L555.0 382.4L545.0 389.0L535.0 395.6L525.0 402.3L515.0 408.9L505.0 415.5L495.0 422.2L485.0 428.8L475.0 435.4L465.0 442.1L455.0 448.7L447.0 458.0L455.0 451.0L466.0 440.0L476.0 428.0L484.0 415.0L490.0 405.0L497.0 397.0L501.0 392.0Z" fill="#eb6608" />
<path d="M483.3 391.0h2.2M469.9 427.5h2.2M458.5 441.8h2.2M458.5 436.7h2.2M472.0 409.6h2.2M488.8 401.0h2.2M479.3 385.6h2.2M474.1 405.9h2.2M485.4 392.8h2.2M488.4 389.7h2.2M494.3 389.6h2.2M459.2 425.2h2.2M452.9 446.4h2.2M482.8 411.8h2.2M482.5 387.3h2.2M464.7 426.3h2.2M468.3 411.3h2.2M444.1 450.2h2.2M469.3 391.9h2.2M478.9 390.7h2.2M448.7 442.5h2.2M483.8 381.2h2.2M487.5 387.1h2.2M443.2 453.2h2.2M490.2 392.1h2.2M467.4 394.8h2.2M442.9 456.4h2.2M472.6 413.7h2.2M480.7 392.5h2.2M444.3 452.4h2.2M449.6 451.6h2.2M492.9 380.5h2.2M479.4 379.2h2.2M464.6 416.9h2.2M452.7 444.7h2.2M469.8 388.9h2.2M467.7 423.1h2.2M458.4 437.9h2.2M448.4 440.6h2.2M491.0 378.3h2.2M453.8 441.4h2.2M489.6 380.2h2.2M460.9 418.0h2.2M482.4 395.2h2.2M482.4 406.2h2.2M464.6 425.3h2.2M488.6 400.0h2.2M465.7 397.8h2.2M474.7 383.3h2.2M490.7 394.8h2.2M482.4 410.5h2.2M478.7 397.2h2.2M493.6 395.0h2.2M482.6 376.0h2.2M460.2 440.6h2.2M495.4 389.6h2.2M468.3 408.8h2.2M466.7 428.1h2.2M470.2 432.7h2.2M472.5 394.2h2.2M471.4 387.1h2.2M480.2 405.8h2.2M455.3 443.5h2.2M485.3 387.0h2.2M460.4 443.2h2.2M466.0 411.1h2.2M472.0 422.1h2.2M465.6 402.9h2.2M454.4 438.2h2.2M464.3 416.8h2.2M482.3 399.2h2.2M485.1 405.8h2.2M482.2 405.6h2.2M487.4 394.5h2.2M469.6 423.8h2.2M471.4 404.1h2.2M449.4 441.7h2.2M474.9 403.4h2.2M475.4 416.6h2.2M461.7 440.2h2.2M490.8 381.9h2.2M468.5 393.0h2.2M451.5 437.1h2.2M469.5 404.4h2.2M477.7 390.8h2.2M478.3 398.1h2.2M466.9 397.2h2.2M486.1 408.5h2.2M482.9 400.7h2.2M451.1 453.8h2.2M496.7 383.0h2.2M474.0 410.2h2.2M462.2 437.0h2.2M459.1 438.8h2.2M449.5 452.9h2.2M457.9 438.5h2.2M451.4 437.2h2.2M468.8 433.4h2.2M462.5 423.7h2.2M462.1 417.5h2.2M458.1 440.9h2.2M485.3 391.3h2.2M451.2 437.0h2.2M459.0 441.9h2.2M475.5 415.8h2.2M442.2 456.9h2.2M463.7 419.2h2.2M471.3 427.2h2.2M475.7 420.6h2.2M486.4 395.7h2.2M485.7 388.0h2.2M476.5 390.8h2.2M479.3 392.5h2.2M460.6 422.1h2.2M467.1 427.7h2.2M485.3 379.0h2.2M473.3 428.7h2.2M484.1 378.1h2.2M446.4 450.6h2.2M474.0 381.4h2.2M463.8 405.7h2.2M454.6 436.9h2.2M481.9 400.1h2.2M451.6 437.0h2.2M468.0 412.4h2.2M477.9 401.0h2.2M471.7 430.9h2.2M463.1 417.7h2.2M469.4 397.1h2.2M480.7 382.6h2.2M469.5 385.3h2.2M469.3 418.0h2.2M448.3 440.5h2.2M484.3 405.9h2.2M456.3 445.2h2.2M445.9 454.7h2.2M473.9 420.5h2.2M453.1 449.6h2.2M488.8 396.0h2.2M460.7 428.5h2.2M470.9 432.0h2.2M473.0 378.2h2.2M464.2 429.8h2.2M481.0 404.0h2.2M494.7 395.0h2.2M475.0 403.4h2.2M483.2 386.6h2.2M461.6 427.9h2.2M486.0 382.0h2.2M464.7 415.1h2.2M467.8 397.8h2.2M491.6 399.7h2.2M466.5 405.0h2.2M475.2 394.3h2.2M463.3 410.1h2.2M467.7 396.7h2.2M475.8 406.2h2.2M473.2 412.1h2.2M466.7 413.4h2.2M469.8 392.7h2.2M466.9 429.4h2.2M474.7 393.6h2.2M494.6 383.3h2.2M472.3 427.3h2.2M479.4 415.8h2.2M474.8 383.8h2.2M472.4 413.4h2.2M461.1 420.3h2.2M460.2 441.2h2.2M463.4 408.1h2.2M480.9 402.0h2.2M464.0 417.2h2.2M485.8 379.7h2.2M485.0 386.9h2.2M479.5 419.7h2.2M455.1 444.6h2.2M477.0 423.3h2.2M497.2 388.5h2.2M476.1 390.3h2.2M475.9 418.3h2.2M488.8 377.5h2.2M465.7 416.5h2.2M478.5 403.7h2.2M491.8 382.6h2.2M469.7 426.5h2.2M465.3 408.8h2.2M455.4 428.9h2.2M473.4 382.5h2.2M477.3 387.1h2.2M449.6 441.3h2.2" stroke="#eb6608" stroke-width="2.2" fill="none"/>
<path d="M513.6 355.7h2.2M506.0 367.9h2.2M496.2 367.4h2.2M494.7 361.6h2.2M500.0 368.3h2.2M491.0 376.6h2.2M505.4 372.8h2.2M501.4 361.5h2.2M498.7 372.4h2.2M496.8 378.9h2.2M505.7 360.6h2.2M505.3 373.2h2.2M510.9 364.1h2.2M489.1 364.4h2.2M495.3 374.5h2.2M501.4 374.6h2.2M500.4 375.3h2.2M506.1 371.1h2.2M514.4 358.3h2.2M492.0 370.4h2.2M501.8 362.0h2.2M510.8 360.0h2.2M493.1 352.2h2.2M498.5 370.7h2.2M504.9 370.3h2.2" stroke="#eb6608" stroke-width="2.2" fill="none"/>
<path d="M441.3 437.8h2.2M458.9 384.5h2.2M497.9 349.0h2.2M484.4 368.9h2.2M455.5 406.2h2.2M459.8 400.0h2.2M462.9 393.3h2.2M465.8 389.1h2.2M447.2 423.8h2.2M477.7 364.1h2.2M502.3 350.5h2.2M517.6 326.4h2.2M466.3 380.6h2.2M453.6 393.9h2.2M473.7 377.3h2.2M467.6 385.6h2.2M474.2 379.0h2.2M512.2 333.9h2.2M446.4 429.4h2.2M517.9 320.1h2.2M463.0 371.5h2.2M493.7 362.5h2.2M488.7 359.8h2.2M452.9 395.4h2.2M523.9 321.7h2.2M525.6 325.0h2.2M442.4 412.5h2.2M461.2 368.7h2.2M488.3 362.1h2.2M479.0 369.0h2.2M440.3 410.7h2.2M509.7 335.0h2.2M452.6 410.8h2.2M466.2 367.4h2.2M442.3 423.3h2.2M476.0 373.7h2.2M442.3 430.6h2.2M467.5 386.2h2.2M469.4 382.6h2.2M470.3 377.6h2.2M511.9 326.2h2.2M447.9 411.6h2.2M443.0 434.4h2.2M510.4 336.0h2.2M495.3 356.9h2.2M500.3 333.0h2.2M465.5 385.9h2.2M501.6 349.2h2.2M494.7 344.6h2.2M469.5 371.0h2.2M501.1 352.9h2.2M448.1 410.5h2.2M487.8 353.6h2.2M442.8 407.0h2.2M496.4 347.1h2.2M503.2 335.7h2.2M521.3 324.5h2.2M504.9 348.0h2.2M466.1 386.2h2.2M455.3 396.2h2.2M469.8 380.2h2.2M454.3 408.6h2.2M443.2 404.9h2.2M452.9 400.4h2.2M515.9 325.6h2.2M491.3 352.9h2.2M468.3 382.9h2.2M444.7 409.1h2.2M503.8 346.2h2.2M504.3 336.7h2.2M440.5 427.8h2.2M450.5 406.8h2.2M440.9 430.5h2.2M492.6 363.3h2.2M508.5 333.5h2.2M492.0 361.8h2.2M509.3 336.9h2.2M474.7 378.8h2.2M440.1 418.5h2.2M465.0 367.5h2.2M443.9 424.4h2.2M469.0 373.9h2.2M495.7 351.5h2.2M481.5 361.5h2.2M444.7 437.5h2.2M455.1 409.2h2.2M492.8 363.0h2.2M439.9 418.5h2.2M453.4 414.3h2.2M501.9 339.6h2.2M495.8 358.3h2.2M488.5 363.5h2.2M463.9 378.3h2.2M486.7 361.7h2.2M451.8 407.3h2.2M503.5 337.8h2.2M522.9 314.6h2.2M446.5 431.2h2.2M495.1 345.4h2.2M449.7 419.6h2.2M453.6 384.5h2.2M454.1 406.8h2.2M520.8 322.8h2.2M491.6 355.9h2.2" stroke="#eb6608" stroke-width="2.2" fill="none"/>
<path d="M506.5 345.2h2.2M451.7 402.4h2.2M530.7 325.7h2.2M532.0 322.9h2.2M458.9 380.8h2.2M488.6 367.4h2.2M441.4 445.2h2.2M463.2 382.5h2.2M499.2 359.7h2.2M447.6 424.0h2.2M450.0 393.8h2.2M494.0 350.9h2.2M441.9 440.3h2.2M510.8 341.0h2.2M442.7 431.4h2.2M485.7 368.0h2.2M441.7 443.8h2.2M449.7 393.7h2.2M461.8 389.2h2.2M495.3 362.2h2.2M501.4 352.7h2.2M449.1 423.3h2.2M519.4 321.5h2.2M456.5 396.6h2.2M520.5 326.2h2.2M495.1 362.3h2.2M508.1 334.1h2.2M488.0 360.7h2.2M514.4 334.2h2.2M498.3 352.7h2.2M462.4 380.7h2.2M448.5 419.0h2.2M457.5 392.7h2.2M513.8 335.3h2.2M508.6 346.0h2.2M446.8 432.8h2.2M493.6 359.3h2.2M507.2 344.7h2.2M473.1 375.9h2.2M507.9 337.0h2.2M491.2 362.2h2.2M513.0 327.1h2.2M457.0 403.5h2.2M444.9 438.8h2.2M454.1 411.2h2.2M505.1 337.4h2.2M459.0 397.1h2.2M445.4 428.8h2.2M447.7 423.3h2.2M472.5 373.1h2.2M464.8 381.1h2.2M446.8 429.4h2.2M441.0 447.0h2.2M496.0 346.8h2.2M462.0 384.4h2.2M472.9 370.2h2.2M510.5 327.3h2.2M501.7 354.4h2.2M457.6 388.7h2.2M477.1 359.7h2.2M485.8 358.6h2.2M455.2 405.3h2.2M497.5 348.5h2.2M444.0 437.6h2.2M453.2 410.3h2.2M469.4 379.2h2.2M458.8 382.5h2.2M496.6 357.1h2.2M445.3 417.5h2.2M487.8 366.9h2.2M456.5 403.8h2.2M495.8 355.1h2.2M456.4 402.0h2.2M509.9 330.2h2.2M446.2 413.1h2.2M506.9 346.2h2.2M443.1 432.1h2.2M454.2 409.1h2.2M526.6 324.1h2.2M451.3 419.6h2.2M511.6 338.9h2.2M520.2 322.3h2.2M523.6 327.4h2.2M504.4 331.6h2.2M474.7 375.4h2.2M504.4 343.3h2.2M509.6 338.8h2.2M454.9 402.5h2.2M468.0 376.9h2.2M494.2 359.9h2.2M441.7 441.6h2.2M453.1 406.2h2.2M525.9 324.1h2.2M485.8 355.7h2.2M463.0 384.4h2.2M448.5 407.4h2.2M443.7 436.4h2.2M458.6 392.4h2.2M479.0 368.3h2.2M453.6 406.2h2.2M461.6 387.5h2.2M476.4 369.4h2.2M450.2 404.0h2.2M527.2 326.8h2.2" stroke="#eb6608" stroke-width="2.2" fill="none"/>
<path d="M513.5 342.6h2.2M519.5 343.4h2.2M520.9 335.4h2.2M515.9 369.6h2.2M511.8 351.0h2.2M509.4 381.0h2.2M516.2 363.7h2.2M512.8 377.0h2.2M503.6 382.4h2.2M529.0 327.8h2.2M515.3 362.1h2.2M505.5 387.7h2.2M513.8 369.0h2.2M514.7 350.2h2.2M515.4 371.4h2.2M516.0 333.4h2.2M519.3 344.3h2.2M507.6 376.6h2.2M517.0 354.7h2.2M514.8 358.8h2.2M517.1 338.0h2.2M516.4 356.0h2.2M525.1 327.8h2.2M520.4 338.2h2.2M505.5 384.6h2.2M513.1 373.1h2.2M507.6 385.4h2.2M519.8 338.2h2.2M509.7 381.3h2.2M515.2 370.5h2.2M515.8 338.2h2.2M504.9 387.4h2.2M519.4 338.4h2.2M516.0 358.8h2.2M506.7 387.6h2.2M514.0 370.8h2.2M525.8 327.5h2.2M513.9 368.3h2.2M515.7 340.6h2.2M513.2 371.4h2.2M511.5 365.6h2.2M511.5 366.3h2.2M511.0 380.8h2.2M522.8 330.0h2.2M515.1 353.6h2.2M527.0 328.6h2.2M528.4 327.4h2.2M507.5 384.8h2.2M516.0 343.4h2.2M515.1 359.8h2.2M519.7 342.5h2.2M516.4 353.5h2.2M514.5 362.2h2.2M511.0 381.0h2.2M522.0 330.7h2.2M508.8 382.5h2.2M516.6 365.0h2.2M520.2 341.4h2.2M520.6 334.8h2.2M504.2 387.6h2.2M515.8 363.0h2.2M517.7 346.1h2.2M503.5 384.1h2.2M513.8 371.4h2.2M517.2 362.9h2.2M513.6 370.2h2.2M505.6 381.3h2.2M506.8 379.8h2.2M514.7 372.0h2.2M506.2 387.3h2.2M516.5 342.0h2.2M505.8 383.6h2.2M514.4 374.0h2.2M514.1 369.9h2.2M529.0 326.1h2.2M519.6 336.8h2.2M516.5 355.1h2.2M510.2 375.7h2.2M515.1 362.7h2.2M512.5 359.2h2.2M519.8 340.6h2.2M512.1 376.8h2.2M513.2 374.7h2.2M518.8 344.7h2.2M528.9 326.8h2.2M518.6 346.6h2.2M521.0 334.5h2.2M520.6 336.4h2.2M514.2 373.7h2.2M517.7 349.7h2.2M511.3 367.5h2.2M515.5 363.3h2.2M513.3 376.7h2.2M524.4 330.1h2.2M507.7 381.8h2.2M517.2 344.8h2.2M506.6 385.2h2.2M518.7 339.2h2.2M513.4 368.9h2.2M517.9 356.7h2.2M513.5 376.5h2.2M529.9 327.0h2.2M530.3 326.1h2.2M515.1 368.9h2.2M518.7 350.1h2.2M517.5 344.7h2.2M523.0 333.1h2.2M512.3 378.4h2.2M527.3 324.9h2.2M518.3 346.8h2.2M522.6 333.2h2.2M516.0 343.5h2.2M514.8 361.3h2.2M517.4 345.7h2.2M514.6 374.0h2.2M518.6 331.6h2.2M513.4 357.9h2.2M509.1 383.2h2.2M515.7 366.4h2.2M514.8 371.0h2.2M519.1 338.8h2.2M510.5 376.4h2.2M512.3 375.6h2.2M519.1 338.3h2.2M515.8 363.7h2.2M513.7 361.6h2.2M512.1 362.2h2.2M526.7 327.7h2.2M517.4 346.7h2.2M515.5 372.2h2.2M510.8 378.0h2.2M513.8 372.6h2.2M515.5 363.7h2.2M518.7 343.9h2.2M506.6 379.8h2.2M507.1 376.3h2.2M514.3 363.8h2.2M520.6 339.2h2.2M516.7 366.9h2.2M504.3 389.3h2.2M507.8 380.0h2.2M509.3 380.4h2.2M515.7 364.7h2.2M514.8 358.7h2.2M511.6 378.5h2.2M511.2 375.5h2.2M514.0 359.1h2.2M514.9 368.1h2.2M518.1 349.3h2.2M524.2 330.0h2.2M507.9 381.1h2.2M514.9 367.4h2.2M516.4 360.4h2.2M519.2 344.0h2.2M530.2 326.8h2.2M513.6 367.8h2.2M516.0 358.7h2.2M516.7 364.3h2.2M510.8 375.3h2.2M512.5 374.9h2.2" stroke="#eb6608" stroke-width="2.2" fill="none"/>
<path d="M551.8 328.2h2.2M606.0 335.5h2.2M571.9 325.6h2.2M601.2 321.3h2.2M543.0 328.8h2.2M536.3 325.3h2.2M557.9 327.7h2.2M564.9 325.6h2.2M607.5 328.3h2.2M534.5 326.6h2.2M591.5 321.0h2.2M596.2 322.8h2.2M578.0 322.1h2.2M608.1 336.3h2.2M592.7 319.8h2.2M574.5 325.9h2.2M548.4 327.0h2.2M603.0 338.5h2.2M571.0 324.0h2.2M544.0 325.6h2.2M571.7 324.8h2.2M555.9 327.0h2.2M574.3 322.6h2.2M580.8 321.4h2.2M567.9 322.3h2.2M602.3 339.7h2.2M545.0 328.9h2.2M606.3 328.1h2.2M598.0 321.5h2.2M555.8 324.9h2.2M603.1 324.0h2.2M545.6 323.9h2.2M606.1 334.9h2.2M575.0 322.4h2.2M543.9 329.9h2.2M573.8 322.5h2.2M548.0 326.0h2.2M596.8 319.8h2.2M532.7 325.7h2.2M535.7 325.7h2.2M567.7 325.4h2.2M525.3 326.9h2.2M602.8 337.5h2.2M543.5 325.9h2.2M542.9 326.5h2.2M594.7 320.1h2.2M595.6 321.1h2.2M602.1 337.5h2.2M608.7 328.9h2.2M605.4 335.4h2.2M536.0 326.0h2.2M540.5 326.8h2.2M605.1 319.9h2.2M563.0 327.6h2.2M570.3 324.5h2.2M559.4 324.8h2.2M569.3 322.9h2.2M544.7 328.8h2.2M598.2 319.2h2.2M586.6 321.4h2.2M536.1 328.8h2.2M566.1 324.5h2.2M603.1 345.2h2.2M548.1 326.7h2.2M589.4 321.0h2.2M540.2 326.1h2.2M605.9 328.0h2.2M594.5 318.9h2.2M540.1 328.8h2.2M607.4 326.0h2.2M595.8 320.5h2.2M561.1 324.7h2.2M604.7 326.5h2.2M524.4 328.4h2.2M576.5 321.5h2.2M603.5 339.8h2.2M591.0 320.8h2.2M595.7 317.4h2.2M590.7 324.1h2.2M527.3 327.2h2.2M563.1 326.9h2.2M604.7 320.4h2.2M589.3 322.3h2.2M553.3 325.3h2.2M606.0 325.4h2.2M527.9 329.8h2.2M606.2 328.3h2.2M606.1 326.5h2.2M541.2 328.7h2.2M584.4 321.5h2.2M527.4 327.7h2.2M574.7 319.3h2.2M603.7 343.2h2.2M598.1 322.0h2.2M594.4 319.3h2.2M566.5 326.7h2.2M554.1 327.2h2.2M544.9 325.7h2.2M606.3 332.5h2.2M565.6 325.2h2.2M601.3 322.1h2.2M555.7 327.3h2.2M603.0 338.8h2.2M602.6 320.6h2.2M570.2 321.4h2.2M567.7 323.4h2.2M569.2 325.7h2.2M527.2 327.9h2.2M561.5 324.3h2.2M593.7 319.2h2.2M604.2 326.7h2.2M558.8 325.9h2.2M580.4 318.7h2.2M569.4 324.5h2.2M567.2 323.9h2.2M594.3 322.9h2.2M607.0 331.7h2.2M606.8 322.7h2.2M575.0 323.7h2.2M557.4 329.3h2.2M589.9 319.5h2.2M597.9 320.0h2.2M564.3 326.6h2.2M528.8 326.1h2.2M595.0 318.0h2.2M553.5 328.0h2.2M552.2 323.3h2.2M589.3 320.0h2.2M526.4 328.0h2.2M535.6 328.1h2.2M595.4 318.3h2.2M540.5 328.0h2.2M589.1 320.8h2.2M533.8 325.4h2.2M534.2 327.6h2.2M531.6 327.8h2.2M543.0 328.3h2.2M562.4 328.5h2.2M548.6 324.2h2.2M583.1 323.6h2.2M579.9 321.8h2.2M606.5 333.1h2.2M602.4 324.3h2.2M546.4 327.0h2.2M551.9 327.8h2.2M577.4 322.3h2.2M562.0 322.8h2.2M554.9 326.0h2.2M549.5 330.3h2.2M538.8 329.5h2.2M529.0 328.9h2.2M529.1 327.6h2.2M605.2 328.4h2.2M584.9 320.3h2.2M553.5 328.5h2.2M542.7 327.1h2.2M580.0 324.1h2.2M563.7 324.6h2.2M586.1 321.9h2.2M595.6 320.8h2.2M527.2 327.2h2.2M542.7 325.6h2.2M606.5 343.7h2.2M532.8 325.7h2.2M561.4 324.1h2.2M571.2 323.6h2.2M589.2 317.3h2.2M604.5 328.9h2.2M560.8 325.0h2.2M559.2 325.9h2.2M596.6 318.9h2.2M603.9 335.0h2.2M528.9 328.1h2.2M568.6 324.1h2.2M604.2 333.5h2.2M604.7 322.8h2.2M550.2 326.9h2.2M597.2 319.1h2.2M567.3 324.7h2.2M582.8 318.8h2.2M553.3 326.6h2.2M603.1 321.7h2.2M602.7 321.6h2.2M564.6 324.1h2.2M586.9 318.0h2.2M563.1 325.7h2.2M566.7 322.6h2.2M532.7 326.7h2.2M560.4 325.9h2.2M602.4 340.8h2.2M606.3 324.2h2.2M604.5 335.5h2.2M570.5 323.9h2.2M573.4 324.7h2.2M580.5 322.5h2.2M603.3 326.0h2.2M604.0 336.3h2.2M529.8 328.5h2.2M583.2 322.3h2.2M533.7 328.6h2.2M597.8 320.1h2.2M589.9 321.9h2.2M546.7 326.9h2.2M597.8 320.9h2.2M605.0 327.3h2.2M556.6 326.8h2.2M558.2 323.5h2.2M568.7 324.2h2.2M592.4 322.2h2.2M597.4 318.4h2.2M593.6 318.4h2.2M595.0 320.5h2.2M591.7 320.0h2.2M599.2 320.4h2.2M594.7 318.2h2.2M603.9 324.3h2.2M602.6 324.6h2.2M603.2 320.3h2.2M557.0 326.6h2.2M543.3 330.6h2.2" stroke="#eb6608" stroke-width="2.2" fill="none"/>
<path d="M605.3 322.4h2.2M605.7 332.9h2.2M605.0 332.7h2.2M606.6 328.9h2.2M606.4 341.4h2.2M606.6 328.0h2.2M604.8 324.2h2.2M607.5 337.6h2.2M603.3 320.4h2.2M606.8 336.2h2.2M606.3 330.2h2.2M604.9 341.6h2.2M604.6 321.2h2.2M607.7 338.7h2.2" stroke="#0a3f64" stroke-width="2.2" fill="none"/>
<line x1="439.50" y1="459.50" x2="683.50" y2="297.62" stroke="#3a3a3a" stroke-width="1.05"/>
<path d="M439.5 459.5v-2.6M439.5 274.5v2.6M509.5 459.5v-2.6M509.5 274.5v2.6M578.5 459.5v-2.6M578.5 274.5v2.6M648.5 459.5v-2.6M648.5 274.5v2.6M439.5 459.5h2.6M683.5 459.5h-2.6M439.5 413.5h2.6M683.5 413.5h-2.6M439.5 366.5h2.6M683.5 366.5h-2.6M439.5 320.5h2.6M683.5 320.5h-2.6M439.5 274.5h2.6M683.5 274.5h-2.6" stroke="#8a8a8a" stroke-width="1.3" fill="none"/>
<rect x="439.5" y="274.5" width="244.0" height="185.0" fill="none" stroke="#8a8a8a" stroke-width="1.5"/>
<text transform="translate(439.5,477.4) scale(1,1.06)" text-anchor="middle" font-size="13.6" fill="#303030">20</text>
<text transform="translate(509.2,477.4) scale(1,1.06)" text-anchor="middle" font-size="13.6" fill="#303030">40</text>
<text transform="translate(578.9,477.4) scale(1,1.06)" text-anchor="middle" font-size="13.6" fill="#303030">60</text>
<text transform="translate(648.6,477.4) scale(1,1.06)" text-anchor="middle" font-size="13.6" fill="#303030">80</text>
<text transform="translate(434.3,465.1) scale(1,1.06)" text-anchor="end" font-size="13.6" fill="#303030">20</text>
<text transform="translate(434.3,418.9) scale(1,1.06)" text-anchor="end" font-size="13.6" fill="#303030">40</text>
<text transform="translate(434.3,372.6) scale(1,1.06)" text-anchor="end" font-size="13.6" fill="#303030">60</text>
<text transform="translate(434.3,326.4) scale(1,1.06)" text-anchor="end" font-size="13.6" fill="#303030">80</text>
<text transform="translate(434.3,280.1) scale(1,1.06)" text-anchor="end" font-size="13.6" fill="#303030">100</text>
<text x="561.5" y="496.3" text-anchor="middle" font-size="15.45" fill="#303030">Return Temperature in °C</text>
<text transform="translate(406.3,367.0) rotate(-90)" text-anchor="middle" font-size="15.55" fill="#303030">Supply Temperature in °C</text>
<text x="47.6" y="16.3" font-size="16.6" font-weight="bold" fill="#000">a<tspan dx="1.5">)</tspan></text>
<text x="376.0" y="16.3" font-size="16.6" font-weight="bold" fill="#000">b<tspan dx="1.5">)</tspan></text>
<text x="50.9" y="263.0" font-size="16.6" font-weight="bold" fill="#000">c<tspan dx="1.5">)</tspan></text>
<text x="379.7" y="263.8" font-size="16.6" font-weight="bold" fill="#000">d<tspan dx="1.5">)</tspan></text>
<text transform="translate(12.6,117.6) rotate(-90)" text-anchor="middle" font-size="15.6" font-weight="bold" fill="#000">Centrally situated</text>
<text transform="translate(32.8,117.6) rotate(-90)" text-anchor="middle" font-size="15.6" font-weight="bold" fill="#000">building</text>
<text transform="translate(12.6,361.0) rotate(-90)" text-anchor="middle" font-size="15.6" font-weight="bold" fill="#000">Remotely situated</text>
<text transform="translate(32.8,361.0) rotate(-90)" text-anchor="middle" font-size="15.6" font-weight="bold" fill="#000">building</text>
<text x="147" y="201.8" font-size="14.1" fill="#6aaabf">Advantageous</text>
<text x="241.8" y="201.8" font-size="14.3" fill="#b83a33">Disadvantageous</text>
<path d="M237.3 210.5H202" stroke="#6aaabf" stroke-width="2"/>
<path d="M194.3 210.5L203.5 206.5V214.5Z" fill="#6aaabf"/>
<path d="M237.3 210.5H271" stroke="#b83a33" stroke-width="2"/>
<path d="M279 210.5L269.8 206.5V214.5Z" fill="#b83a33"/>
<path d="M237.3 203V216.5" stroke="#333" stroke-width="1.1"/>
<text x="118.5" y="290.4" font-size="14.2" fill="#808080">Summer: 1<tspan font-size="9" dy="-5">st</tspan><tspan dy="5"> June to 15</tspan><tspan font-size="9" dy="-5">th</tspan><tspan dy="5"> September;</tspan></text>
<text x="118.5" y="306.8" font-size="14.2" fill="#808080">hot drinking water demand, only</text>
<rect x="207.5" y="411.3" width="148" height="47.2" fill="#fff" stroke="#7a7a7a" stroke-width="1.3"/>
<text x="234.8" y="424.8" font-size="12.85" fill="#111">Heating period</text>
<text x="234.8" y="439.6" font-size="12.85" fill="#111">Summer</text>
<text x="234.8" y="454.6" font-size="12.85" fill="#111">Supply T. = Return T.</text>
<rect x="220" y="419" width="2" height="2" fill="#000"/>
<path d="M219 433.5l4 4m0 -4l-4 4" stroke="#8c8c8c" stroke-width="0.9"/>
<path d="M209.8 450.5H232.5" stroke="#333" stroke-width="1"/>
<rect x="524.5" y="397.7" width="159" height="61.8" fill="#fff" stroke="#7a7a7a" stroke-width="1.3"/>
<text x="552" y="409.8" font-size="12.5" fill="#000">Dynamic Cooling Down</text>
<text x="552" y="425" font-size="12.5" fill="#000">Stationary Heat Supply</text>
<text x="552" y="440" font-size="12.5" fill="#000">Dynamic Restarting</text>
<text x="552" y="455" font-size="12.5" fill="#000">Supply T. = Return T.</text>
<circle cx="538" cy="405" r="3.8" fill="#0a3f64"/>
<circle cx="538" cy="420.5" r="3.8" fill="#b0b0b0"/>
<circle cx="538" cy="435.8" r="3.8" fill="#eb6608"/>
<path d="M527.2 451.4H550" stroke="#333" stroke-width="1"/>
</svg>
</body></html>
